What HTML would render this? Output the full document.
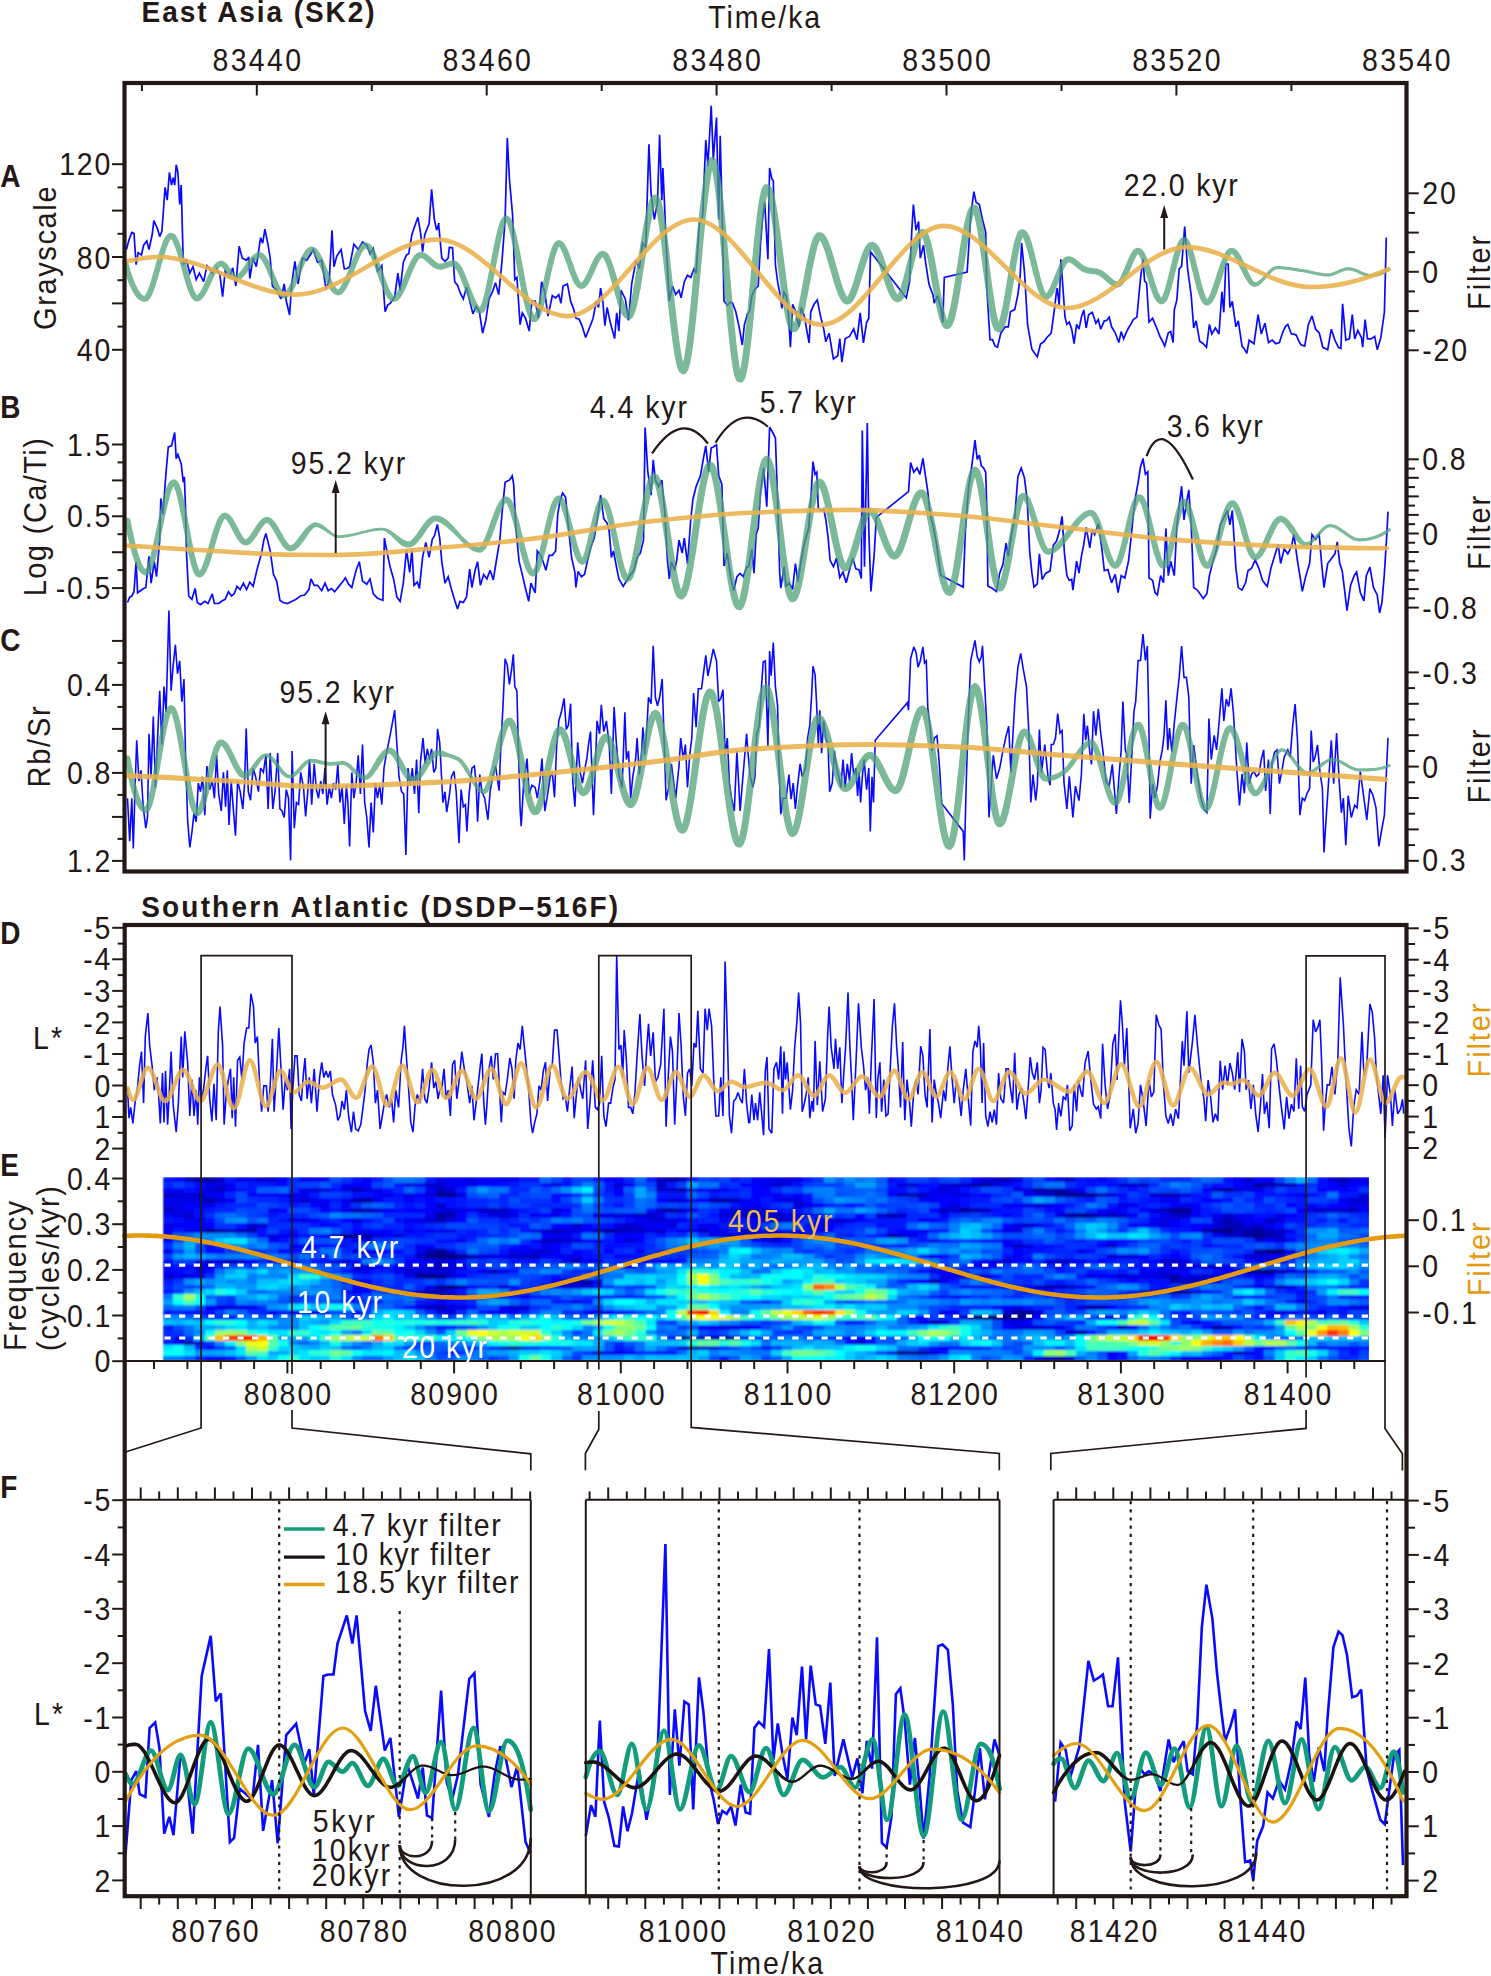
<!DOCTYPE html>
<html><head><meta charset="utf-8"><style>html,body{margin:0;padding:0;background:#fff;overflow:hidden;}svg{display:block;font-family:"Liberation Sans", sans-serif;}</style></head><body>
<svg width="1491" height="1976" viewBox="0 0 1491 1976" font-family='"Liberation Sans", sans-serif'>
<rect width="1491" height="1976" fill="#ffffff"/>
<defs><clipPath id="spc"><rect x="162.5" y="1177" width="1206.5" height="183.5"/></clipPath><filter id="spb" x="-2%" y="-5%" width="104%" height="110%"><feGaussianBlur stdDeviation="1.3 0.9"/></filter></defs>
<g clip-path="url(#spc)"><g filter="url(#spb)" shape-rendering="crispEdges">
<path fill="#00007f" d="M1064.8 1192.3h11v5.6h-11zM1075.2 1192.3h11v5.6h-11zM1211.6 1228h11v5.6h-11zM1222.1 1228h11v5.6h-11zM340.9 1233.1h11v5.6h-11zM351.3 1233.1h11v5.6h-11zM771 1233.1h11v5.6h-11zM1264.1 1248.4h11v5.6h-11zM1274.6 1248.4h11v5.6h-11zM435.3 1253.5h11v5.6h-11zM445.8 1253.5h11v5.6h-11zM445.8 1284h11v5.6h-11zM1169.7 1289.1h11v5.6h-11zM970.3 1314.6h11v5.6h-11zM980.8 1314.6h11v5.6h-11zM991.3 1314.6h11v5.6h-11zM1001.8 1314.6h11v5.6h-11zM1012.3 1314.6h11v5.6h-11zM676.6 1335h11v5.6h-11zM718.5 1335h11v5.6h-11zM896.9 1350.3h11v5.6h-11z"/>
<path fill="#00008c" d="M194 1177h11v5.6h-11zM1253.6 1182.1h11v5.6h-11zM435.3 1192.3h11v5.6h-11zM445.8 1192.3h11v5.6h-11zM1054.3 1192.3h11v5.6h-11zM1085.7 1192.3h11v5.6h-11zM1169.7 1207.6h11v5.6h-11zM1075.2 1212.7h11v5.6h-11zM204.5 1228h11v5.6h-11zM603.1 1228h11v5.6h-11zM1253.6 1233.1h11v5.6h-11zM435.3 1248.4h11v5.6h-11zM424.8 1253.5h11v5.6h-11zM1253.6 1268.8h11v5.6h-11zM1264.1 1268.8h11v5.6h-11zM424.8 1273.8h11v5.6h-11zM508.7 1345.2h11v5.6h-11z"/>
<path fill="#000099" d="M204.5 1177h11v5.6h-11zM1222.1 1187.2h11v5.6h-11zM361.8 1197.4h11v5.6h-11zM959.8 1207.6h11v5.6h-11zM1180.2 1207.6h11v5.6h-11zM1253.6 1228h11v5.6h-11zM456.3 1253.5h11v5.6h-11zM435.3 1273.8h11v5.6h-11zM435.3 1284h11v5.6h-11zM424.8 1289.1h11v5.6h-11zM1148.7 1289.1h11v5.6h-11zM1012.3 1309.5h11v5.6h-11zM1022.8 1309.5h11v5.6h-11zM729 1335h11v5.6h-11zM687.1 1345.2h11v5.6h-11zM907.4 1350.3h11v5.6h-11zM917.9 1350.3h11v5.6h-11z"/>
<path fill="#0000a5" d="M666.1 1177h11v5.6h-11zM970.3 1182.1h11v5.6h-11zM980.8 1182.1h11v5.6h-11zM1264.1 1182.1h11v5.6h-11zM351.3 1187.2h11v5.6h-11zM676.6 1187.2h11v5.6h-11zM1033.3 1187.2h11v5.6h-11zM1054.3 1187.2h11v5.6h-11zM907.4 1192.3h11v5.6h-11zM204.5 1197.4h11v5.6h-11zM351.3 1197.4h11v5.6h-11zM666.1 1207.6h11v5.6h-11zM435.3 1212.7h11v5.6h-11zM445.8 1212.7h11v5.6h-11zM1064.8 1212.7h11v5.6h-11zM1085.7 1212.7h11v5.6h-11zM215 1228h11v5.6h-11zM246.4 1228h11v5.6h-11zM1201.1 1228h11v5.6h-11zM1243.1 1228h11v5.6h-11zM361.8 1233.1h11v5.6h-11zM781.5 1233.1h11v5.6h-11zM886.4 1233.1h11v5.6h-11zM1243.1 1233.1h11v5.6h-11zM1264.1 1233.1h11v5.6h-11zM1253.6 1248.4h11v5.6h-11zM1243.1 1268.8h11v5.6h-11zM414.3 1273.8h11v5.6h-11zM1169.7 1273.8h11v5.6h-11zM571.7 1278.9h11v5.6h-11zM1043.8 1284h11v5.6h-11zM1159.2 1289.1h11v5.6h-11zM1180.2 1289.1h11v5.6h-11zM183.5 1340.1h11v5.6h-11zM1054.3 1355.4h11v5.6h-11z"/>
<path fill="#0000b2" d="M676.6 1177h11v5.6h-11zM1001.8 1177h11v5.6h-11zM1337.5 1177h11v5.6h-11zM1285.1 1182.1h11v5.6h-11zM215 1187.2h11v5.6h-11zM1043.8 1187.2h11v5.6h-11zM162.5 1192.3h11v5.6h-11zM1159.2 1192.3h11v5.6h-11zM1169.7 1192.3h11v5.6h-11zM708 1197.4h11v5.6h-11zM718.5 1197.4h11v5.6h-11zM351.3 1207.6h11v5.6h-11zM361.8 1207.6h11v5.6h-11zM970.3 1207.6h11v5.6h-11zM771 1212.7h11v5.6h-11zM886.4 1212.7h11v5.6h-11zM435.3 1217.8h11v5.6h-11zM1222.1 1217.8h11v5.6h-11zM1222.1 1222.9h11v5.6h-11zM613.6 1228h11v5.6h-11zM1232.6 1228h11v5.6h-11zM330.4 1233.1h11v5.6h-11zM540.2 1238.2h11v5.6h-11zM424.8 1248.4h11v5.6h-11zM351.3 1263.7h11v5.6h-11zM435.3 1263.7h11v5.6h-11zM582.2 1278.9h11v5.6h-11zM928.4 1278.9h11v5.6h-11zM456.3 1284h11v5.6h-11zM435.3 1289.1h11v5.6h-11zM435.3 1304.4h11v5.6h-11zM1085.7 1304.4h11v5.6h-11zM1096.2 1304.4h11v5.6h-11zM1022.8 1314.6h11v5.6h-11zM1211.6 1324.8h11v5.6h-11zM1075.2 1329.9h11v5.6h-11zM708 1335h11v5.6h-11zM1043.8 1355.4h11v5.6h-11z"/>
<path fill="#0000bf" d="M183.5 1177h11v5.6h-11zM655.6 1177h11v5.6h-11zM1064.8 1177h11v5.6h-11zM1274.6 1182.1h11v5.6h-11zM435.3 1187.2h11v5.6h-11zM666.1 1187.2h11v5.6h-11zM1211.6 1187.2h11v5.6h-11zM194 1192.3h11v5.6h-11zM896.9 1192.3h11v5.6h-11zM917.9 1192.3h11v5.6h-11zM1043.8 1192.3h11v5.6h-11zM1096.2 1192.3h11v5.6h-11zM729 1197.4h11v5.6h-11zM162.5 1207.6h11v5.6h-11zM487.7 1207.6h11v5.6h-11zM498.2 1207.6h11v5.6h-11zM655.6 1207.6h11v5.6h-11zM739.5 1207.6h11v5.6h-11zM938.9 1207.6h11v5.6h-11zM1159.2 1207.6h11v5.6h-11zM1348 1207.6h11v5.6h-11zM634.6 1212.7h11v5.6h-11zM750 1212.7h11v5.6h-11zM1106.7 1212.7h11v5.6h-11zM1180.2 1212.7h11v5.6h-11zM771 1217.8h11v5.6h-11zM1264.1 1217.8h11v5.6h-11zM1232.6 1222.9h11v5.6h-11zM1253.6 1222.9h11v5.6h-11zM225.4 1228h11v5.6h-11zM235.9 1228h11v5.6h-11zM550.7 1228h11v5.6h-11zM592.6 1228h11v5.6h-11zM624.1 1228h11v5.6h-11zM697.6 1228h11v5.6h-11zM739.5 1228h11v5.6h-11zM1264.1 1228h11v5.6h-11zM1274.6 1228h11v5.6h-11zM760.5 1233.1h11v5.6h-11zM896.9 1233.1h11v5.6h-11zM1222.1 1233.1h11v5.6h-11zM1012.3 1243.3h11v5.6h-11zM414.3 1253.5h11v5.6h-11zM466.7 1253.5h11v5.6h-11zM529.7 1253.5h11v5.6h-11zM225.4 1258.6h11v5.6h-11zM571.7 1258.6h11v5.6h-11zM1054.3 1258.6h11v5.6h-11zM1211.6 1263.7h11v5.6h-11zM487.7 1268.8h11v5.6h-11zM1274.6 1268.8h11v5.6h-11zM959.8 1273.8h11v5.6h-11zM1169.7 1278.9h11v5.6h-11zM1180.2 1278.9h11v5.6h-11zM1190.6 1278.9h11v5.6h-11zM1054.3 1284h11v5.6h-11zM1064.8 1284h11v5.6h-11zM1274.6 1284h11v5.6h-11zM1138.2 1289.1h11v5.6h-11zM959.8 1314.6h11v5.6h-11zM928.4 1319.7h11v5.6h-11zM1117.2 1324.8h11v5.6h-11zM687.1 1335h11v5.6h-11zM697.6 1335h11v5.6h-11zM697.6 1345.2h11v5.6h-11zM592.6 1350.3h11v5.6h-11zM1232.6 1350.3h11v5.6h-11z"/>
<path fill="#0000cc" d="M215 1177h11v5.6h-11zM256.9 1177h11v5.6h-11zM267.4 1177h11v5.6h-11zM991.3 1177h11v5.6h-11zM1243.1 1177h11v5.6h-11zM1327 1177h11v5.6h-11zM424.8 1182.1h11v5.6h-11zM435.3 1182.1h11v5.6h-11zM613.6 1182.1h11v5.6h-11zM655.6 1182.1h11v5.6h-11zM771 1182.1h11v5.6h-11zM907.4 1182.1h11v5.6h-11zM949.3 1182.1h11v5.6h-11zM959.8 1182.1h11v5.6h-11zM1117.2 1182.1h11v5.6h-11zM1127.7 1182.1h11v5.6h-11zM1138.2 1182.1h11v5.6h-11zM204.5 1187.2h11v5.6h-11zM309.4 1187.2h11v5.6h-11zM445.8 1187.2h11v5.6h-11zM655.6 1187.2h11v5.6h-11zM1064.8 1187.2h11v5.6h-11zM1232.6 1187.2h11v5.6h-11zM173 1192.3h11v5.6h-11zM1148.7 1192.3h11v5.6h-11zM298.9 1197.4h11v5.6h-11zM1348 1197.4h11v5.6h-11zM1358.5 1197.4h11v5.6h-11zM435.3 1202.5h11v5.6h-11zM1033.3 1202.5h11v5.6h-11zM372.3 1207.6h11v5.6h-11zM477.2 1207.6h11v5.6h-11zM676.6 1207.6h11v5.6h-11zM750 1207.6h11v5.6h-11zM760.5 1207.6h11v5.6h-11zM980.8 1207.6h11v5.6h-11zM1306.1 1207.6h11v5.6h-11zM1316.5 1207.6h11v5.6h-11zM1327 1207.6h11v5.6h-11zM1337.5 1207.6h11v5.6h-11zM183.5 1212.7h11v5.6h-11zM645.1 1212.7h11v5.6h-11zM739.5 1212.7h11v5.6h-11zM760.5 1212.7h11v5.6h-11zM875.9 1212.7h11v5.6h-11zM896.9 1212.7h11v5.6h-11zM1096.2 1212.7h11v5.6h-11zM1117.2 1212.7h11v5.6h-11zM1169.7 1212.7h11v5.6h-11zM1222.1 1212.7h11v5.6h-11zM424.8 1217.8h11v5.6h-11zM833.9 1217.8h11v5.6h-11zM1232.6 1217.8h11v5.6h-11zM246.4 1222.9h11v5.6h-11zM571.7 1222.9h11v5.6h-11zM624.1 1222.9h11v5.6h-11zM1022.8 1222.9h11v5.6h-11zM540.2 1228h11v5.6h-11zM561.2 1228h11v5.6h-11zM634.6 1228h11v5.6h-11zM655.6 1228h11v5.6h-11zM718.5 1233.1h11v5.6h-11zM750 1233.1h11v5.6h-11zM1232.6 1233.1h11v5.6h-11zM1274.6 1233.1h11v5.6h-11zM550.7 1238.2h11v5.6h-11zM561.2 1238.2h11v5.6h-11zM624.1 1238.2h11v5.6h-11zM1106.7 1243.3h11v5.6h-11zM508.7 1253.5h11v5.6h-11zM519.2 1253.5h11v5.6h-11zM204.5 1258.6h11v5.6h-11zM435.3 1258.6h11v5.6h-11zM1001.8 1258.6h11v5.6h-11zM1159.2 1258.6h11v5.6h-11zM1169.7 1258.6h11v5.6h-11zM1264.1 1258.6h11v5.6h-11zM1274.6 1258.6h11v5.6h-11zM1169.7 1263.7h11v5.6h-11zM403.8 1268.8h11v5.6h-11zM414.3 1268.8h11v5.6h-11zM1232.6 1268.8h11v5.6h-11zM162.5 1273.8h11v5.6h-11zM1117.2 1273.8h11v5.6h-11zM1159.2 1273.8h11v5.6h-11zM1201.1 1273.8h11v5.6h-11zM1211.6 1273.8h11v5.6h-11zM498.2 1284h11v5.6h-11zM1033.3 1284h11v5.6h-11zM414.3 1289.1h11v5.6h-11zM424.8 1304.4h11v5.6h-11zM508.7 1304.4h11v5.6h-11zM1001.8 1309.5h11v5.6h-11zM1222.1 1324.8h11v5.6h-11zM1064.8 1329.9h11v5.6h-11zM854.9 1340.1h11v5.6h-11zM498.2 1345.2h11v5.6h-11zM1064.8 1355.4h11v5.6h-11z"/>
<path fill="#0000d8" d="M781.5 1177h11v5.6h-11zM980.8 1177h11v5.6h-11zM1012.3 1177h11v5.6h-11zM1054.3 1177h11v5.6h-11zM1348 1177h11v5.6h-11zM215 1182.1h11v5.6h-11zM403.8 1182.1h11v5.6h-11zM550.7 1182.1h11v5.6h-11zM896.9 1182.1h11v5.6h-11zM938.9 1182.1h11v5.6h-11zM991.3 1182.1h11v5.6h-11zM1337.5 1182.1h11v5.6h-11zM319.9 1187.2h11v5.6h-11zM340.9 1187.2h11v5.6h-11zM361.8 1187.2h11v5.6h-11zM938.9 1187.2h11v5.6h-11zM1012.3 1187.2h11v5.6h-11zM1022.8 1187.2h11v5.6h-11zM424.8 1192.3h11v5.6h-11zM456.3 1192.3h11v5.6h-11zM1033.3 1192.3h11v5.6h-11zM1106.7 1192.3h11v5.6h-11zM1180.2 1192.3h11v5.6h-11zM1358.5 1192.3h11v5.6h-11zM194 1197.4h11v5.6h-11zM215 1197.4h11v5.6h-11zM666.1 1197.4h11v5.6h-11zM676.6 1197.4h11v5.6h-11zM781.5 1197.4h11v5.6h-11zM792 1197.4h11v5.6h-11zM792 1202.5h11v5.6h-11zM949.3 1202.5h11v5.6h-11zM445.8 1207.6h11v5.6h-11zM729 1207.6h11v5.6h-11zM949.3 1207.6h11v5.6h-11zM1148.7 1207.6h11v5.6h-11zM498.2 1212.7h11v5.6h-11zM613.6 1212.7h11v5.6h-11zM718.5 1212.7h11v5.6h-11zM729 1212.7h11v5.6h-11zM1054.3 1212.7h11v5.6h-11zM351.3 1217.8h11v5.6h-11zM645.1 1217.8h11v5.6h-11zM655.6 1217.8h11v5.6h-11zM781.5 1217.8h11v5.6h-11zM1159.2 1217.8h11v5.6h-11zM1211.6 1217.8h11v5.6h-11zM1274.6 1217.8h11v5.6h-11zM256.9 1222.9h11v5.6h-11zM613.6 1222.9h11v5.6h-11zM634.6 1222.9h11v5.6h-11zM666.1 1222.9h11v5.6h-11zM1211.6 1222.9h11v5.6h-11zM1243.1 1222.9h11v5.6h-11zM194 1228h11v5.6h-11zM645.1 1228h11v5.6h-11zM267.4 1233.1h11v5.6h-11zM372.3 1233.1h11v5.6h-11zM393.3 1233.1h11v5.6h-11zM729 1233.1h11v5.6h-11zM361.8 1238.2h11v5.6h-11zM571.7 1238.2h11v5.6h-11zM771 1238.2h11v5.6h-11zM1253.6 1238.2h11v5.6h-11zM1274.6 1238.2h11v5.6h-11zM1022.8 1243.3h11v5.6h-11zM351.3 1248.4h11v5.6h-11zM445.8 1248.4h11v5.6h-11zM529.7 1248.4h11v5.6h-11zM540.2 1248.4h11v5.6h-11zM477.2 1253.5h11v5.6h-11zM1106.7 1253.5h11v5.6h-11zM1127.7 1253.5h11v5.6h-11zM1243.1 1253.5h11v5.6h-11zM1253.6 1253.5h11v5.6h-11zM235.9 1258.6h11v5.6h-11zM340.9 1258.6h11v5.6h-11zM561.2 1258.6h11v5.6h-11zM991.3 1258.6h11v5.6h-11zM1043.8 1258.6h11v5.6h-11zM1064.8 1258.6h11v5.6h-11zM361.8 1263.7h11v5.6h-11zM424.8 1263.7h11v5.6h-11zM445.8 1263.7h11v5.6h-11zM1180.2 1263.7h11v5.6h-11zM1201.1 1263.7h11v5.6h-11zM424.8 1268.8h11v5.6h-11zM435.3 1268.8h11v5.6h-11zM445.8 1268.8h11v5.6h-11zM1285.1 1268.8h11v5.6h-11zM445.8 1273.8h11v5.6h-11zM970.3 1273.8h11v5.6h-11zM980.8 1273.8h11v5.6h-11zM1127.7 1273.8h11v5.6h-11zM1190.6 1273.8h11v5.6h-11zM351.3 1278.9h11v5.6h-11zM561.2 1278.9h11v5.6h-11zM1201.1 1278.9h11v5.6h-11zM561.2 1284h11v5.6h-11zM571.7 1284h11v5.6h-11zM582.2 1284h11v5.6h-11zM1264.1 1284h11v5.6h-11zM1285.1 1284h11v5.6h-11zM1190.6 1289.1h11v5.6h-11zM445.8 1294.2h11v5.6h-11zM225.4 1304.4h11v5.6h-11zM519.2 1304.4h11v5.6h-11zM1075.2 1304.4h11v5.6h-11zM1348 1304.4h11v5.6h-11zM445.8 1309.5h11v5.6h-11zM1033.3 1309.5h11v5.6h-11zM938.9 1319.7h11v5.6h-11zM718.5 1324.8h11v5.6h-11zM1022.8 1324.8h11v5.6h-11zM1033.3 1324.8h11v5.6h-11zM676.6 1345.2h11v5.6h-11zM708 1345.2h11v5.6h-11zM886.4 1350.3h11v5.6h-11zM928.4 1350.3h11v5.6h-11zM1033.3 1355.4h11v5.6h-11z"/>
<path fill="#0000e5" d="M235.9 1177h11v5.6h-11zM246.4 1177h11v5.6h-11zM319.9 1177h11v5.6h-11zM435.3 1177h11v5.6h-11zM466.7 1177h11v5.6h-11zM498.2 1177h11v5.6h-11zM508.7 1177h11v5.6h-11zM771 1177h11v5.6h-11zM792 1177h11v5.6h-11zM204.5 1182.1h11v5.6h-11zM414.3 1182.1h11v5.6h-11zM466.7 1182.1h11v5.6h-11zM760.5 1182.1h11v5.6h-11zM781.5 1182.1h11v5.6h-11zM1243.1 1182.1h11v5.6h-11zM298.9 1187.2h11v5.6h-11zM372.3 1187.2h11v5.6h-11zM708 1187.2h11v5.6h-11zM949.3 1187.2h11v5.6h-11zM1243.1 1187.2h11v5.6h-11zM1253.6 1187.2h11v5.6h-11zM183.5 1192.3h11v5.6h-11zM288.4 1192.3h11v5.6h-11zM382.8 1192.3h11v5.6h-11zM403.8 1192.3h11v5.6h-11zM928.4 1192.3h11v5.6h-11zM949.3 1192.3h11v5.6h-11zM959.8 1192.3h11v5.6h-11zM173 1197.4h11v5.6h-11zM183.5 1197.4h11v5.6h-11zM340.9 1197.4h11v5.6h-11zM372.3 1197.4h11v5.6h-11zM162.5 1202.5h11v5.6h-11zM173 1202.5h11v5.6h-11zM319.9 1202.5h11v5.6h-11zM802.5 1202.5h11v5.6h-11zM1022.8 1202.5h11v5.6h-11zM1043.8 1202.5h11v5.6h-11zM1117.2 1202.5h11v5.6h-11zM1180.2 1202.5h11v5.6h-11zM1348 1202.5h11v5.6h-11zM173 1207.6h11v5.6h-11zM267.4 1207.6h11v5.6h-11zM435.3 1207.6h11v5.6h-11zM456.3 1207.6h11v5.6h-11zM550.7 1207.6h11v5.6h-11zM173 1212.7h11v5.6h-11zM487.7 1212.7h11v5.6h-11zM508.7 1212.7h11v5.6h-11zM592.6 1212.7h11v5.6h-11zM603.1 1212.7h11v5.6h-11zM624.1 1212.7h11v5.6h-11zM655.6 1212.7h11v5.6h-11zM781.5 1212.7h11v5.6h-11zM1274.6 1212.7h11v5.6h-11zM298.9 1217.8h11v5.6h-11zM414.3 1217.8h11v5.6h-11zM445.8 1217.8h11v5.6h-11zM666.1 1217.8h11v5.6h-11zM760.5 1217.8h11v5.6h-11zM823.5 1217.8h11v5.6h-11zM844.4 1217.8h11v5.6h-11zM162.5 1222.9h11v5.6h-11zM1012.3 1222.9h11v5.6h-11zM1159.2 1222.9h11v5.6h-11zM183.5 1228h11v5.6h-11zM435.3 1228h11v5.6h-11zM445.8 1228h11v5.6h-11zM529.7 1228h11v5.6h-11zM571.7 1228h11v5.6h-11zM750 1228h11v5.6h-11zM917.9 1228h11v5.6h-11zM1001.8 1228h11v5.6h-11zM1012.3 1228h11v5.6h-11zM1285.1 1228h11v5.6h-11zM550.7 1233.1h11v5.6h-11zM708 1233.1h11v5.6h-11zM739.5 1233.1h11v5.6h-11zM792 1233.1h11v5.6h-11zM907.4 1233.1h11v5.6h-11zM760.5 1238.2h11v5.6h-11zM928.4 1238.2h11v5.6h-11zM298.9 1243.3h11v5.6h-11zM361.8 1248.4h11v5.6h-11zM372.3 1248.4h11v5.6h-11zM1285.1 1248.4h11v5.6h-11zM487.7 1253.5h11v5.6h-11zM498.2 1253.5h11v5.6h-11zM571.7 1253.5h11v5.6h-11zM1117.2 1253.5h11v5.6h-11zM215 1258.6h11v5.6h-11zM330.4 1258.6h11v5.6h-11zM445.8 1258.6h11v5.6h-11zM1180.2 1258.6h11v5.6h-11zM1253.6 1258.6h11v5.6h-11zM204.5 1263.7h11v5.6h-11zM1159.2 1263.7h11v5.6h-11zM1190.6 1263.7h11v5.6h-11zM194 1268.8h11v5.6h-11zM498.2 1268.8h11v5.6h-11zM928.4 1268.8h11v5.6h-11zM1159.2 1268.8h11v5.6h-11zM173 1273.8h11v5.6h-11zM183.5 1273.8h11v5.6h-11zM1085.7 1273.8h11v5.6h-11zM1138.2 1273.8h11v5.6h-11zM1148.7 1273.8h11v5.6h-11zM1180.2 1273.8h11v5.6h-11zM938.9 1278.9h11v5.6h-11zM351.3 1289.1h11v5.6h-11zM445.8 1289.1h11v5.6h-11zM435.3 1294.2h11v5.6h-11zM571.7 1299.3h11v5.6h-11zM215 1304.4h11v5.6h-11zM235.9 1304.4h11v5.6h-11zM414.3 1304.4h11v5.6h-11zM445.8 1304.4h11v5.6h-11zM456.3 1304.4h11v5.6h-11zM1012.3 1304.4h11v5.6h-11zM1358.5 1304.4h11v5.6h-11zM435.3 1309.5h11v5.6h-11zM1274.6 1309.5h11v5.6h-11zM1106.7 1314.6h11v5.6h-11zM1012.3 1319.7h11v5.6h-11zM729 1324.8h11v5.6h-11zM739.5 1324.8h11v5.6h-11zM1012.3 1324.8h11v5.6h-11zM1043.8 1324.8h11v5.6h-11zM1054.3 1324.8h11v5.6h-11zM739.5 1335h11v5.6h-11zM194 1340.1h11v5.6h-11zM519.2 1345.2h11v5.6h-11zM613.6 1350.3h11v5.6h-11zM1243.1 1350.3h11v5.6h-11zM215 1355.4h11v5.6h-11zM1190.6 1355.4h11v5.6h-11z"/>
<path fill="#0000f2" d="M298.9 1177h11v5.6h-11zM309.4 1177h11v5.6h-11zM361.8 1177h11v5.6h-11zM445.8 1177h11v5.6h-11zM456.3 1177h11v5.6h-11zM477.2 1177h11v5.6h-11zM760.5 1177h11v5.6h-11zM1232.6 1177h11v5.6h-11zM1264.1 1177h11v5.6h-11zM1358.5 1177h11v5.6h-11zM225.4 1182.1h11v5.6h-11zM340.9 1182.1h11v5.6h-11zM445.8 1182.1h11v5.6h-11zM456.3 1182.1h11v5.6h-11zM1001.8 1182.1h11v5.6h-11zM173 1187.2h11v5.6h-11zM225.4 1187.2h11v5.6h-11zM424.8 1187.2h11v5.6h-11zM613.6 1187.2h11v5.6h-11zM687.1 1187.2h11v5.6h-11zM697.6 1187.2h11v5.6h-11zM718.5 1187.2h11v5.6h-11zM928.4 1187.2h11v5.6h-11zM1075.2 1187.2h11v5.6h-11zM1201.1 1187.2h11v5.6h-11zM204.5 1192.3h11v5.6h-11zM246.4 1192.3h11v5.6h-11zM267.4 1192.3h11v5.6h-11zM277.9 1192.3h11v5.6h-11zM298.9 1192.3h11v5.6h-11zM771 1192.3h11v5.6h-11zM938.9 1192.3h11v5.6h-11zM980.8 1192.3h11v5.6h-11zM1022.8 1192.3h11v5.6h-11zM1295.6 1192.3h11v5.6h-11zM162.5 1197.4h11v5.6h-11zM225.4 1197.4h11v5.6h-11zM288.4 1197.4h11v5.6h-11zM309.4 1197.4h11v5.6h-11zM403.8 1197.4h11v5.6h-11zM739.5 1197.4h11v5.6h-11zM771 1197.4h11v5.6h-11zM917.9 1197.4h11v5.6h-11zM928.4 1197.4h11v5.6h-11zM1159.2 1197.4h11v5.6h-11zM1169.7 1197.4h11v5.6h-11zM1337.5 1197.4h11v5.6h-11zM204.5 1202.5h11v5.6h-11zM340.9 1202.5h11v5.6h-11zM750 1202.5h11v5.6h-11zM1001.8 1202.5h11v5.6h-11zM1127.7 1202.5h11v5.6h-11zM1169.7 1202.5h11v5.6h-11zM1190.6 1202.5h11v5.6h-11zM1358.5 1202.5h11v5.6h-11zM183.5 1207.6h11v5.6h-11zM340.9 1207.6h11v5.6h-11zM414.3 1207.6h11v5.6h-11zM424.8 1207.6h11v5.6h-11zM466.7 1207.6h11v5.6h-11zM718.5 1207.6h11v5.6h-11zM1106.7 1207.6h11v5.6h-11zM1190.6 1207.6h11v5.6h-11zM1358.5 1207.6h11v5.6h-11zM424.8 1212.7h11v5.6h-11zM529.7 1212.7h11v5.6h-11zM550.7 1212.7h11v5.6h-11zM792 1212.7h11v5.6h-11zM938.9 1212.7h11v5.6h-11zM1159.2 1212.7h11v5.6h-11zM1190.6 1212.7h11v5.6h-11zM1211.6 1212.7h11v5.6h-11zM1232.6 1212.7h11v5.6h-11zM1243.1 1212.7h11v5.6h-11zM1285.1 1212.7h11v5.6h-11zM183.5 1217.8h11v5.6h-11zM194 1217.8h11v5.6h-11zM288.4 1217.8h11v5.6h-11zM403.8 1217.8h11v5.6h-11zM676.6 1217.8h11v5.6h-11zM792 1217.8h11v5.6h-11zM1148.7 1217.8h11v5.6h-11zM1169.7 1217.8h11v5.6h-11zM1243.1 1217.8h11v5.6h-11zM173 1222.9h11v5.6h-11zM645.1 1222.9h11v5.6h-11zM697.6 1222.9h11v5.6h-11zM708 1222.9h11v5.6h-11zM813 1222.9h11v5.6h-11zM823.5 1222.9h11v5.6h-11zM1033.3 1222.9h11v5.6h-11zM1148.7 1222.9h11v5.6h-11zM1201.1 1222.9h11v5.6h-11zM1264.1 1222.9h11v5.6h-11zM162.5 1228h11v5.6h-11zM361.8 1228h11v5.6h-11zM403.8 1228h11v5.6h-11zM424.8 1228h11v5.6h-11zM582.2 1228h11v5.6h-11zM676.6 1228h11v5.6h-11zM687.1 1228h11v5.6h-11zM708 1228h11v5.6h-11zM718.5 1228h11v5.6h-11zM792 1228h11v5.6h-11zM813 1228h11v5.6h-11zM277.9 1233.1h11v5.6h-11zM288.4 1233.1h11v5.6h-11zM319.9 1233.1h11v5.6h-11zM561.2 1233.1h11v5.6h-11zM1211.6 1233.1h11v5.6h-11zM267.4 1238.2h11v5.6h-11zM351.3 1238.2h11v5.6h-11zM456.3 1238.2h11v5.6h-11zM529.7 1238.2h11v5.6h-11zM582.2 1238.2h11v5.6h-11zM1001.8 1238.2h11v5.6h-11zM1264.1 1238.2h11v5.6h-11zM1285.1 1238.2h11v5.6h-11zM309.4 1243.3h11v5.6h-11zM414.3 1243.3h11v5.6h-11zM540.2 1243.3h11v5.6h-11zM1001.8 1243.3h11v5.6h-11zM1096.2 1243.3h11v5.6h-11zM162.5 1248.4h11v5.6h-11zM414.3 1248.4h11v5.6h-11zM508.7 1248.4h11v5.6h-11zM519.2 1248.4h11v5.6h-11zM550.7 1248.4h11v5.6h-11zM1075.2 1248.4h11v5.6h-11zM540.2 1253.5h11v5.6h-11zM561.2 1253.5h11v5.6h-11zM928.4 1253.5h11v5.6h-11zM1012.3 1253.5h11v5.6h-11zM1264.1 1253.5h11v5.6h-11zM424.8 1258.6h11v5.6h-11zM655.6 1258.6h11v5.6h-11zM1075.2 1258.6h11v5.6h-11zM162.5 1263.7h11v5.6h-11zM194 1263.7h11v5.6h-11zM372.3 1263.7h11v5.6h-11zM393.3 1263.7h11v5.6h-11zM456.3 1263.7h11v5.6h-11zM624.1 1263.7h11v5.6h-11zM970.3 1263.7h11v5.6h-11zM980.8 1263.7h11v5.6h-11zM1222.1 1263.7h11v5.6h-11zM351.3 1268.8h11v5.6h-11zM361.8 1268.8h11v5.6h-11zM393.3 1268.8h11v5.6h-11zM477.2 1268.8h11v5.6h-11zM949.3 1268.8h11v5.6h-11zM1138.2 1268.8h11v5.6h-11zM1148.7 1268.8h11v5.6h-11zM1169.7 1268.8h11v5.6h-11zM1222.1 1268.8h11v5.6h-11zM194 1273.8h11v5.6h-11zM403.8 1273.8h11v5.6h-11zM938.9 1273.8h11v5.6h-11zM949.3 1273.8h11v5.6h-11zM1106.7 1273.8h11v5.6h-11zM1211.6 1278.9h11v5.6h-11zM424.8 1284h11v5.6h-11zM959.8 1284h11v5.6h-11zM1001.8 1284h11v5.6h-11zM1075.2 1284h11v5.6h-11zM1253.6 1284h11v5.6h-11zM1201.1 1289.1h11v5.6h-11zM456.3 1294.2h11v5.6h-11zM519.2 1294.2h11v5.6h-11zM1064.8 1294.2h11v5.6h-11zM1295.6 1299.3h11v5.6h-11zM204.5 1304.4h11v5.6h-11zM246.4 1304.4h11v5.6h-11zM498.2 1304.4h11v5.6h-11zM1001.8 1304.4h11v5.6h-11zM298.9 1309.5h11v5.6h-11zM508.7 1309.5h11v5.6h-11zM592.6 1309.5h11v5.6h-11zM938.9 1309.5h11v5.6h-11zM1285.1 1309.5h11v5.6h-11zM1316.5 1309.5h11v5.6h-11zM917.9 1319.7h11v5.6h-11zM1001.8 1319.7h11v5.6h-11zM1190.6 1319.7h11v5.6h-11zM697.6 1324.8h11v5.6h-11zM708 1324.8h11v5.6h-11zM750 1324.8h11v5.6h-11zM204.5 1345.2h11v5.6h-11zM938.9 1345.2h11v5.6h-11zM1316.5 1345.2h11v5.6h-11zM603.1 1350.3h11v5.6h-11zM1106.7 1350.3h11v5.6h-11zM204.5 1355.4h11v5.6h-11zM1180.2 1355.4h11v5.6h-11zM1211.6 1355.4h11v5.6h-11z"/>
<path fill="#0000ff" d="M173 1177h11v5.6h-11zM277.9 1177h11v5.6h-11zM487.7 1177h11v5.6h-11zM603.1 1177h11v5.6h-11zM613.6 1177h11v5.6h-11zM750 1177h11v5.6h-11zM970.3 1177h11v5.6h-11zM1096.2 1177h11v5.6h-11zM1253.6 1177h11v5.6h-11zM277.9 1182.1h11v5.6h-11zM351.3 1182.1h11v5.6h-11zM361.8 1182.1h11v5.6h-11zM477.2 1182.1h11v5.6h-11zM487.7 1182.1h11v5.6h-11zM540.2 1182.1h11v5.6h-11zM624.1 1182.1h11v5.6h-11zM739.5 1182.1h11v5.6h-11zM750 1182.1h11v5.6h-11zM1106.7 1182.1h11v5.6h-11zM1232.6 1182.1h11v5.6h-11zM1327 1182.1h11v5.6h-11zM1348 1182.1h11v5.6h-11zM1358.5 1182.1h11v5.6h-11zM162.5 1187.2h11v5.6h-11zM194 1187.2h11v5.6h-11zM750 1187.2h11v5.6h-11zM760.5 1187.2h11v5.6h-11zM1316.5 1187.2h11v5.6h-11zM1327 1187.2h11v5.6h-11zM1337.5 1187.2h11v5.6h-11zM215 1192.3h11v5.6h-11zM256.9 1192.3h11v5.6h-11zM372.3 1192.3h11v5.6h-11zM414.3 1192.3h11v5.6h-11zM561.2 1192.3h11v5.6h-11zM613.6 1192.3h11v5.6h-11zM750 1192.3h11v5.6h-11zM760.5 1192.3h11v5.6h-11zM792 1192.3h11v5.6h-11zM886.4 1192.3h11v5.6h-11zM1285.1 1192.3h11v5.6h-11zM1306.1 1192.3h11v5.6h-11zM319.9 1197.4h11v5.6h-11zM424.8 1197.4h11v5.6h-11zM655.6 1197.4h11v5.6h-11zM697.6 1197.4h11v5.6h-11zM750 1197.4h11v5.6h-11zM938.9 1197.4h11v5.6h-11zM949.3 1197.4h11v5.6h-11zM1201.1 1197.4h11v5.6h-11zM1211.6 1197.4h11v5.6h-11zM183.5 1202.5h11v5.6h-11zM194 1202.5h11v5.6h-11zM309.4 1202.5h11v5.6h-11zM424.8 1202.5h11v5.6h-11zM739.5 1202.5h11v5.6h-11zM813 1202.5h11v5.6h-11zM938.9 1202.5h11v5.6h-11zM1012.3 1202.5h11v5.6h-11zM1054.3 1202.5h11v5.6h-11zM1285.1 1202.5h11v5.6h-11zM1306.1 1202.5h11v5.6h-11zM1327 1202.5h11v5.6h-11zM1337.5 1202.5h11v5.6h-11zM277.9 1207.6h11v5.6h-11zM319.9 1207.6h11v5.6h-11zM382.8 1207.6h11v5.6h-11zM403.8 1207.6h11v5.6h-11zM508.7 1207.6h11v5.6h-11zM561.2 1207.6h11v5.6h-11zM687.1 1207.6h11v5.6h-11zM771 1207.6h11v5.6h-11zM928.4 1207.6h11v5.6h-11zM1054.3 1207.6h11v5.6h-11zM1096.2 1207.6h11v5.6h-11zM1117.2 1207.6h11v5.6h-11zM1138.2 1207.6h11v5.6h-11zM1295.6 1207.6h11v5.6h-11zM162.5 1212.7h11v5.6h-11zM456.3 1212.7h11v5.6h-11zM540.2 1212.7h11v5.6h-11zM854.9 1212.7h11v5.6h-11zM1001.8 1212.7h11v5.6h-11zM1127.7 1212.7h11v5.6h-11zM309.4 1217.8h11v5.6h-11zM340.9 1217.8h11v5.6h-11zM456.3 1217.8h11v5.6h-11zM634.6 1217.8h11v5.6h-11zM718.5 1217.8h11v5.6h-11zM750 1217.8h11v5.6h-11zM813 1217.8h11v5.6h-11zM854.9 1217.8h11v5.6h-11zM917.9 1217.8h11v5.6h-11zM928.4 1217.8h11v5.6h-11zM1253.6 1217.8h11v5.6h-11zM183.5 1222.9h11v5.6h-11zM194 1222.9h11v5.6h-11zM204.5 1222.9h11v5.6h-11zM319.9 1222.9h11v5.6h-11zM550.7 1222.9h11v5.6h-11zM561.2 1222.9h11v5.6h-11zM582.2 1222.9h11v5.6h-11zM655.6 1222.9h11v5.6h-11zM750 1222.9h11v5.6h-11zM1001.8 1222.9h11v5.6h-11zM1127.7 1222.9h11v5.6h-11zM1169.7 1222.9h11v5.6h-11zM1190.6 1222.9h11v5.6h-11zM351.3 1228h11v5.6h-11zM372.3 1228h11v5.6h-11zM382.8 1228h11v5.6h-11zM760.5 1228h11v5.6h-11zM771 1228h11v5.6h-11zM823.5 1228h11v5.6h-11zM896.9 1228h11v5.6h-11zM907.4 1228h11v5.6h-11zM1190.6 1228h11v5.6h-11zM162.5 1233.1h11v5.6h-11zM382.8 1233.1h11v5.6h-11zM540.2 1233.1h11v5.6h-11zM613.6 1233.1h11v5.6h-11zM624.1 1233.1h11v5.6h-11zM634.6 1233.1h11v5.6h-11zM802.5 1233.1h11v5.6h-11zM875.9 1233.1h11v5.6h-11zM162.5 1238.2h11v5.6h-11zM445.8 1238.2h11v5.6h-11zM592.6 1238.2h11v5.6h-11zM613.6 1238.2h11v5.6h-11zM634.6 1238.2h11v5.6h-11zM938.9 1238.2h11v5.6h-11zM980.8 1238.2h11v5.6h-11zM1106.7 1238.2h11v5.6h-11zM288.4 1243.3h11v5.6h-11zM424.8 1243.3h11v5.6h-11zM519.2 1243.3h11v5.6h-11zM550.7 1243.3h11v5.6h-11zM896.9 1243.3h11v5.6h-11zM277.9 1248.4h11v5.6h-11zM382.8 1248.4h11v5.6h-11zM571.7 1248.4h11v5.6h-11zM603.1 1248.4h11v5.6h-11zM634.6 1248.4h11v5.6h-11zM1012.3 1248.4h11v5.6h-11zM550.7 1253.5h11v5.6h-11zM613.6 1253.5h11v5.6h-11zM624.1 1253.5h11v5.6h-11zM1138.2 1253.5h11v5.6h-11zM1169.7 1253.5h11v5.6h-11zM1274.6 1253.5h11v5.6h-11zM246.4 1258.6h11v5.6h-11zM403.8 1258.6h11v5.6h-11zM414.3 1258.6h11v5.6h-11zM582.2 1258.6h11v5.6h-11zM592.6 1258.6h11v5.6h-11zM645.1 1258.6h11v5.6h-11zM666.1 1258.6h11v5.6h-11zM980.8 1258.6h11v5.6h-11zM1012.3 1258.6h11v5.6h-11zM1022.8 1258.6h11v5.6h-11zM1096.2 1258.6h11v5.6h-11zM403.8 1263.7h11v5.6h-11zM414.3 1263.7h11v5.6h-11zM991.3 1263.7h11v5.6h-11zM162.5 1268.8h11v5.6h-11zM173 1268.8h11v5.6h-11zM938.9 1268.8h11v5.6h-11zM1180.2 1268.8h11v5.6h-11zM456.3 1273.8h11v5.6h-11zM1096.2 1273.8h11v5.6h-11zM1222.1 1273.8h11v5.6h-11zM1253.6 1273.8h11v5.6h-11zM1264.1 1273.8h11v5.6h-11zM361.8 1278.9h11v5.6h-11zM550.7 1278.9h11v5.6h-11zM917.9 1278.9h11v5.6h-11zM1127.7 1278.9h11v5.6h-11zM351.3 1284h11v5.6h-11zM361.8 1284h11v5.6h-11zM466.7 1284h11v5.6h-11zM540.2 1284h11v5.6h-11zM550.7 1284h11v5.6h-11zM970.3 1284h11v5.6h-11zM980.8 1284h11v5.6h-11zM1012.3 1284h11v5.6h-11zM1085.7 1284h11v5.6h-11zM361.8 1289.1h11v5.6h-11zM403.8 1289.1h11v5.6h-11zM1127.7 1289.1h11v5.6h-11zM498.2 1294.2h11v5.6h-11zM949.3 1294.2h11v5.6h-11zM959.8 1294.2h11v5.6h-11zM1243.1 1294.2h11v5.6h-11zM1348 1294.2h11v5.6h-11zM340.9 1299.3h11v5.6h-11zM435.3 1299.3h11v5.6h-11zM1106.7 1304.4h11v5.6h-11zM267.4 1309.5h11v5.6h-11zM288.4 1309.5h11v5.6h-11zM309.4 1309.5h11v5.6h-11zM487.7 1309.5h11v5.6h-11zM498.2 1309.5h11v5.6h-11zM582.2 1309.5h11v5.6h-11zM603.1 1309.5h11v5.6h-11zM949.3 1309.5h11v5.6h-11zM917.9 1314.6h11v5.6h-11zM1033.3 1314.6h11v5.6h-11zM1022.8 1319.7h11v5.6h-11zM1001.8 1324.8h11v5.6h-11zM173 1335h11v5.6h-11zM666.1 1335h11v5.6h-11zM854.9 1335h11v5.6h-11zM173 1340.1h11v5.6h-11zM529.7 1345.2h11v5.6h-11zM949.3 1345.2h11v5.6h-11zM959.8 1345.2h11v5.6h-11zM1306.1 1345.2h11v5.6h-11zM1327 1345.2h11v5.6h-11zM1337.5 1345.2h11v5.6h-11zM624.1 1350.3h11v5.6h-11zM1106.7 1355.4h11v5.6h-11zM1201.1 1355.4h11v5.6h-11z"/>
<path fill="#000cff" d="M351.3 1177h11v5.6h-11zM529.7 1177h11v5.6h-11zM886.4 1177h11v5.6h-11zM1043.8 1177h11v5.6h-11zM1085.7 1177h11v5.6h-11zM1222.1 1177h11v5.6h-11zM1316.5 1177h11v5.6h-11zM194 1182.1h11v5.6h-11zM267.4 1182.1h11v5.6h-11zM498.2 1182.1h11v5.6h-11zM561.2 1182.1h11v5.6h-11zM792 1182.1h11v5.6h-11zM917.9 1182.1h11v5.6h-11zM928.4 1182.1h11v5.6h-11zM1012.3 1182.1h11v5.6h-11zM1085.7 1182.1h11v5.6h-11zM1211.6 1182.1h11v5.6h-11zM1295.6 1182.1h11v5.6h-11zM1316.5 1182.1h11v5.6h-11zM183.5 1187.2h11v5.6h-11zM235.9 1187.2h11v5.6h-11zM330.4 1187.2h11v5.6h-11zM382.8 1187.2h11v5.6h-11zM886.4 1187.2h11v5.6h-11zM896.9 1187.2h11v5.6h-11zM959.8 1187.2h11v5.6h-11zM1127.7 1187.2h11v5.6h-11zM1348 1187.2h11v5.6h-11zM351.3 1192.3h11v5.6h-11zM361.8 1192.3h11v5.6h-11zM393.3 1192.3h11v5.6h-11zM550.7 1192.3h11v5.6h-11zM781.5 1192.3h11v5.6h-11zM970.3 1192.3h11v5.6h-11zM1117.2 1192.3h11v5.6h-11zM1253.6 1192.3h11v5.6h-11zM1274.6 1192.3h11v5.6h-11zM414.3 1197.4h11v5.6h-11zM445.8 1197.4h11v5.6h-11zM550.7 1197.4h11v5.6h-11zM687.1 1197.4h11v5.6h-11zM802.5 1197.4h11v5.6h-11zM959.8 1197.4h11v5.6h-11zM1148.7 1197.4h11v5.6h-11zM445.8 1202.5h11v5.6h-11zM613.6 1202.5h11v5.6h-11zM760.5 1202.5h11v5.6h-11zM844.4 1202.5h11v5.6h-11zM959.8 1202.5h11v5.6h-11zM194 1207.6h11v5.6h-11zM393.3 1207.6h11v5.6h-11zM645.1 1207.6h11v5.6h-11zM792 1207.6h11v5.6h-11zM991.3 1207.6h11v5.6h-11zM1043.8 1207.6h11v5.6h-11zM194 1212.7h11v5.6h-11zM477.2 1212.7h11v5.6h-11zM1148.7 1212.7h11v5.6h-11zM1253.6 1212.7h11v5.6h-11zM1264.1 1212.7h11v5.6h-11zM1295.6 1212.7h11v5.6h-11zM173 1217.8h11v5.6h-11zM204.5 1217.8h11v5.6h-11zM361.8 1217.8h11v5.6h-11zM393.3 1217.8h11v5.6h-11zM624.1 1217.8h11v5.6h-11zM1180.2 1217.8h11v5.6h-11zM1285.1 1217.8h11v5.6h-11zM1295.6 1217.8h11v5.6h-11zM1337.5 1217.8h11v5.6h-11zM235.9 1222.9h11v5.6h-11zM330.4 1222.9h11v5.6h-11zM351.3 1222.9h11v5.6h-11zM403.8 1222.9h11v5.6h-11zM603.1 1222.9h11v5.6h-11zM802.5 1222.9h11v5.6h-11zM833.9 1222.9h11v5.6h-11zM875.9 1222.9h11v5.6h-11zM1138.2 1222.9h11v5.6h-11zM1180.2 1222.9h11v5.6h-11zM1274.6 1222.9h11v5.6h-11zM256.9 1228h11v5.6h-11zM288.4 1228h11v5.6h-11zM414.3 1228h11v5.6h-11zM666.1 1228h11v5.6h-11zM781.5 1228h11v5.6h-11zM886.4 1228h11v5.6h-11zM256.9 1233.1h11v5.6h-11zM298.9 1233.1h11v5.6h-11zM414.3 1233.1h11v5.6h-11zM655.6 1233.1h11v5.6h-11zM277.9 1238.2h11v5.6h-11zM435.3 1238.2h11v5.6h-11zM750 1238.2h11v5.6h-11zM781.5 1238.2h11v5.6h-11zM991.3 1238.2h11v5.6h-11zM1012.3 1238.2h11v5.6h-11zM1117.2 1238.2h11v5.6h-11zM1180.2 1238.2h11v5.6h-11zM204.5 1243.3h11v5.6h-11zM319.9 1243.3h11v5.6h-11zM508.7 1243.3h11v5.6h-11zM603.1 1243.3h11v5.6h-11zM613.6 1243.3h11v5.6h-11zM1033.3 1243.3h11v5.6h-11zM1043.8 1243.3h11v5.6h-11zM1201.1 1243.3h11v5.6h-11zM204.5 1248.4h11v5.6h-11zM215 1248.4h11v5.6h-11zM288.4 1248.4h11v5.6h-11zM298.9 1248.4h11v5.6h-11zM393.3 1248.4h11v5.6h-11zM582.2 1248.4h11v5.6h-11zM1022.8 1248.4h11v5.6h-11zM1033.3 1248.4h11v5.6h-11zM1085.7 1248.4h11v5.6h-11zM1169.7 1248.4h11v5.6h-11zM582.2 1253.5h11v5.6h-11zM938.9 1253.5h11v5.6h-11zM1001.8 1253.5h11v5.6h-11zM1159.2 1253.5h11v5.6h-11zM1232.6 1253.5h11v5.6h-11zM162.5 1258.6h11v5.6h-11zM194 1258.6h11v5.6h-11zM267.4 1258.6h11v5.6h-11zM351.3 1258.6h11v5.6h-11zM456.3 1258.6h11v5.6h-11zM634.6 1258.6h11v5.6h-11zM1138.2 1258.6h11v5.6h-11zM1148.7 1258.6h11v5.6h-11zM1243.1 1258.6h11v5.6h-11zM183.5 1263.7h11v5.6h-11zM1127.7 1263.7h11v5.6h-11zM204.5 1268.8h11v5.6h-11zM456.3 1268.8h11v5.6h-11zM917.9 1268.8h11v5.6h-11zM1211.6 1268.8h11v5.6h-11zM550.7 1273.8h11v5.6h-11zM991.3 1273.8h11v5.6h-11zM1243.1 1273.8h11v5.6h-11zM592.6 1278.9h11v5.6h-11zM1148.7 1278.9h11v5.6h-11zM1159.2 1278.9h11v5.6h-11zM1253.6 1278.9h11v5.6h-11zM508.7 1284h11v5.6h-11zM991.3 1284h11v5.6h-11zM1022.8 1284h11v5.6h-11zM1159.2 1284h11v5.6h-11zM1243.1 1284h11v5.6h-11zM340.9 1289.1h11v5.6h-11zM393.3 1289.1h11v5.6h-11zM1022.8 1289.1h11v5.6h-11zM1033.3 1289.1h11v5.6h-11zM1043.8 1289.1h11v5.6h-11zM1295.6 1289.1h11v5.6h-11zM529.7 1294.2h11v5.6h-11zM592.6 1294.2h11v5.6h-11zM603.1 1294.2h11v5.6h-11zM1075.2 1294.2h11v5.6h-11zM1232.6 1294.2h11v5.6h-11zM351.3 1299.3h11v5.6h-11zM424.8 1299.3h11v5.6h-11zM445.8 1299.3h11v5.6h-11zM561.2 1299.3h11v5.6h-11zM582.2 1299.3h11v5.6h-11zM403.8 1304.4h11v5.6h-11zM466.7 1304.4h11v5.6h-11zM991.3 1304.4h11v5.6h-11zM1022.8 1304.4h11v5.6h-11zM1253.6 1304.4h11v5.6h-11zM1337.5 1304.4h11v5.6h-11zM204.5 1309.5h11v5.6h-11zM351.3 1309.5h11v5.6h-11zM1180.2 1309.5h11v5.6h-11zM1306.1 1309.5h11v5.6h-11zM1096.2 1314.6h11v5.6h-11zM1127.7 1324.8h11v5.6h-11zM1201.1 1324.8h11v5.6h-11zM833.9 1335h11v5.6h-11zM844.4 1335h11v5.6h-11zM865.4 1335h11v5.6h-11zM844.4 1340.1h11v5.6h-11zM718.5 1345.2h11v5.6h-11zM928.4 1345.2h11v5.6h-11zM970.3 1345.2h11v5.6h-11zM1253.6 1345.2h11v5.6h-11zM1264.1 1345.2h11v5.6h-11zM1348 1345.2h11v5.6h-11zM938.9 1350.3h11v5.6h-11zM1117.2 1350.3h11v5.6h-11zM1222.1 1350.3h11v5.6h-11zM1253.6 1350.3h11v5.6h-11zM1348 1350.3h11v5.6h-11zM225.4 1355.4h11v5.6h-11zM718.5 1355.4h11v5.6h-11zM1222.1 1355.4h11v5.6h-11zM1253.6 1355.4h11v5.6h-11z"/>
<path fill="#0019ff" d="M162.5 1177h11v5.6h-11zM225.4 1177h11v5.6h-11zM372.3 1177h11v5.6h-11zM424.8 1177h11v5.6h-11zM519.2 1177h11v5.6h-11zM561.2 1177h11v5.6h-11zM592.6 1177h11v5.6h-11zM645.1 1177h11v5.6h-11zM687.1 1177h11v5.6h-11zM729 1177h11v5.6h-11zM802.5 1177h11v5.6h-11zM896.9 1177h11v5.6h-11zM1075.2 1177h11v5.6h-11zM1106.7 1177h11v5.6h-11zM246.4 1182.1h11v5.6h-11zM256.9 1182.1h11v5.6h-11zM393.3 1182.1h11v5.6h-11zM508.7 1182.1h11v5.6h-11zM603.1 1182.1h11v5.6h-11zM666.1 1182.1h11v5.6h-11zM886.4 1182.1h11v5.6h-11zM1075.2 1182.1h11v5.6h-11zM1096.2 1182.1h11v5.6h-11zM1222.1 1182.1h11v5.6h-11zM246.4 1187.2h11v5.6h-11zM456.3 1187.2h11v5.6h-11zM603.1 1187.2h11v5.6h-11zM729 1187.2h11v5.6h-11zM917.9 1187.2h11v5.6h-11zM1264.1 1187.2h11v5.6h-11zM309.4 1192.3h11v5.6h-11zM655.6 1192.3h11v5.6h-11zM666.1 1192.3h11v5.6h-11zM676.6 1192.3h11v5.6h-11zM708 1192.3h11v5.6h-11zM802.5 1192.3h11v5.6h-11zM1190.6 1192.3h11v5.6h-11zM1201.1 1192.3h11v5.6h-11zM1264.1 1192.3h11v5.6h-11zM1337.5 1192.3h11v5.6h-11zM1348 1192.3h11v5.6h-11zM277.9 1197.4h11v5.6h-11zM330.4 1197.4h11v5.6h-11zM382.8 1197.4h11v5.6h-11zM393.3 1197.4h11v5.6h-11zM435.3 1197.4h11v5.6h-11zM456.3 1197.4h11v5.6h-11zM760.5 1197.4h11v5.6h-11zM970.3 1197.4h11v5.6h-11zM980.8 1197.4h11v5.6h-11zM1085.7 1197.4h11v5.6h-11zM1117.2 1197.4h11v5.6h-11zM1138.2 1197.4h11v5.6h-11zM1190.6 1197.4h11v5.6h-11zM1222.1 1197.4h11v5.6h-11zM1253.6 1197.4h11v5.6h-11zM1295.6 1197.4h11v5.6h-11zM215 1202.5h11v5.6h-11zM288.4 1202.5h11v5.6h-11zM403.8 1202.5h11v5.6h-11zM456.3 1202.5h11v5.6h-11zM729 1202.5h11v5.6h-11zM1064.8 1202.5h11v5.6h-11zM1106.7 1202.5h11v5.6h-11zM1138.2 1202.5h11v5.6h-11zM1159.2 1202.5h11v5.6h-11zM1295.6 1202.5h11v5.6h-11zM1316.5 1202.5h11v5.6h-11zM204.5 1207.6h11v5.6h-11zM330.4 1207.6h11v5.6h-11zM519.2 1207.6h11v5.6h-11zM781.5 1207.6h11v5.6h-11zM1001.8 1207.6h11v5.6h-11zM1012.3 1207.6h11v5.6h-11zM1201.1 1207.6h11v5.6h-11zM267.4 1212.7h11v5.6h-11zM561.2 1212.7h11v5.6h-11zM708 1212.7h11v5.6h-11zM802.5 1212.7h11v5.6h-11zM813 1212.7h11v5.6h-11zM991.3 1212.7h11v5.6h-11zM1012.3 1212.7h11v5.6h-11zM1201.1 1212.7h11v5.6h-11zM162.5 1217.8h11v5.6h-11zM277.9 1217.8h11v5.6h-11zM319.9 1217.8h11v5.6h-11zM498.2 1217.8h11v5.6h-11zM687.1 1217.8h11v5.6h-11zM729 1217.8h11v5.6h-11zM739.5 1217.8h11v5.6h-11zM865.4 1217.8h11v5.6h-11zM875.9 1217.8h11v5.6h-11zM886.4 1217.8h11v5.6h-11zM896.9 1217.8h11v5.6h-11zM938.9 1217.8h11v5.6h-11zM1316.5 1217.8h11v5.6h-11zM309.4 1222.9h11v5.6h-11zM414.3 1222.9h11v5.6h-11zM508.7 1222.9h11v5.6h-11zM519.2 1222.9h11v5.6h-11zM592.6 1222.9h11v5.6h-11zM687.1 1222.9h11v5.6h-11zM718.5 1222.9h11v5.6h-11zM886.4 1222.9h11v5.6h-11zM896.9 1222.9h11v5.6h-11zM1043.8 1222.9h11v5.6h-11zM173 1228h11v5.6h-11zM277.9 1228h11v5.6h-11zM393.3 1228h11v5.6h-11zM466.7 1228h11v5.6h-11zM519.2 1228h11v5.6h-11zM729 1228h11v5.6h-11zM802.5 1228h11v5.6h-11zM928.4 1228h11v5.6h-11zM938.9 1228h11v5.6h-11zM991.3 1228h11v5.6h-11zM1054.3 1228h11v5.6h-11zM1169.7 1228h11v5.6h-11zM1180.2 1228h11v5.6h-11zM309.4 1233.1h11v5.6h-11zM403.8 1233.1h11v5.6h-11zM456.3 1233.1h11v5.6h-11zM466.7 1233.1h11v5.6h-11zM571.7 1233.1h11v5.6h-11zM844.4 1233.1h11v5.6h-11zM917.9 1233.1h11v5.6h-11zM1285.1 1233.1h11v5.6h-11zM340.9 1238.2h11v5.6h-11zM603.1 1238.2h11v5.6h-11zM917.9 1238.2h11v5.6h-11zM970.3 1238.2h11v5.6h-11zM1075.2 1238.2h11v5.6h-11zM1096.2 1238.2h11v5.6h-11zM1127.7 1238.2h11v5.6h-11zM330.4 1243.3h11v5.6h-11zM340.9 1243.3h11v5.6h-11zM529.7 1243.3h11v5.6h-11zM561.2 1243.3h11v5.6h-11zM624.1 1243.3h11v5.6h-11zM634.6 1243.3h11v5.6h-11zM1054.3 1243.3h11v5.6h-11zM1117.2 1243.3h11v5.6h-11zM1211.6 1243.3h11v5.6h-11zM498.2 1248.4h11v5.6h-11zM1043.8 1248.4h11v5.6h-11zM403.8 1253.5h11v5.6h-11zM592.6 1253.5h11v5.6h-11zM634.6 1253.5h11v5.6h-11zM1022.8 1253.5h11v5.6h-11zM1180.2 1253.5h11v5.6h-11zM309.4 1258.6h11v5.6h-11zM319.9 1258.6h11v5.6h-11zM508.7 1258.6h11v5.6h-11zM519.2 1258.6h11v5.6h-11zM529.7 1258.6h11v5.6h-11zM676.6 1258.6h11v5.6h-11zM970.3 1258.6h11v5.6h-11zM1085.7 1258.6h11v5.6h-11zM1106.7 1258.6h11v5.6h-11zM173 1263.7h11v5.6h-11zM382.8 1263.7h11v5.6h-11zM613.6 1263.7h11v5.6h-11zM1054.3 1263.7h11v5.6h-11zM1138.2 1263.7h11v5.6h-11zM1148.7 1263.7h11v5.6h-11zM183.5 1268.8h11v5.6h-11zM340.9 1268.8h11v5.6h-11zM372.3 1268.8h11v5.6h-11zM382.8 1268.8h11v5.6h-11zM466.7 1268.8h11v5.6h-11zM508.7 1268.8h11v5.6h-11zM1054.3 1268.8h11v5.6h-11zM1085.7 1268.8h11v5.6h-11zM1096.2 1268.8h11v5.6h-11zM1117.2 1268.8h11v5.6h-11zM1295.6 1268.8h11v5.6h-11zM1075.2 1273.8h11v5.6h-11zM162.5 1278.9h11v5.6h-11zM907.4 1278.9h11v5.6h-11zM949.3 1278.9h11v5.6h-11zM1054.3 1278.9h11v5.6h-11zM1117.2 1278.9h11v5.6h-11zM1138.2 1278.9h11v5.6h-11zM372.3 1284h11v5.6h-11zM477.2 1284h11v5.6h-11zM592.6 1284h11v5.6h-11zM1148.7 1284h11v5.6h-11zM1348 1284h11v5.6h-11zM162.5 1289.1h11v5.6h-11zM456.3 1289.1h11v5.6h-11zM1285.1 1289.1h11v5.6h-11zM508.7 1294.2h11v5.6h-11zM540.2 1294.2h11v5.6h-11zM613.6 1294.2h11v5.6h-11zM624.1 1294.2h11v5.6h-11zM928.4 1294.2h11v5.6h-11zM938.9 1294.2h11v5.6h-11zM1054.3 1294.2h11v5.6h-11zM1253.6 1294.2h11v5.6h-11zM1295.6 1294.2h11v5.6h-11zM1358.5 1294.2h11v5.6h-11zM372.3 1299.3h11v5.6h-11zM414.3 1299.3h11v5.6h-11zM456.3 1299.3h11v5.6h-11zM550.7 1299.3h11v5.6h-11zM760.5 1299.3h11v5.6h-11zM1285.1 1299.3h11v5.6h-11zM162.5 1309.5h11v5.6h-11zM183.5 1309.5h11v5.6h-11zM194 1309.5h11v5.6h-11zM477.2 1309.5h11v5.6h-11zM519.2 1309.5h11v5.6h-11zM613.6 1309.5h11v5.6h-11zM1264.1 1309.5h11v5.6h-11zM1295.6 1309.5h11v5.6h-11zM1337.5 1309.5h11v5.6h-11zM225.4 1314.6h11v5.6h-11zM907.4 1314.6h11v5.6h-11zM1264.1 1314.6h11v5.6h-11zM844.4 1319.7h11v5.6h-11zM1180.2 1319.7h11v5.6h-11zM1201.1 1319.7h11v5.6h-11zM162.5 1324.8h11v5.6h-11zM435.3 1324.8h11v5.6h-11zM1232.6 1324.8h11v5.6h-11zM1085.7 1329.9h11v5.6h-11zM823.5 1335h11v5.6h-11zM162.5 1340.1h11v5.6h-11zM865.4 1340.1h11v5.6h-11zM613.6 1345.2h11v5.6h-11zM760.5 1345.2h11v5.6h-11zM1358.5 1345.2h11v5.6h-11zM445.8 1350.3h11v5.6h-11zM645.1 1350.3h11v5.6h-11zM655.6 1350.3h11v5.6h-11zM666.1 1350.3h11v5.6h-11zM194 1355.4h11v5.6h-11zM1117.2 1355.4h11v5.6h-11z"/>
<path fill="#0026ff" d="M288.4 1177h11v5.6h-11zM624.1 1177h11v5.6h-11zM739.5 1177h11v5.6h-11zM928.4 1177h11v5.6h-11zM959.8 1177h11v5.6h-11zM1159.2 1177h11v5.6h-11zM1169.7 1177h11v5.6h-11zM1180.2 1177h11v5.6h-11zM162.5 1182.1h11v5.6h-11zM183.5 1182.1h11v5.6h-11zM235.9 1182.1h11v5.6h-11zM330.4 1182.1h11v5.6h-11zM718.5 1182.1h11v5.6h-11zM1148.7 1182.1h11v5.6h-11zM1201.1 1182.1h11v5.6h-11zM1306.1 1182.1h11v5.6h-11zM288.4 1187.2h11v5.6h-11zM393.3 1187.2h11v5.6h-11zM508.7 1187.2h11v5.6h-11zM519.2 1187.2h11v5.6h-11zM739.5 1187.2h11v5.6h-11zM771 1187.2h11v5.6h-11zM970.3 1187.2h11v5.6h-11zM1117.2 1187.2h11v5.6h-11zM1138.2 1187.2h11v5.6h-11zM1285.1 1187.2h11v5.6h-11zM1295.6 1187.2h11v5.6h-11zM225.4 1192.3h11v5.6h-11zM498.2 1192.3h11v5.6h-11zM508.7 1192.3h11v5.6h-11zM571.7 1192.3h11v5.6h-11zM603.1 1192.3h11v5.6h-11zM718.5 1192.3h11v5.6h-11zM729 1192.3h11v5.6h-11zM991.3 1192.3h11v5.6h-11zM1138.2 1192.3h11v5.6h-11zM1316.5 1192.3h11v5.6h-11zM256.9 1197.4h11v5.6h-11zM267.4 1197.4h11v5.6h-11zM466.7 1197.4h11v5.6h-11zM477.2 1197.4h11v5.6h-11zM498.2 1197.4h11v5.6h-11zM1075.2 1197.4h11v5.6h-11zM1127.7 1197.4h11v5.6h-11zM1180.2 1197.4h11v5.6h-11zM1243.1 1197.4h11v5.6h-11zM1285.1 1197.4h11v5.6h-11zM225.4 1202.5h11v5.6h-11zM235.9 1202.5h11v5.6h-11zM246.4 1202.5h11v5.6h-11zM298.9 1202.5h11v5.6h-11zM330.4 1202.5h11v5.6h-11zM393.3 1202.5h11v5.6h-11zM414.3 1202.5h11v5.6h-11zM466.7 1202.5h11v5.6h-11zM477.2 1202.5h11v5.6h-11zM498.2 1202.5h11v5.6h-11zM529.7 1202.5h11v5.6h-11zM540.2 1202.5h11v5.6h-11zM550.7 1202.5h11v5.6h-11zM561.2 1202.5h11v5.6h-11zM823.5 1202.5h11v5.6h-11zM854.9 1202.5h11v5.6h-11zM970.3 1202.5h11v5.6h-11zM980.8 1202.5h11v5.6h-11zM991.3 1202.5h11v5.6h-11zM1148.7 1202.5h11v5.6h-11zM1201.1 1202.5h11v5.6h-11zM1253.6 1202.5h11v5.6h-11zM1264.1 1202.5h11v5.6h-11zM215 1207.6h11v5.6h-11zM225.4 1207.6h11v5.6h-11zM529.7 1207.6h11v5.6h-11zM708 1207.6h11v5.6h-11zM896.9 1207.6h11v5.6h-11zM1085.7 1207.6h11v5.6h-11zM1127.7 1207.6h11v5.6h-11zM1211.6 1207.6h11v5.6h-11zM1264.1 1207.6h11v5.6h-11zM277.9 1212.7h11v5.6h-11zM288.4 1212.7h11v5.6h-11zM298.9 1212.7h11v5.6h-11zM382.8 1212.7h11v5.6h-11zM393.3 1212.7h11v5.6h-11zM403.8 1212.7h11v5.6h-11zM414.3 1212.7h11v5.6h-11zM519.2 1212.7h11v5.6h-11zM676.6 1212.7h11v5.6h-11zM907.4 1212.7h11v5.6h-11zM917.9 1212.7h11v5.6h-11zM949.3 1212.7h11v5.6h-11zM980.8 1212.7h11v5.6h-11zM1358.5 1212.7h11v5.6h-11zM267.4 1217.8h11v5.6h-11zM330.4 1217.8h11v5.6h-11zM372.3 1217.8h11v5.6h-11zM508.7 1217.8h11v5.6h-11zM613.6 1217.8h11v5.6h-11zM697.6 1217.8h11v5.6h-11zM708 1217.8h11v5.6h-11zM907.4 1217.8h11v5.6h-11zM1138.2 1217.8h11v5.6h-11zM267.4 1222.9h11v5.6h-11zM382.8 1222.9h11v5.6h-11zM393.3 1222.9h11v5.6h-11zM424.8 1222.9h11v5.6h-11zM676.6 1222.9h11v5.6h-11zM729 1222.9h11v5.6h-11zM739.5 1222.9h11v5.6h-11zM844.4 1222.9h11v5.6h-11zM1295.6 1222.9h11v5.6h-11zM1306.1 1222.9h11v5.6h-11zM1348 1222.9h11v5.6h-11zM1358.5 1222.9h11v5.6h-11zM340.9 1228h11v5.6h-11zM456.3 1228h11v5.6h-11zM477.2 1228h11v5.6h-11zM498.2 1228h11v5.6h-11zM1159.2 1228h11v5.6h-11zM424.8 1233.1h11v5.6h-11zM477.2 1233.1h11v5.6h-11zM487.7 1233.1h11v5.6h-11zM603.1 1233.1h11v5.6h-11zM645.1 1233.1h11v5.6h-11zM676.6 1233.1h11v5.6h-11zM697.6 1233.1h11v5.6h-11zM833.9 1233.1h11v5.6h-11zM865.4 1233.1h11v5.6h-11zM1295.6 1233.1h11v5.6h-11zM288.4 1238.2h11v5.6h-11zM466.7 1238.2h11v5.6h-11zM949.3 1238.2h11v5.6h-11zM1064.8 1238.2h11v5.6h-11zM1201.1 1238.2h11v5.6h-11zM215 1243.3h11v5.6h-11zM351.3 1243.3h11v5.6h-11zM403.8 1243.3h11v5.6h-11zM435.3 1243.3h11v5.6h-11zM498.2 1243.3h11v5.6h-11zM592.6 1243.3h11v5.6h-11zM645.1 1243.3h11v5.6h-11zM771 1243.3h11v5.6h-11zM781.5 1243.3h11v5.6h-11zM854.9 1243.3h11v5.6h-11zM865.4 1243.3h11v5.6h-11zM875.9 1243.3h11v5.6h-11zM886.4 1243.3h11v5.6h-11zM1085.7 1243.3h11v5.6h-11zM1222.1 1243.3h11v5.6h-11zM1232.6 1243.3h11v5.6h-11zM340.9 1248.4h11v5.6h-11zM456.3 1248.4h11v5.6h-11zM561.2 1248.4h11v5.6h-11zM592.6 1248.4h11v5.6h-11zM613.6 1248.4h11v5.6h-11zM655.6 1248.4h11v5.6h-11zM844.4 1248.4h11v5.6h-11zM1001.8 1248.4h11v5.6h-11zM1054.3 1248.4h11v5.6h-11zM1064.8 1248.4h11v5.6h-11zM1180.2 1248.4h11v5.6h-11zM1243.1 1248.4h11v5.6h-11zM319.9 1253.5h11v5.6h-11zM361.8 1253.5h11v5.6h-11zM372.3 1253.5h11v5.6h-11zM393.3 1253.5h11v5.6h-11zM603.1 1253.5h11v5.6h-11zM676.6 1253.5h11v5.6h-11zM917.9 1253.5h11v5.6h-11zM1064.8 1253.5h11v5.6h-11zM1096.2 1253.5h11v5.6h-11zM1148.7 1253.5h11v5.6h-11zM1285.1 1253.5h11v5.6h-11zM256.9 1258.6h11v5.6h-11zM277.9 1258.6h11v5.6h-11zM288.4 1258.6h11v5.6h-11zM550.7 1258.6h11v5.6h-11zM613.6 1258.6h11v5.6h-11zM624.1 1258.6h11v5.6h-11zM1033.3 1258.6h11v5.6h-11zM1117.2 1258.6h11v5.6h-11zM1127.7 1258.6h11v5.6h-11zM1190.6 1258.6h11v5.6h-11zM215 1263.7h11v5.6h-11zM477.2 1263.7h11v5.6h-11zM938.9 1263.7h11v5.6h-11zM959.8 1263.7h11v5.6h-11zM1043.8 1263.7h11v5.6h-11zM571.7 1268.8h11v5.6h-11zM582.2 1268.8h11v5.6h-11zM1064.8 1268.8h11v5.6h-11zM1106.7 1268.8h11v5.6h-11zM1201.1 1268.8h11v5.6h-11zM1306.1 1268.8h11v5.6h-11zM361.8 1273.8h11v5.6h-11zM393.3 1273.8h11v5.6h-11zM466.7 1273.8h11v5.6h-11zM540.2 1273.8h11v5.6h-11zM561.2 1273.8h11v5.6h-11zM1012.3 1273.8h11v5.6h-11zM1022.8 1273.8h11v5.6h-11zM1033.3 1273.8h11v5.6h-11zM1232.6 1273.8h11v5.6h-11zM340.9 1278.9h11v5.6h-11zM372.3 1278.9h11v5.6h-11zM393.3 1278.9h11v5.6h-11zM540.2 1278.9h11v5.6h-11zM896.9 1278.9h11v5.6h-11zM1022.8 1278.9h11v5.6h-11zM1043.8 1278.9h11v5.6h-11zM162.5 1284h11v5.6h-11zM393.3 1284h11v5.6h-11zM414.3 1284h11v5.6h-11zM487.7 1284h11v5.6h-11zM1232.6 1284h11v5.6h-11zM1295.6 1284h11v5.6h-11zM1358.5 1284h11v5.6h-11zM382.8 1289.1h11v5.6h-11zM508.7 1289.1h11v5.6h-11zM519.2 1289.1h11v5.6h-11zM1054.3 1289.1h11v5.6h-11zM1211.6 1289.1h11v5.6h-11zM1306.1 1289.1h11v5.6h-11zM351.3 1294.2h11v5.6h-11zM424.8 1294.2h11v5.6h-11zM487.7 1294.2h11v5.6h-11zM634.6 1294.2h11v5.6h-11zM1012.3 1294.2h11v5.6h-11zM1337.5 1294.2h11v5.6h-11zM361.8 1299.3h11v5.6h-11zM466.7 1299.3h11v5.6h-11zM1064.8 1299.3h11v5.6h-11zM1306.1 1299.3h11v5.6h-11zM256.9 1304.4h11v5.6h-11zM949.3 1304.4h11v5.6h-11zM959.8 1304.4h11v5.6h-11zM970.3 1304.4h11v5.6h-11zM1033.3 1304.4h11v5.6h-11zM1043.8 1304.4h11v5.6h-11zM1064.8 1304.4h11v5.6h-11zM1117.2 1304.4h11v5.6h-11zM1316.5 1304.4h11v5.6h-11zM1327 1304.4h11v5.6h-11zM173 1309.5h11v5.6h-11zM256.9 1309.5h11v5.6h-11zM277.9 1309.5h11v5.6h-11zM319.9 1309.5h11v5.6h-11zM424.8 1309.5h11v5.6h-11zM456.3 1309.5h11v5.6h-11zM624.1 1309.5h11v5.6h-11zM1169.7 1309.5h11v5.6h-11zM1327 1309.5h11v5.6h-11zM949.3 1314.6h11v5.6h-11zM1253.6 1314.6h11v5.6h-11zM854.9 1319.7h11v5.6h-11zM1075.2 1319.7h11v5.6h-11zM445.8 1324.8h11v5.6h-11zM1064.8 1324.8h11v5.6h-11zM1106.7 1324.8h11v5.6h-11zM162.5 1329.9h11v5.6h-11zM750 1335h11v5.6h-11zM613.6 1340.1h11v5.6h-11zM194 1345.2h11v5.6h-11zM466.7 1345.2h11v5.6h-11zM487.7 1345.2h11v5.6h-11zM771 1345.2h11v5.6h-11zM980.8 1345.2h11v5.6h-11zM582.2 1350.3h11v5.6h-11zM634.6 1350.3h11v5.6h-11zM1022.8 1355.4h11v5.6h-11zM1169.7 1355.4h11v5.6h-11zM1243.1 1355.4h11v5.6h-11zM1337.5 1355.4h11v5.6h-11zM1348 1355.4h11v5.6h-11z"/>
<path fill="#0032ff" d="M340.9 1177h11v5.6h-11zM708 1177h11v5.6h-11zM813 1177h11v5.6h-11zM1022.8 1177h11v5.6h-11zM1117.2 1177h11v5.6h-11zM288.4 1182.1h11v5.6h-11zM519.2 1182.1h11v5.6h-11zM529.7 1182.1h11v5.6h-11zM729 1182.1h11v5.6h-11zM802.5 1182.1h11v5.6h-11zM823.5 1182.1h11v5.6h-11zM1022.8 1182.1h11v5.6h-11zM1064.8 1182.1h11v5.6h-11zM907.4 1187.2h11v5.6h-11zM1001.8 1187.2h11v5.6h-11zM1358.5 1187.2h11v5.6h-11zM340.9 1192.3h11v5.6h-11zM592.6 1192.3h11v5.6h-11zM739.5 1192.3h11v5.6h-11zM1001.8 1192.3h11v5.6h-11zM1222.1 1192.3h11v5.6h-11zM1232.6 1192.3h11v5.6h-11zM246.4 1197.4h11v5.6h-11zM487.7 1197.4h11v5.6h-11zM519.2 1197.4h11v5.6h-11zM529.7 1197.4h11v5.6h-11zM540.2 1197.4h11v5.6h-11zM603.1 1197.4h11v5.6h-11zM613.6 1197.4h11v5.6h-11zM907.4 1197.4h11v5.6h-11zM1012.3 1197.4h11v5.6h-11zM1274.6 1197.4h11v5.6h-11zM1327 1197.4h11v5.6h-11zM277.9 1202.5h11v5.6h-11zM351.3 1202.5h11v5.6h-11zM571.7 1202.5h11v5.6h-11zM603.1 1202.5h11v5.6h-11zM771 1202.5h11v5.6h-11zM833.9 1202.5h11v5.6h-11zM875.9 1202.5h11v5.6h-11zM309.4 1207.6h11v5.6h-11zM697.6 1207.6h11v5.6h-11zM802.5 1207.6h11v5.6h-11zM907.4 1207.6h11v5.6h-11zM1033.3 1207.6h11v5.6h-11zM1253.6 1207.6h11v5.6h-11zM1274.6 1207.6h11v5.6h-11zM204.5 1212.7h11v5.6h-11zM256.9 1212.7h11v5.6h-11zM466.7 1212.7h11v5.6h-11zM666.1 1212.7h11v5.6h-11zM697.6 1212.7h11v5.6h-11zM833.9 1212.7h11v5.6h-11zM928.4 1212.7h11v5.6h-11zM959.8 1212.7h11v5.6h-11zM1043.8 1212.7h11v5.6h-11zM1306.1 1212.7h11v5.6h-11zM1348 1212.7h11v5.6h-11zM477.2 1217.8h11v5.6h-11zM487.7 1217.8h11v5.6h-11zM529.7 1217.8h11v5.6h-11zM802.5 1217.8h11v5.6h-11zM1127.7 1217.8h11v5.6h-11zM1306.1 1217.8h11v5.6h-11zM1358.5 1217.8h11v5.6h-11zM215 1222.9h11v5.6h-11zM225.4 1222.9h11v5.6h-11zM277.9 1222.9h11v5.6h-11zM288.4 1222.9h11v5.6h-11zM298.9 1222.9h11v5.6h-11zM340.9 1222.9h11v5.6h-11zM361.8 1222.9h11v5.6h-11zM435.3 1222.9h11v5.6h-11zM498.2 1222.9h11v5.6h-11zM854.9 1222.9h11v5.6h-11zM865.4 1222.9h11v5.6h-11zM1054.3 1222.9h11v5.6h-11zM298.9 1228h11v5.6h-11zM833.9 1228h11v5.6h-11zM844.4 1228h11v5.6h-11zM1064.8 1228h11v5.6h-11zM1117.2 1228h11v5.6h-11zM1295.6 1228h11v5.6h-11zM435.3 1233.1h11v5.6h-11zM445.8 1233.1h11v5.6h-11zM498.2 1233.1h11v5.6h-11zM666.1 1233.1h11v5.6h-11zM813 1233.1h11v5.6h-11zM1201.1 1233.1h11v5.6h-11zM372.3 1238.2h11v5.6h-11zM382.8 1238.2h11v5.6h-11zM414.3 1238.2h11v5.6h-11zM424.8 1238.2h11v5.6h-11zM519.2 1238.2h11v5.6h-11zM645.1 1238.2h11v5.6h-11zM907.4 1238.2h11v5.6h-11zM959.8 1238.2h11v5.6h-11zM1022.8 1238.2h11v5.6h-11zM1033.3 1238.2h11v5.6h-11zM1085.7 1238.2h11v5.6h-11zM1169.7 1238.2h11v5.6h-11zM1243.1 1238.2h11v5.6h-11zM1295.6 1238.2h11v5.6h-11zM162.5 1243.3h11v5.6h-11zM445.8 1243.3h11v5.6h-11zM760.5 1243.3h11v5.6h-11zM1064.8 1243.3h11v5.6h-11zM1075.2 1243.3h11v5.6h-11zM1159.2 1243.3h11v5.6h-11zM1180.2 1243.3h11v5.6h-11zM1274.6 1243.3h11v5.6h-11zM246.4 1248.4h11v5.6h-11zM256.9 1248.4h11v5.6h-11zM309.4 1248.4h11v5.6h-11zM403.8 1248.4h11v5.6h-11zM624.1 1248.4h11v5.6h-11zM645.1 1248.4h11v5.6h-11zM802.5 1248.4h11v5.6h-11zM1159.2 1248.4h11v5.6h-11zM645.1 1253.5h11v5.6h-11zM655.6 1253.5h11v5.6h-11zM666.1 1253.5h11v5.6h-11zM823.5 1253.5h11v5.6h-11zM1054.3 1253.5h11v5.6h-11zM1222.1 1253.5h11v5.6h-11zM477.2 1258.6h11v5.6h-11zM498.2 1258.6h11v5.6h-11zM603.1 1258.6h11v5.6h-11zM1285.1 1258.6h11v5.6h-11zM246.4 1263.7h11v5.6h-11zM340.9 1263.7h11v5.6h-11zM466.7 1263.7h11v5.6h-11zM508.7 1263.7h11v5.6h-11zM928.4 1263.7h11v5.6h-11zM1064.8 1263.7h11v5.6h-11zM1075.2 1263.7h11v5.6h-11zM1232.6 1263.7h11v5.6h-11zM907.4 1268.8h11v5.6h-11zM959.8 1268.8h11v5.6h-11zM1190.6 1268.8h11v5.6h-11zM204.5 1273.8h11v5.6h-11zM351.3 1273.8h11v5.6h-11zM477.2 1273.8h11v5.6h-11zM571.7 1273.8h11v5.6h-11zM928.4 1273.8h11v5.6h-11zM173 1278.9h11v5.6h-11zM403.8 1278.9h11v5.6h-11zM414.3 1278.9h11v5.6h-11zM435.3 1278.9h11v5.6h-11zM529.7 1278.9h11v5.6h-11zM1012.3 1278.9h11v5.6h-11zM1064.8 1278.9h11v5.6h-11zM1106.7 1278.9h11v5.6h-11zM1264.1 1278.9h11v5.6h-11zM1358.5 1278.9h11v5.6h-11zM382.8 1284h11v5.6h-11zM519.2 1284h11v5.6h-11zM529.7 1284h11v5.6h-11zM603.1 1284h11v5.6h-11zM624.1 1284h11v5.6h-11zM634.6 1284h11v5.6h-11zM1169.7 1284h11v5.6h-11zM173 1289.1h11v5.6h-11zM1012.3 1289.1h11v5.6h-11zM1064.8 1289.1h11v5.6h-11zM1117.2 1289.1h11v5.6h-11zM1274.6 1289.1h11v5.6h-11zM288.4 1294.2h11v5.6h-11zM298.9 1294.2h11v5.6h-11zM340.9 1294.2h11v5.6h-11zM550.7 1294.2h11v5.6h-11zM582.2 1294.2h11v5.6h-11zM970.3 1294.2h11v5.6h-11zM980.8 1294.2h11v5.6h-11zM1001.8 1294.2h11v5.6h-11zM1043.8 1294.2h11v5.6h-11zM1085.7 1294.2h11v5.6h-11zM1106.7 1294.2h11v5.6h-11zM1117.2 1294.2h11v5.6h-11zM1169.7 1294.2h11v5.6h-11zM1264.1 1294.2h11v5.6h-11zM225.4 1299.3h11v5.6h-11zM288.4 1299.3h11v5.6h-11zM844.4 1299.3h11v5.6h-11zM1075.2 1299.3h11v5.6h-11zM529.7 1304.4h11v5.6h-11zM980.8 1304.4h11v5.6h-11zM1127.7 1304.4h11v5.6h-11zM1138.2 1304.4h11v5.6h-11zM246.4 1309.5h11v5.6h-11zM561.2 1309.5h11v5.6h-11zM571.7 1309.5h11v5.6h-11zM1064.8 1309.5h11v5.6h-11zM1232.6 1309.5h11v5.6h-11zM1253.6 1309.5h11v5.6h-11zM204.5 1314.6h11v5.6h-11zM215 1314.6h11v5.6h-11zM938.9 1314.6h11v5.6h-11zM1180.2 1314.6h11v5.6h-11zM1316.5 1314.6h11v5.6h-11zM1337.5 1314.6h11v5.6h-11zM666.1 1319.7h11v5.6h-11zM760.5 1319.7h11v5.6h-11zM907.4 1319.7h11v5.6h-11zM1064.8 1319.7h11v5.6h-11zM1211.6 1319.7h11v5.6h-11zM802.5 1324.8h11v5.6h-11zM1253.6 1324.8h11v5.6h-11zM173 1329.9h11v5.6h-11zM708 1329.9h11v5.6h-11zM781.5 1329.9h11v5.6h-11zM792 1329.9h11v5.6h-11zM162.5 1335h11v5.6h-11zM183.5 1335h11v5.6h-11zM813 1335h11v5.6h-11zM204.5 1340.1h11v5.6h-11zM215 1345.2h11v5.6h-11zM403.8 1345.2h11v5.6h-11zM624.1 1345.2h11v5.6h-11zM917.9 1345.2h11v5.6h-11zM1295.6 1345.2h11v5.6h-11zM456.3 1350.3h11v5.6h-11zM1337.5 1350.3h11v5.6h-11zM487.7 1355.4h11v5.6h-11zM571.7 1355.4h11v5.6h-11z"/>
<path fill="#003fff" d="M550.7 1177h11v5.6h-11zM571.7 1177h11v5.6h-11zM582.2 1177h11v5.6h-11zM697.6 1177h11v5.6h-11zM718.5 1177h11v5.6h-11zM907.4 1177h11v5.6h-11zM917.9 1177h11v5.6h-11zM938.9 1177h11v5.6h-11zM1138.2 1177h11v5.6h-11zM1274.6 1177h11v5.6h-11zM173 1182.1h11v5.6h-11zM298.9 1182.1h11v5.6h-11zM309.4 1182.1h11v5.6h-11zM372.3 1182.1h11v5.6h-11zM571.7 1182.1h11v5.6h-11zM645.1 1182.1h11v5.6h-11zM676.6 1182.1h11v5.6h-11zM813 1182.1h11v5.6h-11zM833.9 1182.1h11v5.6h-11zM414.3 1187.2h11v5.6h-11zM540.2 1187.2h11v5.6h-11zM792 1187.2h11v5.6h-11zM1085.7 1187.2h11v5.6h-11zM1106.7 1187.2h11v5.6h-11zM1159.2 1187.2h11v5.6h-11zM1169.7 1187.2h11v5.6h-11zM1190.6 1187.2h11v5.6h-11zM1274.6 1187.2h11v5.6h-11zM1306.1 1187.2h11v5.6h-11zM319.9 1192.3h11v5.6h-11zM330.4 1192.3h11v5.6h-11zM519.2 1192.3h11v5.6h-11zM624.1 1192.3h11v5.6h-11zM697.6 1192.3h11v5.6h-11zM1127.7 1192.3h11v5.6h-11zM1243.1 1192.3h11v5.6h-11zM561.2 1197.4h11v5.6h-11zM624.1 1197.4h11v5.6h-11zM896.9 1197.4h11v5.6h-11zM991.3 1197.4h11v5.6h-11zM1064.8 1197.4h11v5.6h-11zM1306.1 1197.4h11v5.6h-11zM1316.5 1197.4h11v5.6h-11zM267.4 1202.5h11v5.6h-11zM487.7 1202.5h11v5.6h-11zM508.7 1202.5h11v5.6h-11zM519.2 1202.5h11v5.6h-11zM592.6 1202.5h11v5.6h-11zM624.1 1202.5h11v5.6h-11zM655.6 1202.5h11v5.6h-11zM676.6 1202.5h11v5.6h-11zM718.5 1202.5h11v5.6h-11zM781.5 1202.5h11v5.6h-11zM886.4 1202.5h11v5.6h-11zM896.9 1202.5h11v5.6h-11zM928.4 1202.5h11v5.6h-11zM1075.2 1202.5h11v5.6h-11zM1211.6 1202.5h11v5.6h-11zM1232.6 1202.5h11v5.6h-11zM1274.6 1202.5h11v5.6h-11zM246.4 1207.6h11v5.6h-11zM256.9 1207.6h11v5.6h-11zM540.2 1207.6h11v5.6h-11zM886.4 1207.6h11v5.6h-11zM1022.8 1207.6h11v5.6h-11zM1064.8 1207.6h11v5.6h-11zM1243.1 1207.6h11v5.6h-11zM246.4 1212.7h11v5.6h-11zM844.4 1212.7h11v5.6h-11zM865.4 1212.7h11v5.6h-11zM970.3 1212.7h11v5.6h-11zM1022.8 1212.7h11v5.6h-11zM1138.2 1212.7h11v5.6h-11zM1316.5 1212.7h11v5.6h-11zM519.2 1217.8h11v5.6h-11zM603.1 1217.8h11v5.6h-11zM1012.3 1217.8h11v5.6h-11zM1043.8 1217.8h11v5.6h-11zM1201.1 1217.8h11v5.6h-11zM1327 1217.8h11v5.6h-11zM1348 1217.8h11v5.6h-11zM372.3 1222.9h11v5.6h-11zM466.7 1222.9h11v5.6h-11zM477.2 1222.9h11v5.6h-11zM487.7 1222.9h11v5.6h-11zM760.5 1222.9h11v5.6h-11zM1117.2 1222.9h11v5.6h-11zM1285.1 1222.9h11v5.6h-11zM1316.5 1222.9h11v5.6h-11zM1337.5 1222.9h11v5.6h-11zM267.4 1228h11v5.6h-11zM854.9 1228h11v5.6h-11zM875.9 1228h11v5.6h-11zM1043.8 1228h11v5.6h-11zM246.4 1233.1h11v5.6h-11zM854.9 1233.1h11v5.6h-11zM1054.3 1233.1h11v5.6h-11zM1358.5 1233.1h11v5.6h-11zM403.8 1238.2h11v5.6h-11zM792 1238.2h11v5.6h-11zM1054.3 1238.2h11v5.6h-11zM1138.2 1238.2h11v5.6h-11zM1148.7 1238.2h11v5.6h-11zM1190.6 1238.2h11v5.6h-11zM1348 1238.2h11v5.6h-11zM792 1243.3h11v5.6h-11zM907.4 1243.3h11v5.6h-11zM1127.7 1243.3h11v5.6h-11zM1169.7 1243.3h11v5.6h-11zM1190.6 1243.3h11v5.6h-11zM225.4 1248.4h11v5.6h-11zM267.4 1248.4h11v5.6h-11zM487.7 1248.4h11v5.6h-11zM676.6 1248.4h11v5.6h-11zM687.1 1248.4h11v5.6h-11zM792 1248.4h11v5.6h-11zM813 1248.4h11v5.6h-11zM833.9 1248.4h11v5.6h-11zM854.9 1248.4h11v5.6h-11zM1096.2 1248.4h11v5.6h-11zM1222.1 1248.4h11v5.6h-11zM1232.6 1248.4h11v5.6h-11zM162.5 1253.5h11v5.6h-11zM340.9 1253.5h11v5.6h-11zM382.8 1253.5h11v5.6h-11zM949.3 1253.5h11v5.6h-11zM1075.2 1253.5h11v5.6h-11zM1085.7 1253.5h11v5.6h-11zM1295.6 1253.5h11v5.6h-11zM173 1258.6h11v5.6h-11zM183.5 1258.6h11v5.6h-11zM298.9 1258.6h11v5.6h-11zM393.3 1258.6h11v5.6h-11zM466.7 1258.6h11v5.6h-11zM487.7 1258.6h11v5.6h-11zM540.2 1258.6h11v5.6h-11zM938.9 1258.6h11v5.6h-11zM1232.6 1258.6h11v5.6h-11zM519.2 1263.7h11v5.6h-11zM634.6 1263.7h11v5.6h-11zM1001.8 1263.7h11v5.6h-11zM1117.2 1263.7h11v5.6h-11zM1285.1 1263.7h11v5.6h-11zM330.4 1268.8h11v5.6h-11zM561.2 1268.8h11v5.6h-11zM980.8 1268.8h11v5.6h-11zM1075.2 1268.8h11v5.6h-11zM1127.7 1268.8h11v5.6h-11zM372.3 1273.8h11v5.6h-11zM487.7 1273.8h11v5.6h-11zM498.2 1273.8h11v5.6h-11zM508.7 1273.8h11v5.6h-11zM529.7 1273.8h11v5.6h-11zM1274.6 1273.8h11v5.6h-11zM382.8 1278.9h11v5.6h-11zM519.2 1278.9h11v5.6h-11zM1001.8 1278.9h11v5.6h-11zM1075.2 1278.9h11v5.6h-11zM1096.2 1278.9h11v5.6h-11zM183.5 1284h11v5.6h-11zM949.3 1284h11v5.6h-11zM1180.2 1284h11v5.6h-11zM1337.5 1284h11v5.6h-11zM372.3 1289.1h11v5.6h-11zM938.9 1289.1h11v5.6h-11zM1075.2 1289.1h11v5.6h-11zM225.4 1294.2h11v5.6h-11zM466.7 1294.2h11v5.6h-11zM571.7 1294.2h11v5.6h-11zM1022.8 1294.2h11v5.6h-11zM1138.2 1294.2h11v5.6h-11zM1180.2 1294.2h11v5.6h-11zM1306.1 1294.2h11v5.6h-11zM215 1299.3h11v5.6h-11zM298.9 1299.3h11v5.6h-11zM519.2 1299.3h11v5.6h-11zM750 1299.3h11v5.6h-11zM361.8 1304.4h11v5.6h-11zM393.3 1304.4h11v5.6h-11zM540.2 1304.4h11v5.6h-11zM592.6 1304.4h11v5.6h-11zM938.9 1304.4h11v5.6h-11zM1243.1 1304.4h11v5.6h-11zM1306.1 1304.4h11v5.6h-11zM215 1309.5h11v5.6h-11zM361.8 1309.5h11v5.6h-11zM928.4 1309.5h11v5.6h-11zM959.8 1309.5h11v5.6h-11zM1075.2 1309.5h11v5.6h-11zM1348 1309.5h11v5.6h-11zM1358.5 1309.5h11v5.6h-11zM445.8 1314.6h11v5.6h-11zM928.4 1314.6h11v5.6h-11zM1117.2 1314.6h11v5.6h-11zM1169.7 1314.6h11v5.6h-11zM1274.6 1314.6h11v5.6h-11zM1348 1314.6h11v5.6h-11zM949.3 1319.7h11v5.6h-11zM1054.3 1319.7h11v5.6h-11zM676.6 1324.8h11v5.6h-11zM760.5 1324.8h11v5.6h-11zM1190.6 1324.8h11v5.6h-11zM1264.1 1324.8h11v5.6h-11zM571.7 1329.9h11v5.6h-11zM771 1329.9h11v5.6h-11zM1054.3 1329.9h11v5.6h-11zM414.3 1340.1h11v5.6h-11zM424.8 1340.1h11v5.6h-11zM414.3 1345.2h11v5.6h-11zM540.2 1345.2h11v5.6h-11zM666.1 1345.2h11v5.6h-11zM1001.8 1345.2h11v5.6h-11zM1054.3 1345.2h11v5.6h-11zM435.3 1350.3h11v5.6h-11zM875.9 1350.3h11v5.6h-11zM1358.5 1350.3h11v5.6h-11zM760.5 1355.4h11v5.6h-11z"/>
<path fill="#004cff" d="M330.4 1177h11v5.6h-11zM382.8 1177h11v5.6h-11zM949.3 1177h11v5.6h-11zM1033.3 1177h11v5.6h-11zM1148.7 1177h11v5.6h-11zM1190.6 1177h11v5.6h-11zM634.6 1182.1h11v5.6h-11zM592.6 1187.2h11v5.6h-11zM781.5 1187.2h11v5.6h-11zM875.9 1187.2h11v5.6h-11zM980.8 1187.2h11v5.6h-11zM991.3 1187.2h11v5.6h-11zM1148.7 1187.2h11v5.6h-11zM235.9 1192.3h11v5.6h-11zM466.7 1192.3h11v5.6h-11zM529.7 1192.3h11v5.6h-11zM540.2 1192.3h11v5.6h-11zM833.9 1192.3h11v5.6h-11zM235.9 1197.4h11v5.6h-11zM508.7 1197.4h11v5.6h-11zM813 1197.4h11v5.6h-11zM886.4 1197.4h11v5.6h-11zM1001.8 1197.4h11v5.6h-11zM1106.7 1197.4h11v5.6h-11zM1232.6 1197.4h11v5.6h-11zM1264.1 1197.4h11v5.6h-11zM256.9 1202.5h11v5.6h-11zM666.1 1202.5h11v5.6h-11zM687.1 1202.5h11v5.6h-11zM708 1202.5h11v5.6h-11zM907.4 1202.5h11v5.6h-11zM1243.1 1202.5h11v5.6h-11zM235.9 1207.6h11v5.6h-11zM288.4 1207.6h11v5.6h-11zM298.9 1207.6h11v5.6h-11zM571.7 1207.6h11v5.6h-11zM603.1 1207.6h11v5.6h-11zM917.9 1207.6h11v5.6h-11zM1075.2 1207.6h11v5.6h-11zM1222.1 1207.6h11v5.6h-11zM1232.6 1207.6h11v5.6h-11zM1285.1 1207.6h11v5.6h-11zM309.4 1212.7h11v5.6h-11zM571.7 1212.7h11v5.6h-11zM582.2 1212.7h11v5.6h-11zM1337.5 1212.7h11v5.6h-11zM215 1217.8h11v5.6h-11zM382.8 1217.8h11v5.6h-11zM540.2 1217.8h11v5.6h-11zM592.6 1217.8h11v5.6h-11zM1022.8 1217.8h11v5.6h-11zM1033.3 1217.8h11v5.6h-11zM1064.8 1217.8h11v5.6h-11zM1190.6 1217.8h11v5.6h-11zM445.8 1222.9h11v5.6h-11zM456.3 1222.9h11v5.6h-11zM540.2 1222.9h11v5.6h-11zM792 1222.9h11v5.6h-11zM1327 1222.9h11v5.6h-11zM487.7 1228h11v5.6h-11zM508.7 1228h11v5.6h-11zM980.8 1228h11v5.6h-11zM1022.8 1228h11v5.6h-11zM508.7 1233.1h11v5.6h-11zM1001.8 1233.1h11v5.6h-11zM1012.3 1233.1h11v5.6h-11zM1169.7 1233.1h11v5.6h-11zM173 1238.2h11v5.6h-11zM309.4 1238.2h11v5.6h-11zM319.9 1238.2h11v5.6h-11zM393.3 1238.2h11v5.6h-11zM833.9 1238.2h11v5.6h-11zM1159.2 1238.2h11v5.6h-11zM1211.6 1238.2h11v5.6h-11zM1222.1 1238.2h11v5.6h-11zM1232.6 1238.2h11v5.6h-11zM194 1243.3h11v5.6h-11zM277.9 1243.3h11v5.6h-11zM393.3 1243.3h11v5.6h-11zM456.3 1243.3h11v5.6h-11zM571.7 1243.3h11v5.6h-11zM582.2 1243.3h11v5.6h-11zM655.6 1243.3h11v5.6h-11zM750 1243.3h11v5.6h-11zM833.9 1243.3h11v5.6h-11zM844.4 1243.3h11v5.6h-11zM1243.1 1243.3h11v5.6h-11zM1264.1 1243.3h11v5.6h-11zM173 1248.4h11v5.6h-11zM194 1248.4h11v5.6h-11zM477.2 1248.4h11v5.6h-11zM666.1 1248.4h11v5.6h-11zM697.6 1248.4h11v5.6h-11zM980.8 1248.4h11v5.6h-11zM1190.6 1248.4h11v5.6h-11zM1201.1 1248.4h11v5.6h-11zM288.4 1253.5h11v5.6h-11zM309.4 1253.5h11v5.6h-11zM351.3 1253.5h11v5.6h-11zM833.9 1253.5h11v5.6h-11zM844.4 1253.5h11v5.6h-11zM1043.8 1253.5h11v5.6h-11zM833.9 1258.6h11v5.6h-11zM1222.1 1258.6h11v5.6h-11zM225.4 1263.7h11v5.6h-11zM235.9 1263.7h11v5.6h-11zM487.7 1263.7h11v5.6h-11zM498.2 1263.7h11v5.6h-11zM529.7 1263.7h11v5.6h-11zM540.2 1263.7h11v5.6h-11zM603.1 1263.7h11v5.6h-11zM917.9 1263.7h11v5.6h-11zM592.6 1268.8h11v5.6h-11zM1043.8 1268.8h11v5.6h-11zM382.8 1273.8h11v5.6h-11zM519.2 1273.8h11v5.6h-11zM1001.8 1273.8h11v5.6h-11zM1348 1273.8h11v5.6h-11zM424.8 1278.9h11v5.6h-11zM487.7 1278.9h11v5.6h-11zM498.2 1278.9h11v5.6h-11zM1033.3 1278.9h11v5.6h-11zM1222.1 1278.9h11v5.6h-11zM173 1284h11v5.6h-11zM194 1284h11v5.6h-11zM340.9 1284h11v5.6h-11zM645.1 1284h11v5.6h-11zM1190.6 1284h11v5.6h-11zM215 1294.2h11v5.6h-11zM309.4 1294.2h11v5.6h-11zM361.8 1294.2h11v5.6h-11zM414.3 1294.2h11v5.6h-11zM477.2 1294.2h11v5.6h-11zM645.1 1294.2h11v5.6h-11zM655.6 1294.2h11v5.6h-11zM917.9 1294.2h11v5.6h-11zM1033.3 1294.2h11v5.6h-11zM1148.7 1294.2h11v5.6h-11zM1274.6 1294.2h11v5.6h-11zM1285.1 1294.2h11v5.6h-11zM1316.5 1294.2h11v5.6h-11zM277.9 1299.3h11v5.6h-11zM309.4 1299.3h11v5.6h-11zM330.4 1299.3h11v5.6h-11zM393.3 1299.3h11v5.6h-11zM1054.3 1299.3h11v5.6h-11zM1085.7 1299.3h11v5.6h-11zM1096.2 1299.3h11v5.6h-11zM1106.7 1299.3h11v5.6h-11zM1117.2 1299.3h11v5.6h-11zM1316.5 1299.3h11v5.6h-11zM194 1304.4h11v5.6h-11zM477.2 1304.4h11v5.6h-11zM487.7 1304.4h11v5.6h-11zM928.4 1304.4h11v5.6h-11zM1054.3 1304.4h11v5.6h-11zM1264.1 1304.4h11v5.6h-11zM330.4 1309.5h11v5.6h-11zM340.9 1309.5h11v5.6h-11zM529.7 1309.5h11v5.6h-11zM634.6 1309.5h11v5.6h-11zM1043.8 1309.5h11v5.6h-11zM1211.6 1309.5h11v5.6h-11zM1222.1 1309.5h11v5.6h-11zM194 1314.6h11v5.6h-11zM351.3 1314.6h11v5.6h-11zM1085.7 1314.6h11v5.6h-11zM1190.6 1314.6h11v5.6h-11zM1243.1 1314.6h11v5.6h-11zM1306.1 1314.6h11v5.6h-11zM1358.5 1314.6h11v5.6h-11zM655.6 1319.7h11v5.6h-11zM771 1319.7h11v5.6h-11zM991.3 1319.7h11v5.6h-11zM1033.3 1319.7h11v5.6h-11zM1169.7 1319.7h11v5.6h-11zM173 1324.8h11v5.6h-11zM456.3 1324.8h11v5.6h-11zM792 1324.8h11v5.6h-11zM813 1324.8h11v5.6h-11zM991.3 1324.8h11v5.6h-11zM1096.2 1324.8h11v5.6h-11zM1243.1 1324.8h11v5.6h-11zM697.6 1329.9h11v5.6h-11zM718.5 1329.9h11v5.6h-11zM886.4 1335h11v5.6h-11zM1274.6 1335h11v5.6h-11zM1285.1 1335h11v5.6h-11zM1012.3 1340.1h11v5.6h-11zM351.3 1345.2h11v5.6h-11zM550.7 1345.2h11v5.6h-11zM729 1345.2h11v5.6h-11zM750 1345.2h11v5.6h-11zM1012.3 1345.2h11v5.6h-11zM1274.6 1345.2h11v5.6h-11zM571.7 1350.3h11v5.6h-11zM1012.3 1350.3h11v5.6h-11zM1096.2 1350.3h11v5.6h-11zM435.3 1355.4h11v5.6h-11zM498.2 1355.4h11v5.6h-11zM708 1355.4h11v5.6h-11zM980.8 1355.4h11v5.6h-11zM1232.6 1355.4h11v5.6h-11zM1327 1355.4h11v5.6h-11zM1358.5 1355.4h11v5.6h-11z"/>
<path fill="#0059ff" d="M875.9 1177h11v5.6h-11zM1127.7 1177h11v5.6h-11zM1211.6 1177h11v5.6h-11zM319.9 1182.1h11v5.6h-11zM382.8 1182.1h11v5.6h-11zM592.6 1182.1h11v5.6h-11zM1033.3 1182.1h11v5.6h-11zM1159.2 1182.1h11v5.6h-11zM1190.6 1182.1h11v5.6h-11zM256.9 1187.2h11v5.6h-11zM267.4 1187.2h11v5.6h-11zM529.7 1187.2h11v5.6h-11zM624.1 1187.2h11v5.6h-11zM645.1 1187.2h11v5.6h-11zM833.9 1187.2h11v5.6h-11zM844.4 1187.2h11v5.6h-11zM854.9 1187.2h11v5.6h-11zM1180.2 1187.2h11v5.6h-11zM477.2 1192.3h11v5.6h-11zM844.4 1192.3h11v5.6h-11zM875.9 1192.3h11v5.6h-11zM1012.3 1192.3h11v5.6h-11zM1211.6 1192.3h11v5.6h-11zM1054.3 1197.4h11v5.6h-11zM1096.2 1197.4h11v5.6h-11zM361.8 1202.5h11v5.6h-11zM382.8 1202.5h11v5.6h-11zM865.4 1202.5h11v5.6h-11zM917.9 1202.5h11v5.6h-11zM1222.1 1202.5h11v5.6h-11zM592.6 1207.6h11v5.6h-11zM613.6 1207.6h11v5.6h-11zM624.1 1207.6h11v5.6h-11zM235.9 1212.7h11v5.6h-11zM319.9 1212.7h11v5.6h-11zM372.3 1212.7h11v5.6h-11zM687.1 1212.7h11v5.6h-11zM823.5 1212.7h11v5.6h-11zM246.4 1217.8h11v5.6h-11zM466.7 1217.8h11v5.6h-11zM582.2 1217.8h11v5.6h-11zM949.3 1217.8h11v5.6h-11zM970.3 1217.8h11v5.6h-11zM1001.8 1217.8h11v5.6h-11zM1085.7 1217.8h11v5.6h-11zM1117.2 1217.8h11v5.6h-11zM529.7 1222.9h11v5.6h-11zM938.9 1222.9h11v5.6h-11zM330.4 1228h11v5.6h-11zM1337.5 1228h11v5.6h-11zM1348 1228h11v5.6h-11zM173 1233.1h11v5.6h-11zM1022.8 1233.1h11v5.6h-11zM1064.8 1233.1h11v5.6h-11zM298.9 1238.2h11v5.6h-11zM330.4 1238.2h11v5.6h-11zM655.6 1238.2h11v5.6h-11zM739.5 1238.2h11v5.6h-11zM854.9 1238.2h11v5.6h-11zM1043.8 1238.2h11v5.6h-11zM1337.5 1238.2h11v5.6h-11zM1358.5 1238.2h11v5.6h-11zM225.4 1243.3h11v5.6h-11zM267.4 1243.3h11v5.6h-11zM466.7 1243.3h11v5.6h-11zM477.2 1243.3h11v5.6h-11zM487.7 1243.3h11v5.6h-11zM813 1243.3h11v5.6h-11zM917.9 1243.3h11v5.6h-11zM1253.6 1243.3h11v5.6h-11zM235.9 1248.4h11v5.6h-11zM708 1248.4h11v5.6h-11zM823.5 1248.4h11v5.6h-11zM991.3 1248.4h11v5.6h-11zM1106.7 1248.4h11v5.6h-11zM1148.7 1248.4h11v5.6h-11zM1211.6 1248.4h11v5.6h-11zM1295.6 1248.4h11v5.6h-11zM687.1 1253.5h11v5.6h-11zM697.6 1253.5h11v5.6h-11zM813 1253.5h11v5.6h-11zM991.3 1253.5h11v5.6h-11zM1190.6 1253.5h11v5.6h-11zM1211.6 1253.5h11v5.6h-11zM844.4 1258.6h11v5.6h-11zM949.3 1258.6h11v5.6h-11zM1211.6 1258.6h11v5.6h-11zM319.9 1263.7h11v5.6h-11zM330.4 1263.7h11v5.6h-11zM550.7 1263.7h11v5.6h-11zM582.2 1263.7h11v5.6h-11zM592.6 1263.7h11v5.6h-11zM886.4 1263.7h11v5.6h-11zM896.9 1263.7h11v5.6h-11zM949.3 1263.7h11v5.6h-11zM1012.3 1263.7h11v5.6h-11zM1033.3 1263.7h11v5.6h-11zM1243.1 1263.7h11v5.6h-11zM1264.1 1263.7h11v5.6h-11zM1274.6 1263.7h11v5.6h-11zM319.9 1268.8h11v5.6h-11zM634.6 1268.8h11v5.6h-11zM875.9 1268.8h11v5.6h-11zM970.3 1268.8h11v5.6h-11zM1001.8 1268.8h11v5.6h-11zM1012.3 1268.8h11v5.6h-11zM1316.5 1268.8h11v5.6h-11zM1358.5 1268.8h11v5.6h-11zM592.6 1273.8h11v5.6h-11zM1295.6 1273.8h11v5.6h-11zM445.8 1278.9h11v5.6h-11zM466.7 1278.9h11v5.6h-11zM477.2 1278.9h11v5.6h-11zM886.4 1278.9h11v5.6h-11zM959.8 1278.9h11v5.6h-11zM991.3 1278.9h11v5.6h-11zM1243.1 1278.9h11v5.6h-11zM403.8 1284h11v5.6h-11zM613.6 1284h11v5.6h-11zM886.4 1284h11v5.6h-11zM938.9 1284h11v5.6h-11zM1096.2 1284h11v5.6h-11zM1138.2 1284h11v5.6h-11zM256.9 1289.1h11v5.6h-11zM529.7 1289.1h11v5.6h-11zM624.1 1289.1h11v5.6h-11zM1001.8 1289.1h11v5.6h-11zM1096.2 1289.1h11v5.6h-11zM1106.7 1289.1h11v5.6h-11zM561.2 1294.2h11v5.6h-11zM991.3 1294.2h11v5.6h-11zM1127.7 1294.2h11v5.6h-11zM319.9 1299.3h11v5.6h-11zM382.8 1299.3h11v5.6h-11zM739.5 1299.3h11v5.6h-11zM833.9 1299.3h11v5.6h-11zM854.9 1299.3h11v5.6h-11zM886.4 1299.3h11v5.6h-11zM1274.6 1299.3h11v5.6h-11zM1358.5 1299.3h11v5.6h-11zM582.2 1304.4h11v5.6h-11zM414.3 1309.5h11v5.6h-11zM1054.3 1309.5h11v5.6h-11zM1190.6 1309.5h11v5.6h-11zM1201.1 1309.5h11v5.6h-11zM1243.1 1309.5h11v5.6h-11zM256.9 1314.6h11v5.6h-11zM267.4 1314.6h11v5.6h-11zM340.9 1314.6h11v5.6h-11zM435.3 1314.6h11v5.6h-11zM571.7 1314.6h11v5.6h-11zM739.5 1319.7h11v5.6h-11zM750 1319.7h11v5.6h-11zM781.5 1319.7h11v5.6h-11zM833.9 1319.7h11v5.6h-11zM1043.8 1319.7h11v5.6h-11zM1222.1 1319.7h11v5.6h-11zM1232.6 1319.7h11v5.6h-11zM424.8 1324.8h11v5.6h-11zM687.1 1324.8h11v5.6h-11zM1169.7 1324.8h11v5.6h-11zM435.3 1329.9h11v5.6h-11zM655.6 1329.9h11v5.6h-11zM802.5 1329.9h11v5.6h-11zM1096.2 1329.9h11v5.6h-11zM1211.6 1329.9h11v5.6h-11zM1222.1 1329.9h11v5.6h-11zM760.5 1335h11v5.6h-11zM771 1335h11v5.6h-11zM802.5 1335h11v5.6h-11zM896.9 1335h11v5.6h-11zM298.9 1340.1h11v5.6h-11zM603.1 1340.1h11v5.6h-11zM624.1 1340.1h11v5.6h-11zM875.9 1340.1h11v5.6h-11zM886.4 1340.1h11v5.6h-11zM1022.8 1340.1h11v5.6h-11zM1348 1340.1h11v5.6h-11zM225.4 1345.2h11v5.6h-11zM393.3 1345.2h11v5.6h-11zM424.8 1345.2h11v5.6h-11zM435.3 1345.2h11v5.6h-11zM445.8 1345.2h11v5.6h-11zM456.3 1345.2h11v5.6h-11zM477.2 1345.2h11v5.6h-11zM561.2 1345.2h11v5.6h-11zM603.1 1345.2h11v5.6h-11zM1243.1 1345.2h11v5.6h-11zM1285.1 1345.2h11v5.6h-11zM1211.6 1350.3h11v5.6h-11zM183.5 1355.4h11v5.6h-11zM235.9 1355.4h11v5.6h-11zM445.8 1355.4h11v5.6h-11zM729 1355.4h11v5.6h-11zM771 1355.4h11v5.6h-11zM1075.2 1355.4h11v5.6h-11zM1096.2 1355.4h11v5.6h-11zM1264.1 1355.4h11v5.6h-11z"/>
<path fill="#0065ff" d="M414.3 1177h11v5.6h-11zM540.2 1177h11v5.6h-11zM634.6 1177h11v5.6h-11zM833.9 1177h11v5.6h-11zM1201.1 1177h11v5.6h-11zM844.4 1182.1h11v5.6h-11zM875.9 1182.1h11v5.6h-11zM277.9 1187.2h11v5.6h-11zM403.8 1187.2h11v5.6h-11zM466.7 1187.2h11v5.6h-11zM550.7 1187.2h11v5.6h-11zM865.4 1187.2h11v5.6h-11zM487.7 1192.3h11v5.6h-11zM582.2 1192.3h11v5.6h-11zM687.1 1192.3h11v5.6h-11zM854.9 1192.3h11v5.6h-11zM645.1 1197.4h11v5.6h-11zM865.4 1197.4h11v5.6h-11zM372.3 1202.5h11v5.6h-11zM645.1 1202.5h11v5.6h-11zM697.6 1202.5h11v5.6h-11zM1096.2 1202.5h11v5.6h-11zM634.6 1207.6h11v5.6h-11zM875.9 1207.6h11v5.6h-11zM215 1212.7h11v5.6h-11zM361.8 1212.7h11v5.6h-11zM1033.3 1212.7h11v5.6h-11zM1327 1212.7h11v5.6h-11zM1075.2 1217.8h11v5.6h-11zM907.4 1222.9h11v5.6h-11zM928.4 1222.9h11v5.6h-11zM991.3 1222.9h11v5.6h-11zM1064.8 1222.9h11v5.6h-11zM1106.7 1228h11v5.6h-11zM1358.5 1228h11v5.6h-11zM183.5 1233.1h11v5.6h-11zM235.9 1233.1h11v5.6h-11zM529.7 1233.1h11v5.6h-11zM592.6 1233.1h11v5.6h-11zM687.1 1233.1h11v5.6h-11zM823.5 1233.1h11v5.6h-11zM928.4 1233.1h11v5.6h-11zM1033.3 1233.1h11v5.6h-11zM1043.8 1233.1h11v5.6h-11zM1306.1 1233.1h11v5.6h-11zM1348 1233.1h11v5.6h-11zM256.9 1238.2h11v5.6h-11zM477.2 1238.2h11v5.6h-11zM844.4 1238.2h11v5.6h-11zM865.4 1238.2h11v5.6h-11zM382.8 1243.3h11v5.6h-11zM739.5 1243.3h11v5.6h-11zM802.5 1243.3h11v5.6h-11zM1138.2 1243.3h11v5.6h-11zM1148.7 1243.3h11v5.6h-11zM1358.5 1243.3h11v5.6h-11zM708 1253.5h11v5.6h-11zM1201.1 1258.6h11v5.6h-11zM309.4 1263.7h11v5.6h-11zM771 1263.7h11v5.6h-11zM854.9 1263.7h11v5.6h-11zM875.9 1263.7h11v5.6h-11zM907.4 1263.7h11v5.6h-11zM1085.7 1263.7h11v5.6h-11zM1106.7 1263.7h11v5.6h-11zM519.2 1268.8h11v5.6h-11zM529.7 1268.8h11v5.6h-11zM645.1 1268.8h11v5.6h-11zM865.4 1268.8h11v5.6h-11zM896.9 1268.8h11v5.6h-11zM1022.8 1268.8h11v5.6h-11zM1033.3 1268.8h11v5.6h-11zM1327 1268.8h11v5.6h-11zM1337.5 1268.8h11v5.6h-11zM1043.8 1273.8h11v5.6h-11zM330.4 1278.9h11v5.6h-11zM980.8 1278.9h11v5.6h-11zM1085.7 1278.9h11v5.6h-11zM1232.6 1278.9h11v5.6h-11zM204.5 1284h11v5.6h-11zM330.4 1284h11v5.6h-11zM896.9 1284h11v5.6h-11zM1222.1 1284h11v5.6h-11zM466.7 1289.1h11v5.6h-11zM928.4 1289.1h11v5.6h-11zM991.3 1289.1h11v5.6h-11zM1085.7 1289.1h11v5.6h-11zM1222.1 1289.1h11v5.6h-11zM1264.1 1289.1h11v5.6h-11zM204.5 1294.2h11v5.6h-11zM277.9 1294.2h11v5.6h-11zM319.9 1294.2h11v5.6h-11zM393.3 1294.2h11v5.6h-11zM907.4 1294.2h11v5.6h-11zM1096.2 1294.2h11v5.6h-11zM1159.2 1294.2h11v5.6h-11zM1222.1 1294.2h11v5.6h-11zM403.8 1299.3h11v5.6h-11zM508.7 1299.3h11v5.6h-11zM529.7 1299.3h11v5.6h-11zM540.2 1299.3h11v5.6h-11zM771 1299.3h11v5.6h-11zM875.9 1299.3h11v5.6h-11zM949.3 1299.3h11v5.6h-11zM1127.7 1299.3h11v5.6h-11zM1211.6 1299.3h11v5.6h-11zM162.5 1304.4h11v5.6h-11zM372.3 1304.4h11v5.6h-11zM382.8 1304.4h11v5.6h-11zM550.7 1304.4h11v5.6h-11zM561.2 1304.4h11v5.6h-11zM917.9 1304.4h11v5.6h-11zM1232.6 1304.4h11v5.6h-11zM235.9 1309.5h11v5.6h-11zM466.7 1309.5h11v5.6h-11zM645.1 1309.5h11v5.6h-11zM183.5 1314.6h11v5.6h-11zM235.9 1314.6h11v5.6h-11zM582.2 1314.6h11v5.6h-11zM896.9 1314.6h11v5.6h-11zM1043.8 1314.6h11v5.6h-11zM1295.6 1314.6h11v5.6h-11zM1327 1314.6h11v5.6h-11zM865.4 1319.7h11v5.6h-11zM896.9 1319.7h11v5.6h-11zM1243.1 1319.7h11v5.6h-11zM466.7 1324.8h11v5.6h-11zM771 1324.8h11v5.6h-11zM183.5 1329.9h11v5.6h-11zM666.1 1329.9h11v5.6h-11zM875.9 1335h11v5.6h-11zM980.8 1335h11v5.6h-11zM991.3 1335h11v5.6h-11zM361.8 1340.1h11v5.6h-11zM435.3 1340.1h11v5.6h-11zM833.9 1340.1h11v5.6h-11zM1001.8 1340.1h11v5.6h-11zM1316.5 1340.1h11v5.6h-11zM340.9 1345.2h11v5.6h-11zM896.9 1345.2h11v5.6h-11zM907.4 1345.2h11v5.6h-11zM991.3 1345.2h11v5.6h-11zM424.8 1350.3h11v5.6h-11zM466.7 1350.3h11v5.6h-11zM676.6 1350.3h11v5.6h-11zM361.8 1355.4h11v5.6h-11zM372.3 1355.4h11v5.6h-11zM477.2 1355.4h11v5.6h-11zM561.2 1355.4h11v5.6h-11zM917.9 1355.4h11v5.6h-11zM991.3 1355.4h11v5.6h-11zM1127.7 1355.4h11v5.6h-11z"/>
<path fill="#0072ff" d="M393.3 1177h11v5.6h-11zM403.8 1177h11v5.6h-11zM854.9 1177h11v5.6h-11zM1306.1 1177h11v5.6h-11zM697.6 1182.1h11v5.6h-11zM708 1182.1h11v5.6h-11zM1043.8 1182.1h11v5.6h-11zM1054.3 1182.1h11v5.6h-11zM1180.2 1182.1h11v5.6h-11zM487.7 1187.2h11v5.6h-11zM498.2 1187.2h11v5.6h-11zM802.5 1187.2h11v5.6h-11zM1096.2 1187.2h11v5.6h-11zM813 1192.3h11v5.6h-11zM865.4 1192.3h11v5.6h-11zM1327 1192.3h11v5.6h-11zM571.7 1197.4h11v5.6h-11zM592.6 1197.4h11v5.6h-11zM634.6 1197.4h11v5.6h-11zM823.5 1197.4h11v5.6h-11zM875.9 1197.4h11v5.6h-11zM1022.8 1197.4h11v5.6h-11zM634.6 1202.5h11v5.6h-11zM582.2 1207.6h11v5.6h-11zM813 1207.6h11v5.6h-11zM833.9 1207.6h11v5.6h-11zM844.4 1207.6h11v5.6h-11zM225.4 1212.7h11v5.6h-11zM340.9 1212.7h11v5.6h-11zM351.3 1212.7h11v5.6h-11zM256.9 1217.8h11v5.6h-11zM561.2 1217.8h11v5.6h-11zM959.8 1217.8h11v5.6h-11zM1054.3 1217.8h11v5.6h-11zM1106.7 1217.8h11v5.6h-11zM771 1222.9h11v5.6h-11zM309.4 1228h11v5.6h-11zM865.4 1228h11v5.6h-11zM1148.7 1228h11v5.6h-11zM519.2 1233.1h11v5.6h-11zM582.2 1233.1h11v5.6h-11zM991.3 1233.1h11v5.6h-11zM1337.5 1233.1h11v5.6h-11zM498.2 1238.2h11v5.6h-11zM802.5 1238.2h11v5.6h-11zM1306.1 1238.2h11v5.6h-11zM246.4 1243.3h11v5.6h-11zM361.8 1243.3h11v5.6h-11zM666.1 1243.3h11v5.6h-11zM938.9 1243.3h11v5.6h-11zM949.3 1243.3h11v5.6h-11zM991.3 1243.3h11v5.6h-11zM1285.1 1243.3h11v5.6h-11zM319.9 1248.4h11v5.6h-11zM330.4 1248.4h11v5.6h-11zM466.7 1248.4h11v5.6h-11zM865.4 1248.4h11v5.6h-11zM875.9 1248.4h11v5.6h-11zM959.8 1248.4h11v5.6h-11zM215 1253.5h11v5.6h-11zM277.9 1253.5h11v5.6h-11zM298.9 1253.5h11v5.6h-11zM330.4 1253.5h11v5.6h-11zM750 1253.5h11v5.6h-11zM886.4 1253.5h11v5.6h-11zM1201.1 1253.5h11v5.6h-11zM1358.5 1253.5h11v5.6h-11zM823.5 1258.6h11v5.6h-11zM959.8 1258.6h11v5.6h-11zM256.9 1263.7h11v5.6h-11zM277.9 1263.7h11v5.6h-11zM298.9 1263.7h11v5.6h-11zM571.7 1263.7h11v5.6h-11zM833.9 1263.7h11v5.6h-11zM1096.2 1263.7h11v5.6h-11zM1253.6 1263.7h11v5.6h-11zM215 1268.8h11v5.6h-11zM624.1 1268.8h11v5.6h-11zM750 1268.8h11v5.6h-11zM760.5 1268.8h11v5.6h-11zM854.9 1268.8h11v5.6h-11zM886.4 1268.8h11v5.6h-11zM582.2 1273.8h11v5.6h-11zM603.1 1273.8h11v5.6h-11zM613.6 1273.8h11v5.6h-11zM1064.8 1273.8h11v5.6h-11zM1285.1 1273.8h11v5.6h-11zM1358.5 1273.8h11v5.6h-11zM309.4 1284h11v5.6h-11zM1106.7 1284h11v5.6h-11zM1211.6 1284h11v5.6h-11zM1306.1 1284h11v5.6h-11zM1327 1284h11v5.6h-11zM246.4 1289.1h11v5.6h-11zM330.4 1289.1h11v5.6h-11zM949.3 1289.1h11v5.6h-11zM970.3 1289.1h11v5.6h-11zM980.8 1289.1h11v5.6h-11zM162.5 1294.2h11v5.6h-11zM372.3 1294.2h11v5.6h-11zM382.8 1294.2h11v5.6h-11zM403.8 1294.2h11v5.6h-11zM896.9 1294.2h11v5.6h-11zM1327 1294.2h11v5.6h-11zM246.4 1299.3h11v5.6h-11zM267.4 1299.3h11v5.6h-11zM865.4 1299.3h11v5.6h-11zM896.9 1299.3h11v5.6h-11zM938.9 1299.3h11v5.6h-11zM1033.3 1299.3h11v5.6h-11zM1043.8 1299.3h11v5.6h-11zM1264.1 1299.3h11v5.6h-11zM1348 1299.3h11v5.6h-11zM173 1304.4h11v5.6h-11zM1295.6 1304.4h11v5.6h-11zM1159.2 1309.5h11v5.6h-11zM246.4 1314.6h11v5.6h-11zM508.7 1314.6h11v5.6h-11zM561.2 1314.6h11v5.6h-11zM1285.1 1314.6h11v5.6h-11zM1253.6 1319.7h11v5.6h-11zM183.5 1324.8h11v5.6h-11zM655.6 1324.8h11v5.6h-11zM1075.2 1324.8h11v5.6h-11zM1085.7 1324.8h11v5.6h-11zM1138.2 1324.8h11v5.6h-11zM1180.2 1324.8h11v5.6h-11zM582.2 1329.9h11v5.6h-11zM676.6 1329.9h11v5.6h-11zM1001.8 1329.9h11v5.6h-11zM1012.3 1329.9h11v5.6h-11zM1243.1 1329.9h11v5.6h-11zM582.2 1335h11v5.6h-11zM1001.8 1335h11v5.6h-11zM1054.3 1335h11v5.6h-11zM1295.6 1335h11v5.6h-11zM634.6 1340.1h11v5.6h-11zM760.5 1340.1h11v5.6h-11zM938.9 1340.1h11v5.6h-11zM949.3 1340.1h11v5.6h-11zM1358.5 1340.1h11v5.6h-11zM634.6 1345.2h11v5.6h-11zM655.6 1345.2h11v5.6h-11zM739.5 1345.2h11v5.6h-11zM750 1350.3h11v5.6h-11zM760.5 1350.3h11v5.6h-11zM1001.8 1350.3h11v5.6h-11zM1327 1350.3h11v5.6h-11zM162.5 1355.4h11v5.6h-11zM173 1355.4h11v5.6h-11zM907.4 1355.4h11v5.6h-11zM928.4 1355.4h11v5.6h-11zM1159.2 1355.4h11v5.6h-11zM1316.5 1355.4h11v5.6h-11z"/>
<path fill="#007fff" d="M865.4 1177h11v5.6h-11zM1285.1 1177h11v5.6h-11zM582.2 1182.1h11v5.6h-11zM1169.7 1182.1h11v5.6h-11zM813 1187.2h11v5.6h-11zM823.5 1187.2h11v5.6h-11zM645.1 1192.3h11v5.6h-11zM823.5 1192.3h11v5.6h-11zM854.9 1197.4h11v5.6h-11zM582.2 1202.5h11v5.6h-11zM1085.7 1202.5h11v5.6h-11zM550.7 1217.8h11v5.6h-11zM571.7 1217.8h11v5.6h-11zM980.8 1217.8h11v5.6h-11zM1096.2 1217.8h11v5.6h-11zM781.5 1222.9h11v5.6h-11zM949.3 1222.9h11v5.6h-11zM319.9 1228h11v5.6h-11zM949.3 1228h11v5.6h-11zM1033.3 1228h11v5.6h-11zM1075.2 1228h11v5.6h-11zM1127.7 1228h11v5.6h-11zM1159.2 1233.1h11v5.6h-11zM1180.2 1233.1h11v5.6h-11zM666.1 1238.2h11v5.6h-11zM823.5 1238.2h11v5.6h-11zM1316.5 1238.2h11v5.6h-11zM1327 1238.2h11v5.6h-11zM173 1243.3h11v5.6h-11zM372.3 1243.3h11v5.6h-11zM676.6 1243.3h11v5.6h-11zM687.1 1243.3h11v5.6h-11zM697.6 1243.3h11v5.6h-11zM718.5 1243.3h11v5.6h-11zM823.5 1243.3h11v5.6h-11zM928.4 1243.3h11v5.6h-11zM980.8 1243.3h11v5.6h-11zM1337.5 1243.3h11v5.6h-11zM1348 1243.3h11v5.6h-11zM718.5 1248.4h11v5.6h-11zM771 1248.4h11v5.6h-11zM938.9 1248.4h11v5.6h-11zM970.3 1248.4h11v5.6h-11zM1127.7 1248.4h11v5.6h-11zM225.4 1253.5h11v5.6h-11zM235.9 1253.5h11v5.6h-11zM256.9 1253.5h11v5.6h-11zM267.4 1253.5h11v5.6h-11zM760.5 1253.5h11v5.6h-11zM854.9 1253.5h11v5.6h-11zM896.9 1253.5h11v5.6h-11zM980.8 1253.5h11v5.6h-11zM1033.3 1253.5h11v5.6h-11zM1306.1 1253.5h11v5.6h-11zM361.8 1258.6h11v5.6h-11zM382.8 1258.6h11v5.6h-11zM687.1 1258.6h11v5.6h-11zM697.6 1258.6h11v5.6h-11zM1295.6 1258.6h11v5.6h-11zM267.4 1263.7h11v5.6h-11zM288.4 1263.7h11v5.6h-11zM645.1 1263.7h11v5.6h-11zM760.5 1263.7h11v5.6h-11zM781.5 1263.7h11v5.6h-11zM865.4 1263.7h11v5.6h-11zM1022.8 1263.7h11v5.6h-11zM550.7 1268.8h11v5.6h-11zM603.1 1268.8h11v5.6h-11zM991.3 1268.8h11v5.6h-11zM246.4 1273.8h11v5.6h-11zM277.9 1273.8h11v5.6h-11zM340.9 1273.8h11v5.6h-11zM907.4 1273.8h11v5.6h-11zM917.9 1273.8h11v5.6h-11zM246.4 1278.9h11v5.6h-11zM319.9 1278.9h11v5.6h-11zM456.3 1278.9h11v5.6h-11zM970.3 1278.9h11v5.6h-11zM1274.6 1278.9h11v5.6h-11zM1348 1278.9h11v5.6h-11zM319.9 1284h11v5.6h-11zM1201.1 1284h11v5.6h-11zM1316.5 1284h11v5.6h-11zM267.4 1289.1h11v5.6h-11zM277.9 1289.1h11v5.6h-11zM288.4 1289.1h11v5.6h-11zM498.2 1289.1h11v5.6h-11zM540.2 1289.1h11v5.6h-11zM561.2 1289.1h11v5.6h-11zM613.6 1289.1h11v5.6h-11zM634.6 1289.1h11v5.6h-11zM330.4 1294.2h11v5.6h-11zM1190.6 1294.2h11v5.6h-11zM235.9 1299.3h11v5.6h-11zM256.9 1299.3h11v5.6h-11zM477.2 1299.3h11v5.6h-11zM592.6 1299.3h11v5.6h-11zM980.8 1299.3h11v5.6h-11zM1001.8 1299.3h11v5.6h-11zM1012.3 1299.3h11v5.6h-11zM1169.7 1299.3h11v5.6h-11zM1180.2 1299.3h11v5.6h-11zM1222.1 1299.3h11v5.6h-11zM183.5 1304.4h11v5.6h-11zM351.3 1304.4h11v5.6h-11zM571.7 1304.4h11v5.6h-11zM1148.7 1304.4h11v5.6h-11zM225.4 1309.5h11v5.6h-11zM540.2 1309.5h11v5.6h-11zM550.7 1309.5h11v5.6h-11zM655.6 1309.5h11v5.6h-11zM739.5 1309.5h11v5.6h-11zM1117.2 1309.5h11v5.6h-11zM277.9 1314.6h11v5.6h-11zM288.4 1314.6h11v5.6h-11zM361.8 1314.6h11v5.6h-11zM456.3 1314.6h11v5.6h-11zM1159.2 1314.6h11v5.6h-11zM729 1319.7h11v5.6h-11zM277.9 1324.8h11v5.6h-11zM288.4 1324.8h11v5.6h-11zM582.2 1324.8h11v5.6h-11zM666.1 1324.8h11v5.6h-11zM844.4 1324.8h11v5.6h-11zM854.9 1324.8h11v5.6h-11zM886.4 1324.8h11v5.6h-11zM896.9 1324.8h11v5.6h-11zM1159.2 1324.8h11v5.6h-11zM351.3 1329.9h11v5.6h-11zM729 1329.9h11v5.6h-11zM844.4 1329.9h11v5.6h-11zM991.3 1329.9h11v5.6h-11zM571.7 1335h11v5.6h-11zM781.5 1335h11v5.6h-11zM792 1335h11v5.6h-11zM288.4 1340.1h11v5.6h-11zM309.4 1340.1h11v5.6h-11zM445.8 1340.1h11v5.6h-11zM456.3 1340.1h11v5.6h-11zM1337.5 1340.1h11v5.6h-11zM361.8 1345.2h11v5.6h-11zM781.5 1345.2h11v5.6h-11zM1033.3 1345.2h11v5.6h-11zM1043.8 1345.2h11v5.6h-11zM1064.8 1345.2h11v5.6h-11zM477.2 1350.3h11v5.6h-11zM708 1350.3h11v5.6h-11zM739.5 1350.3h11v5.6h-11zM970.3 1350.3h11v5.6h-11zM980.8 1350.3h11v5.6h-11zM991.3 1350.3h11v5.6h-11zM1022.8 1350.3h11v5.6h-11zM1085.7 1350.3h11v5.6h-11zM1201.1 1350.3h11v5.6h-11zM1264.1 1350.3h11v5.6h-11zM424.8 1355.4h11v5.6h-11zM466.7 1355.4h11v5.6h-11zM896.9 1355.4h11v5.6h-11zM970.3 1355.4h11v5.6h-11zM1148.7 1355.4h11v5.6h-11z"/>
<path fill="#008cff" d="M823.5 1177h11v5.6h-11zM844.4 1177h11v5.6h-11zM561.2 1187.2h11v5.6h-11zM844.4 1197.4h11v5.6h-11zM1043.8 1197.4h11v5.6h-11zM865.4 1207.6h11v5.6h-11zM330.4 1212.7h11v5.6h-11zM225.4 1217.8h11v5.6h-11zM991.3 1217.8h11v5.6h-11zM917.9 1222.9h11v5.6h-11zM1106.7 1222.9h11v5.6h-11zM1306.1 1228h11v5.6h-11zM1316.5 1228h11v5.6h-11zM194 1233.1h11v5.6h-11zM204.5 1233.1h11v5.6h-11zM215 1233.1h11v5.6h-11zM225.4 1233.1h11v5.6h-11zM1075.2 1233.1h11v5.6h-11zM1190.6 1233.1h11v5.6h-11zM194 1238.2h11v5.6h-11zM204.5 1238.2h11v5.6h-11zM487.7 1238.2h11v5.6h-11zM508.7 1238.2h11v5.6h-11zM813 1238.2h11v5.6h-11zM896.9 1238.2h11v5.6h-11zM235.9 1243.3h11v5.6h-11zM256.9 1243.3h11v5.6h-11zM1295.6 1243.3h11v5.6h-11zM1306.1 1243.3h11v5.6h-11zM1316.5 1243.3h11v5.6h-11zM760.5 1248.4h11v5.6h-11zM781.5 1248.4h11v5.6h-11zM886.4 1248.4h11v5.6h-11zM896.9 1248.4h11v5.6h-11zM1117.2 1248.4h11v5.6h-11zM1306.1 1248.4h11v5.6h-11zM204.5 1253.5h11v5.6h-11zM246.4 1253.5h11v5.6h-11zM771 1253.5h11v5.6h-11zM875.9 1253.5h11v5.6h-11zM907.4 1253.5h11v5.6h-11zM1348 1253.5h11v5.6h-11zM708 1258.6h11v5.6h-11zM928.4 1258.6h11v5.6h-11zM561.2 1263.7h11v5.6h-11zM708 1263.7h11v5.6h-11zM739.5 1263.7h11v5.6h-11zM823.5 1263.7h11v5.6h-11zM1358.5 1263.7h11v5.6h-11zM267.4 1268.8h11v5.6h-11zM288.4 1268.8h11v5.6h-11zM309.4 1268.8h11v5.6h-11zM540.2 1268.8h11v5.6h-11zM613.6 1268.8h11v5.6h-11zM1348 1268.8h11v5.6h-11zM256.9 1273.8h11v5.6h-11zM267.4 1273.8h11v5.6h-11zM896.9 1273.8h11v5.6h-11zM1054.3 1273.8h11v5.6h-11zM1306.1 1273.8h11v5.6h-11zM1337.5 1273.8h11v5.6h-11zM183.5 1278.9h11v5.6h-11zM204.5 1278.9h11v5.6h-11zM225.4 1278.9h11v5.6h-11zM508.7 1278.9h11v5.6h-11zM603.1 1278.9h11v5.6h-11zM288.4 1284h11v5.6h-11zM760.5 1284h11v5.6h-11zM875.9 1284h11v5.6h-11zM1127.7 1284h11v5.6h-11zM183.5 1289.1h11v5.6h-11zM298.9 1289.1h11v5.6h-11zM319.9 1289.1h11v5.6h-11zM550.7 1289.1h11v5.6h-11zM959.8 1289.1h11v5.6h-11zM1211.6 1294.2h11v5.6h-11zM917.9 1299.3h11v5.6h-11zM928.4 1299.3h11v5.6h-11zM970.3 1299.3h11v5.6h-11zM991.3 1299.3h11v5.6h-11zM1022.8 1299.3h11v5.6h-11zM1159.2 1299.3h11v5.6h-11zM1201.1 1299.3h11v5.6h-11zM1232.6 1299.3h11v5.6h-11zM1327 1299.3h11v5.6h-11zM1337.5 1299.3h11v5.6h-11zM267.4 1304.4h11v5.6h-11zM603.1 1304.4h11v5.6h-11zM655.6 1304.4h11v5.6h-11zM729 1304.4h11v5.6h-11zM886.4 1304.4h11v5.6h-11zM896.9 1304.4h11v5.6h-11zM907.4 1304.4h11v5.6h-11zM1159.2 1304.4h11v5.6h-11zM729 1309.5h11v5.6h-11zM1085.7 1309.5h11v5.6h-11zM162.5 1314.6h11v5.6h-11zM173 1314.6h11v5.6h-11zM424.8 1314.6h11v5.6h-11zM1054.3 1314.6h11v5.6h-11zM1222.1 1314.6h11v5.6h-11zM1232.6 1314.6h11v5.6h-11zM277.9 1319.7h11v5.6h-11zM288.4 1319.7h11v5.6h-11zM718.5 1319.7h11v5.6h-11zM267.4 1324.8h11v5.6h-11zM414.3 1324.8h11v5.6h-11zM823.5 1324.8h11v5.6h-11zM833.9 1324.8h11v5.6h-11zM980.8 1324.8h11v5.6h-11zM194 1329.9h11v5.6h-11zM424.8 1329.9h11v5.6h-11zM561.2 1329.9h11v5.6h-11zM645.1 1329.9h11v5.6h-11zM1043.8 1329.9h11v5.6h-11zM1253.6 1329.9h11v5.6h-11zM1264.1 1329.9h11v5.6h-11zM277.9 1335h11v5.6h-11zM1012.3 1335h11v5.6h-11zM1264.1 1335h11v5.6h-11zM215 1340.1h11v5.6h-11zM351.3 1340.1h11v5.6h-11zM1327 1340.1h11v5.6h-11zM414.3 1350.3h11v5.6h-11zM729 1350.3h11v5.6h-11zM865.4 1350.3h11v5.6h-11zM949.3 1350.3h11v5.6h-11zM959.8 1350.3h11v5.6h-11zM351.3 1355.4h11v5.6h-11zM456.3 1355.4h11v5.6h-11zM582.2 1355.4h11v5.6h-11zM592.6 1355.4h11v5.6h-11zM603.1 1355.4h11v5.6h-11zM613.6 1355.4h11v5.6h-11zM750 1355.4h11v5.6h-11zM1012.3 1355.4h11v5.6h-11zM1085.7 1355.4h11v5.6h-11zM1138.2 1355.4h11v5.6h-11z"/>
<path fill="#0099ff" d="M854.9 1182.1h11v5.6h-11zM865.4 1182.1h11v5.6h-11zM477.2 1187.2h11v5.6h-11zM833.9 1197.4h11v5.6h-11zM235.9 1217.8h11v5.6h-11zM980.8 1222.9h11v5.6h-11zM1096.2 1228h11v5.6h-11zM938.9 1233.1h11v5.6h-11zM246.4 1238.2h11v5.6h-11zM676.6 1238.2h11v5.6h-11zM729 1238.2h11v5.6h-11zM875.9 1238.2h11v5.6h-11zM708 1243.3h11v5.6h-11zM729 1243.3h11v5.6h-11zM970.3 1243.3h11v5.6h-11zM1327 1243.3h11v5.6h-11zM183.5 1248.4h11v5.6h-11zM949.3 1248.4h11v5.6h-11zM1138.2 1248.4h11v5.6h-11zM173 1253.5h11v5.6h-11zM802.5 1253.5h11v5.6h-11zM1316.5 1253.5h11v5.6h-11zM760.5 1258.6h11v5.6h-11zM792 1258.6h11v5.6h-11zM802.5 1258.6h11v5.6h-11zM854.9 1258.6h11v5.6h-11zM1358.5 1258.6h11v5.6h-11zM1295.6 1263.7h11v5.6h-11zM298.9 1268.8h11v5.6h-11zM655.6 1268.8h11v5.6h-11zM833.9 1268.8h11v5.6h-11zM844.4 1268.8h11v5.6h-11zM215 1273.8h11v5.6h-11zM235.9 1278.9h11v5.6h-11zM655.6 1278.9h11v5.6h-11zM235.9 1284h11v5.6h-11zM246.4 1284h11v5.6h-11zM1117.2 1284h11v5.6h-11zM309.4 1289.1h11v5.6h-11zM571.7 1289.1h11v5.6h-11zM907.4 1289.1h11v5.6h-11zM1316.5 1289.1h11v5.6h-11zM235.9 1294.2h11v5.6h-11zM162.5 1299.3h11v5.6h-11zM204.5 1299.3h11v5.6h-11zM498.2 1299.3h11v5.6h-11zM907.4 1299.3h11v5.6h-11zM959.8 1299.3h11v5.6h-11zM1138.2 1299.3h11v5.6h-11zM1190.6 1299.3h11v5.6h-11zM277.9 1304.4h11v5.6h-11zM739.5 1304.4h11v5.6h-11zM750 1304.4h11v5.6h-11zM1190.6 1304.4h11v5.6h-11zM875.9 1309.5h11v5.6h-11zM886.4 1309.5h11v5.6h-11zM917.9 1309.5h11v5.6h-11zM991.3 1309.5h11v5.6h-11zM1106.7 1309.5h11v5.6h-11zM592.6 1314.6h11v5.6h-11zM1211.6 1314.6h11v5.6h-11zM319.9 1319.7h11v5.6h-11zM676.6 1319.7h11v5.6h-11zM875.9 1319.7h11v5.6h-11zM886.4 1319.7h11v5.6h-11zM980.8 1319.7h11v5.6h-11zM477.2 1324.8h11v5.6h-11zM781.5 1324.8h11v5.6h-11zM865.4 1324.8h11v5.6h-11zM907.4 1324.8h11v5.6h-11zM1274.6 1324.8h11v5.6h-11zM854.9 1329.9h11v5.6h-11zM1022.8 1329.9h11v5.6h-11zM1033.3 1329.9h11v5.6h-11zM1201.1 1329.9h11v5.6h-11zM1232.6 1329.9h11v5.6h-11zM592.6 1335h11v5.6h-11zM655.6 1335h11v5.6h-11zM1043.8 1335h11v5.6h-11zM1064.8 1335h11v5.6h-11zM403.8 1340.1h11v5.6h-11zM466.7 1340.1h11v5.6h-11zM802.5 1340.1h11v5.6h-11zM928.4 1340.1h11v5.6h-11zM571.7 1345.2h11v5.6h-11zM592.6 1345.2h11v5.6h-11zM1022.8 1345.2h11v5.6h-11zM194 1350.3h11v5.6h-11zM204.5 1350.3h11v5.6h-11zM487.7 1350.3h11v5.6h-11zM498.2 1350.3h11v5.6h-11zM561.2 1350.3h11v5.6h-11zM718.5 1350.3h11v5.6h-11zM246.4 1355.4h11v5.6h-11zM382.8 1355.4h11v5.6h-11zM508.7 1355.4h11v5.6h-11zM634.6 1355.4h11v5.6h-11zM697.6 1355.4h11v5.6h-11zM938.9 1355.4h11v5.6h-11zM1001.8 1355.4h11v5.6h-11z"/>
<path fill="#00a5ff" d="M687.1 1182.1h11v5.6h-11zM634.6 1187.2h11v5.6h-11zM634.6 1192.3h11v5.6h-11zM1033.3 1197.4h11v5.6h-11zM823.5 1207.6h11v5.6h-11zM854.9 1207.6h11v5.6h-11zM1075.2 1222.9h11v5.6h-11zM1327 1228h11v5.6h-11zM980.8 1233.1h11v5.6h-11zM1148.7 1233.1h11v5.6h-11zM1316.5 1233.1h11v5.6h-11zM1327 1233.1h11v5.6h-11zM183.5 1238.2h11v5.6h-11zM697.6 1238.2h11v5.6h-11zM718.5 1238.2h11v5.6h-11zM886.4 1238.2h11v5.6h-11zM959.8 1243.3h11v5.6h-11zM907.4 1248.4h11v5.6h-11zM928.4 1248.4h11v5.6h-11zM1358.5 1248.4h11v5.6h-11zM194 1253.5h11v5.6h-11zM718.5 1253.5h11v5.6h-11zM865.4 1253.5h11v5.6h-11zM970.3 1253.5h11v5.6h-11zM372.3 1258.6h11v5.6h-11zM739.5 1258.6h11v5.6h-11zM750 1258.6h11v5.6h-11zM781.5 1258.6h11v5.6h-11zM813 1258.6h11v5.6h-11zM1306.1 1258.6h11v5.6h-11zM666.1 1263.7h11v5.6h-11zM687.1 1263.7h11v5.6h-11zM792 1263.7h11v5.6h-11zM844.4 1263.7h11v5.6h-11zM225.4 1268.8h11v5.6h-11zM246.4 1268.8h11v5.6h-11zM277.9 1268.8h11v5.6h-11zM666.1 1268.8h11v5.6h-11zM330.4 1273.8h11v5.6h-11zM886.4 1273.8h11v5.6h-11zM1316.5 1273.8h11v5.6h-11zM194 1278.9h11v5.6h-11zM215 1278.9h11v5.6h-11zM781.5 1278.9h11v5.6h-11zM865.4 1278.9h11v5.6h-11zM875.9 1278.9h11v5.6h-11zM298.9 1284h11v5.6h-11zM750 1284h11v5.6h-11zM477.2 1289.1h11v5.6h-11zM487.7 1289.1h11v5.6h-11zM917.9 1289.1h11v5.6h-11zM246.4 1294.2h11v5.6h-11zM267.4 1294.2h11v5.6h-11zM1201.1 1294.2h11v5.6h-11zM487.7 1299.3h11v5.6h-11zM823.5 1299.3h11v5.6h-11zM1148.7 1299.3h11v5.6h-11zM1253.6 1299.3h11v5.6h-11zM666.1 1304.4h11v5.6h-11zM760.5 1304.4h11v5.6h-11zM771 1304.4h11v5.6h-11zM865.4 1309.5h11v5.6h-11zM1096.2 1309.5h11v5.6h-11zM1127.7 1309.5h11v5.6h-11zM330.4 1314.6h11v5.6h-11zM1201.1 1314.6h11v5.6h-11zM309.4 1319.7h11v5.6h-11zM687.1 1319.7h11v5.6h-11zM959.8 1319.7h11v5.6h-11zM970.3 1319.7h11v5.6h-11zM1085.7 1319.7h11v5.6h-11zM194 1324.8h11v5.6h-11zM204.5 1324.8h11v5.6h-11zM592.6 1324.8h11v5.6h-11zM917.9 1324.8h11v5.6h-11zM340.9 1329.9h11v5.6h-11zM760.5 1329.9h11v5.6h-11zM813 1329.9h11v5.6h-11zM833.9 1329.9h11v5.6h-11zM1127.7 1329.9h11v5.6h-11zM1180.2 1329.9h11v5.6h-11zM1274.6 1329.9h11v5.6h-11zM288.4 1335h11v5.6h-11zM298.9 1335h11v5.6h-11zM561.2 1335h11v5.6h-11zM907.4 1335h11v5.6h-11zM1358.5 1335h11v5.6h-11zM372.3 1340.1h11v5.6h-11zM823.5 1340.1h11v5.6h-11zM896.9 1340.1h11v5.6h-11zM309.4 1345.2h11v5.6h-11zM582.2 1345.2h11v5.6h-11zM645.1 1345.2h11v5.6h-11zM1232.6 1345.2h11v5.6h-11zM215 1350.3h11v5.6h-11zM267.4 1350.3h11v5.6h-11zM277.9 1350.3h11v5.6h-11zM1127.7 1350.3h11v5.6h-11zM739.5 1355.4h11v5.6h-11zM781.5 1355.4h11v5.6h-11zM854.9 1355.4h11v5.6h-11z"/>
<path fill="#00b2ff" d="M1295.6 1177h11v5.6h-11zM959.8 1222.9h11v5.6h-11zM970.3 1228h11v5.6h-11zM949.3 1233.1h11v5.6h-11zM1085.7 1233.1h11v5.6h-11zM708 1238.2h11v5.6h-11zM183.5 1243.3h11v5.6h-11zM183.5 1253.5h11v5.6h-11zM739.5 1253.5h11v5.6h-11zM959.8 1253.5h11v5.6h-11zM1327 1253.5h11v5.6h-11zM771 1258.6h11v5.6h-11zM917.9 1258.6h11v5.6h-11zM1316.5 1258.6h11v5.6h-11zM1327 1258.6h11v5.6h-11zM676.6 1263.7h11v5.6h-11zM697.6 1263.7h11v5.6h-11zM750 1263.7h11v5.6h-11zM1348 1263.7h11v5.6h-11zM813 1268.8h11v5.6h-11zM739.5 1273.8h11v5.6h-11zM1327 1273.8h11v5.6h-11zM309.4 1278.9h11v5.6h-11zM1285.1 1278.9h11v5.6h-11zM215 1284h11v5.6h-11zM225.4 1284h11v5.6h-11zM655.6 1284h11v5.6h-11zM907.4 1284h11v5.6h-11zM194 1289.1h11v5.6h-11zM896.9 1289.1h11v5.6h-11zM666.1 1294.2h11v5.6h-11zM645.1 1299.3h11v5.6h-11zM697.6 1299.3h11v5.6h-11zM613.6 1304.4h11v5.6h-11zM718.5 1304.4h11v5.6h-11zM1180.2 1304.4h11v5.6h-11zM1211.6 1304.4h11v5.6h-11zM1274.6 1304.4h11v5.6h-11zM1285.1 1304.4h11v5.6h-11zM372.3 1309.5h11v5.6h-11zM1148.7 1309.5h11v5.6h-11zM319.9 1314.6h11v5.6h-11zM414.3 1314.6h11v5.6h-11zM498.2 1314.6h11v5.6h-11zM519.2 1314.6h11v5.6h-11zM1064.8 1314.6h11v5.6h-11zM1075.2 1314.6h11v5.6h-11zM173 1319.7h11v5.6h-11zM246.4 1319.7h11v5.6h-11zM708 1319.7h11v5.6h-11zM792 1319.7h11v5.6h-11zM1264.1 1319.7h11v5.6h-11zM215 1324.8h11v5.6h-11zM246.4 1324.8h11v5.6h-11zM875.9 1324.8h11v5.6h-11zM1148.7 1324.8h11v5.6h-11zM687.1 1329.9h11v5.6h-11zM739.5 1329.9h11v5.6h-11zM823.5 1329.9h11v5.6h-11zM980.8 1329.9h11v5.6h-11zM1106.7 1329.9h11v5.6h-11zM1117.2 1329.9h11v5.6h-11zM194 1335h11v5.6h-11zM603.1 1335h11v5.6h-11zM970.3 1335h11v5.6h-11zM1022.8 1335h11v5.6h-11zM1327 1335h11v5.6h-11zM1337.5 1335h11v5.6h-11zM319.9 1340.1h11v5.6h-11zM477.2 1340.1h11v5.6h-11zM592.6 1340.1h11v5.6h-11zM771 1340.1h11v5.6h-11zM781.5 1340.1h11v5.6h-11zM792 1340.1h11v5.6h-11zM813 1340.1h11v5.6h-11zM1306.1 1340.1h11v5.6h-11zM183.5 1345.2h11v5.6h-11zM298.9 1345.2h11v5.6h-11zM372.3 1345.2h11v5.6h-11zM813 1345.2h11v5.6h-11zM508.7 1350.3h11v5.6h-11zM687.1 1350.3h11v5.6h-11zM854.9 1350.3h11v5.6h-11zM1075.2 1350.3h11v5.6h-11zM1180.2 1350.3h11v5.6h-11zM624.1 1355.4h11v5.6h-11zM655.6 1355.4h11v5.6h-11zM666.1 1355.4h11v5.6h-11z"/>
<path fill="#00bfff" d="M970.3 1222.9h11v5.6h-11zM1096.2 1222.9h11v5.6h-11zM1085.7 1228h11v5.6h-11zM1138.2 1228h11v5.6h-11zM970.3 1233.1h11v5.6h-11zM1106.7 1233.1h11v5.6h-11zM1117.2 1233.1h11v5.6h-11zM750 1248.4h11v5.6h-11zM781.5 1253.5h11v5.6h-11zM792 1253.5h11v5.6h-11zM718.5 1258.6h11v5.6h-11zM655.6 1263.7h11v5.6h-11zM729 1263.7h11v5.6h-11zM802.5 1263.7h11v5.6h-11zM813 1263.7h11v5.6h-11zM1306.1 1263.7h11v5.6h-11zM739.5 1268.8h11v5.6h-11zM823.5 1268.8h11v5.6h-11zM319.9 1273.8h11v5.6h-11zM655.6 1273.8h11v5.6h-11zM666.1 1273.8h11v5.6h-11zM729 1273.8h11v5.6h-11zM750 1273.8h11v5.6h-11zM256.9 1278.9h11v5.6h-11zM267.4 1278.9h11v5.6h-11zM634.6 1278.9h11v5.6h-11zM792 1278.9h11v5.6h-11zM1295.6 1278.9h11v5.6h-11zM277.9 1284h11v5.6h-11zM771 1284h11v5.6h-11zM928.4 1284h11v5.6h-11zM582.2 1289.1h11v5.6h-11zM1253.6 1289.1h11v5.6h-11zM781.5 1294.2h11v5.6h-11zM687.1 1299.3h11v5.6h-11zM718.5 1299.3h11v5.6h-11zM729 1299.3h11v5.6h-11zM309.4 1304.4h11v5.6h-11zM624.1 1304.4h11v5.6h-11zM781.5 1304.4h11v5.6h-11zM792 1304.4h11v5.6h-11zM854.9 1304.4h11v5.6h-11zM1201.1 1304.4h11v5.6h-11zM1222.1 1304.4h11v5.6h-11zM403.8 1309.5h11v5.6h-11zM970.3 1309.5h11v5.6h-11zM980.8 1309.5h11v5.6h-11zM393.3 1314.6h11v5.6h-11zM466.7 1314.6h11v5.6h-11zM487.7 1314.6h11v5.6h-11zM550.7 1314.6h11v5.6h-11zM162.5 1319.7h11v5.6h-11zM194 1319.7h11v5.6h-11zM298.9 1319.7h11v5.6h-11zM256.9 1324.8h11v5.6h-11zM298.9 1324.8h11v5.6h-11zM1169.7 1329.9h11v5.6h-11zM949.3 1335h11v5.6h-11zM1033.3 1335h11v5.6h-11zM1306.1 1335h11v5.6h-11zM1348 1335h11v5.6h-11zM340.9 1340.1h11v5.6h-11zM645.1 1340.1h11v5.6h-11zM655.6 1340.1h11v5.6h-11zM666.1 1340.1h11v5.6h-11zM1033.3 1340.1h11v5.6h-11zM1064.8 1340.1h11v5.6h-11zM330.4 1345.2h11v5.6h-11zM382.8 1345.2h11v5.6h-11zM792 1345.2h11v5.6h-11zM823.5 1345.2h11v5.6h-11zM833.9 1345.2h11v5.6h-11zM886.4 1345.2h11v5.6h-11zM225.4 1350.3h11v5.6h-11zM393.3 1350.3h11v5.6h-11zM1190.6 1350.3h11v5.6h-11zM393.3 1355.4h11v5.6h-11zM414.3 1355.4h11v5.6h-11zM550.7 1355.4h11v5.6h-11zM645.1 1355.4h11v5.6h-11zM676.6 1355.4h11v5.6h-11zM687.1 1355.4h11v5.6h-11zM865.4 1355.4h11v5.6h-11zM886.4 1355.4h11v5.6h-11z"/>
<path fill="#00ccff" d="M571.7 1187.2h11v5.6h-11zM582.2 1197.4h11v5.6h-11zM1085.7 1222.9h11v5.6h-11zM959.8 1228h11v5.6h-11zM959.8 1233.1h11v5.6h-11zM215 1238.2h11v5.6h-11zM687.1 1238.2h11v5.6h-11zM1316.5 1248.4h11v5.6h-11zM1337.5 1253.5h11v5.6h-11zM729 1258.6h11v5.6h-11zM1337.5 1258.6h11v5.6h-11zM718.5 1263.7h11v5.6h-11zM1316.5 1263.7h11v5.6h-11zM235.9 1268.8h11v5.6h-11zM771 1268.8h11v5.6h-11zM225.4 1273.8h11v5.6h-11zM235.9 1273.8h11v5.6h-11zM624.1 1273.8h11v5.6h-11zM634.6 1273.8h11v5.6h-11zM875.9 1273.8h11v5.6h-11zM298.9 1278.9h11v5.6h-11zM666.1 1278.9h11v5.6h-11zM833.9 1278.9h11v5.6h-11zM854.9 1278.9h11v5.6h-11zM1306.1 1278.9h11v5.6h-11zM256.9 1284h11v5.6h-11zM676.6 1284h11v5.6h-11zM739.5 1284h11v5.6h-11zM781.5 1284h11v5.6h-11zM235.9 1289.1h11v5.6h-11zM603.1 1289.1h11v5.6h-11zM833.9 1289.1h11v5.6h-11zM844.4 1289.1h11v5.6h-11zM256.9 1294.2h11v5.6h-11zM802.5 1294.2h11v5.6h-11zM676.6 1299.3h11v5.6h-11zM781.5 1299.3h11v5.6h-11zM1243.1 1299.3h11v5.6h-11zM802.5 1304.4h11v5.6h-11zM833.9 1304.4h11v5.6h-11zM865.4 1304.4h11v5.6h-11zM875.9 1304.4h11v5.6h-11zM1169.7 1304.4h11v5.6h-11zM907.4 1309.5h11v5.6h-11zM1138.2 1309.5h11v5.6h-11zM298.9 1314.6h11v5.6h-11zM309.4 1314.6h11v5.6h-11zM403.8 1314.6h11v5.6h-11zM477.2 1314.6h11v5.6h-11zM655.6 1314.6h11v5.6h-11zM183.5 1319.7h11v5.6h-11zM267.4 1319.7h11v5.6h-11zM487.7 1319.7h11v5.6h-11zM697.6 1319.7h11v5.6h-11zM802.5 1319.7h11v5.6h-11zM1358.5 1319.7h11v5.6h-11zM403.8 1324.8h11v5.6h-11zM487.7 1324.8h11v5.6h-11zM519.2 1324.8h11v5.6h-11zM529.7 1324.8h11v5.6h-11zM445.8 1329.9h11v5.6h-11zM865.4 1329.9h11v5.6h-11zM970.3 1329.9h11v5.6h-11zM1138.2 1329.9h11v5.6h-11zM1159.2 1329.9h11v5.6h-11zM1190.6 1329.9h11v5.6h-11zM1316.5 1335h11v5.6h-11zM676.6 1340.1h11v5.6h-11zM907.4 1340.1h11v5.6h-11zM959.8 1340.1h11v5.6h-11zM991.3 1340.1h11v5.6h-11zM288.4 1345.2h11v5.6h-11zM319.9 1345.2h11v5.6h-11zM1222.1 1345.2h11v5.6h-11zM288.4 1350.3h11v5.6h-11zM403.8 1350.3h11v5.6h-11zM519.2 1350.3h11v5.6h-11zM529.7 1350.3h11v5.6h-11zM550.7 1350.3h11v5.6h-11zM697.6 1350.3h11v5.6h-11zM771 1350.3h11v5.6h-11zM844.4 1350.3h11v5.6h-11zM1274.6 1350.3h11v5.6h-11zM267.4 1355.4h11v5.6h-11zM309.4 1355.4h11v5.6h-11zM319.9 1355.4h11v5.6h-11zM844.4 1355.4h11v5.6h-11zM1274.6 1355.4h11v5.6h-11zM1306.1 1355.4h11v5.6h-11z"/>
<path fill="#00d8ff" d="M1138.2 1233.1h11v5.6h-11zM917.9 1248.4h11v5.6h-11zM1348 1248.4h11v5.6h-11zM729 1253.5h11v5.6h-11zM907.4 1258.6h11v5.6h-11zM1348 1258.6h11v5.6h-11zM1327 1263.7h11v5.6h-11zM1337.5 1263.7h11v5.6h-11zM256.9 1268.8h11v5.6h-11zM288.4 1273.8h11v5.6h-11zM645.1 1273.8h11v5.6h-11zM802.5 1273.8h11v5.6h-11zM854.9 1273.8h11v5.6h-11zM865.4 1273.8h11v5.6h-11zM277.9 1278.9h11v5.6h-11zM613.6 1278.9h11v5.6h-11zM624.1 1278.9h11v5.6h-11zM645.1 1278.9h11v5.6h-11zM844.4 1278.9h11v5.6h-11zM1337.5 1278.9h11v5.6h-11zM267.4 1284h11v5.6h-11zM666.1 1284h11v5.6h-11zM718.5 1284h11v5.6h-11zM917.9 1284h11v5.6h-11zM204.5 1289.1h11v5.6h-11zM592.6 1289.1h11v5.6h-11zM645.1 1289.1h11v5.6h-11zM1232.6 1289.1h11v5.6h-11zM760.5 1294.2h11v5.6h-11zM771 1294.2h11v5.6h-11zM792 1294.2h11v5.6h-11zM813 1294.2h11v5.6h-11zM886.4 1294.2h11v5.6h-11zM603.1 1299.3h11v5.6h-11zM708 1299.3h11v5.6h-11zM634.6 1304.4h11v5.6h-11zM645.1 1304.4h11v5.6h-11zM382.8 1309.5h11v5.6h-11zM393.3 1309.5h11v5.6h-11zM896.9 1309.5h11v5.6h-11zM372.3 1314.6h11v5.6h-11zM529.7 1314.6h11v5.6h-11zM603.1 1314.6h11v5.6h-11zM330.4 1319.7h11v5.6h-11zM498.2 1319.7h11v5.6h-11zM225.4 1324.8h11v5.6h-11zM571.7 1324.8h11v5.6h-11zM970.3 1324.8h11v5.6h-11zM414.3 1329.9h11v5.6h-11zM550.7 1329.9h11v5.6h-11zM309.4 1335h11v5.6h-11zM613.6 1335h11v5.6h-11zM393.3 1340.1h11v5.6h-11zM750 1340.1h11v5.6h-11zM917.9 1340.1h11v5.6h-11zM235.9 1345.2h11v5.6h-11zM277.9 1345.2h11v5.6h-11zM802.5 1345.2h11v5.6h-11zM875.9 1345.2h11v5.6h-11zM183.5 1350.3h11v5.6h-11zM1316.5 1350.3h11v5.6h-11zM875.9 1355.4h11v5.6h-11zM949.3 1355.4h11v5.6h-11z"/>
<path fill="#00e5ff" d="M1096.2 1233.1h11v5.6h-11zM1127.7 1233.1h11v5.6h-11zM225.4 1238.2h11v5.6h-11zM235.9 1238.2h11v5.6h-11zM1327 1248.4h11v5.6h-11zM865.4 1258.6h11v5.6h-11zM896.9 1258.6h11v5.6h-11zM676.6 1268.8h11v5.6h-11zM802.5 1268.8h11v5.6h-11zM844.4 1273.8h11v5.6h-11zM288.4 1278.9h11v5.6h-11zM1316.5 1278.9h11v5.6h-11zM687.1 1284h11v5.6h-11zM708 1284h11v5.6h-11zM729 1284h11v5.6h-11zM792 1284h11v5.6h-11zM634.6 1299.3h11v5.6h-11zM655.6 1299.3h11v5.6h-11zM666.1 1299.3h11v5.6h-11zM288.4 1304.4h11v5.6h-11zM676.6 1304.4h11v5.6h-11zM813 1304.4h11v5.6h-11zM844.4 1304.4h11v5.6h-11zM256.9 1319.7h11v5.6h-11zM645.1 1319.7h11v5.6h-11zM1159.2 1319.7h11v5.6h-11zM235.9 1324.8h11v5.6h-11zM928.4 1324.8h11v5.6h-11zM267.4 1329.9h11v5.6h-11zM277.9 1329.9h11v5.6h-11zM319.9 1329.9h11v5.6h-11zM361.8 1329.9h11v5.6h-11zM592.6 1329.9h11v5.6h-11zM750 1329.9h11v5.6h-11zM959.8 1335h11v5.6h-11zM1253.6 1335h11v5.6h-11zM382.8 1340.1h11v5.6h-11zM571.7 1340.1h11v5.6h-11zM582.2 1340.1h11v5.6h-11zM162.5 1345.2h11v5.6h-11zM1075.2 1345.2h11v5.6h-11zM1211.6 1345.2h11v5.6h-11zM235.9 1350.3h11v5.6h-11zM298.9 1350.3h11v5.6h-11zM361.8 1350.3h11v5.6h-11zM372.3 1350.3h11v5.6h-11zM540.2 1350.3h11v5.6h-11zM256.9 1355.4h11v5.6h-11zM298.9 1355.4h11v5.6h-11zM340.9 1355.4h11v5.6h-11zM403.8 1355.4h11v5.6h-11z"/>
<path fill="#00f2ff" d="M582.2 1187.2h11v5.6h-11zM729 1248.4h11v5.6h-11zM1337.5 1248.4h11v5.6h-11zM875.9 1258.6h11v5.6h-11zM718.5 1268.8h11v5.6h-11zM729 1268.8h11v5.6h-11zM781.5 1268.8h11v5.6h-11zM718.5 1273.8h11v5.6h-11zM771 1278.9h11v5.6h-11zM802.5 1278.9h11v5.6h-11zM865.4 1284h11v5.6h-11zM792 1289.1h11v5.6h-11zM1243.1 1289.1h11v5.6h-11zM1327 1289.1h11v5.6h-11zM298.9 1304.4h11v5.6h-11zM319.9 1304.4h11v5.6h-11zM823.5 1304.4h11v5.6h-11zM718.5 1309.5h11v5.6h-11zM382.8 1314.6h11v5.6h-11zM886.4 1314.6h11v5.6h-11zM550.7 1319.7h11v5.6h-11zM823.5 1319.7h11v5.6h-11zM393.3 1324.8h11v5.6h-11zM309.4 1329.9h11v5.6h-11zM886.4 1329.9h11v5.6h-11zM896.9 1329.9h11v5.6h-11zM1148.7 1329.9h11v5.6h-11zM435.3 1335h11v5.6h-11zM445.8 1335h11v5.6h-11zM456.3 1335h11v5.6h-11zM225.4 1340.1h11v5.6h-11zM487.7 1340.1h11v5.6h-11zM970.3 1340.1h11v5.6h-11zM1043.8 1340.1h11v5.6h-11zM1054.3 1340.1h11v5.6h-11zM844.4 1345.2h11v5.6h-11zM382.8 1350.3h11v5.6h-11zM1033.3 1350.3h11v5.6h-11zM1169.7 1350.3h11v5.6h-11zM823.5 1355.4h11v5.6h-11zM833.9 1355.4h11v5.6h-11zM959.8 1355.4h11v5.6h-11zM1295.6 1355.4h11v5.6h-11z"/>
<path fill="#00ffff" d="M739.5 1248.4h11v5.6h-11zM886.4 1258.6h11v5.6h-11zM792 1268.8h11v5.6h-11zM676.6 1273.8h11v5.6h-11zM760.5 1273.8h11v5.6h-11zM781.5 1273.8h11v5.6h-11zM792 1273.8h11v5.6h-11zM823.5 1273.8h11v5.6h-11zM833.9 1273.8h11v5.6h-11zM697.6 1284h11v5.6h-11zM225.4 1289.1h11v5.6h-11zM718.5 1289.1h11v5.6h-11zM781.5 1289.1h11v5.6h-11zM1358.5 1289.1h11v5.6h-11zM676.6 1294.2h11v5.6h-11zM739.5 1294.2h11v5.6h-11zM750 1294.2h11v5.6h-11zM173 1299.3h11v5.6h-11zM194 1299.3h11v5.6h-11zM613.6 1299.3h11v5.6h-11zM624.1 1299.3h11v5.6h-11zM340.9 1304.4h11v5.6h-11zM708 1304.4h11v5.6h-11zM634.6 1314.6h11v5.6h-11zM1148.7 1314.6h11v5.6h-11zM204.5 1319.7h11v5.6h-11zM235.9 1319.7h11v5.6h-11zM540.2 1319.7h11v5.6h-11zM561.2 1319.7h11v5.6h-11zM309.4 1324.8h11v5.6h-11zM540.2 1324.8h11v5.6h-11zM645.1 1324.8h11v5.6h-11zM204.5 1329.9h11v5.6h-11zM256.9 1329.9h11v5.6h-11zM330.4 1329.9h11v5.6h-11zM393.3 1329.9h11v5.6h-11zM875.9 1329.9h11v5.6h-11zM1285.1 1329.9h11v5.6h-11zM917.9 1335h11v5.6h-11zM1075.2 1335h11v5.6h-11zM540.2 1340.1h11v5.6h-11zM1075.2 1340.1h11v5.6h-11zM162.5 1350.3h11v5.6h-11zM173 1350.3h11v5.6h-11zM833.9 1350.3h11v5.6h-11zM813 1355.4h11v5.6h-11z"/>
<path fill="#0cfff2" d="M771 1273.8h11v5.6h-11zM676.6 1278.9h11v5.6h-11zM1327 1278.9h11v5.6h-11zM655.6 1289.1h11v5.6h-11zM771 1289.1h11v5.6h-11zM823.5 1294.2h11v5.6h-11zM330.4 1304.4h11v5.6h-11zM666.1 1309.5h11v5.6h-11zM750 1309.5h11v5.6h-11zM540.2 1314.6h11v5.6h-11zM613.6 1314.6h11v5.6h-11zM645.1 1314.6h11v5.6h-11zM666.1 1314.6h11v5.6h-11zM372.3 1319.7h11v5.6h-11zM1096.2 1319.7h11v5.6h-11zM1106.7 1319.7h11v5.6h-11zM382.8 1324.8h11v5.6h-11zM498.2 1324.8h11v5.6h-11zM561.2 1324.8h11v5.6h-11zM403.8 1329.9h11v5.6h-11zM959.8 1329.9h11v5.6h-11zM938.9 1335h11v5.6h-11zM277.9 1340.1h11v5.6h-11zM498.2 1340.1h11v5.6h-11zM550.7 1340.1h11v5.6h-11zM980.8 1340.1h11v5.6h-11zM173 1345.2h11v5.6h-11zM854.9 1345.2h11v5.6h-11zM865.4 1345.2h11v5.6h-11zM1127.7 1345.2h11v5.6h-11zM1138.2 1345.2h11v5.6h-11zM351.3 1350.3h11v5.6h-11zM277.9 1355.4h11v5.6h-11zM792 1355.4h11v5.6h-11zM802.5 1355.4h11v5.6h-11z"/>
<path fill="#19ffe5" d="M309.4 1273.8h11v5.6h-11zM760.5 1278.9h11v5.6h-11zM708 1289.1h11v5.6h-11zM729 1289.1h11v5.6h-11zM823.5 1289.1h11v5.6h-11zM854.9 1289.1h11v5.6h-11zM886.4 1289.1h11v5.6h-11zM194 1294.2h11v5.6h-11zM813 1299.3h11v5.6h-11zM854.9 1309.5h11v5.6h-11zM750 1314.6h11v5.6h-11zM875.9 1314.6h11v5.6h-11zM1127.7 1314.6h11v5.6h-11zM393.3 1319.7h11v5.6h-11zM414.3 1319.7h11v5.6h-11zM435.3 1319.7h11v5.6h-11zM508.7 1319.7h11v5.6h-11zM529.7 1319.7h11v5.6h-11zM571.7 1319.7h11v5.6h-11zM813 1319.7h11v5.6h-11zM372.3 1324.8h11v5.6h-11zM508.7 1324.8h11v5.6h-11zM603.1 1324.8h11v5.6h-11zM959.8 1324.8h11v5.6h-11zM928.4 1335h11v5.6h-11zM330.4 1340.1h11v5.6h-11zM519.2 1340.1h11v5.6h-11zM529.7 1340.1h11v5.6h-11zM561.2 1340.1h11v5.6h-11zM739.5 1340.1h11v5.6h-11zM1295.6 1340.1h11v5.6h-11zM1306.1 1350.3h11v5.6h-11zM519.2 1355.4h11v5.6h-11zM540.2 1355.4h11v5.6h-11z"/>
<path fill="#26ffd8" d="M708 1268.8h11v5.6h-11zM813 1273.8h11v5.6h-11zM739.5 1278.9h11v5.6h-11zM854.9 1284h11v5.6h-11zM215 1289.1h11v5.6h-11zM676.6 1289.1h11v5.6h-11zM697.6 1289.1h11v5.6h-11zM739.5 1289.1h11v5.6h-11zM760.5 1289.1h11v5.6h-11zM802.5 1289.1h11v5.6h-11zM729 1294.2h11v5.6h-11zM792 1299.3h11v5.6h-11zM225.4 1319.7h11v5.6h-11zM382.8 1319.7h11v5.6h-11zM403.8 1319.7h11v5.6h-11zM424.8 1319.7h11v5.6h-11zM445.8 1319.7h11v5.6h-11zM477.2 1319.7h11v5.6h-11zM1348 1319.7h11v5.6h-11zM319.9 1324.8h11v5.6h-11zM361.8 1324.8h11v5.6h-11zM938.9 1324.8h11v5.6h-11zM246.4 1329.9h11v5.6h-11zM288.4 1329.9h11v5.6h-11zM540.2 1329.9h11v5.6h-11zM634.6 1329.9h11v5.6h-11zM466.7 1335h11v5.6h-11zM550.7 1335h11v5.6h-11zM645.1 1335h11v5.6h-11zM508.7 1340.1h11v5.6h-11zM718.5 1340.1h11v5.6h-11zM1169.7 1340.1h11v5.6h-11zM1148.7 1345.2h11v5.6h-11zM309.4 1350.3h11v5.6h-11zM1138.2 1350.3h11v5.6h-11zM1159.2 1350.3h11v5.6h-11zM330.4 1355.4h11v5.6h-11zM1285.1 1355.4h11v5.6h-11z"/>
<path fill="#32ffcc" d="M697.6 1268.8h11v5.6h-11zM298.9 1273.8h11v5.6h-11zM729 1278.9h11v5.6h-11zM173 1294.2h11v5.6h-11zM802.5 1299.3h11v5.6h-11zM624.1 1314.6h11v5.6h-11zM760.5 1314.6h11v5.6h-11zM844.4 1314.6h11v5.6h-11zM215 1319.7h11v5.6h-11zM340.9 1319.7h11v5.6h-11zM456.3 1319.7h11v5.6h-11zM519.2 1319.7h11v5.6h-11zM550.7 1324.8h11v5.6h-11zM1358.5 1324.8h11v5.6h-11zM298.9 1329.9h11v5.6h-11zM414.3 1335h11v5.6h-11zM634.6 1335h11v5.6h-11zM687.1 1340.1h11v5.6h-11zM267.4 1345.2h11v5.6h-11zM1117.2 1345.2h11v5.6h-11zM1201.1 1345.2h11v5.6h-11zM319.9 1350.3h11v5.6h-11zM1285.1 1350.3h11v5.6h-11zM288.4 1355.4h11v5.6h-11z"/>
<path fill="#3fffbf" d="M750 1278.9h11v5.6h-11zM813 1278.9h11v5.6h-11zM666.1 1289.1h11v5.6h-11zM1337.5 1289.1h11v5.6h-11zM1348 1289.1h11v5.6h-11zM833.9 1314.6h11v5.6h-11zM854.9 1314.6h11v5.6h-11zM351.3 1319.7h11v5.6h-11zM361.8 1319.7h11v5.6h-11zM466.7 1319.7h11v5.6h-11zM1274.6 1319.7h11v5.6h-11zM949.3 1324.8h11v5.6h-11zM907.4 1329.9h11v5.6h-11zM319.9 1335h11v5.6h-11zM424.8 1335h11v5.6h-11zM624.1 1335h11v5.6h-11zM1096.2 1340.1h11v5.6h-11zM1085.7 1345.2h11v5.6h-11zM1096.2 1345.2h11v5.6h-11zM1106.7 1345.2h11v5.6h-11zM256.9 1350.3h11v5.6h-11zM781.5 1350.3h11v5.6h-11zM823.5 1350.3h11v5.6h-11z"/>
<path fill="#4cffb2" d="M687.1 1268.8h11v5.6h-11zM718.5 1278.9h11v5.6h-11zM823.5 1278.9h11v5.6h-11zM844.4 1284h11v5.6h-11zM687.1 1289.1h11v5.6h-11zM833.9 1294.2h11v5.6h-11zM183.5 1299.3h11v5.6h-11zM739.5 1314.6h11v5.6h-11zM634.6 1319.7h11v5.6h-11zM1117.2 1319.7h11v5.6h-11zM1316.5 1319.7h11v5.6h-11zM393.3 1335h11v5.6h-11zM403.8 1335h11v5.6h-11zM1085.7 1340.1h11v5.6h-11zM1106.7 1340.1h11v5.6h-11zM1064.8 1350.3h11v5.6h-11zM1295.6 1350.3h11v5.6h-11z"/>
<path fill="#59ffa5" d="M750 1289.1h11v5.6h-11zM813 1289.1h11v5.6h-11zM718.5 1294.2h11v5.6h-11zM697.6 1304.4h11v5.6h-11zM676.6 1314.6h11v5.6h-11zM1138.2 1314.6h11v5.6h-11zM1148.7 1319.7h11v5.6h-11zM1327 1319.7h11v5.6h-11zM330.4 1324.8h11v5.6h-11zM340.9 1324.8h11v5.6h-11zM382.8 1329.9h11v5.6h-11zM204.5 1335h11v5.6h-11zM267.4 1335h11v5.6h-11zM267.4 1340.1h11v5.6h-11zM729 1340.1h11v5.6h-11zM1117.2 1340.1h11v5.6h-11zM246.4 1350.3h11v5.6h-11zM340.9 1350.3h11v5.6h-11zM1148.7 1350.3h11v5.6h-11z"/>
<path fill="#65ff99" d="M875.9 1289.1h11v5.6h-11zM844.4 1294.2h11v5.6h-11zM687.1 1304.4h11v5.6h-11zM760.5 1309.5h11v5.6h-11zM865.4 1314.6h11v5.6h-11zM1337.5 1319.7h11v5.6h-11zM351.3 1324.8h11v5.6h-11zM634.6 1324.8h11v5.6h-11zM1285.1 1324.8h11v5.6h-11zM372.3 1329.9h11v5.6h-11zM949.3 1329.9h11v5.6h-11zM1295.6 1329.9h11v5.6h-11zM697.6 1340.1h11v5.6h-11zM708 1340.1h11v5.6h-11zM1285.1 1340.1h11v5.6h-11zM813 1350.3h11v5.6h-11zM529.7 1355.4h11v5.6h-11z"/>
<path fill="#72ff8c" d="M687.1 1294.2h11v5.6h-11zM854.9 1294.2h11v5.6h-11zM771 1314.6h11v5.6h-11zM582.2 1319.7h11v5.6h-11zM456.3 1329.9h11v5.6h-11zM624.1 1329.9h11v5.6h-11zM1085.7 1335h11v5.6h-11zM1243.1 1335h11v5.6h-11zM1253.6 1340.1h11v5.6h-11zM1159.2 1345.2h11v5.6h-11zM330.4 1350.3h11v5.6h-11zM792 1350.3h11v5.6h-11zM802.5 1350.3h11v5.6h-11z"/>
<path fill="#7fff7f" d="M708 1273.8h11v5.6h-11zM865.4 1289.1h11v5.6h-11zM708 1294.2h11v5.6h-11zM613.6 1324.8h11v5.6h-11zM1306.1 1324.8h11v5.6h-11zM235.9 1329.9h11v5.6h-11zM603.1 1329.9h11v5.6h-11zM917.9 1329.9h11v5.6h-11zM1358.5 1329.9h11v5.6h-11zM477.2 1335h11v5.6h-11zM1127.7 1340.1h11v5.6h-11zM1190.6 1345.2h11v5.6h-11z"/>
<path fill="#8cff72" d="M687.1 1278.9h11v5.6h-11zM708 1278.9h11v5.6h-11zM802.5 1284h11v5.6h-11zM875.9 1294.2h11v5.6h-11zM624.1 1319.7h11v5.6h-11zM624.1 1324.8h11v5.6h-11zM215 1329.9h11v5.6h-11zM1190.6 1335h11v5.6h-11zM235.9 1340.1h11v5.6h-11zM1180.2 1340.1h11v5.6h-11zM1169.7 1345.2h11v5.6h-11zM1043.8 1350.3h11v5.6h-11z"/>
<path fill="#99ff65" d="M729 1314.6h11v5.6h-11zM781.5 1314.6h11v5.6h-11zM225.4 1329.9h11v5.6h-11zM938.9 1329.9h11v5.6h-11zM330.4 1335h11v5.6h-11zM508.7 1335h11v5.6h-11zM540.2 1335h11v5.6h-11zM1180.2 1335h11v5.6h-11zM1159.2 1340.1h11v5.6h-11zM1180.2 1345.2h11v5.6h-11zM1054.3 1350.3h11v5.6h-11z"/>
<path fill="#a5ff59" d="M183.5 1294.2h11v5.6h-11zM844.4 1309.5h11v5.6h-11zM823.5 1314.6h11v5.6h-11zM592.6 1319.7h11v5.6h-11zM1348 1324.8h11v5.6h-11zM613.6 1329.9h11v5.6h-11zM487.7 1335h11v5.6h-11zM498.2 1335h11v5.6h-11z"/>
<path fill="#b2ff4c" d="M687.1 1273.8h11v5.6h-11zM833.9 1284h11v5.6h-11zM697.6 1294.2h11v5.6h-11zM792 1314.6h11v5.6h-11zM1306.1 1319.7h11v5.6h-11zM1295.6 1324.8h11v5.6h-11zM498.2 1329.9h11v5.6h-11zM928.4 1329.9h11v5.6h-11zM340.9 1335h11v5.6h-11zM1096.2 1335h11v5.6h-11zM1264.1 1340.1h11v5.6h-11zM1274.6 1340.1h11v5.6h-11zM246.4 1345.2h11v5.6h-11z"/>
<path fill="#bfff3f" d="M865.4 1294.2h11v5.6h-11zM676.6 1309.5h11v5.6h-11zM771 1309.5h11v5.6h-11zM802.5 1314.6h11v5.6h-11zM1127.7 1319.7h11v5.6h-11zM361.8 1335h11v5.6h-11zM1106.7 1335h11v5.6h-11zM1138.2 1340.1h11v5.6h-11zM1243.1 1340.1h11v5.6h-11z"/>
<path fill="#cbff33" d="M613.6 1319.7h11v5.6h-11zM1138.2 1319.7h11v5.6h-11zM487.7 1329.9h11v5.6h-11zM508.7 1329.9h11v5.6h-11zM519.2 1329.9h11v5.6h-11zM529.7 1329.9h11v5.6h-11zM351.3 1335h11v5.6h-11zM1117.2 1335h11v5.6h-11zM256.9 1345.2h11v5.6h-11z"/>
<path fill="#d8ff26" d="M687.1 1314.6h11v5.6h-11zM718.5 1314.6h11v5.6h-11zM813 1314.6h11v5.6h-11zM603.1 1319.7h11v5.6h-11zM1201.1 1335h11v5.6h-11zM1148.7 1340.1h11v5.6h-11z"/>
<path fill="#e5ff19" d="M466.7 1329.9h11v5.6h-11zM246.4 1340.1h11v5.6h-11z"/>
<path fill="#f2ff0c" d="M697.6 1278.9h11v5.6h-11zM781.5 1309.5h11v5.6h-11zM708 1314.6h11v5.6h-11zM1316.5 1324.8h11v5.6h-11zM1306.1 1329.9h11v5.6h-11zM519.2 1335h11v5.6h-11zM1190.6 1340.1h11v5.6h-11z"/>
<path fill="#ffff00" d="M697.6 1273.8h11v5.6h-11zM697.6 1314.6h11v5.6h-11zM477.2 1329.9h11v5.6h-11zM1348 1329.9h11v5.6h-11zM1232.6 1335h11v5.6h-11zM256.9 1340.1h11v5.6h-11z"/>
<path fill="#fff200" d="M1295.6 1319.7h11v5.6h-11z"/>
<path fill="#ffe500" d="M833.9 1309.5h11v5.6h-11z"/>
<path fill="#ffd800" d="M708 1309.5h11v5.6h-11zM792 1309.5h11v5.6h-11zM529.7 1335h11v5.6h-11zM1127.7 1335h11v5.6h-11zM1169.7 1335h11v5.6h-11zM1211.6 1335h11v5.6h-11z"/>
<path fill="#ffcb00" d="M382.8 1335h11v5.6h-11zM1232.6 1340.1h11v5.6h-11z"/>
<path fill="#ffbf00" d="M1285.1 1319.7h11v5.6h-11zM1337.5 1324.8h11v5.6h-11zM215 1335h11v5.6h-11zM1222.1 1335h11v5.6h-11z"/>
<path fill="#ffb200" d="M1327 1324.8h11v5.6h-11zM256.9 1335h11v5.6h-11zM1201.1 1340.1h11v5.6h-11z"/>
<path fill="#ff9900" d="M1316.5 1329.9h11v5.6h-11z"/>
<path fill="#ff8c00" d="M823.5 1284h11v5.6h-11zM1211.6 1340.1h11v5.6h-11z"/>
<path fill="#ff7f00" d="M1337.5 1329.9h11v5.6h-11zM372.3 1335h11v5.6h-11z"/>
<path fill="#ff7200" d="M1222.1 1340.1h11v5.6h-11z"/>
<path fill="#ff6500" d="M813 1284h11v5.6h-11zM802.5 1309.5h11v5.6h-11z"/>
<path fill="#ff4c00" d="M823.5 1309.5h11v5.6h-11zM225.4 1335h11v5.6h-11zM1159.2 1335h11v5.6h-11z"/>
<path fill="#ff3f00" d="M687.1 1309.5h11v5.6h-11zM246.4 1335h11v5.6h-11z"/>
<path fill="#ff3300" d="M813 1309.5h11v5.6h-11zM1327 1329.9h11v5.6h-11zM1138.2 1335h11v5.6h-11z"/>
<path fill="#ff1900" d="M697.6 1309.5h11v5.6h-11zM235.9 1335h11v5.6h-11z"/>
<path fill="#ff0c00" d="M1148.7 1335h11v5.6h-11z"/>
</g></g>
<polyline points="126.4,249.5 129.1,239.6 131.8,232.4 134,233.4 136.1,264.6 138.2,252.7 141.5,254.9 143.6,245.2 146.8,240.9 149,249.5 152.2,234.5 153.9,220.6 157.6,229.1 159.7,236.6 161.9,231.3 165.1,187.3 167.2,200.2 169.4,172.3 171.5,185.1 173.2,177.6 174.7,185.1 176.2,164.8 177.9,172.3 179.7,204.5 181.2,185.1 183.3,264.6 186.5,260.3 189.8,273.1 193,266.7 196.2,279.6 199.4,273.1 203.7,281.7 206.9,265.6 209.6,268.1 212.3,273.1 216.6,268.8 219.8,274.2 222.6,296.7 225.2,271 229.5,277.4 232.7,267.8 235.9,286 239.1,246.3 242.3,258.1 246.6,260.3 248.8,257 249.8,278.5 253.1,258.1 256.3,266.7 260.6,237.7 262.7,243.1 264.9,229.1 268.1,245.2 270.2,258.1 272.4,286 276.7,290.3 281,298.9 284.2,283.9 286.3,301 289.6,315 291.7,283.9 294.9,261.3 298.1,283.9 302.4,258.1 306.7,260.3 311,253.8 313.2,249.5 317.5,262.4 321.7,260.3 326,289.2 329.3,279.6 332,230.2 334,266.7 336.8,256 341.1,249.5 344.3,268.8 347,268.5 349.6,266.7 353.9,244.2 358.2,249.5 362.5,242 366.8,245.2 370,253.8 373.3,248.5 377.5,271 381.8,265.6 385.1,311.8 387.7,305 390.4,303.2 394.7,296.7 397.9,273.1 400.1,290.3 403.3,262.4 406.5,254.9 408.7,253.8 411.9,234.5 414.9,225.8 417.9,217.3 420.5,232.4 422.6,251.7 424.8,234.5 429.1,223.8 431.6,189.4 434.4,219.5 436.6,230.2 438.7,223.8 438.6,223.8 441.8,258.1 445,261.3 448.2,258.1 449.3,247.4 452.5,247.8 454.7,281.7 457.9,286 460,292.5 463.3,298.9 466.5,287.1 469.7,301 472.9,313.9 476.1,306.4 479.4,311.8 482.6,333.2 485.8,320.4 489,298.9 492.2,292.5 495.5,282.8 498.7,294.6 501.9,262.4 505.1,219.5 507.3,137.9 509.4,178.7 512.6,215.2 514.8,279.6 516.9,277.4 520.1,324.6 522.3,312.8 525.5,318.2 529.2,331.1 531.9,301 535.2,301 538.4,318.2 541.6,281.7 544.8,292.5 548,316.1 552.3,295.7 555.6,297.8 558.8,294.6 560.9,303.2 563.1,286 567.4,283.9 570.6,301 573.8,309.6 575.9,318.2 579.2,319.3 582.4,326.8 585.6,337.5 589.9,326.8 593.1,318.2 596.3,301 598.5,307.5 600.6,288.2 602.8,301 604.9,325.7 607.1,307.5 610.3,322.5 614.6,338.6 616.7,312.8 618.9,331.1 621,290.3 625.3,298.9 628.5,320.4 631.7,283.9 636,260.3 639.3,268.8 642.5,243.1 645.7,247.4 648.9,144.4 651.1,193.7 654.3,219.5 657.5,202.3 659.6,134.7 661.8,200.2 662.9,168 665,215.2 666.1,243.1 669.3,301 672.5,286 675.7,294.6 679,290.3 681.1,297.8 684.3,281.7 687.5,275.3 690.8,277.4 694,268.8 696.1,273.1 699.3,223.8 702.6,216.3 705.8,140.1 707.9,165.8 711.2,105.7 713.3,159.4 716.5,117.5 718.7,219.5 720.2,135.8 721.9,202.3 724,301 727.3,305.3 730.5,302.1 732.6,303.2 735.8,311.8 739.1,326.8 742.3,345 744.4,324.6 747.6,313.9 747.5,313.9 749.7,310.7 751.8,295.7 755,289.2 758.2,286 760.4,245.2 762.5,219.5 764.7,202.3 767.9,259.2 769.6,168 771.8,178.7 773.3,180.8 775.4,264.6 777.6,281.7 779.7,292.5 781.9,308.5 784,292.5 786.1,295.7 788.3,311.8 790.4,347.2 792.6,304.3 795.8,311.8 799,326.8 801.2,307.5 804.4,316.1 806.5,328.9 809.1,342.9 810.8,311.8 814,304.3 817.3,300 820.5,316.1 823.7,328.9 825.8,341.8 829.1,333.2 833.4,359 837.7,355.8 839.8,338.6 841.9,362.2 845.2,338.6 849.5,336.4 853.7,328.9 857,339.7 860.2,312.8 863.4,342.9 866.6,322.5 868.8,318.2 870.5,251.7 906.3,297.8 909.6,281.7 911.7,232.4 913.4,204.5 916,230.2 918.6,221.6 920.3,258.1 923.5,245.2 925.6,262.4 928.9,283.9 933.2,295.7 934.2,303.2 937.5,295.7 940.7,307.5 942.8,322.5 944.3,277.4 967.1,272.1 968.6,249.5 970.7,215.2 973.9,191.6 976.1,202.3 979.3,204.5 982.5,219.5 985.7,232.4 986.8,288.2 990,339.7 992.5,339.7 995,345.9 997.5,347.2 1000.8,333.2 1005.1,326.8 1008.3,326.8 1010.4,311.8 1014.7,309.6 1017.9,294.6 1020.1,277.4 1021.6,243.1 1024.4,271 1027.6,324.6 1031.9,349.3 1034.6,353.3 1037.3,356.8 1040.5,344 1043.7,341.8 1046.9,337.5 1051.2,333.2 1054.4,309.6 1056.6,290.3 1057.2,288.2 1059.2,305.1 1060.9,259.2 1063.3,293 1065,317.1 1066.9,324.4 1069.3,322 1071.7,329.2 1074.1,343.7 1076.6,324.4 1079,329.2 1081.4,317.1 1083.8,309.9 1086.2,328 1088.6,314.7 1092.3,312.3 1095.9,323.2 1098.3,319.5 1100.7,329.2 1104.3,320.8 1106.7,320.4 1109.2,317.1 1111.6,326.8 1115.2,332.8 1118.8,342.5 1121.2,331.6 1123.6,338.9 1126.1,332.9 1128.5,328 1130.9,324.2 1133.3,319.5 1136.9,317.1 1140.5,278.5 1143,259.2 1144.6,280.9 1146.6,283.3 1149,322 1152.6,318.3 1156.2,326.8 1159.9,336.4 1162.3,341 1164.7,346.1 1168.3,332.8 1170.7,331.6 1173.1,342.5 1174.3,309.9 1176.8,300.2 1179.2,268.8 1181.6,266.4 1184.7,226.6 1187.6,268.8 1191.2,295.4 1193.7,328 1196.1,320.8 1199.7,341.3 1203.3,343.7 1206.5,347.3 1209.4,324.4 1211.8,334 1215.4,328 1219,334 1221.9,291.8 1223.8,312.3 1225.8,264 1228.2,264 1229.9,307.5 1232.3,301.4 1235.9,326.8 1238.3,320.8 1242,346.1 1244.4,348.9 1246.8,353.4 1249.2,340.1 1251.6,342 1254,343.7 1258.1,314.7 1261.3,334 1264.9,323.2 1268.5,342.5 1272.1,340.1 1275.8,343.7 1279.4,342.5 1283,331.6 1285.4,326.6 1287.8,324.4 1291.4,334 1293.9,334.2 1296.3,335.2 1298.7,340.8 1301.1,344.9 1304.7,346.1 1308.4,324.4 1312,315.9 1315.6,329.2 1319.2,332.8 1322.8,347.3 1325.3,348.6 1327.7,349.7 1331.3,329.2 1334.9,340.1 1338.5,347.3 1340.9,348.5 1342.6,303.9 1345.8,340.1 1349.4,338.9 1352.3,314.7 1354.7,338.9 1357.8,330.4 1361.5,337.7 1362.7,347.3 1365.1,319.5 1367.5,338.9 1371.1,338.9 1374.7,336.4 1377.2,349.7 1380.8,337.7 1384.4,312.3 1386.3,237.5" fill="none" stroke="#0a0aff" stroke-width="1.7" stroke-linejoin="miter" stroke-miterlimit="3"/>
<polyline points="127.5,602.5 129.7,597.1 131.8,596 134,591.7 136.1,561.7 137.6,592.8 140.4,590.7 143.6,588.5 145.8,587.5 149,556.3 151.1,583.2 154.3,561.7 156.5,576.7 159.7,540.2 160.8,498.4 162.9,514.5 166.1,471.6 168.3,446.9 171.5,445.8 174.7,432.5 176.2,458.7 177.9,454.4 181.2,464 183.3,482.3 184.4,476.9 185.5,508 186.5,553.1 188.7,596 191.9,599.3 195.1,588.5 197.3,602.5 200.5,604.6 204.8,601.4 208,603.5 212.3,593.9 214.4,603.5 218.7,603.5 221.9,601 225.2,599.3 228.4,591.7 231.6,596 234.3,593.6 237,586.4 240.2,589.6 243.4,583.2 246.6,589.6 249.8,582.1 253.1,586.4 257.4,568.1 261.6,553.1 263.8,540.2 265.9,533.4 270.2,551 273.5,574.6 276.7,581 279.9,600.3 283.1,602.5 287.4,603.5 291.7,601.4 296,599.3 300.3,596 304.6,595 308.9,589.6 311,578.9 314.2,585.3 317.5,585.3 321.7,590.7 325,583.2 328.2,590.7 331.4,588.5 334.6,591.7 338.9,586.4 343.2,581 345.4,577.8 348.6,584.2 351.8,587.5 356.1,570.3 359.3,561.7 362.5,581 366.8,584.2 370,578.9 373.3,593.9 377.5,598.2 380.2,599.3 382.9,600.3 384.4,538.1 387.2,553.1 390.4,568.1 393.6,578.9 396.9,597.1 400.1,601.4 403.3,583.2 406.5,549.9 409.7,572.4 411.9,549.9 414,585.3 417.3,582.1 419.4,588.5 422.6,557.4 425.8,542.4 429.1,557.4 432.3,539.2 434.4,535.9 437.2,525.2 437.5,525.2 439.7,538.1 441.8,561.7 445,583.2 448.2,576.7 451.5,589.6 454.7,600.3 457.5,608.9 460,601.4 463.3,602.5 466.5,597.1 469.7,569.2 471.9,587.5 475.1,570.3 477.6,561.7 480.4,585.3 483.7,574.6 486.9,578.9 490.1,570.3 493.3,579.9 495.5,566 497.6,553.1 499.8,540.2 501.9,514.5 505.1,482.3 509.4,480.1 512.2,475.8 513.7,484.4 515.8,527.4 519.1,561.7 522.3,574.6 525.5,588.5 528.7,601.4 530.9,583.2 535.2,592.8 537.3,551 540.5,555.3 542.7,560.6 545.9,570.3 549.1,555.3 552.3,555.3 555.6,551 557.7,514.5 559.8,501.6 562.6,493 565.6,497.3 568.4,527.4 571.6,557.4 574.9,572.4 575.9,587.5 578.1,571.4 581.3,576.7 584.5,574.6 587.7,559.6 591,546.7 594.2,538.1 597.4,518.8 600.6,495.2 603.8,518.8 607.1,523.1 609.2,531.6 611.4,557.4 613.5,551 616.7,568.1 618.9,578.9 623.2,586.4 626.4,581 630.7,574.6 633.9,570.3 637.1,557.4 640.3,553.1 643.5,540.2 645.1,427.6 647.8,471.6 651.1,495.2 653.2,459.8 655.4,480.1 658.6,486.6 661.8,480.1 665,514.5 667.2,557.4 669.3,578.9 671.4,561.7 674.7,570.3 676.8,559.6 679,540.2 682.2,553.1 684.3,538.1 687.5,563.8 690.8,518.8 692.9,499.5 696.1,486.6 700.4,475.8 703.1,460.2 705.8,445.8 708.6,471.6 711.2,447.9 713.3,446.9 716.5,444.7 718.7,475.8 721.9,484.4 724,566 727.3,553.1 730.5,576.7 733.7,590.7 736.9,576.7 740.1,573.5 743.3,576.7 746.6,567.1 748.6,566.7 751.8,549.6 754,573.2 756.1,534.5 758.2,528.1 760.4,493.7 763.6,468 766.8,506.6 769.6,427.2 772.2,431.5 775.4,437.9 777.6,500.2 779.7,573.2 780.8,588.2 784,566.7 786.1,586 789.4,582.8 792.6,589.3 795.4,563.5 797.9,581.7 801.2,560.3 804.4,543.1 808.7,528.1 810.8,500.2 813,461.6 815.1,474.4 816.8,472.3 818.3,508.8 821.6,510.9 823.7,508.8 825.8,519.5 828,536.7 830.1,560.3 833.4,566.7 836.6,558.1 839.8,577.5 843,572.1 846.2,582.8 849.5,569.9 852.7,558.1 855.9,568.9 859.1,569.9 861.3,578.5 862.3,430.4 864.5,566.7 867.3,422.9 868.8,530.2 870.9,591.4 874.1,556 876.3,517.4 908.5,491.6 910.6,462.6 913.8,472.3 917.1,468 919.9,474.4 922.9,458.3 925.6,476.6 927.8,491.6 929.9,513.1 933.2,525.9 936.4,543.1 940.7,575.3 963.2,587.1 965.4,530.2 968.6,487.3 971.8,465.8 975,440.1 977.2,459.4 979.3,455.1 981.4,465.8 983.6,468 985.7,472.3 986.8,508.8 987.9,586 992.2,588.2 996.5,591.4 999.7,573.2 1002.9,564.6 1006.1,543.1 1008.3,556 1011.5,534.5 1014.7,517.4 1017.9,476.6 1021.2,468 1024.4,477.7 1027.2,500.2 1029.7,551.7 1031.9,573.2 1034,587.1 1037.3,583.9 1039.4,553.8 1042.2,579.6 1045.8,573.2 1050.1,571 1053.3,545.3 1056.6,541 1059.7,529.7 1062.1,516.4 1064.5,553.8 1066.9,575.6 1069.3,580.4 1071.7,579.2 1072.9,590.1 1076.6,561.1 1079,573.2 1081.4,556.3 1083.8,544.2 1086.2,527.3 1089.8,547.8 1092.3,529.7 1094.7,534.5 1098.3,523.7 1101.9,549 1104.3,570.7 1107.9,569.5 1111.6,582.8 1115.2,574.4 1118.1,592.5 1121.2,575.6 1124.8,578 1128.5,561.1 1130.9,539.4 1133.3,515.2 1135.7,495.9 1138.1,482.6 1140.5,466.9 1143,458.5 1145.4,474.2 1147.8,471.8 1149,578 1152.6,580.4 1155,592.5 1157.4,594.9 1160.6,575.6 1163.5,582.8 1165.9,528.5 1168.3,575.6 1170.7,561.1 1174.3,575.6 1176.8,527.3 1179.2,505.6 1181.6,486.2 1184,520 1186.4,503.1 1188.8,489.9 1191.2,524.9 1193.7,587.6 1197.3,590.1 1200.9,594.9 1203.3,598.5 1206.9,593.7 1209.4,575.6 1213,561.1 1216.6,549 1220.2,524.9 1223.8,517.6 1227.5,510.4 1229.9,524.9 1232.3,510.4 1235.9,568.3 1238.3,587.6 1242,590.1 1245.6,582.8 1248,570.7 1251.6,568.3 1255.2,559.9 1258.9,568.3 1262.5,580.4 1264.9,583.6 1267.3,586.4 1270.9,568.3 1274.5,556.3 1278.2,544.2 1280.6,563.5 1284.2,549 1287.8,553.8 1291.4,546.6 1293.9,534.5 1297.5,561.1 1299.9,575.6 1302.3,591.3 1305.9,575.6 1309.6,563.5 1312,534.5 1315.6,539.4 1319.2,534.5 1321.6,563.5 1324,587.6 1327.7,563.5 1331.3,558.7 1334.9,553.8 1337.3,541.8 1339.7,563.5 1342.2,570.7 1344.6,590.2 1347,610.6 1350.6,585.2 1354.2,575.6 1356.6,572 1360.3,592.5 1363.9,600.9 1366.3,575.6 1369.9,567.1 1373.5,587.6 1377.2,594.9 1379.6,613 1382,602.1 1384.4,573.2 1386.8,534.5 1388,511.6" fill="none" stroke="#0a0aff" stroke-width="1.7" stroke-linejoin="miter" stroke-miterlimit="3"/>
<polyline points="127.5,798.2 129.7,841.1 131.8,798.2 133.3,848.6 135,789.6 136.7,740.2 138.9,781 141,770.3 143.2,806.7 145.8,828.2 147.5,817.5 149,733.8 151.1,776.7 153.3,716.6 155.4,787.4 157.6,738.1 159.7,690.8 161.9,744.5 164,686.6 166.1,712.3 168.9,610.4 171.1,690.8 173.2,665.1 175.4,644.7 177.5,673.7 179.7,660.8 181.8,701.6 184,679 185.5,755.2 187.6,819.6 189.8,847.5 191.9,832.5 194,813.2 196.2,821.8 198.3,783.1 200.5,791.7 202.6,776.7 204.8,815.3 206.9,766 209.7,789.6 212.3,781 214.4,798.2 216.6,755.2 218.7,793.9 221.3,811 223.4,772.4 225.6,806.7 227.3,770.3 229,825 231.2,781 233.3,808.9 235.5,835.7 237.6,781 240.2,791.7 242.8,808.9 244.5,785.3 246.2,728.4 248.3,791.7 250.5,800.3 253.1,768.1 255.6,776.7 258.4,791.7 260.6,768.1 263.4,772.4 265.9,755.2 268.1,808.9 270.2,753.1 272.8,808.9 275,791.7 277.7,753.1 279.9,808.9 282,811 284.2,817.5 286.3,789.6 288.5,798.2 290.6,860.4 292.1,750.9 294.3,828.2 296.4,802.5 298.6,804.6 300.7,772.4 303.5,787.4 305.6,816.4 307.8,791.7 309.5,759.5 311.7,804.6 314.2,763.8 316.4,789.6 318.5,798.2 320.7,781 322.8,793.9 325,768.1 327.1,804.6 329.3,787.4 331.4,798.2 333.5,783.1 335.7,789.6 337.8,764.9 340,802.5 342.1,787.4 344.3,823.9 346.4,785.3 347.9,802.5 349.6,846.4 351.8,772.4 353.9,798.2 356.1,783.1 358.2,755.2 360.4,793.9 362.5,744.5 364.7,802.5 366.8,817.5 369,847.5 371.1,802.5 373.3,832.5 375.4,783.1 377.5,798.2 379.7,785.3 381.8,804.6 384,768.1 386.1,755.2 390.4,733.8 394.7,710.2 396.9,744.5 399,776.7 401.6,791.7 403.7,793.9 405.9,855 408,768.1 410.2,785.3 412.3,768.1 414.5,793.9 416.6,759.5 418.8,813.2 420.5,761.7 423,738.1 425.2,763.8 427.3,748.8 429.5,759.5 431.6,748.8 433.8,772.4 435.9,768.1 437.6,729.5 437.5,729.5 439.7,742.4 441.2,770.3 442.9,802.5 445,791.7 446.7,812.1 449.3,796 451.5,776.7 454,771.3 456.2,791.7 459,843.2 461.1,789.6 463.3,806.7 465.4,804.6 466.9,831.4 469.1,793.9 471.9,768.1 474.4,766 476.1,783.1 477.6,821.8 479.8,774.6 481.9,791.7 484.7,798.2 487.9,819.6 490.1,791.7 492.7,776.7 495.5,766 499.1,790.6 500.8,746.6 503,705.9 505.1,658.7 507.3,665.1 509.4,684.4 511.6,669.4 513.3,654.4 514.8,686.6 516.9,690.8 518,733.8 520.1,808.9 521.2,826.1 523.4,787.4 527,758.5 529.2,793.9 531.9,785.3 535.2,787.4 537.3,798.2 539.9,781 542,758.5 544.8,811 547,798.2 550.2,776.7 552.3,772.4 554.5,797.1 556.6,746.6 558.8,720.9 561.3,712.3 564.1,698.4 566.3,729.5 568.4,725.2 570.6,703.7 572.7,781 574.9,806.7 577.7,742.4 580.2,772.4 582.4,783.1 584.5,770.3 586.7,759.5 588.8,742.4 590.5,731.6 593.5,815.3 595.3,768.1 597,720.9 599.6,733.8 601.3,704.8 603.8,731.6 606.4,720.9 609.2,744.5 611.4,793.9 614.1,706.9 616.3,742.4 618.9,774.6 622.1,787.4 624.9,712.3 626.4,759.5 628.5,750.9 630.7,798.2 632.8,776.7 635.6,759.5 637.1,738.1 639.3,774.6 641.4,755.2 642.9,727.3 644.6,755.2 646.8,729.5 648.5,697.3 651.1,703.7 653.2,645.8 655.4,697.3 657.5,705.9 659.6,697.3 662.2,679 663.9,733.8 666.1,800.3 668.7,787.4 671.4,763.8 673.6,781 675.7,798.2 679,766 680.7,738.1 683.3,759.5 685.4,744.5 687.5,787.4 689.7,755.2 691.8,738.1 693.6,693 696.1,727.3 698.3,688.7 701.5,688.7 705.8,655.4 707.9,675.8 713.3,649 716.5,660.8 718.7,701.6 720.8,698.4 723,689.8 725.1,755.2 727.3,738.1 729.4,783.1 731.5,798.2 734.3,811 736.9,750.9 740.1,811 743.3,772.4 746.6,733.8 748.2,755.2 750.3,776.7 752.9,787.4 755,776.7 756.7,733.8 759.3,725.2 761.5,686.6 763.2,661.9 765.3,660.8 767.9,746.6 769.6,651.1 771.1,675.8 773.3,642.6 775.4,686.6 777.6,705.9 778.6,755.2 780.8,814.3 782.9,798.2 786.1,798.2 788.9,774.6 791.1,799.2 793.2,783.1 795.4,808.9 797.5,786.4 800.1,763.8 802.2,776.7 805.5,768.1 807.6,738.1 809.8,725.2 811.5,697.3 813,666.2 815.1,674.8 816.8,708 818.3,744.5 819.8,710.2 821.6,753.1 823.7,720.9 825.8,738.1 828,744.5 829.7,791.7 832.3,783.1 834.4,750.9 836.6,768.1 838.7,776.7 840.9,787.4 843,759.5 845.2,787.4 847.3,763.8 849.5,781 851.6,753.1 853.7,774.6 855.9,768.1 857.6,796 859.1,772.4 860.6,802.5 862.3,776.7 864.1,759.5 866.6,789.6 868.8,768.1 870.3,831.4 872,776.7 873.5,802.5 875.2,740.2 907.4,702.7 908.5,710.2 910.6,658.7 913.8,646.9 916,652.2 918.1,667.2 920.3,660.8 922.9,646.9 924.6,662.9 926.3,660.8 927.8,708 929.9,725.2 932.1,750.9 934.2,738.1 937,735.9 939.6,768.1 941.7,803.5 963.2,831.4 964.3,860.4 966.4,776.7 968.6,712.3 970.7,660.8 972.9,650.1 975,640.4 977.2,656.5 979.3,661.9 981.4,656.5 982.5,645.8 984.7,686.6 986.8,725.2 989,817.5 991.1,787.4 993.3,755.2 996.5,778.8 999.7,768.1 1002.9,750.9 1006.1,735.9 1008.7,726.3 1010.9,772.4 1013,733.8 1015.1,697.3 1017.9,667.2 1020.7,653.3 1023.3,669.4 1026.5,686.6 1028.7,729.5 1030.8,802.5 1033,774.6 1035.7,800.3 1037.3,785.3 1039.4,729.5 1041.5,772.4 1044.8,744.5 1048,776.7 1050.1,785.3 1051.2,744.5 1053.3,744.5 1055.5,738.1 1057.6,714.5 1057.7,713.7 1060.1,733 1062.1,730.6 1064,782.5 1066.9,809 1069.3,776.4 1072.9,817.5 1075.4,786.1 1079,800.6 1081.4,774 1083.8,713.7 1085.7,740.2 1087.4,725.7 1089.8,752.3 1091.5,764.4 1093.5,711.2 1095.9,735.4 1098.3,708.8 1100.7,733 1103.1,752.3 1106,781.3 1109.2,786.1 1112.3,764.4 1114.7,793.3 1116.4,813.9 1118.8,778.8 1121.2,749.9 1122.9,701.6 1125.3,749.9 1126.8,754.7 1129.2,803 1131.6,759.5 1134,711.2 1135.7,701.6 1138.1,660.5 1140.5,660.5 1143,634 1145.4,660.5 1147.3,646 1148.5,701.6 1150.2,818.7 1152.6,783.7 1155,798.2 1157.4,786.1 1159.9,761.9 1162.3,749.9 1164,735.4 1165.9,700.4 1167.8,749.9 1169.5,728.1 1171.9,752.3 1174.3,723.3 1176.8,699.2 1179.2,677.4 1181.6,646 1184,677.4 1186.4,677.4 1188.8,696.8 1191.2,783.7 1193.7,745 1197.3,774 1200.9,798.2 1204.5,810.2 1206.9,812.6 1208.9,718.5 1211.3,759.5 1214.2,735.4 1216.6,749.9 1219,723.3 1221.9,688.3 1223.8,720.9 1226.3,699.2 1228.7,706.4 1231.1,688.3 1233.5,713.7 1237.1,774 1239.5,805.4 1242,774 1244.4,793.3 1246.8,742.6 1249.2,783.7 1251.6,774 1254,771.6 1256.4,776.4 1258.9,774 1261.3,759.5 1263.7,749.9 1265.6,790.9 1268.5,759.5 1270.2,813.9 1272.1,761.9 1274.5,752.3 1277,749.9 1279.4,783.7 1281.8,771.6 1284.2,757.1 1287.8,749.9 1290.2,757.1 1292.7,725.7 1295.1,704 1297.5,740.2 1299.9,815.1 1302.3,798.2 1304.7,800.6 1307.1,793.3 1309.6,788.5 1311.2,730.6 1313.2,761.9 1315.1,757.1 1317.5,745 1319.9,771.6 1322.4,788.5 1324,852.5 1326.5,812.6 1328.9,776.4 1331.3,740.2 1333.7,783.7 1336.6,733 1339,778.8 1341.4,812.6 1343.4,798.2 1345.8,845.2 1348.2,795.7 1351.3,817.5 1354.7,805.4 1357.1,807.8 1360.3,771.6 1363.9,798.2 1366.8,819.9 1369.9,788.5 1373.1,795.7 1376,807.8 1378.9,846.4 1381.3,832 1384.4,815.1 1388,737.8" fill="none" stroke="#0a0aff" stroke-width="1.6" stroke-linejoin="miter" stroke-miterlimit="3"/>
<g opacity="0.75">
<polyline points="125,262 126.5,267.3 128,272.3 129.5,276.8 131,280.9 132.5,284.6 134,287.9 135.5,290.8 137,293.2 138.5,295.2 140,296.8 141.5,297.9 143,298.6 144.5,298.9 146,298.4 147.5,296.9 149,294.4 150.5,291 152,287 153.5,282.4 155,277.4 156.5,272.2 158,266.8 159.5,261.4 161,256.2 162.5,251.3 164,246.8 165.5,242.8 167,239.6 168.5,237.3 170,235.9 171.5,235.7 173,236.6 174.5,238.7 176,241.7 177.5,245.5 179.1,249.9 180.6,254.9 182.1,260.1 183.6,265.6 185.1,271.1 186.6,276.5 188.1,281.6 189.6,286.3 191.1,290.5 192.6,293.9 194.1,296.5 195.6,298.1 197.1,298.5 198.6,298 200.1,296.7 201.6,294.9 203.1,292.6 204.6,289.9 206.1,286.9 207.6,283.8 209.1,280.5 210.6,277.3 212.1,274.1 213.6,271.2 215.1,268.6 216.6,266.5 218.1,264.8 219.6,263.8 221.1,263.5 222.6,264 224.1,265.2 225.6,266.9 227.1,268.9 228.6,271 230.1,273.2 231.6,275.1 233.1,276.7 234.6,277.7 236.1,278 237.6,277.7 239.1,276.8 240.6,275.6 242.1,274 243.6,272.2 245.1,270.2 246.6,268 248.1,265.8 249.6,263.7 251.1,261.6 252.6,259.6 254.1,258 255.6,256.6 257.1,255.6 258.6,255 260.1,255 261.6,255.8 263.1,257.3 264.6,259.5 266.1,262.1 267.6,265.3 269.1,268.7 270.6,272.3 272.1,276 273.6,279.7 275.1,283.3 276.6,286.6 278.1,289.5 279.6,292.1 281.1,294 282.6,295.2 284.2,295.7 285.7,295.3 287.2,294.2 288.7,292.5 290.2,290.1 291.7,287.3 293.2,284.2 294.7,280.7 296.2,277.1 297.7,273.3 299.2,269.5 300.7,265.8 302.2,262.3 303.7,259 305.2,256.1 306.7,253.6 308.2,251.6 309.7,250.2 311.2,249.5 312.7,249.7 314.2,250.6 315.7,252.2 317.2,254.4 318.7,257 320.2,260.1 321.7,263.5 323.2,267.1 324.7,270.7 326.2,274.4 327.7,278 329.2,281.4 330.7,284.5 332.2,287.3 333.7,289.5 335.2,291.2 336.7,292.2 338.2,292.5 339.7,291.9 341.2,290.7 342.7,288.8 344.2,286.3 345.7,283.5 347.2,280.2 348.7,276.7 350.2,273 351.7,269.2 353.2,265.4 354.7,261.7 356.2,258.1 357.7,254.8 359.2,251.8 360.7,249.3 362.2,247.3 363.7,245.9" fill="none" stroke="#50a276" stroke-width="5.8" stroke-linejoin="round" stroke-linecap="round"/>
<polyline points="363.7,245.9 365.2,245.3 366.7,245.4 368.2,246.4 369.7,248.1 371.2,250.5 372.7,253.5 374.2,257 375.7,260.8 377.2,264.9 378.7,269.1 380.2,273.5 381.7,277.8 383.2,281.9 384.7,285.9 386.2,289.5 387.7,292.6 389.3,295.2 390.8,297.2 392.3,298.5 393.8,298.9 395.3,298.5 396.8,297.3 398.3,295.5 399.8,293.2 401.3,290.4 402.8,287.2 404.3,283.8 405.8,280.2 407.3,276.5 408.8,272.8 410.3,269.2 411.8,265.9 413.3,262.8 414.8,260.1 416.3,257.8 417.8,256.2 419.3,255.2 420.8,254.9 422.3,255.2 423.8,255.8 425.3,256.7 426.8,257.9 428.3,259.1 429.8,260.5 431.3,261.9 432.8,263.2 434.3,264.4 435.8,265.4 437.3,266.2 438.8,266.6 440.3,266.7 441.8,266.5 443.3,266.2 444.8,265.7 446.3,265.2 447.8,264.7 449.3,264.2 450.8,263.8 452.3,263.6 453.8,263.5 455.3,264.1 456.8,265.4 458.3,267.4 459.8,269.9 461.3,273 462.8,276.4 464.3,280.1 465.8,284 467.3,288 468.8,291.9 470.3,295.7 471.8,299.3 473.3,302.6 474.8,305.4 476.3,307.8 477.8,309.5 479.3,310.5 480.8,310.6 482.3,309.2 483.8,306.2 485.3,301.8 486.8,296.3 488.3,289.8 489.8,282.6 491.3,274.9 492.8,267 494.4,258.9 495.9,251 497.4,243.5 498.9,236.6 500.4,230.5 501.9,225.4 503.4,221.5 504.9,219.1 506.4,218.4 507.9,219.4 509.4,222 510.9,225.9 512.4,231 513.9,237.1 515.4,243.9 516.9,251.4 518.4,259.3 519.9,267.4 521.4,275.5 522.9,283.5 524.4,291.1 525.9,298.2 527.4,304.6 528.9,310 530.4,314.4 531.9,317.5 533.4,319.1 534.9,319.1 536.4,317.5 537.9,314.5 539.4,310.3 540.9,305.2 542.4,299.3 543.9,292.8 545.4,286.1 546.9,279.1 548.4,272.2 549.9,265.6 551.4,259.5 552.9,254 554.4,249.5 555.9,246 557.4,243.8 558.9,243.1 560.4,243.7 561.9,245.3 563.4,247.8 564.9,250.9 566.4,254.5 567.9,258.5 569.4,262.8 570.9,267 572.4,271.2 573.9,275.2 575.4,278.8 576.9,281.8 578.4,284.1 579.9,285.5 581.4,286 582.9,285.5 584.4,284.1 585.9,282.2 587.4,279.6 588.9,276.7 590.4,273.5 591.9,270.1 593.4,266.8 594.9,263.6 596.4,260.6 597.9,258 599.5,255.9 601,254.5 602.5,253.8 604,254.2 605.5,255.7" fill="none" stroke="#50a276" stroke-width="6.0" stroke-linejoin="round" stroke-linecap="round"/>
<polyline points="605.5,255.7 607,258.2 608.5,261.5 610,265.6 611.5,270.3 613,275.3" fill="none" stroke="#50a276" stroke-width="6.2" stroke-linejoin="round" stroke-linecap="round"/>
<polyline points="613,275.3 614.5,280.7 616,286.1 617.5,291.5 619,296.7 620.5,301.7" fill="none" stroke="#50a276" stroke-width="6.4" stroke-linejoin="round" stroke-linecap="round"/>
<polyline points="620.5,301.7 622,306.1 623.5,309.9 625,312.9 626.5,315 628,316 629.5,315.6" fill="none" stroke="#50a276" stroke-width="6.6" stroke-linejoin="round" stroke-linecap="round"/>
<polyline points="629.5,315.6 631,313.3 632.5,309.1 634,303.4 635.5,296.3 637,288.3" fill="none" stroke="#50a276" stroke-width="6.8" stroke-linejoin="round" stroke-linecap="round"/>
<polyline points="637,288.3 638.5,279.3 640,269.9 641.5,260.1 643,250.2 644.5,240.5 646,231.2 647.5,222.6 649,214.9 650.5,208.3 652,203.2 653.5,199.7 655,198.1 656.5,198.8 658,202.2 659.5,208.1 661,216.1 662.5,225.9 664,237.2 665.5,249.7 667,262.9 668.5,276.7 670,290.6 671.5,304.4 673,317.7 674.5,330.2 676,341.7 677.5,351.7 679,359.9 680.5,366 682,369.8 683.5,370.8 685,368.6 686.5,363.5 688,355.7 689.5,345.7 691,333.7 692.5,320.1 694,305.3 695.5,289.6 697,273.4 698.5,257 700,240.8 701.5,225.2 703,210.4 704.6,196.9 706.1,185 707.6,175.1 709.1,167.4 710.6,162.5 712.1,160.5 713.6,162 715.1,166.9 716.6,174.9 718.1,185.4 719.6,198.2 721.1,212.8 722.6,228.7 724.1,245.6 725.6,263.1 727.1,280.8 728.6,298.2 730.1,314.9 731.6,330.6 733.1,344.8 734.6,357.1 736.1,367.1 737.6,374.4 739.1,378.5 740.6,379.2 742.1,376.4 743.6,370.4 745.1,361.8 746.6,350.9 748.1,338.1 749.6,323.8 751.1,308.5 752.6,292.6 754.1,276.4 755.6,260.4 757.1,244.9 758.6,230.5 760.1,217.5 761.6,206.3 763.1,197.3 764.6,191 766.1,187.7 767.6,187.7 769.1,190.3 770.6,195 772.1,201.7 773.6,210 775.1,219.6 776.6,230.2 778.1,241.5 779.6,253.2 781.1,265 782.6,276.7 784.1,287.9 785.6,298.4 787.1,307.8 788.6,315.8 790.1,322.2 791.6,326.6 793.1,328.8 794.6,328.6 796.1,326.6 797.6,323.1 799.1,318.2 800.6,312.2 802.1,305.4 803.6,297.9 805.1,289.9 806.6,281.8 808.1,273.6 809.6,265.7 811.2,258.3 812.7,251.5 814.2,245.7 815.7,241 817.2,237.6 818.7,235.8 820.2,235.7 821.7,236.8 823.2,238.8 824.7,241.7 826.2,245.3 827.7,249.4 829.2,254 830.7,259 832.2,264.2 833.7,269.4 835.2,274.7 836.7,279.8 838.2,284.6 839.7,289 841.2,292.9 842.7,296.2 844.2,298.7 845.7,300.4 847.2,301 848.7,300.5 850.2,298.9 851.7,296.3 853.2,293 854.7,289 856.2,284.5 857.7,279.7 859.2,274.6 860.7,269.6 862.2,264.6 863.7,259.9 865.2,255.6 866.7,251.8 868.2,248.7 869.7,246.6 871.2,245.4 872.7,245.3 874.2,246.3 875.7,248.2 877.2,250.9 878.7,254.2 880.2,258.1 881.7,262.3 883.2,266.8 884.7,271.5 886.2,276.2 887.7,280.7 889.2,285 890.7,289 892.2,292.5 893.7,295.3 895.2,297.4 896.7,298.6 898.2,298.8 899.7,297.7 901.2,295.4 902.7,291.9 904.2,287.6 905.7,282.6 907.2,277 908.7,271.1 910.2,265.1 911.7,259 913.2,253.2 914.7,247.7 916.3,242.8 917.8,238.6 919.3,235.4 920.8,233.3 922.3,232.4 923.8,233.2 925.3,235.9 926.8,240.1 928.3,245.7 929.8,252.3 931.3,259.8 932.8,267.9 934.3,276.3 935.8,284.8 937.3,293.1 938.8,301 940.3,308.3 941.8,314.6 943.3,319.7 944.8,323.4 946.3,325.4 947.8,325.5 949.3,323.5 950.8,319.7 952.3,314.2 953.8,307.5 955.3,299.6 956.8,290.8 958.3,281.4 959.8,271.7 961.3,261.8 962.8,252.1 964.3,242.7 965.8,233.9 967.3,226 968.8,219.2 970.3,213.8 971.8,209.9 973.3,207.9 974.8,208.1 976.3,210.7 977.8,215.5 979.3,222.2 980.8,230.5 982.3,239.9 983.8,250.2 985.3,261.1 986.8,272.2 988.3,283.2 989.8,293.7 991.3,303.4 992.8,312.1 994.3,319.3 995.8,324.7 997.3,328.1 998.8,329 1000.3,327.5 1001.8,324.1 1003.3,319 1004.8,312.5" fill="none" stroke="#50a276" stroke-width="7.0" stroke-linejoin="round" stroke-linecap="round"/>
<polyline points="1004.8,312.5 1006.3,304.8 1007.8,296.4 1009.3,287.5 1010.8,278.3 1012.3,269.2" fill="none" stroke="#50a276" stroke-width="6.8" stroke-linejoin="round" stroke-linecap="round"/>
<polyline points="1012.3,269.2 1013.8,260.5 1015.3,252.5 1016.8,245.4 1018.3,239.6 1019.8,235.3 1021.4,232.9" fill="none" stroke="#50a276" stroke-width="6.6" stroke-linejoin="round" stroke-linecap="round"/>
<polyline points="1021.4,232.9 1022.9,232.5 1024.4,233.8 1025.9,236.3 1027.4,240 1028.9,244.6" fill="none" stroke="#50a276" stroke-width="6.4" stroke-linejoin="round" stroke-linecap="round"/>
<polyline points="1028.9,244.6 1030.4,249.8 1031.9,255.5 1033.4,261.6 1034.9,267.7 1036.4,273.8" fill="none" stroke="#50a276" stroke-width="6.2" stroke-linejoin="round" stroke-linecap="round"/>
<polyline points="1036.4,273.8 1037.9,279.5 1039.4,284.7 1040.9,289.3 1042.4,292.9 1043.9,295.5 1045.4,296.7 1046.9,296.6 1048.4,295.5 1049.9,293.6 1051.4,291.1 1052.9,288 1054.4,284.5 1055.9,280.8 1057.4,277 1058.9,273.3 1060.4,269.7 1061.9,266.4 1063.4,263.6 1064.9,261.3 1066.4,259.8 1067.9,259.2 1069.4,259.3 1070.9,259.8 1072.4,260.5 1073.9,261.5 1075.4,262.6 1076.9,263.8 1078.4,265.1 1079.9,266.3 1081.4,267.5 1082.9,268.5 1084.4,269.3 1085.9,269.9 1087.4,270.3 1088.9,270.6 1090.4,270.8 1091.9,271 1093.4,271.2 1094.9,271.4 1096.4,271.6 1097.9,272 1099.4,272.5 1100.9,273.3 1102.4,274.3 1103.9,275.5 1105.4,276.8 1106.9,278.1 1108.4,279.4 1109.9,280.7 1111.4,281.9 1112.9,282.9 1114.4,283.7 1115.9,284.3 1117.4,284.5 1118.9,284.1 1120.4,282.7 1121.9,280.6 1123.4,277.8 1124.9,274.6 1126.5,271 1128,267.3 1129.5,263.7 1131,260.2 1132.5,257 1134,254.3 1135.5,252.2 1137,251 1138.5,250.7 1140,251.6 1141.5,253.5 1143,256.4 1144.5,259.9 1146,264 1147.5,268.6 1149,273.4 1150.5,278.2 1152,283 1153.5,287.6 1155,291.8 1156.5,295.4 1158,298.3 1159.5,300.3 1161,301.3 1162.5,301.1 1164,299.3 1165.5,296.3 1167,292.2 1168.5,287.3 1170,281.7 1171.5,275.8 1173,269.6 1174.5,263.5 1176,257.7 1177.5,252.3 1179,247.7 1180.5,243.9 1182,241.3 1183.5,240 1185,240.3 1186.5,242 1188,245 1189.5,249 1191,253.9 1192.5,259.5 1194,265.4 1195.5,271.5 1197,277.6 1198.5,283.6 1200,289 1201.5,293.8 1203,297.8 1204.5,300.7 1206,302.3 1207.5,302.5 1209,301.5 1210.5,299.6 1212,296.8 1213.5,293.4 1215,289.4 1216.5,285.1 1218,280.5 1219.5,275.7 1221,271 1222.5,266.5 1224,262.3 1225.5,258.5 1227,255.3 1228.5,252.9 1230,251.3 1231.6,250.7 1233.1,251.1 1234.6,252.2 1236.1,254 1237.6,256.3 1239.1,259 1240.6,262 1242.1,265.2" fill="none" stroke="#50a276" stroke-width="6.0" stroke-linejoin="round" stroke-linecap="round"/>
<polyline points="1242.1,265.2 1243.6,268.5" fill="none" stroke="#50a276" stroke-width="5.8" stroke-linejoin="round" stroke-linecap="round"/>
<polyline points="1243.6,268.5 1245.1,271.8" fill="none" stroke="#50a276" stroke-width="5.6" stroke-linejoin="round" stroke-linecap="round"/>
<polyline points="1245.1,271.8 1246.6,274.9" fill="none" stroke="#50a276" stroke-width="5.4" stroke-linejoin="round" stroke-linecap="round"/>
<polyline points="1246.6,274.9 1248.1,277.7" fill="none" stroke="#50a276" stroke-width="5.2" stroke-linejoin="round" stroke-linecap="round"/>
<polyline points="1248.1,277.7 1249.6,280.2" fill="none" stroke="#50a276" stroke-width="5.0" stroke-linejoin="round" stroke-linecap="round"/>
<polyline points="1249.6,280.2 1251.1,282.3" fill="none" stroke="#50a276" stroke-width="4.8" stroke-linejoin="round" stroke-linecap="round"/>
<polyline points="1251.1,282.3 1252.6,283.7" fill="none" stroke="#50a276" stroke-width="4.6" stroke-linejoin="round" stroke-linecap="round"/>
<polyline points="1252.6,283.7 1254.1,284.4" fill="none" stroke="#50a276" stroke-width="4.4" stroke-linejoin="round" stroke-linecap="round"/>
<polyline points="1254.1,284.4 1255.6,284.4" fill="none" stroke="#50a276" stroke-width="4.2" stroke-linejoin="round" stroke-linecap="round"/>
<polyline points="1255.6,284.4 1257.1,284" fill="none" stroke="#50a276" stroke-width="4.0" stroke-linejoin="round" stroke-linecap="round"/>
<polyline points="1257.1,284 1258.6,283.1" fill="none" stroke="#50a276" stroke-width="3.8" stroke-linejoin="round" stroke-linecap="round"/>
<polyline points="1258.6,283.1 1260.1,282" fill="none" stroke="#50a276" stroke-width="3.6" stroke-linejoin="round" stroke-linecap="round"/>
<polyline points="1260.1,282 1261.6,280.7" fill="none" stroke="#50a276" stroke-width="3.4" stroke-linejoin="round" stroke-linecap="round"/>
<polyline points="1261.6,280.7 1263.1,279.1 1264.6,277.5 1266.1,275.8 1267.6,274.1 1269.1,272.5 1270.6,271 1272.1,269.7 1273.6,268.7 1275.1,268 1276.6,267.6 1278.1,267.6 1279.6,267.7 1281.1,267.7 1282.6,267.8 1284.1,268 1285.6,268.1 1287.1,268.3 1288.6,268.5 1290.1,268.7 1291.6,268.9 1293.1,269.2 1294.6,269.4 1296.1,269.6 1297.6,269.9 1299.1,270.1 1300.6,270.3 1302.1,270.5 1303.6,270.7 1305.1,271 1306.6,271.3 1308.1,271.6 1309.6,272 1311.1,272.3 1312.6,272.6 1314.1,273 1315.6,273.3 1317.1,273.6 1318.6,273.9 1320.1,274.2 1321.6,274.4 1323.1,274.6 1324.6,274.8 1326.1,274.9 1327.6,274.9 1329.1,274.8 1330.6,274.6 1332.1,274.2 1333.6,273.7 1335.1,273.1 1336.7,272.4 1338.2,271.8 1339.7,271.1 1341.2,270.5 1342.7,269.9 1344.2,269.4 1345.7,269.1 1347.2,268.8 1348.7,268.8 1350.2,268.9 1351.7,269.2 1353.2,269.6 1354.7,270.1 1356.2,270.7 1357.7,271.3 1359.2,272 1360.7,272.7 1362.2,273.3 1363.7,273.9 1365.2,274.5 1366.7,274.9 1368.2,275.3 1369.7,275.5 1371.2,275.6 1372.7,275.5 1374.2,275.4 1375.7,275.1 1377.2,274.8 1378.7,274.4 1380.2,273.9 1381.7,273.3 1383.2,272.6 1384.7,271.9 1386.2,271.1 1387.7,270.2 1389.2,269.3" fill="none" stroke="#50a276" stroke-width="3.2" stroke-linejoin="round" stroke-linecap="round"/>
</g>
<g opacity="0.75">
<polyline points="127.5,520.9 129,528.5 130.5,535.5 132,542 133.5,548 135,553.4 136.5,558.1 138,562.2 139.5,565.7 141,568.5 142.5,570.5 144,571.8 145.5,572.4 147,571.9 148.5,570 150,566.9 151.5,562.6 153,557.5 154.5,551.6 156,545.1 157.5,538.1 159,531 160.5,523.7 162,516.5 163.5,509.6 165,503.1 166.5,497.2 168,492 169.5,487.8 171,484.7 172.5,482.8 174,482.3 175.5,483.6 177,486.5 178.5,490.8 180,496.3 181.5,502.7 183,509.9 184.5,517.5 186,525.5 187.5,533.6 189,541.5 190.5,549.1 192,556.1 193.5,562.3 195,567.4 196.5,571.4 198,573.8 199.5,574.6 201,573.9 202.5,572.1 204,569.4 205.5,565.9 207,561.8 208.5,557.2 210,552.2 211.5,547 213,541.7 214.5,536.6 216,531.7 217.5,527.2 219,523.2 220.5,519.9 222,517.5 223.5,516 225,515.6 226.5,516.2 228,517.4 229.5,519.2 231,521.5 232.5,524 234,526.8 235.5,529.7 237,532.6 238.5,535.3 240,537.7 241.5,539.7 243,541.3 244.5,542.2 246,542.4 247.5,541.9 249,540.9 250.5,539.4 252,537.5 253.5,535.4 255,533.2 256.5,530.8 258,528.5 259.5,526.2 261,524.2 262.5,522.4 264,521.1 265.5,520.2 267,519.9 268.5,520.2 270,521.2 271.5,522.6 273,524.5 274.5,526.7 276,529.2 277.5,531.8 279,534.6 280.5,537.3 282,539.8 283.5,542.3 285,544.4 286.5,546.1 288,547.5 289.5,548.2 291,548.4 292.5,548 294,547.2 295.5,546 297,544.6 298.5,542.8 300,540.9 301.5,538.9" fill="none" stroke="#50a276" stroke-width="6.0" stroke-linejoin="round" stroke-linecap="round"/>
<polyline points="301.5,538.9 303,536.8" fill="none" stroke="#50a276" stroke-width="5.8" stroke-linejoin="round" stroke-linecap="round"/>
<polyline points="303,536.8 304.5,534.7 306,532.6" fill="none" stroke="#50a276" stroke-width="5.6" stroke-linejoin="round" stroke-linecap="round"/>
<polyline points="306,532.6 307.5,530.7" fill="none" stroke="#50a276" stroke-width="5.4" stroke-linejoin="round" stroke-linecap="round"/>
<polyline points="307.5,530.7 309,528.9" fill="none" stroke="#50a276" stroke-width="5.2" stroke-linejoin="round" stroke-linecap="round"/>
<polyline points="309,528.9 310.5,527.4" fill="none" stroke="#50a276" stroke-width="5.0" stroke-linejoin="round" stroke-linecap="round"/>
<polyline points="310.5,527.4 312,526.2 313.5,525.3" fill="none" stroke="#50a276" stroke-width="4.8" stroke-linejoin="round" stroke-linecap="round"/>
<polyline points="313.5,525.3 315,524.8" fill="none" stroke="#50a276" stroke-width="4.6" stroke-linejoin="round" stroke-linecap="round"/>
<polyline points="315,524.8 316.5,524.8" fill="none" stroke="#50a276" stroke-width="4.4" stroke-linejoin="round" stroke-linecap="round"/>
<polyline points="316.5,524.8 318,525.1" fill="none" stroke="#50a276" stroke-width="4.2" stroke-linejoin="round" stroke-linecap="round"/>
<polyline points="318,525.1 319.5,525.7 321,526.4" fill="none" stroke="#50a276" stroke-width="4.0" stroke-linejoin="round" stroke-linecap="round"/>
<polyline points="321,526.4 322.5,527.3" fill="none" stroke="#50a276" stroke-width="3.8" stroke-linejoin="round" stroke-linecap="round"/>
<polyline points="322.5,527.3 324,528.3" fill="none" stroke="#50a276" stroke-width="3.6" stroke-linejoin="round" stroke-linecap="round"/>
<polyline points="324,528.3 325.5,529.4" fill="none" stroke="#50a276" stroke-width="3.4" stroke-linejoin="round" stroke-linecap="round"/>
<polyline points="325.5,529.4 327,530.5 328.5,531.6" fill="none" stroke="#50a276" stroke-width="3.2" stroke-linejoin="round" stroke-linecap="round"/>
<polyline points="328.5,531.6 330,532.7" fill="none" stroke="#50a276" stroke-width="3.0" stroke-linejoin="round" stroke-linecap="round"/>
<polyline points="330,532.7 331.5,533.8 333,534.7 334.5,535.5 336,536.1 337.5,536.5 339,536.6 340.5,536.6 342,536.5 343.5,536.4 345,536.2 346.5,536 348,535.7 349.5,535.5 351,535.2 352.5,534.8 354,534.5 355.5,534.1 357,533.8 358.5,533.4 360,533 361.5,532.6 363,532.2 364.5,531.8 366,531.5 367.5,531.1 369,530.8 370.5,530.5 372,530.2 373.5,529.9 375,529.7 376.5,529.5 378,529.3 379.5,529.2 381,529.1 382.5,529.1 384,529.3 385.5,529.7 387,530.4" fill="none" stroke="#50a276" stroke-width="2.8" stroke-linejoin="round" stroke-linecap="round"/>
<polyline points="387,530.4 388.5,531.3" fill="none" stroke="#50a276" stroke-width="3.2" stroke-linejoin="round" stroke-linecap="round"/>
<polyline points="388.5,531.3 390,532.3" fill="none" stroke="#50a276" stroke-width="3.4" stroke-linejoin="round" stroke-linecap="round"/>
<polyline points="390,532.3 391.5,533.4" fill="none" stroke="#50a276" stroke-width="3.6" stroke-linejoin="round" stroke-linecap="round"/>
<polyline points="391.5,533.4 393,534.7" fill="none" stroke="#50a276" stroke-width="3.8" stroke-linejoin="round" stroke-linecap="round"/>
<polyline points="393,534.7 394.5,536" fill="none" stroke="#50a276" stroke-width="4.0" stroke-linejoin="round" stroke-linecap="round"/>
<polyline points="394.5,536 396,537.3" fill="none" stroke="#50a276" stroke-width="4.4" stroke-linejoin="round" stroke-linecap="round"/>
<polyline points="396,537.3 397.5,538.6" fill="none" stroke="#50a276" stroke-width="4.6" stroke-linejoin="round" stroke-linecap="round"/>
<polyline points="397.5,538.6 399,539.8" fill="none" stroke="#50a276" stroke-width="4.8" stroke-linejoin="round" stroke-linecap="round"/>
<polyline points="399,539.8 400.5,541" fill="none" stroke="#50a276" stroke-width="5.0" stroke-linejoin="round" stroke-linecap="round"/>
<polyline points="400.5,541 402,542.1" fill="none" stroke="#50a276" stroke-width="5.2" stroke-linejoin="round" stroke-linecap="round"/>
<polyline points="402,542.1 403.5,543" fill="none" stroke="#50a276" stroke-width="5.6" stroke-linejoin="round" stroke-linecap="round"/>
<polyline points="403.5,543 405,543.7" fill="none" stroke="#50a276" stroke-width="5.8" stroke-linejoin="round" stroke-linecap="round"/>
<polyline points="405,543.7 406.5,544.2 408,544.5 409.5,544.4 411,543.9 412.5,543 414,541.8 415.5,540.2 417,538.4 418.5,536.5 420,534.4 421.5,532.2 423,530 424.5,527.8 426,525.8 427.5,523.8 429,522.1 430.5,520.7 432,519.5 433.5,518.8 435,518.4 436.5,518.5 438,518.7 439.5,519.2 441,519.8" fill="none" stroke="#50a276" stroke-width="6.0" stroke-linejoin="round" stroke-linecap="round"/>
<polyline points="441,519.8 442.5,520.6 444.1,521.6" fill="none" stroke="#50a276" stroke-width="5.8" stroke-linejoin="round" stroke-linecap="round"/>
<polyline points="444.1,521.6 445.6,522.7" fill="none" stroke="#50a276" stroke-width="5.6" stroke-linejoin="round" stroke-linecap="round"/>
<polyline points="445.6,522.7 447.1,523.9" fill="none" stroke="#50a276" stroke-width="5.4" stroke-linejoin="round" stroke-linecap="round"/>
<polyline points="447.1,523.9 448.6,525.2 450.1,526.6" fill="none" stroke="#50a276" stroke-width="5.2" stroke-linejoin="round" stroke-linecap="round"/>
<polyline points="450.1,526.6 451.6,528" fill="none" stroke="#50a276" stroke-width="5.0" stroke-linejoin="round" stroke-linecap="round"/>
<polyline points="451.6,528 453.1,529.5" fill="none" stroke="#50a276" stroke-width="4.8" stroke-linejoin="round" stroke-linecap="round"/>
<polyline points="453.1,529.5 454.6,531.1 456.1,532.7" fill="none" stroke="#50a276" stroke-width="4.6" stroke-linejoin="round" stroke-linecap="round"/>
<polyline points="456.1,532.7 457.6,534.3" fill="none" stroke="#50a276" stroke-width="4.4" stroke-linejoin="round" stroke-linecap="round"/>
<polyline points="457.6,534.3 459.1,535.9" fill="none" stroke="#50a276" stroke-width="4.2" stroke-linejoin="round" stroke-linecap="round"/>
<polyline points="459.1,535.9 460.6,537.5 462.1,539.1" fill="none" stroke="#50a276" stroke-width="4.0" stroke-linejoin="round" stroke-linecap="round"/>
<polyline points="462.1,539.1 463.6,540.6 465.1,542" fill="none" stroke="#50a276" stroke-width="4.2" stroke-linejoin="round" stroke-linecap="round"/>
<polyline points="465.1,542 466.6,543.4 468.1,544.7" fill="none" stroke="#50a276" stroke-width="4.4" stroke-linejoin="round" stroke-linecap="round"/>
<polyline points="468.1,544.7 469.6,545.9 471.1,546.9" fill="none" stroke="#50a276" stroke-width="4.6" stroke-linejoin="round" stroke-linecap="round"/>
<polyline points="471.1,546.9 472.6,547.8 474.1,548.6" fill="none" stroke="#50a276" stroke-width="4.8" stroke-linejoin="round" stroke-linecap="round"/>
<polyline points="474.1,548.6 475.6,549.2 477.1,549.6" fill="none" stroke="#50a276" stroke-width="5.0" stroke-linejoin="round" stroke-linecap="round"/>
<polyline points="477.1,549.6 478.6,549.9 480.1,549.8" fill="none" stroke="#50a276" stroke-width="5.2" stroke-linejoin="round" stroke-linecap="round"/>
<polyline points="480.1,549.8 481.6,549 483.1,547.3" fill="none" stroke="#50a276" stroke-width="5.4" stroke-linejoin="round" stroke-linecap="round"/>
<polyline points="483.1,547.3 484.6,545 486.1,542.1" fill="none" stroke="#50a276" stroke-width="5.6" stroke-linejoin="round" stroke-linecap="round"/>
<polyline points="486.1,542.1 487.6,538.7 489.1,535" fill="none" stroke="#50a276" stroke-width="5.8" stroke-linejoin="round" stroke-linecap="round"/>
<polyline points="489.1,535 490.6,531 492.1,526.8 493.6,522.6 495.1,518.4 496.6,514.4 498.1,510.6 499.6,507.3 501.1,504.4 502.6,502 504.1,500.4 505.6,499.6 507.1,499.7 508.6,501.1 510.1,503.7 511.6,507.2 513.1,511.6 514.6,516.6 516.1,522.2 517.6,528.1 519.1,534.3 520.6,540.5 522.1,546.6 523.6,552.4 525.1,557.9 526.6,562.7 528.1,566.9 529.6,570.2 531.1,572.4 532.6,573.4 534.1,573.1 535.6,571.4 537.1,568.5 538.6,564.5 540.1,559.7 541.6,554.2 543.1,548.1 544.6,541.8 546.1,535.2 547.6,528.7 549.1,522.4 550.6,516.5 552.1,511.1 553.6,506.4 555.1,502.7 556.6,500 558.1,498.6 559.6,498.6 561.1,500 562.6,502.7 564.1,506.5 565.6,511 567.1,516.3 568.6,522 570.1,527.9 571.6,533.9 573.1,539.8 574.6,545.4 576.1,550.5 577.6,554.8 579.1,558.3 580.6,560.6 582.1,561.7 583.6,561.1 585.1,558.8 586.6,555.1 588.1,550.1 589.6,544.3 591.1,537.9 592.6,531.2 594.1,524.5 595.6,518.1 597.1,512.3 598.6,507.3 600.1,503.5 601.6,501.1 603.1,500.5 604.6,501.7 606.1,504.3 607.6,508.2 609.1,513.1 610.6,518.9 612.1,525.4 613.6,532.3 615.1,539.4 616.6,546.5 618.1,553.4 619.6,559.9 621.1,565.8 622.6,570.8 624.1,574.8" fill="none" stroke="#50a276" stroke-width="6.0" stroke-linejoin="round" stroke-linecap="round"/>
<polyline points="624.1,574.8 625.6,577.6 627.1,578.8 628.6,578.4 630.1,576.2" fill="none" stroke="#50a276" stroke-width="6.2" stroke-linejoin="round" stroke-linecap="round"/>
<polyline points="630.1,576.2 631.6,572.5 633.1,567.5 634.6,561.3 636.1,554.2" fill="none" stroke="#50a276" stroke-width="6.4" stroke-linejoin="round" stroke-linecap="round"/>
<polyline points="636.1,554.2 637.6,546.5 639.1,538.2 640.6,529.7 642.1,521.2" fill="none" stroke="#50a276" stroke-width="6.6" stroke-linejoin="round" stroke-linecap="round"/>
<polyline points="642.1,521.2 643.6,512.8 645.1,504.8 646.6,497.4 648.1,490.8" fill="none" stroke="#50a276" stroke-width="6.8" stroke-linejoin="round" stroke-linecap="round"/>
<polyline points="648.1,490.8 649.6,485.3 651.1,481 652.6,478.1 654.1,476.9 655.6,477.7 657.1,480.5 658.6,485.1 660.1,491.1 661.6,498.5 663.1,506.9 664.6,516.1 666.1,525.7 667.6,535.7 669.1,545.7 670.6,555.4 672.1,564.6 673.6,573.2 675.1,580.7 676.6,587 678.1,591.8 679.6,594.9 681.1,596 682.6,595 684.1,592.1 685.6,587.6 687.1,581.6 688.6,574.3 690.1,566.1 691.6,557 693.1,547.4 694.6,537.4 696.1,527.2 697.6,517.2 699.1,507.4 700.6,498.1 702.1,489.5 703.6,481.9 705.1,475.5 706.6,470.4 708.1,466.9 709.6,465.2 711.1,465.6 712.6,468.1 714.1,472.4 715.6,478.4 717.1,485.8 718.6,494.4 720.1,504 721.6,514.2 723.1,525 724.6,535.9 726.1,546.9 727.6,557.6 729.1,567.8 730.6,577.4 732.1,586 733.6,593.4 735.1,599.4 736.6,603.8 738.1,606.3 739.6,606.7 741.1,604.6 742.6,600.3 744.1,594.1 745.6,586.3 747.1,577 748.6,566.7 750.1,555.5 751.6,543.8 753.1,531.9 754.6,520 756.1,508.4 757.6,497.4 759.1,487.2 760.6,478.2 762.1,470.7 763.6,464.8 765.1,461 766.6,459.4 768.1,460.4 769.6,464 771.1,469.7 772.6,477.4 774.1,486.6 775.6,497 777.1,508.4 778.6,520.3 780.1,532.4 781.6,544.5 783.1,556.1 784.6,567 786.1,576.8 787.6,585.2 789.1,591.9 790.6,596.5 792.1,598.7 793.6,598.4 795.1,596 796.6,591.8 798.1,586.1 799.6,579.1 801.1,571 802.6,562.2 804.1,552.8 805.6,543 807.1,533.2 808.6,523.6 810.1,514.4 811.6,505.9 813.1,498.3 814.6,491.9 816.1,486.9 817.6,483.5 819.1,482 820.6,482.5 822.1,484.6 823.6,488.1 825.1,492.7 826.6,498.4 828.1,504.7 829.6,511.7 831.1,519 832.6,526.5 834.1,533.9 835.6,541.1 837.1,547.8 838.6,553.9 840.1,559.1 841.6,563.3 843.1,566.2 844.6,567.7 846.1,567.6 847.6,566.3 849.1,564 850.6,560.8 852.1,556.9 853.6,552.5 855.1,547.7 856.6,542.6 858.1,537.4 859.6,532.3 861.1,527.4 862.6,522.8 864.1,518.8 865.6,515.4 867.1,512.9 868.6,511.3 870.1,510.9 871.6,511.5 873.1,513 874.6,515.2 876.1,518.1 877.6,521.4 879.1,525.2 880.6,529.1 882.1,533.2 883.6,537.3 885.1,541.3 886.6,545.1 888.1,548.5 889.6,551.4 891.1,553.7 892.6,555.3 894.1,556 895.6,555.7 897.1,554.3 898.6,552 900.1,548.9 901.6,545 903.1,540.7 904.6,535.9 906.1,530.8 907.6,525.5 909.1,520.2 910.6,515 912.1,510.1 913.6,505.5 915.1,501.4 916.6,498 918.1,495.3 919.6,493.5 921.1,492.7 922.6,493.3 924.1,495.4 925.6,498.9 927.1,503.6 928.6,509.3 930.1,515.9 931.6,523.1 933.1,530.8 934.6,538.7 936.1,546.8 937.6,554.7 939.1,562.4 940.6,569.6 942.1,576.1 943.6,581.8 945.1,586.5 946.6,589.9 948.1,592 949.6,592.4 951.1,590.7 952.6,586.9 954.1,581.2 955.6,573.9 957.1,565.3 958.6,555.8 960.1,545.6 961.6,535 963.1,524.3 964.6,513.8 966.1,503.8 967.6,494.5 969.1,486.3 970.6,479.5 972.1,474.3 973.6,471.1 975.1,470.1 976.6,471.6 978.1,475.3 979.6,481 981.1,488.3 982.6,497 984.1,506.6 985.6,516.9 987.1,527.6 988.6,538.3 990.1,548.8 991.6,558.7 993.1,567.6 994.6,575.3 996.1,581.5 997.6,585.9 999.1,588 1000.6,587.8 1002.1,585.4 1003.6,581.3" fill="none" stroke="#50a276" stroke-width="7.0" stroke-linejoin="round" stroke-linecap="round"/>
<polyline points="1003.6,581.3 1005.1,575.8 1006.6,569 1008.1,561.2 1009.6,552.9" fill="none" stroke="#50a276" stroke-width="6.8" stroke-linejoin="round" stroke-linecap="round"/>
<polyline points="1009.6,552.9 1011.1,544.2 1012.6,535.4 1014.1,526.8 1015.6,518.8" fill="none" stroke="#50a276" stroke-width="6.6" stroke-linejoin="round" stroke-linecap="round"/>
<polyline points="1015.6,518.8 1017.1,511.5 1018.6,505.3 1020.1,500.4 1021.6,497.2" fill="none" stroke="#50a276" stroke-width="6.4" stroke-linejoin="round" stroke-linecap="round"/>
<polyline points="1021.6,497.2 1023.1,495.9 1024.6,496.4 1026.1,497.9 1027.6,500.5" fill="none" stroke="#50a276" stroke-width="6.2" stroke-linejoin="round" stroke-linecap="round"/>
<polyline points="1027.6,500.5 1029.1,503.8 1030.6,507.8 1032.1,512.2 1033.6,517.1 1035.1,522.1 1036.6,527.2 1038.1,532.1 1039.6,536.9 1041.1,541.2 1042.6,545 1044.1,548 1045.6,550.3 1047.1,551.5 1048.6,551.7 1050.1,551.4 1051.6,550.9 1053.1,550.2 1054.6,549.2 1056.1,548 1057.6,546.7 1059.1,545.2 1060.6,543.6 1062.1,541.8 1063.6,540 1065.1,538.1 1066.6,536.1 1068.1,534.1 1069.6,532 1071.1,530 1072.6,528 1074.2,526 1075.7,524.1 1077.2,522.3 1078.7,520.6 1080.2,519 1081.7,517.5 1083.2,516.2 1084.7,515.1 1086.2,514.2 1087.7,513.5 1089.2,513 1090.7,512.8 1092.2,513.2 1093.7,514.6 1095.2,517 1096.7,520.1 1098.2,524 1099.7,528.3 1101.2,533 1102.7,537.9 1104.2,542.8 1105.7,547.6 1107.2,552.2 1108.7,556.4 1110.2,559.9 1111.7,562.8 1113.2,564.8 1114.7,565.8 1116.2,565.6 1117.7,563.9 1119.2,560.9 1120.7,556.9 1122.2,552 1123.7,546.4 1125.2,540.4 1126.7,534 1128.2,527.6 1129.7,521.3 1131.2,515.3 1132.7,509.9 1134.2,505.2 1135.7,501.3 1137.2,498.6 1138.7,497.2 1140.2,497.4 1141.7,498.9 1143.2,501.8 1144.7,505.7 1146.2,510.6 1147.7,516.1 1149.2,522.1 1150.7,528.4 1152.2,534.7 1153.7,541 1155.2,547 1156.7,552.5 1158.2,557.3 1159.7,561.3 1161.2,564.1 1162.7,565.7 1164.2,565.7 1165.7,563.9 1167.2,560.5 1168.7,555.8 1170.2,550 1171.7,543.5 1173.2,536.6 1174.7,529.6 1176.2,522.8 1177.7,516.5 1179.2,510.9 1180.7,506.4 1182.2,503.3 1183.7,501.9 1185.2,502.4 1186.7,504.3 1188.2,507.5 1189.7,511.7 1191.2,516.8 1192.7,522.5 1194.2,528.6 1195.7,534.8 1197.2,541.1 1198.7,547 1200.2,552.6 1201.7,557.4 1203.2,561.4 1204.7,564.2 1206.2,565.7 1207.7,565.7 1209.2,564.5 1210.7,562.2 1212.2,558.9 1213.7,554.9 1215.2,550.3 1216.7,545.2 1218.2,539.8 1219.7,534.2 1221.2,528.7 1222.7,523.3 1224.2,518.3 1225.7,513.7 1227.2,509.7 1228.7,506.6 1230.2,504.3 1231.7,503.2 1233.2,503.3 1234.7,504.7 1236.2,507.2 1237.7,510.7 1239.2,514.9 1240.7,519.6 1242.2,524.7 1243.7,530 1245.2,535.4 1246.7,540.5 1248.2,545.3 1249.7,549.5 1251.2,553.1 1252.7,555.7 1254.2,557.2 1255.7,557.5 1257.2,556.8 1258.7,555.5 1260.2,553.6 1261.7,551.2 1263.2,548.4 1264.7,545.4 1266.2,542.1 1267.7,538.7 1269.2,535.2 1270.7,531.9 1272.2,528.7 1273.7,525.8 1275.2,523.3 1276.7,521.3 1278.2,519.8 1279.7,518.9 1281.2,518.8 1282.7,519.3 1284.2,520.2 1285.7,521.5 1287.2,523.1 1288.7,524.9 1290.2,527 1291.7,529.2" fill="none" stroke="#50a276" stroke-width="6.0" stroke-linejoin="round" stroke-linecap="round"/>
<polyline points="1291.7,529.2 1293.2,531.4" fill="none" stroke="#50a276" stroke-width="5.8" stroke-linejoin="round" stroke-linecap="round"/>
<polyline points="1293.2,531.4 1294.7,533.7" fill="none" stroke="#50a276" stroke-width="5.6" stroke-linejoin="round" stroke-linecap="round"/>
<polyline points="1294.7,533.7 1296.2,535.8" fill="none" stroke="#50a276" stroke-width="5.4" stroke-linejoin="round" stroke-linecap="round"/>
<polyline points="1296.2,535.8 1297.7,537.9" fill="none" stroke="#50a276" stroke-width="5.2" stroke-linejoin="round" stroke-linecap="round"/>
<polyline points="1297.7,537.9 1299.2,539.8" fill="none" stroke="#50a276" stroke-width="5.0" stroke-linejoin="round" stroke-linecap="round"/>
<polyline points="1299.2,539.8 1300.7,541.4" fill="none" stroke="#50a276" stroke-width="4.8" stroke-linejoin="round" stroke-linecap="round"/>
<polyline points="1300.7,541.4 1302.2,542.7" fill="none" stroke="#50a276" stroke-width="4.6" stroke-linejoin="round" stroke-linecap="round"/>
<polyline points="1302.2,542.7 1303.7,543.7" fill="none" stroke="#50a276" stroke-width="4.2" stroke-linejoin="round" stroke-linecap="round"/>
<polyline points="1303.7,543.7 1305.2,544.1" fill="none" stroke="#50a276" stroke-width="4.0" stroke-linejoin="round" stroke-linecap="round"/>
<polyline points="1305.2,544.1 1306.7,544.1" fill="none" stroke="#50a276" stroke-width="3.8" stroke-linejoin="round" stroke-linecap="round"/>
<polyline points="1306.7,544.1 1308.2,543.7" fill="none" stroke="#50a276" stroke-width="3.6" stroke-linejoin="round" stroke-linecap="round"/>
<polyline points="1308.2,543.7 1309.7,543" fill="none" stroke="#50a276" stroke-width="3.4" stroke-linejoin="round" stroke-linecap="round"/>
<polyline points="1309.7,543 1311.2,541.9 1312.7,540.6 1314.2,539.1 1315.7,537.5 1317.2,535.8 1318.7,534.1 1320.2,532.4 1321.7,530.8 1323.2,529.3 1324.7,528 1326.2,526.9 1327.7,526.1 1329.2,525.7 1330.7,525.6 1332.2,525.8 1333.7,526.2 1335.2,526.8 1336.7,527.5 1338.2,528.3 1339.7,529.3 1341.2,530.3 1342.7,531.3 1344.2,532.4 1345.7,533.5 1347.2,534.6 1348.7,535.7 1350.2,536.6 1351.7,537.5 1353.2,538.3 1354.7,538.9 1356.2,539.4 1357.7,539.7 1359.2,539.8 1360.7,539.8 1362.2,539.7 1363.7,539.6 1365.2,539.5 1366.7,539.3 1368.2,539 1369.7,538.7 1371.2,538.4 1372.7,538 1374.2,537.6 1375.7,537.1 1377.2,536.5 1378.7,535.9 1380.2,535.2 1381.7,534.5 1383.2,533.7 1384.7,532.8 1386.2,531.8 1387.7,530.8 1389.2,529.7" fill="none" stroke="#50a276" stroke-width="3.2" stroke-linejoin="round" stroke-linecap="round"/>
</g>
<g opacity="0.75">
<polyline points="127.5,758.5 129,766.7 130.5,774.1 132,780.9 133.5,786.9 135,792.2 136.5,796.8 138,800.8 139.5,804 141,806.5 142.5,808.4 144,809.5 145.5,810 147,809.3 148.5,806.8 150,802.5 151.5,796.8 153,789.9 154.5,782.1 156,773.6 157.5,764.7 159,755.6 160.5,746.7 162,738.1 163.5,730.1 165,722.9 166.5,716.9 168,712.2 169.5,709.2 171,708 172.5,708.9 174,711.6 175.5,715.9 177,721.6 178.5,728.5 180,736.2 181.5,744.6 183,753.4 184.5,762.5 186,771.4 187.5,780.1 189,788.3 190.5,795.7 192,802.1 193.5,807.2 195,810.9 196.5,812.9 198,813 199.5,811.5 201,808.5 202.5,804.4 204,799.3 205.5,793.4 207,787.1 208.5,780.4 210,773.7 211.5,767.1 213,760.8 214.5,755.1 216,750.2 217.5,746.4 219,743.7 220.5,742.5 222,742.6 223.5,743.5 225,745.1 226.5,747.1 228,749.6 229.5,752.4 231,755.5 232.5,758.6 234,761.8 235.5,764.8 237,767.7 238.5,770.3 240,772.5 241.5,774.1" fill="none" stroke="#50a276" stroke-width="6.0" stroke-linejoin="round" stroke-linecap="round"/>
<polyline points="241.5,774.1 243,775.2" fill="none" stroke="#50a276" stroke-width="5.8" stroke-linejoin="round" stroke-linecap="round"/>
<polyline points="243,775.2 244.5,775.6 246,775.3" fill="none" stroke="#50a276" stroke-width="5.6" stroke-linejoin="round" stroke-linecap="round"/>
<polyline points="246,775.3 247.5,774.5" fill="none" stroke="#50a276" stroke-width="5.4" stroke-linejoin="round" stroke-linecap="round"/>
<polyline points="247.5,774.5 249,773.3" fill="none" stroke="#50a276" stroke-width="5.2" stroke-linejoin="round" stroke-linecap="round"/>
<polyline points="249,773.3 250.5,771.7" fill="none" stroke="#50a276" stroke-width="5.0" stroke-linejoin="round" stroke-linecap="round"/>
<polyline points="250.5,771.7 252,769.9" fill="none" stroke="#50a276" stroke-width="4.8" stroke-linejoin="round" stroke-linecap="round"/>
<polyline points="252,769.9 253.5,767.8 255,765.7" fill="none" stroke="#50a276" stroke-width="4.6" stroke-linejoin="round" stroke-linecap="round"/>
<polyline points="255,765.7 256.5,763.6" fill="none" stroke="#50a276" stroke-width="4.4" stroke-linejoin="round" stroke-linecap="round"/>
<polyline points="256.5,763.6 258,761.5" fill="none" stroke="#50a276" stroke-width="4.2" stroke-linejoin="round" stroke-linecap="round"/>
<polyline points="258,761.5 259.5,759.6" fill="none" stroke="#50a276" stroke-width="4.0" stroke-linejoin="round" stroke-linecap="round"/>
<polyline points="259.5,759.6 261,758 262.5,756.6 264,755.7 265.5,755.2 267,755.3 268.5,755.9 270,756.9 271.5,758.2 273,759.8 274.5,761.6 276,763.5 277.5,765.6 279,767.6 280.5,769.6 282,771.5 283.5,773.2 285,774.6 286.5,775.7 288,776.4 289.5,776.7 291,776.5 292.5,775.9 294,774.9 295.5,773.7 297,772.2 298.5,770.6 300,769 301.5,767.3 303,765.6 304.5,764.1 306,762.8 307.5,761.7 309,761 310.5,760.6 312,760.6 313.5,760.8 315,761 316.5,761.2 318,761.6 319.5,761.9 321,762.3 322.5,762.7 324,763 325.5,763.3 327,763.6 328.5,763.7 330,763.8 331.5,763.8 333,763.7 334.5,763.6 336,763.5 337.5,763.3 339,763.2 340.5,763.1 342,763 343.5,763 345,763.4 346.5,764.1 348,765 349.5,766.2 351,767.6 352.5,769.1 354,770.6 355.5,772.1 357,773.6 358.5,774.9 360,776 361.5,776.9" fill="none" stroke="#50a276" stroke-width="3.8" stroke-linejoin="round" stroke-linecap="round"/>
<polyline points="361.5,776.9 363,777.6" fill="none" stroke="#50a276" stroke-width="4.0" stroke-linejoin="round" stroke-linecap="round"/>
<polyline points="363,777.6 364.5,777.8 366,777.6" fill="none" stroke="#50a276" stroke-width="4.2" stroke-linejoin="round" stroke-linecap="round"/>
<polyline points="366,777.6 367.5,776.8" fill="none" stroke="#50a276" stroke-width="4.4" stroke-linejoin="round" stroke-linecap="round"/>
<polyline points="367.5,776.8 369,775.6" fill="none" stroke="#50a276" stroke-width="4.6" stroke-linejoin="round" stroke-linecap="round"/>
<polyline points="369,775.6 370.5,773.9" fill="none" stroke="#50a276" stroke-width="4.8" stroke-linejoin="round" stroke-linecap="round"/>
<polyline points="370.5,773.9 372,772" fill="none" stroke="#50a276" stroke-width="5.0" stroke-linejoin="round" stroke-linecap="round"/>
<polyline points="372,772 373.5,769.8 375,767.5" fill="none" stroke="#50a276" stroke-width="5.2" stroke-linejoin="round" stroke-linecap="round"/>
<polyline points="375,767.5 376.5,765" fill="none" stroke="#50a276" stroke-width="5.4" stroke-linejoin="round" stroke-linecap="round"/>
<polyline points="376.5,765 378,762.5" fill="none" stroke="#50a276" stroke-width="5.6" stroke-linejoin="round" stroke-linecap="round"/>
<polyline points="378,762.5 379.5,760.1" fill="none" stroke="#50a276" stroke-width="5.8" stroke-linejoin="round" stroke-linecap="round"/>
<polyline points="379.5,760.1 381,757.8 382.5,755.6 384,753.8 385.5,752.3 387,751.2 388.5,750.6 390,750.6 391.5,751.2 393,752.4 394.5,754.1 396,756.2 397.5,758.6 399,761.2 400.5,764 402,766.8 403.5,769.5 405,772.1 406.5,774.5 408,776.6 409.5,778.2 411,779.3 412.5,779.9 414,779.8 415.5,779.1 417,777.9 418.5,776.4 420,774.5 421.5,772.4 423,770.1 424.5,767.6 426,765.1 427.5,762.7 429,760.4 430.5,758.2 432,756.3 433.5,754.7 435,753.6 436.5,752.9 438,752.7 439.5,753.1 441,753.4" fill="none" stroke="#50a276" stroke-width="6.0" stroke-linejoin="round" stroke-linecap="round"/>
<polyline points="441,753.4 442.5,753.8" fill="none" stroke="#50a276" stroke-width="5.6" stroke-linejoin="round" stroke-linecap="round"/>
<polyline points="442.5,753.8 444.1,754.1" fill="none" stroke="#50a276" stroke-width="5.0" stroke-linejoin="round" stroke-linecap="round"/>
<polyline points="444.1,754.1 445.6,754.5" fill="none" stroke="#50a276" stroke-width="4.4" stroke-linejoin="round" stroke-linecap="round"/>
<polyline points="445.6,754.5 447.1,754.9 448.6,755.4 450.1,755.8 451.6,756.3 453.1,756.9 454.6,757.4 456.1,758.1 457.6,758.8 459.1,759.6 460.6,760.9 462.1,762.6 463.6,764.6 465.1,766.9 466.6,769.4 468.1,772 469.6,774.6 471.1,777.3 472.6,779.9 474.1,782.5 475.6,784.8 477.1,786.9 478.6,788.7 480.1,790.1 481.6,791.1" fill="none" stroke="#50a276" stroke-width="4.0" stroke-linejoin="round" stroke-linecap="round"/>
<polyline points="481.6,791.1 483.1,791.6" fill="none" stroke="#50a276" stroke-width="4.2" stroke-linejoin="round" stroke-linecap="round"/>
<polyline points="483.1,791.6 484.6,791.5" fill="none" stroke="#50a276" stroke-width="4.4" stroke-linejoin="round" stroke-linecap="round"/>
<polyline points="484.6,791.5 486.1,790" fill="none" stroke="#50a276" stroke-width="4.6" stroke-linejoin="round" stroke-linecap="round"/>
<polyline points="486.1,790 487.6,787.4" fill="none" stroke="#50a276" stroke-width="4.8" stroke-linejoin="round" stroke-linecap="round"/>
<polyline points="487.6,787.4 489.1,783.8" fill="none" stroke="#50a276" stroke-width="5.0" stroke-linejoin="round" stroke-linecap="round"/>
<polyline points="489.1,783.8 490.6,779.3" fill="none" stroke="#50a276" stroke-width="5.2" stroke-linejoin="round" stroke-linecap="round"/>
<polyline points="490.6,779.3 492.1,774.1" fill="none" stroke="#50a276" stroke-width="5.4" stroke-linejoin="round" stroke-linecap="round"/>
<polyline points="492.1,774.1 493.6,768.4 495.1,762.4" fill="none" stroke="#50a276" stroke-width="5.6" stroke-linejoin="round" stroke-linecap="round"/>
<polyline points="495.1,762.4 496.6,756.3" fill="none" stroke="#50a276" stroke-width="5.8" stroke-linejoin="round" stroke-linecap="round"/>
<polyline points="496.6,756.3 498.1,750.1" fill="none" stroke="#50a276" stroke-width="6.0" stroke-linejoin="round" stroke-linecap="round"/>
<polyline points="498.1,750.1 499.6,744.1" fill="none" stroke="#50a276" stroke-width="6.2" stroke-linejoin="round" stroke-linecap="round"/>
<polyline points="499.6,744.1 501.1,738.4" fill="none" stroke="#50a276" stroke-width="6.4" stroke-linejoin="round" stroke-linecap="round"/>
<polyline points="501.1,738.4 502.6,733.3 504.1,728.8 505.6,725.2 507.1,722.6 508.6,721.1 510.1,721.1 511.6,722.7 513.1,725.9 514.6,730.4 516.1,736 517.6,742.5 519.1,749.7 520.6,757.3 522.1,765.2 523.6,773.2 525.1,780.9 526.6,788.3 528.1,795 529.6,800.9 531.1,805.8 532.6,809.4 534.1,811.6 535.6,812 537.1,810.8 538.6,807.9 540.1,803.7 541.6,798.5 543.1,792.3 544.6,785.5 546.1,778.2 547.6,770.7 549.1,763.2 550.6,756 552.1,749.2 553.6,743 555.1,737.7 556.6,733.6" fill="none" stroke="#50a276" stroke-width="6.6" stroke-linejoin="round" stroke-linecap="round"/>
<polyline points="556.6,733.6 558.1,730.8 559.6,729.5 561.1,730 562.6,731.7 564.1,734.7 565.6,738.7 567.1,743.5 568.6,748.9 570.1,754.6 571.6,760.6 573.1,766.6 574.6,772.5 576.1,777.9 577.6,782.8 579.1,786.9 580.6,790.1 582.1,792.1 583.6,792.8 585.1,792 586.6,790 588.1,786.8 589.6,782.8 591.1,778.1 592.6,772.9 594.1,767.4 595.6,761.8 597.1,756.4 598.6,751.2 600.1,746.6 601.6,742.6 603.1,739.6 604.6,737.6 606.1,737 607.6,737.8 609.1,739.9 610.6,743.1 612.1,747.3" fill="none" stroke="#50a276" stroke-width="6.8" stroke-linejoin="round" stroke-linecap="round"/>
<polyline points="612.1,747.3 613.6,752.2 615.1,757.7 616.6,763.6 618.1,769.7 619.6,775.8 621.1,781.8 622.6,787.5 624.1,792.6 625.6,797.1 627.1,800.7 628.6,803.2 630.1,804.5 631.6,804.3 633.1,802.2 634.6,798.6 636.1,793.5 637.6,787.3 639.1,780.2 640.6,772.5 642.1,764.4 643.6,756.1 645.1,747.8 646.6,740 648.1,732.7 649.6,726.2 651.1,720.8 652.6,716.7 654.1,714.1 655.6,713.4 657.1,714.7 658.6,718 660.1,722.9 661.6,729.2 663.1,736.7 664.6,745.2 666.1,754.4 667.6,764 669.1,773.8 670.6,783.5 672.1,793 673.6,801.9 675.1,810 676.6,817.2 678.1,823 679.6,827.3 681.1,829.8 682.6,830.3 684.1,828.6 685.6,824.8 687.1,819.1 688.6,811.9 690.1,803.4 691.6,793.9 693.1,783.6 694.6,772.7 696.1,761.6 697.6,750.5 699.1,739.6 700.6,729.2 702.1,719.6 703.6,711 705.1,703.7 706.6,697.9 708.1,693.9 709.6,692 711.1,692.4 712.6,695.1 714.1,699.8 715.6,706.2 717.1,714.2 718.6,723.5 720.1,733.7 721.6,744.7 723.1,756.3 724.6,768.1 726.1,779.8 727.6,791.4 729.1,802.4 730.6,812.7 732.1,821.9 733.6,829.9 735.1,836.4 736.6,841.1 738.1,843.8 739.6,844.1 741.1,841.8 742.6,836.9 744.1,829.9 745.6,821 747.1,810.5 748.6,798.9 750.1,786.4 751.6,773.4 753.1,760.2 754.6,747.2 756.1,734.6 757.6,722.9 759.1,712.2 760.6,703.1 762.1,695.8 763.6,690.6 765.1,687.9 766.6,688 768.1,690.6 769.6,695.6 771.1,702.5 772.6,711 774.1,721 775.6,731.9 777.1,743.6 778.6,755.7 780.1,768 781.6,780 783.1,791.6 784.6,802.4 786.1,812 787.6,820.3 789.1,826.8 790.6,831.3 792.1,833.5 793.6,833.1 795.1,830.5 796.6,826 798.1,819.9 799.6,812.5 801.1,803.9 802.6,794.6 804.1,784.7 805.6,774.6 807.1,764.5 808.6,754.7 810.1,745.5 811.6,737.2 813.1,730 814.6,724.2 816.1,720.1 817.6,717.9 819.1,717.9 820.6,719.2 822.1,721.6 823.6,724.9 825.1,729 826.6,733.8 828.1,739.1 829.6,744.7 831.1,750.6 832.6,756.5 834.1,762.3 835.6,767.9 837.1,773.1 838.6,777.8 840.1,781.9 841.6,785.1 843.1,787.3 844.6,788.4 846.1,788.4 847.6,787.6 849.1,786.3 850.6,784.4 852.1,782.1 853.6,779.5 855.1,776.7 856.6,773.7 858.1,770.7 859.6,767.7 861.1,764.8 862.6,762.2 864.1,759.8 865.6,757.9 867.1,756.4 868.6,755.5 870.1,755.2 871.6,755.7 873.1,756.7 874.6,758.4 876.1,760.4 877.6,762.9 879.1,765.6 880.6,768.6 882.1,771.6 883.6,774.7 885.1,777.8 886.6,780.7 888.1,783.4 889.6,785.8 891.1,787.8 892.6,789.4 894.1,790.4 895.6,790.7 897.1,789.9 898.6,787.8 900.1,784.5 901.6,780.2 903.1,775 904.6,769.2 906.1,762.8 907.6,756.2 909.1,749.3 910.6,742.5 912.1,735.9 913.6,729.6 915.1,723.9 916.6,718.8 918.1,714.7 919.6,711.5 921.1,709.6 922.6,709.1 924.1,710.7 925.6,714.6 927.1,720.3 928.6,727.8 930.1,736.6 931.6,746.5 933.1,757.2 934.6,768.5 936.1,779.9 937.6,791.3 939.1,802.4 940.6,812.9 942.1,822.4 943.6,830.8 945.1,837.6 946.6,842.7 948.1,845.7 949.6,846.4 951.1,844.2 952.6,839.1 954.1,831.7 955.6,822.2 957.1,811 958.6,798.6 960.1,785.2 961.6,771.4 963.1,757.4 964.6,743.7 966.1,730.6 967.6,718.5 969.1,707.8 970.6,698.9 972.1,692.1 973.6,687.9 975.1,686.6 976.6,688.3 978.1,692.7 979.6,699.3 981.1,707.8 982.6,717.9 984.1,729.1 985.6,741.1 987.1,753.5 988.6,765.9 990.1,778.1 991.6,789.6 993.1,800 994.6,809 996.1,816.2 997.6,821.2 999.1,823.7 1000.6,823.5 1002.1,821.4 1003.6,817.6 1005.1,812.4" fill="none" stroke="#50a276" stroke-width="7.0" stroke-linejoin="round" stroke-linecap="round"/>
<polyline points="1005.1,812.4 1006.6,806.1 1008.1,798.9 1009.6,791.1 1011.1,782.8 1012.6,774.4" fill="none" stroke="#50a276" stroke-width="6.8" stroke-linejoin="round" stroke-linecap="round"/>
<polyline points="1012.6,774.4 1014.1,766.1 1015.6,758.2 1017.1,750.8 1018.6,744.3 1020.1,738.9" fill="none" stroke="#50a276" stroke-width="6.6" stroke-linejoin="round" stroke-linecap="round"/>
<polyline points="1020.1,738.9 1021.6,734.8 1023.1,732.3 1024.6,731.6 1026.1,732.5 1027.6,734.5 1029.1,737.5" fill="none" stroke="#50a276" stroke-width="6.4" stroke-linejoin="round" stroke-linecap="round"/>
<polyline points="1029.1,737.5 1030.6,741.2 1032.1,745.6 1033.6,750.3 1035.1,755.2 1036.6,760.1" fill="none" stroke="#50a276" stroke-width="6.2" stroke-linejoin="round" stroke-linecap="round"/>
<polyline points="1036.6,760.1 1038.1,764.9 1039.6,769.2 1041.1,773 1042.6,776" fill="none" stroke="#50a276" stroke-width="6.0" stroke-linejoin="round" stroke-linecap="round"/>
<polyline points="1042.6,776 1044.1,778" fill="none" stroke="#50a276" stroke-width="5.8" stroke-linejoin="round" stroke-linecap="round"/>
<polyline points="1044.1,778 1045.6,778.9 1047.1,778.8" fill="none" stroke="#50a276" stroke-width="5.6" stroke-linejoin="round" stroke-linecap="round"/>
<polyline points="1047.1,778.8 1048.6,778.7 1050.1,778.4" fill="none" stroke="#50a276" stroke-width="5.4" stroke-linejoin="round" stroke-linecap="round"/>
<polyline points="1050.1,778.4 1051.6,778 1053.1,777.6" fill="none" stroke="#50a276" stroke-width="5.2" stroke-linejoin="round" stroke-linecap="round"/>
<polyline points="1053.1,777.6 1054.6,777.1 1056.1,776.6" fill="none" stroke="#50a276" stroke-width="5.0" stroke-linejoin="round" stroke-linecap="round"/>
<polyline points="1056.1,776.6 1057.6,775.9" fill="none" stroke="#50a276" stroke-width="4.8" stroke-linejoin="round" stroke-linecap="round"/>
<polyline points="1057.6,775.9 1059.1,775.1 1060.6,774.2 1062.1,773.3 1063.6,772.2 1065.1,771.1 1066.6,769.7" fill="none" stroke="#50a276" stroke-width="4.6" stroke-linejoin="round" stroke-linecap="round"/>
<polyline points="1066.6,769.7 1068.1,768.1 1069.6,766.2 1071.1,764.2" fill="none" stroke="#50a276" stroke-width="4.8" stroke-linejoin="round" stroke-linecap="round"/>
<polyline points="1071.1,764.2 1072.6,762.1 1074.2,759.9 1075.7,757.7 1077.2,755.5" fill="none" stroke="#50a276" stroke-width="5.0" stroke-linejoin="round" stroke-linecap="round"/>
<polyline points="1077.2,755.5 1078.7,753.3 1080.2,751.2 1081.7,749.3" fill="none" stroke="#50a276" stroke-width="5.2" stroke-linejoin="round" stroke-linecap="round"/>
<polyline points="1081.7,749.3 1083.2,747.5 1084.7,745.9 1086.2,744.6 1087.7,743.6" fill="none" stroke="#50a276" stroke-width="5.4" stroke-linejoin="round" stroke-linecap="round"/>
<polyline points="1087.7,743.6 1089.2,742.9 1090.7,742.6 1092.2,743" fill="none" stroke="#50a276" stroke-width="5.6" stroke-linejoin="round" stroke-linecap="round"/>
<polyline points="1092.2,743 1093.7,744.6 1095.2,747.3 1096.7,750.9 1098.2,755.3" fill="none" stroke="#50a276" stroke-width="5.8" stroke-linejoin="round" stroke-linecap="round"/>
<polyline points="1098.2,755.3 1099.7,760.2 1101.2,765.6 1102.7,771.1 1104.2,776.7 1105.7,782.2 1107.2,787.4 1108.7,792.1 1110.2,796.2 1111.7,799.5 1113.2,801.8 1114.7,802.9 1116.2,802.6 1117.7,800.5 1119.2,796.8 1120.7,791.7 1122.2,785.7 1123.7,778.8 1125.2,771.4 1126.7,763.7 1128.2,756 1129.7,748.6 1131.2,741.8 1132.7,735.7 1134.2,730.7 1135.7,727 1137.2,724.9 1138.7,724.7 1140.2,726.6 1141.7,730.4 1143.2,735.9 1144.7,742.6 1146.2,750.2 1147.7,758.5 1149.2,767.1 1150.7,775.6 1152.2,783.8 1153.7,791.2 1155.2,797.7 1156.7,802.8 1158.2,806.3 1159.7,807.8 1161.2,807.1 1162.7,804.5 1164.2,800.2 1165.7,794.6 1167.2,788 1168.7,780.5 1170.2,772.6 1171.7,764.4 1173.2,756.3 1174.7,748.6 1176.2,741.4 1177.7,735.2 1179.2,730.1 1180.7,726.5 1182.2,724.7 1183.7,724.9 1185.2,727 1186.7,730.9 1188.2,736.3 1189.7,742.7 1191.2,750.1 1192.7,758.1 1194.2,766.3 1195.7,774.6 1197.2,782.6 1198.7,790 1200.2,796.6 1201.7,802.1 1203.2,806.1 1204.7,808.5 1206.2,808.9 1207.7,807.5 1209.2,804.5 1210.7,800.2 1212.2,794.7 1213.7,788.4 1215.2,781.5 1216.7,774.2 1218.2,766.7 1219.7,759.2 1221.2,752.1 1222.7,745.4 1224.2,739.5 1225.7,734.6 1227.2,730.9 1228.7,728.7 1230.2,728.1 1231.7,729 1233.2,731.1 1234.7,734.2 1236.2,738.1 1237.7,742.8 1239.2,748 1240.7,753.5 1242.2,759.3 1243.7,765 1245.2,770.7 1246.7,776.1 1248.2,781 1249.7,785.3 1251.2,788.9" fill="none" stroke="#50a276" stroke-width="6.0" stroke-linejoin="round" stroke-linecap="round"/>
<polyline points="1251.2,788.9 1252.7,791.5 1254.2,793" fill="none" stroke="#50a276" stroke-width="5.8" stroke-linejoin="round" stroke-linecap="round"/>
<polyline points="1254.2,793 1255.7,793.3" fill="none" stroke="#50a276" stroke-width="5.6" stroke-linejoin="round" stroke-linecap="round"/>
<polyline points="1255.7,793.3 1257.2,792.6" fill="none" stroke="#50a276" stroke-width="5.4" stroke-linejoin="round" stroke-linecap="round"/>
<polyline points="1257.2,792.6 1258.7,791.3 1260.2,789.3" fill="none" stroke="#50a276" stroke-width="5.2" stroke-linejoin="round" stroke-linecap="round"/>
<polyline points="1260.2,789.3 1261.7,786.8" fill="none" stroke="#50a276" stroke-width="5.0" stroke-linejoin="round" stroke-linecap="round"/>
<polyline points="1261.7,786.8 1263.2,783.9" fill="none" stroke="#50a276" stroke-width="4.8" stroke-linejoin="round" stroke-linecap="round"/>
<polyline points="1263.2,783.9 1264.7,780.7 1266.2,777.2" fill="none" stroke="#50a276" stroke-width="4.6" stroke-linejoin="round" stroke-linecap="round"/>
<polyline points="1266.2,777.2 1267.7,773.6" fill="none" stroke="#50a276" stroke-width="4.4" stroke-linejoin="round" stroke-linecap="round"/>
<polyline points="1267.7,773.6 1269.2,769.9" fill="none" stroke="#50a276" stroke-width="4.2" stroke-linejoin="round" stroke-linecap="round"/>
<polyline points="1269.2,769.9 1270.7,766.3 1272.2,762.8" fill="none" stroke="#50a276" stroke-width="4.0" stroke-linejoin="round" stroke-linecap="round"/>
<polyline points="1272.2,762.8 1273.7,759.6" fill="none" stroke="#50a276" stroke-width="3.8" stroke-linejoin="round" stroke-linecap="round"/>
<polyline points="1273.7,759.6 1275.2,756.6" fill="none" stroke="#50a276" stroke-width="3.6" stroke-linejoin="round" stroke-linecap="round"/>
<polyline points="1275.2,756.6 1276.7,754.1 1278.2,752.1 1279.7,750.7 1281.2,750 1282.7,750 1284.2,750.5 1285.7,751.4 1287.2,752.6 1288.7,754.1 1290.2,755.8 1291.7,757.7 1293.2,759.6 1294.7,761.7 1296.2,763.7 1297.7,765.6 1299.2,767.5 1300.7,769.1 1302.2,770.5 1303.7,771.7 1305.2,772.4 1306.7,772.8 1308.2,772.7 1309.7,772.4 1311.2,771.9 1312.7,771.2 1314.2,770.3 1315.7,769.3 1317.2,768.2 1318.7,767 1320.2,765.8 1321.7,764.7 1323.2,763.6" fill="none" stroke="#50a276" stroke-width="3.4" stroke-linejoin="round" stroke-linecap="round"/>
<polyline points="1323.2,763.6 1324.7,762.5 1326.2,761.6 1327.7,760.8 1329.2,760.1 1330.7,759.7 1332.2,759.5 1333.7,759.6 1335.2,759.8 1336.7,760.2 1338.2,760.7 1339.7,761.4 1341.2,762.1 1342.7,762.9 1344.2,763.8 1345.7,764.7 1347.2,765.5 1348.7,766.4 1350.2,767.2 1351.7,768 1353.2,768.6 1354.7,769.2 1356.2,769.6 1357.7,769.8 1359.2,769.9 1360.7,769.9 1362.2,769.9 1363.7,769.9 1365.2,769.9 1366.7,769.8 1368.2,769.8 1369.7,769.7" fill="none" stroke="#50a276" stroke-width="3.2" stroke-linejoin="round" stroke-linecap="round"/>
<polyline points="1369.7,769.7 1371.2,769.6 1372.7,769.5 1374.2,769.4 1375.7,769.2 1377.2,769 1378.7,768.7 1380.2,768.4 1381.7,768.1 1383.2,767.7 1384.7,767.3 1386.2,766.8 1387.7,766.2 1389.2,765.6" fill="none" stroke="#50a276" stroke-width="3.0" stroke-linejoin="round" stroke-linecap="round"/>
</g>
<path d="M126.4 261.3C137.1 259 147.9 257 158.6 257C204.4 257 250.2 294.6 296 294.6C341.1 294.6 386.1 243.7 431.2 239.9C433.5 239.7 435.7 239.5 438 239.5C481.1 239.5 524.3 316.1 567.4 316.1C609.6 316.1 651.8 219.5 694 219.5C736.5 219.5 779.1 324.7 821.6 324.7C862.4 324.7 903.1 225.9 943.9 225.9C984.9 225.9 1025.9 308 1066.9 308C1106.7 308 1146.6 247.1 1186.4 247.1C1227.9 247.1 1269.3 287 1310.8 287C1336.5 287 1362.3 280.6 1388 269.3" fill="none" stroke="#e9b04a" stroke-width="4.6" stroke-linejoin="round" stroke-linecap="round" opacity="0.88"/>
<path d="M127.5 545.6C156.7 547.6 185.8 549.4 215 551C240.6 552.4 266.1 554.6 291.7 554.8C305.8 554.9 319.9 555 334 555C369.3 555 404.7 550.7 440 547.8C472.4 545.2 504.9 542 537.3 538.1C573.1 533.8 608.8 525.9 644.6 522C679.7 518.1 714.9 514.4 750 512.8C782.4 511.4 814.9 509.9 847.3 509.9C883.1 509.9 918.8 512.7 954.6 515.2C989.7 517.6 1024.9 523.1 1060 527C1096.9 531.1 1133.8 536.5 1170.7 539.4C1210.9 542.5 1251.2 545.5 1291.4 546.6C1323.2 547.5 1355 548.3 1386.8 548.3" fill="none" stroke="#e9b04a" stroke-width="4.6" stroke-linejoin="round" stroke-linecap="round" opacity="0.88"/>
<path d="M127.5 775.6C161.7 777.2 195.8 779 230 781C257.7 782.6 285.5 786.4 313.2 786.4C355.5 786.4 397.7 784.2 440 782.1C480 780.2 520 775.8 560 772C593.3 768.8 626.7 765 660 761C690 757.4 720 751.1 750 749.2C789.6 746.7 829.2 744.5 868.8 744.5C899.2 744.5 929.6 745.8 960 747C993.3 748.4 1026.7 752.6 1060 755.2C1168.5 763.7 1277.1 771.9 1385.6 779.3" fill="none" stroke="#e9b04a" stroke-width="5.2" stroke-linejoin="round" stroke-linecap="round" opacity="0.88"/>
<polyline points="127.5,1088.1 129,1118.1 130.7,1107.4 132.9,1123.5 135,1103.1 137.2,1090.2 139.7,1064.5 141.5,1051.6 143.6,1103.1 145.3,1036.6 147.9,1013 149.6,1045.2 152.2,1066.6 154.3,1090.2 156.9,1077.4 158.6,1094.5 160.3,1123.5 162.5,1073.1 164,1122.4 165.5,1070.9 167.6,1124.6 169.4,1090.2 171.1,1051.6 173.2,1105.3 176.2,1132.1 178.4,1103.1 181.2,1036.6 182.7,1077.4 184.8,1031.2 187.6,1062.3 189.8,1116 191.9,1079.5 194,1116 196.2,1090.2 197.7,1124.6 199.4,1077.4 201.6,1101 203.7,1088.1 205.8,1068.8 207.6,1055.9 209.7,1098.8 211.9,1121.4 214,1083.8 216.2,1120.3 218.3,1032.3 220,1006.5 222.6,1045.2 224.1,1124.6 226.2,1094.5 228.4,1079.5 230.5,1068.8 232.2,1118.1 233.7,1077.4 235.5,1126.7 237.6,1060.2 239.8,1057 241.9,1079.5 244.1,1043 246.6,1028 248.8,1028 250.9,993.7 253.5,1006.5 255.2,1043 257.4,1036.6 259.5,1081.6 261.6,1111.7 263.8,1085.9 266.4,1085.9 268.1,1111.7 270.2,1085.9 272.4,1038.7 274.1,1111.7 276.7,1068.8 278.8,1028 281,1068.8 283.1,1109.6 285.3,1079.5 287.4,1090.2 289.6,1068.8 291.1,1128.9 292.8,1090.2 294.9,1055.9 297.1,1055.9 299.2,1094.5 301.4,1101 303.5,1073.1 305,1058 307.1,1098.8 309.3,1077.4 311.4,1103.1 314.2,1068.8 317,1111.7 319.6,1077.4 321.7,1062.3 323.9,1077.4 326,1070.9 328.2,1077.4 330.3,1070.9 332.5,1094.5 335.7,1105.3 337.8,1120.3 340,1116 342.1,1101 344.3,1109.6 346.4,1090.2 348.6,1116 351.4,1132.1 353.5,1111.7 355.7,1128.9 358.2,1131 360.8,1124.6 363,1107.4 365.1,1090.2 367.2,1064.5 369,1049.5 371.1,1045.2 373.3,1062.3 375.4,1103.1 377.5,1090.2 380.1,1128.9 382.3,1116 384.4,1103.1 386.6,1094.5 389.3,1107.4 391.5,1098.8 393.6,1122.4 395.8,1090.2 398.6,1107.4 401.2,1060.2 402.9,1047.3 404.4,1025.8 406.5,1058 408.7,1090.2 410.8,1122.4 413,1132.1 415.1,1105.3 417.3,1094.5 420,1103.1 422.6,1068.8 424.8,1098.8 426.9,1103.1 429.1,1088.1 431.6,1062.3 433.8,1088.1 435.9,1081.6 438.1,1098.8 439.7,1090.2 441.8,1088.1 444,1068.8 446.1,1098.8 448.2,1090.2 450.4,1116 452.5,1064.5 454.7,1060.2 456.8,1098.8 459,1081.6 461.8,1051.6 464.3,1068.8 466.5,1079.5 469.7,1103.1 471.9,1085.9 474,1120.3 476.1,1103.1 478.3,1083.8 480.4,1064.5 481.9,1053.7 483.7,1101 485.4,1124.6 486.9,1105.3 489,1068.8 491.2,1055.9 493.3,1079.5 495.5,1053.7 497.6,1053.7 499.8,1094.5 501.3,1122.4 503,1092.4 505.1,1094.5 507.3,1079.5 509.8,1058 512,1068.8 514.1,1098.8 515.8,1060.2 518,1043 520.1,1049.5 522.3,1025.8 524.4,1047.3 526.6,1068.8 528.7,1090.2 530.9,1122.4 532.6,1133.2 534.7,1122.4 536.9,1113.8 539,1085.9 541.2,1090.2 543.3,1070.9 545.5,1062.3 547.6,1101 550.2,1068.8 552.3,1064.5 554.5,1030.1 557.1,1030.1 558.8,1051.6 560.9,1079.5 563.1,1098.8 565.2,1096.7 567.4,1111.7 569.5,1090.2 572.1,1066.6 574.2,1118.1 576.4,1094.5 578.5,1077.4 580.7,1090.2 582.8,1098.8 585.6,1060.2 587.7,1128.9 589.9,1103.1 592.7,1060.2 595.3,1107.4 597.4,1109.6 599.6,1103.1 601.7,1055.9 603.8,1116 606,1126.7 608.6,1103.1 610.7,1103.1 612.9,1088.1 615,1079.5 616.7,955 618.9,1049.5 621,1045.2 622.7,1077.4 624.2,1030.1 626.4,1060.2 628.5,1107.4 630.7,1107.4 632.8,1113.8 635,1092.4 637.1,1055.9 639.9,1014 642,1055.9 644.6,1085.9 646.8,1047.3 648.5,1023.7 650.6,1055.9 653.2,1032.3 655.4,1081.6 657.9,1077.4 660.7,1064.5 663.9,1008.7 666.1,1126.7 668.2,1077.4 670.4,1036.6 672.5,1051.6 674.7,1124.6 676.8,1077.4 679,1013 681.1,1045.2 683.3,1096.7 685.4,1116 687.5,1073.1 689.7,1068.8 691.8,1085.9 694,1043 696.1,1047.3 697.8,1010.8 700.4,1068.8 703,1073.1 705.1,1008.7 707.3,1030.1 709,1008.7 711.6,1025.8 713.7,1079.5 715.9,1116 718.7,1116 720.8,1077.4 723,1116 725.1,961.5 727.3,1034.4 729.4,1116 731.5,1133.2 733.7,1101 735.8,1098.8 738,1092.4 740.1,1098.8 742.3,1103.1 744.4,1068.8 746.6,1103.1 748.7,1122.4 749.7,1122.4 751.8,1094.5 754,1120.3 755.5,1103.1 757.6,1120.3 759.7,1092.4 761.5,1111.7 763.6,1135.3 765.3,1070.9 767,1057 769,1128.9 771.8,1133.2 773.9,1068.8 776.5,1062.3 778.6,1079.5 780.8,1046.2 782.5,1113.8 784,1051.6 785.5,1079.5 787.2,1062.3 790.4,1109.6 792.6,1090.2 794.7,1047.3 796.9,1021.6 798.6,992.6 800.5,1021.6 802.2,1111.7 804.4,1103.1 806.5,1092.4 808.2,1077.4 809.8,1118.1 811.9,1101 813.4,1111.7 815.1,1040.9 817.3,1105.3 819.8,1061.3 822.6,1111.7 825.4,1098.8 827.6,1036.6 829.1,1006.5 831.2,1047.3 834,1068.8 835.5,1038.7 837.7,1068.8 839.8,1047.3 841.9,1103.1 844.1,1068.8 845.6,1047.3 848,992.6 849.9,1047.3 851.6,1079.5 853.3,1120.3 855.9,1064.5 858.5,1003.3 861.3,1047.3 863.4,1064.5 865.6,1090.2 867.7,1077.4 869.4,1113.8 871.3,1060.2 874.1,999 876.3,1118.1 877.8,1079.5 879.9,1062.3 881.6,1111.7 883.8,1079.5 885.9,1116 888.1,1113.8 890.2,1068.8 892.4,1025.8 894.5,1003.3 896.7,1047.3 898.4,1068.8 900.5,1107.4 902.7,1041.9 904.8,1120.3 907,1079.5 909.6,1103.1 911.3,1126.7 913.8,1090.2 916,1079.5 918.1,1094.5 920.7,1046.2 922.9,1055.9 925,1094.5 927.1,1107.4 929.9,1029.1 932.1,1122.4 934.2,1079.5 936.4,1094.5 938.5,1103.1 940.7,1118.1 943.5,1090.2 945.6,1101 947.8,1068.8 949.9,1046.2 952,1077.4 954.2,1103.1 956.3,1079.5 958.9,1094.5 961.1,1116 963.2,1090.2 965.8,1068.8 967.5,1090.2 970.7,1125.6 972.9,1051.6 975,1040.9 977.2,1047.3 978.7,1025.8 980.4,1047.3 982.1,1103.1 983.6,1043 985.7,1116 987.9,1126.7 990,1111.7 992.2,1122.4 994.3,1109.6 996.5,1124.6 998.6,1073.1 1000.8,1098.8 1003.6,1103.1 1006.1,1068.8 1008.3,1068.8 1010.4,1088.1 1012.6,1103.1 1014.7,1052.7 1016.9,1109.6 1019,1094.5 1021.6,1088.1 1023.7,1101 1025.9,1119.2 1028,1090.2 1030.2,1057 1032.3,1073.1 1034.5,1079.5 1037.3,1062.3 1039.4,1103.1 1041.1,1090.2 1043,1047.3 1045.2,1049.5 1047.3,1079.5 1049.1,1088.1 1050.8,1073.1 1053.3,1103.1 1055.1,1109.6 1056.6,1129.9 1058.7,1103.1 1058.5,1104.2 1060.9,1116.3 1063.3,1096.9 1065.7,1099.4 1067.4,1084.9 1069.8,1130.7 1072.2,1125.9 1074.1,1084.9 1076.6,1111.4 1078.5,1080 1080.9,1092.1 1082.6,1096.9 1085,1063.1 1088.1,1051.1 1090.6,1077.6 1093.5,1104.2 1096.4,1109 1098.3,1106.6 1100.7,1118.7 1102.6,1043.8 1105.1,1084.9 1107.5,1109 1109.9,1096.9 1112.8,1043.8 1115.2,1034.2 1117.1,1080 1118.8,1036.6 1120.5,1000.4 1122.4,1024.5 1124.4,1065.6 1126.8,1028.1 1128.5,1075.2 1130.2,1128.3 1133.3,1109 1135.7,1133.2 1138.1,1123.5 1140.5,1084.9 1143,1099.4 1146.1,1125.9 1149,1080 1151.4,1096.9 1153.8,1092.1 1156.2,1014.8 1158.7,1024.5 1161.1,1029.3 1163.5,1084.9 1165.9,1116.3 1168.3,1123.5 1170.7,1113.8 1173.1,1125.9 1175.6,1109 1178.5,1118.7 1182.3,1041.4 1184,1065.6 1186.9,1011.2 1188.8,1072.8 1192.5,1041.4 1194.9,1014.8 1197.8,1048.7 1200.9,1080 1204,1099.4 1205.7,1121.1 1208.1,1080 1210.6,1096.9 1213,1122.3 1215.4,1113.8 1217.8,1121.1 1220.2,1060.7 1222.6,1089.7 1225.1,1065.6 1227.5,1084.9 1229.9,1063.1 1232.3,1072.8 1234.7,1089.7 1237.8,1052.3 1239.5,1092.1 1242,1039 1244.4,1051.1 1246.1,1089.7 1248.5,1080 1250.9,1109 1253.3,1084.9 1255.7,1113.8 1258.1,1132 1260.5,1104.2 1262.5,1074 1264.4,1113.8 1266.8,1101.8 1269.2,1128.3 1271.6,1048.7 1274.1,1043.8 1276.5,1060.7 1278.9,1084.9 1281.3,1106.6 1284.2,1129.5 1286.6,1096.9 1289,1118.7 1291.4,1104.2 1293.9,1111.4 1296.3,1058.3 1298.7,1109 1300.6,1065.6 1302.3,1106.6 1304.7,1111.4 1307.1,1094.5 1310.8,1084.9 1313.2,1019.7 1315.6,1031.8 1318,1026.9 1319.9,1019.7 1321.6,1060.7 1323.6,1130.7 1325.3,1104.2 1327.2,1084.9 1329.6,1084.9 1332,1066.8 1334.9,1094.5 1337.8,1060.7 1340.2,977.4 1343.4,1024.5 1345.8,1075.2 1348.9,1128.3 1351.3,1146.4 1353.7,1106.6 1356.2,1089.7 1359.1,1094.5 1362,1031.8 1363.9,1075.2 1366.8,1065.6 1369.9,1004 1372.3,1012.4 1374.7,1039 1376.4,1075.2 1378.9,1096.9 1380.8,1113.8 1383.2,1075.2 1385.1,1138 1387.5,1075.2 1390.4,1094.5 1392.4,1125.9 1394.8,1089.7 1397.7,1113.8 1400.6,1109 1402.5,1099.4 1403.7,1113.8" fill="none" stroke="#0a0aff" stroke-width="1.6" stroke-linejoin="miter" stroke-miterlimit="3"/>
<path d="M127.5 1088.1C129.3 1094.1 131.1 1099.9 132.9 1099.9C137.9 1099.9 142.9 1067.7 147.9 1067.7C153.6 1067.7 159.4 1101 165.1 1101C171.2 1101 177.2 1069.9 183.3 1069.9C189 1069.9 194.8 1101 200.5 1101C206.2 1101 212 1064.5 217.7 1064.5C223.1 1064.5 228.4 1108.5 233.8 1108.5C239.2 1108.5 244.5 1060.2 249.9 1060.2C255.2 1060.2 260.6 1106.3 265.9 1106.3C270.8 1106.3 275.6 1070.9 280.5 1070.9C285 1070.9 289.4 1092.4 293.9 1092.4C298.5 1092.4 303.2 1081.7 307.8 1081.7C312.8 1081.7 317.8 1087.7 322.8 1087.7C328.9 1087.7 335 1079.5 341.1 1079.5C346.1 1079.5 351.1 1097.8 356.1 1097.8C361.5 1097.8 366.8 1066.6 372.2 1066.6C377.2 1066.6 382.2 1105.3 387.2 1105.3C392.2 1105.3 397.3 1065.6 402.3 1065.6C407.3 1065.6 412.3 1102.1 417.3 1102.1C422.3 1102.1 427.3 1069.9 432.3 1069.9C436.9 1069.9 441.5 1097.8 446.1 1097.8C451.5 1097.8 456.8 1070.9 462.2 1070.9C466.8 1070.9 471.5 1098.8 476.1 1098.8C481.1 1098.8 486.2 1068.8 491.2 1068.8C496.2 1068.8 501.2 1104.2 506.2 1104.2C511.2 1104.2 516.2 1063.4 521.2 1063.4C526.2 1063.4 531.2 1107.4 536.2 1107.4C541.6 1107.4 546.9 1065.6 552.3 1065.6C557.3 1065.6 562.4 1098.8 567.4 1098.8C573.5 1098.8 579.5 1072 585.6 1072C591.3 1072 597.1 1100.5 602.8 1100.5C608 1100.5 613.3 1066.6 618.5 1066.6C623.3 1066.6 628 1104.2 632.8 1104.2C637.6 1104.2 642.4 1067.7 647.2 1067.7C652.1 1067.7 656.9 1099.9 661.8 1099.9C666.5 1099.9 671.1 1072 675.8 1072C680.4 1072 685.1 1096.7 689.7 1096.7C694.4 1096.7 699 1075.2 703.7 1075.2C708.3 1075.2 713 1091.3 717.6 1091.3C722.3 1091.3 726.9 1081.7 731.6 1081.7C735.9 1081.7 740.1 1087 744.4 1087C751.5 1087 758.7 1082.7 765.8 1082.7C771.5 1082.7 777.2 1090.2 782.9 1090.2C787.9 1090.2 793 1075.2 798 1075.2C803.3 1075.2 808.7 1095.6 814 1095.6C819 1095.6 824.1 1075.2 829.1 1075.2C834.5 1075.2 839.8 1092.8 845.2 1092.8C850.9 1092.8 856.6 1076.3 862.3 1076.3C868 1076.3 873.8 1096.7 879.5 1096.7C884.5 1096.7 889.5 1070.9 894.5 1070.9C899.2 1070.9 903.8 1099.3 908.5 1099.3C913.1 1099.3 917.8 1072 922.4 1072C927.1 1072 931.7 1096.7 936.4 1096.7C941 1096.7 945.7 1072 950.3 1072C955 1072 959.6 1099.3 964.3 1099.3C969.1 1099.3 973.9 1068.8 978.7 1068.8C983.6 1068.8 988.4 1101 993.3 1101C998.7 1101 1004 1072 1009.4 1072C1014.8 1072 1020.1 1093.5 1025.5 1093.5C1031.6 1093.5 1037.6 1079.5 1043.7 1079.5C1052.2 1079.5 1060.8 1091.6 1069.3 1091.6C1075.3 1091.6 1081.4 1071.6 1087.4 1071.6C1093 1071.6 1098.7 1103 1104.3 1103C1109.9 1103 1115.6 1064.3 1121.2 1064.3C1127.2 1064.3 1133.3 1106.6 1139.3 1106.6C1144.9 1106.6 1150.6 1061.9 1156.2 1061.9C1161.8 1061.9 1167.5 1105.4 1173.1 1105.4C1178.7 1105.4 1184.4 1068 1190 1068C1196 1068 1202.1 1094.5 1208.1 1094.5C1213.3 1094.5 1218.6 1082.5 1223.8 1082.5C1226.5 1082.5 1229.3 1084 1232 1084C1235.7 1084 1239.5 1080 1243.2 1080C1248.4 1080 1253.6 1095.7 1258.8 1095.7C1264 1095.7 1269.3 1072.8 1274.5 1072.8C1280.6 1072.8 1286.6 1095.7 1292.7 1095.7C1298.3 1095.7 1304 1069.2 1309.6 1069.2C1315.2 1069.2 1320.9 1106.6 1326.5 1106.6C1331.3 1106.6 1336.1 1058.3 1340.9 1058.3C1345.7 1058.3 1350.6 1112.6 1355.4 1112.6C1360.2 1112.6 1365.1 1059.5 1369.9 1059.5C1375.1 1059.5 1380.4 1103 1385.6 1103C1390.8 1103 1396.1 1077.4 1401.3 1077.1C1402.2 1077 1403.1 1077 1404 1077" fill="none" stroke="#e9b04a" stroke-width="4.6" stroke-linejoin="round" stroke-linecap="round" opacity="0.85"/>
<path d="M124 1235.8C125.3 1235.8 126.7 1235.7 128 1235.7C129.3 1235.6 130.7 1235.6 132 1235.6C133.3 1235.5 134.7 1235.5 136 1235.5C137.3 1235.5 138.7 1235.5 140 1235.5C141.3 1235.5 142.7 1235.5 144 1235.5C145.3 1235.6 146.7 1235.6 148 1235.6C149.3 1235.7 150.7 1235.7 152 1235.8C153.3 1235.8 154.7 1235.9 156 1235.9C157.3 1236 158.7 1236.1 160 1236.2C161.3 1236.2 162.7 1236.3 164 1236.4C165.3 1236.5 166.7 1236.6 168 1236.7C169.3 1236.9 170.7 1237 172 1237.1C173.3 1237.2 174.7 1237.4 176 1237.5C177.3 1237.7 178.7 1237.8 180 1238C181.3 1238.1 182.7 1238.3 184 1238.5C185.3 1238.6 186.7 1238.8 188 1239C189.3 1239.2 190.7 1239.4 192 1239.6C193.3 1239.8 194.7 1240 196 1240.2C197.3 1240.4 198.7 1240.7 200 1240.9C201.3 1241.1 202.7 1241.4 204 1241.6C205.3 1241.8 206.7 1242.1 208 1242.3C209.3 1242.6 210.7 1242.9 212 1243.1C213.3 1243.4 214.7 1243.7 216 1243.9C217.3 1244.2 218.7 1244.5 220 1244.8C221.3 1245.1 222.7 1245.4 224 1245.7C225.3 1246 226.7 1246.3 228 1246.6C229.3 1246.9 230.7 1247.2 232 1247.5C233.3 1247.9 234.7 1248.2 236 1248.5C237.3 1248.9 238.7 1249.2 240 1249.5C241.3 1249.9 242.7 1250.2 244 1250.6C245.3 1250.9 246.7 1251.3 248 1251.6C249.3 1252 250.7 1252.3 252 1252.7C253.3 1253.1 254.7 1253.4 256 1253.8C257.3 1254.2 258.7 1254.5 260 1254.9C261.3 1255.3 262.7 1255.7 264 1256.1C265.3 1256.4 266.7 1256.8 268 1257.2C269.3 1257.6 270.7 1258 272 1258.4C273.3 1258.8 274.7 1259.2 276 1259.6C277.3 1260 278.7 1260.4 280 1260.8C281.3 1261.1 282.7 1261.6 284 1262C285.3 1262.4 286.7 1262.8 288 1263.2C289.3 1263.6 290.7 1264 292 1264.4C293.3 1264.8 294.7 1265.2 296 1265.6C297.3 1266 298.7 1266.4 300 1266.8C301.3 1267.2 302.7 1267.6 304 1268C305.3 1268.4 306.7 1268.8 308 1269.2C309.3 1269.6 310.7 1270 312 1270.4C313.3 1270.8 314.7 1271.2 316 1271.6C317.3 1272 318.7 1272.4 320 1272.8C321.3 1273.2 322.7 1273.6 324 1274C325.3 1274.4 326.7 1274.8 328 1275.2C329.3 1275.6 330.7 1276 332 1276.4C333.3 1276.8 334.7 1277.1 336 1277.5C337.3 1277.9 338.7 1278.3 340 1278.6C341.3 1279 342.7 1279.4 344 1279.8C345.3 1280.1 346.7 1280.5 348 1280.8C349.3 1281.2 350.7 1281.6 352 1281.9C353.3 1282.3 354.7 1282.6 356 1283C357.3 1283.3 358.7 1283.6 360 1284C361.3 1284.3 362.7 1284.6 364 1285C365.3 1285.3 366.7 1285.6 368 1285.9C369.3 1286.2 370.7 1286.6 372 1286.9C373.3 1287.2 374.7 1287.5 376 1287.8C377.3 1288.1 378.7 1288.4 380 1288.6C381.3 1288.9 382.7 1289.2 384 1289.5C385.3 1289.7 386.7 1290 388 1290.3C389.3 1290.5 390.7 1290.8 392 1291C393.3 1291.3 394.7 1291.5 396 1291.8C397.3 1292 398.7 1292.2 400 1292.4C401.3 1292.7 402.7 1292.9 404 1293.1C405.3 1293.3 406.7 1293.5 408 1293.7C409.3 1293.9 410.7 1294.1 412 1294.3C413.3 1294.4 414.7 1294.6 416 1294.8C417.3 1294.9 418.7 1295.1 420 1295.3C421.3 1295.4 422.7 1295.6 424 1295.7C425.3 1295.8 426.7 1296 428 1296.1C429.3 1296.2 430.7 1296.3 432 1296.4C433.3 1296.5 434.7 1296.6 436 1296.7C437.3 1296.8 438.7 1296.9 440 1297C441.3 1297 442.7 1297.1 444 1297.2C445.3 1297.2 446.7 1297.3 448 1297.3C449.3 1297.4 450.7 1297.4 452 1297.4C453.3 1297.5 454.7 1297.5 456 1297.5C457.3 1297.5 458.7 1297.5 460 1297.5C461.3 1297.5 462.7 1297.5 464 1297.5C465.3 1297.4 466.7 1297.4 468 1297.4C469.3 1297.3 470.7 1297.3 472 1297.2C473.3 1297.2 474.7 1297.1 476 1297.1C477.3 1297 478.7 1296.9 480 1296.8C481.3 1296.8 482.7 1296.7 484 1296.6C485.3 1296.5 486.7 1296.4 488 1296.3C489.3 1296.1 490.7 1296 492 1295.9C493.3 1295.8 494.7 1295.6 496 1295.5C497.3 1295.3 498.7 1295.2 500 1295C501.3 1294.9 502.7 1294.7 504 1294.5C505.3 1294.4 506.7 1294.2 508 1294C509.3 1293.8 510.7 1293.6 512 1293.4C513.3 1293.2 514.7 1293 516 1292.8C517.3 1292.6 518.7 1292.3 520 1292.1C521.3 1291.9 522.7 1291.6 524 1291.4C525.3 1291.2 526.7 1290.9 528 1290.7C529.3 1290.4 530.7 1290.1 532 1289.9C533.3 1289.6 534.7 1289.3 536 1289.1C537.3 1288.8 538.7 1288.5 540 1288.2C541.3 1287.9 542.7 1287.6 544 1287.3C545.3 1287 546.7 1286.7 548 1286.4C549.3 1286.1 550.7 1285.8 552 1285.5C553.3 1285.1 554.7 1284.8 556 1284.5C557.3 1284.1 558.7 1283.8 560 1283.5C561.3 1283.1 562.7 1282.8 564 1282.4C565.3 1282.1 566.7 1281.7 568 1281.4C569.3 1281 570.7 1280.7 572 1280.3C573.3 1279.9 574.7 1279.6 576 1279.2C577.3 1278.8 578.7 1278.5 580 1278.1C581.3 1277.7 582.7 1277.3 584 1276.9C585.3 1276.6 586.7 1276.2 588 1275.8C589.3 1275.4 590.7 1275 592 1274.6C593.3 1274.2 594.7 1273.8 596 1273.4C597.3 1273 598.7 1272.6 600 1272.2C601.3 1271.9 602.7 1271.4 604 1271C605.3 1270.6 606.7 1270.2 608 1269.8C609.3 1269.4 610.7 1269 612 1268.6C613.3 1268.2 614.7 1267.8 616 1267.4C617.3 1267 618.7 1266.6 620 1266.2C621.3 1265.8 622.7 1265.4 624 1265C625.3 1264.6 626.7 1264.2 628 1263.8C629.3 1263.4 630.7 1263 632 1262.6C633.3 1262.2 634.7 1261.8 636 1261.4C637.3 1261 638.7 1260.6 640 1260.2C641.3 1259.8 642.7 1259.4 644 1259C645.3 1258.6 646.7 1258.2 648 1257.8C649.3 1257.4 650.7 1257 652 1256.6C653.3 1256.2 654.7 1255.9 656 1255.5C657.3 1255.1 658.7 1254.7 660 1254.4C661.3 1254 662.7 1253.6 664 1253.2C665.3 1252.9 666.7 1252.5 668 1252.2C669.3 1251.8 670.7 1251.4 672 1251.1C673.3 1250.7 674.7 1250.4 676 1250C677.3 1249.7 678.7 1249.4 680 1249C681.3 1248.7 682.7 1248.4 684 1248C685.3 1247.7 686.7 1247.4 688 1247.1C689.3 1246.8 690.7 1246.4 692 1246.1C693.3 1245.8 694.7 1245.5 696 1245.2C697.3 1244.9 698.7 1244.6 700 1244.4C701.3 1244.1 702.7 1243.8 704 1243.5C705.3 1243.3 706.7 1243 708 1242.7C709.3 1242.5 710.7 1242.2 712 1242C713.3 1241.7 714.7 1241.5 716 1241.2C717.3 1241 718.7 1240.8 720 1240.6C721.3 1240.3 722.7 1240.1 724 1239.9C725.3 1239.7 726.7 1239.5 728 1239.3C729.3 1239.1 730.7 1238.9 732 1238.7C733.3 1238.6 734.7 1238.4 736 1238.2C737.3 1238.1 738.7 1237.9 740 1237.7C741.3 1237.6 742.7 1237.4 744 1237.3C745.3 1237.2 746.7 1237 748 1236.9C749.3 1236.8 750.7 1236.7 752 1236.6C753.3 1236.5 754.7 1236.4 756 1236.3C757.3 1236.2 758.7 1236.1 760 1236C761.3 1236 762.7 1235.9 764 1235.8C765.3 1235.8 766.7 1235.7 768 1235.7C769.3 1235.6 770.7 1235.6 772 1235.6C773.3 1235.5 774.7 1235.5 776 1235.5C777.3 1235.5 778.7 1235.5 780 1235.5C781.3 1235.5 782.7 1235.5 784 1235.5C785.3 1235.6 786.7 1235.6 788 1235.6C789.3 1235.7 790.7 1235.7 792 1235.8C793.3 1235.8 794.7 1235.9 796 1235.9C797.3 1236 798.7 1236.1 800 1236.2C801.3 1236.2 802.7 1236.3 804 1236.4C805.3 1236.5 806.7 1236.6 808 1236.7C809.3 1236.9 810.7 1237 812 1237.1C813.3 1237.2 814.7 1237.4 816 1237.5C817.3 1237.7 818.7 1237.8 820 1238C821.3 1238.1 822.7 1238.3 824 1238.5C825.3 1238.6 826.7 1238.8 828 1239C829.3 1239.2 830.7 1239.4 832 1239.6C833.3 1239.8 834.7 1240 836 1240.2C837.3 1240.4 838.7 1240.7 840 1240.9C841.3 1241.1 842.7 1241.4 844 1241.6C845.3 1241.8 846.7 1242.1 848 1242.3C849.3 1242.6 850.7 1242.9 852 1243.1C853.3 1243.4 854.7 1243.7 856 1243.9C857.3 1244.2 858.7 1244.5 860 1244.8C861.3 1245.1 862.7 1245.4 864 1245.7C865.3 1246 866.7 1246.3 868 1246.6C869.3 1246.9 870.7 1247.2 872 1247.5C873.3 1247.9 874.7 1248.2 876 1248.5C877.3 1248.9 878.7 1249.2 880 1249.5C881.3 1249.9 882.7 1250.2 884 1250.6C885.3 1250.9 886.7 1251.3 888 1251.6C889.3 1252 890.7 1252.3 892 1252.7C893.3 1253.1 894.7 1253.4 896 1253.8C897.3 1254.2 898.7 1254.5 900 1254.9C901.3 1255.3 902.7 1255.7 904 1256.1C905.3 1256.4 906.7 1256.8 908 1257.2C909.3 1257.6 910.7 1258 912 1258.4C913.3 1258.8 914.7 1259.2 916 1259.6C917.3 1260 918.7 1260.4 920 1260.8C921.3 1261.1 922.7 1261.6 924 1262C925.3 1262.4 926.7 1262.8 928 1263.2C929.3 1263.6 930.7 1264 932 1264.4C933.3 1264.8 934.7 1265.2 936 1265.6C937.3 1266 938.7 1266.4 940 1266.8C941.3 1267.2 942.7 1267.6 944 1268C945.3 1268.4 946.7 1268.8 948 1269.2C949.3 1269.6 950.7 1270 952 1270.4C953.3 1270.8 954.7 1271.2 956 1271.6C957.3 1272 958.7 1272.4 960 1272.8C961.3 1273.2 962.7 1273.6 964 1274C965.3 1274.4 966.7 1274.8 968 1275.2C969.3 1275.6 970.7 1276 972 1276.4C973.3 1276.8 974.7 1277.1 976 1277.5C977.3 1277.9 978.7 1278.3 980 1278.6C981.3 1279 982.7 1279.4 984 1279.8C985.3 1280.1 986.7 1280.5 988 1280.8C989.3 1281.2 990.7 1281.6 992 1281.9C993.3 1282.3 994.7 1282.6 996 1283C997.3 1283.3 998.7 1283.6 1000 1284C1001.3 1284.3 1002.7 1284.6 1004 1285C1005.3 1285.3 1006.7 1285.6 1008 1285.9C1009.3 1286.2 1010.7 1286.6 1012 1286.9C1013.3 1287.2 1014.7 1287.5 1016 1287.8C1017.3 1288.1 1018.7 1288.4 1020 1288.6C1021.3 1288.9 1022.7 1289.2 1024 1289.5C1025.3 1289.7 1026.7 1290 1028 1290.3C1029.3 1290.5 1030.7 1290.8 1032 1291C1033.3 1291.3 1034.7 1291.5 1036 1291.8C1037.3 1292 1038.7 1292.2 1040 1292.4C1041.3 1292.7 1042.7 1292.9 1044 1293.1C1045.3 1293.3 1046.7 1293.5 1048 1293.7C1049.3 1293.9 1050.7 1294.1 1052 1294.3C1053.3 1294.4 1054.7 1294.6 1056 1294.8C1057.3 1294.9 1058.7 1295.1 1060 1295.3C1061.3 1295.4 1062.7 1295.6 1064 1295.7C1065.3 1295.8 1066.7 1296 1068 1296.1C1069.3 1296.2 1070.7 1296.3 1072 1296.4C1073.3 1296.5 1074.7 1296.6 1076 1296.7C1077.3 1296.8 1078.7 1296.9 1080 1297C1081.3 1297 1082.7 1297.1 1084 1297.2C1085.3 1297.2 1086.7 1297.3 1088 1297.3C1089.3 1297.4 1090.7 1297.4 1092 1297.4C1093.3 1297.5 1094.7 1297.5 1096 1297.5C1097.3 1297.5 1098.7 1297.5 1100 1297.5C1101.3 1297.5 1102.7 1297.5 1104 1297.5C1105.3 1297.4 1106.7 1297.4 1108 1297.4C1109.3 1297.3 1110.7 1297.3 1112 1297.2C1113.3 1297.2 1114.7 1297.1 1116 1297.1C1117.3 1297 1118.7 1296.9 1120 1296.8C1121.3 1296.8 1122.7 1296.7 1124 1296.6C1125.3 1296.5 1126.7 1296.4 1128 1296.3C1129.3 1296.1 1130.7 1296 1132 1295.9C1133.3 1295.8 1134.7 1295.6 1136 1295.5C1137.3 1295.3 1138.7 1295.2 1140 1295C1141.3 1294.9 1142.7 1294.7 1144 1294.5C1145.3 1294.4 1146.7 1294.2 1148 1294C1149.3 1293.8 1150.7 1293.6 1152 1293.4C1153.3 1293.2 1154.7 1293 1156 1292.8C1157.3 1292.6 1158.7 1292.3 1160 1292.1C1161.3 1291.9 1162.7 1291.6 1164 1291.4C1165.3 1291.2 1166.7 1290.9 1168 1290.7C1169.3 1290.4 1170.7 1290.1 1172 1289.9C1173.3 1289.6 1174.7 1289.3 1176 1289.1C1177.3 1288.8 1178.7 1288.5 1180 1288.2C1181.3 1287.9 1182.7 1287.6 1184 1287.3C1185.3 1287 1186.7 1286.7 1188 1286.4C1189.3 1286.1 1190.7 1285.8 1192 1285.5C1193.3 1285.1 1194.7 1284.8 1196 1284.5C1197.3 1284.1 1198.7 1283.8 1200 1283.5C1201.3 1283.1 1202.7 1282.8 1204 1282.4C1205.3 1282.1 1206.7 1281.7 1208 1281.4C1209.3 1281 1210.7 1280.7 1212 1280.3C1213.3 1279.9 1214.7 1279.6 1216 1279.2C1217.3 1278.8 1218.7 1278.5 1220 1278.1C1221.3 1277.7 1222.7 1277.3 1224 1276.9C1225.3 1276.6 1226.7 1276.2 1228 1275.8C1229.3 1275.4 1230.7 1275 1232 1274.6C1233.3 1274.2 1234.7 1273.8 1236 1273.4C1237.3 1273 1238.7 1272.6 1240 1272.2C1241.3 1271.9 1242.7 1271.4 1244 1271C1245.3 1270.6 1246.7 1270.2 1248 1269.8C1249.3 1269.4 1250.7 1269 1252 1268.6C1253.3 1268.2 1254.7 1267.8 1256 1267.4C1257.3 1267 1258.7 1266.6 1260 1266.2C1261.3 1265.8 1262.7 1265.4 1264 1265C1265.3 1264.6 1266.7 1264.2 1268 1263.8C1269.3 1263.4 1270.7 1263 1272 1262.6C1273.3 1262.2 1274.7 1261.8 1276 1261.4C1277.3 1261 1278.7 1260.6 1280 1260.2C1281.3 1259.8 1282.7 1259.4 1284 1259C1285.3 1258.6 1286.7 1258.2 1288 1257.8C1289.3 1257.4 1290.7 1257 1292 1256.6C1293.3 1256.2 1294.7 1255.9 1296 1255.5C1297.3 1255.1 1298.7 1254.7 1300 1254.4C1301.3 1254 1302.7 1253.6 1304 1253.2C1305.3 1252.9 1306.7 1252.5 1308 1252.2C1309.3 1251.8 1310.7 1251.4 1312 1251.1C1313.3 1250.7 1314.7 1250.4 1316 1250C1317.3 1249.7 1318.7 1249.4 1320 1249C1321.3 1248.7 1322.7 1248.4 1324 1248C1325.3 1247.7 1326.7 1247.4 1328 1247.1C1329.3 1246.8 1330.7 1246.4 1332 1246.1C1333.3 1245.8 1334.7 1245.5 1336 1245.2C1337.3 1244.9 1338.7 1244.6 1340 1244.4C1341.3 1244.1 1342.7 1243.8 1344 1243.5C1345.3 1243.3 1346.7 1243 1348 1242.7C1349.3 1242.5 1350.7 1242.2 1352 1242C1353.3 1241.7 1354.7 1241.5 1356 1241.2C1357.3 1241 1358.7 1240.8 1360 1240.6C1361.3 1240.3 1362.7 1240.1 1364 1239.9C1365.3 1239.7 1366.7 1239.5 1368 1239.3C1369.3 1239.1 1370.7 1238.9 1372 1238.7C1373.3 1238.6 1374.7 1238.4 1376 1238.2C1377.3 1238.1 1378.7 1237.9 1380 1237.7C1381.3 1237.6 1382.7 1237.4 1384 1237.3C1385.3 1237.2 1386.7 1237 1388 1236.9C1389.3 1236.8 1390.7 1236.7 1392 1236.6C1393.3 1236.5 1394.7 1236.4 1396 1236.3C1397.3 1236.2 1398.7 1236.1 1400 1236C1401.3 1236 1402.7 1235.9 1404 1235.8" fill="none" stroke="#e39a0c" stroke-width="4.6" stroke-linejoin="round" stroke-linecap="round"/>
<line x1="162.5" y1="1265.2" x2="1369" y2="1265.2" stroke="#ffffff" stroke-width="3.2" stroke-dasharray="6.2 8.4" stroke-dashoffset="-2"/>
<line x1="162.5" y1="1316.2" x2="1369" y2="1316.2" stroke="#ffffff" stroke-width="3.2" stroke-dasharray="6.2 8.4" stroke-dashoffset="-2"/>
<line x1="162.5" y1="1338" x2="1369" y2="1338" stroke="#ffffff" stroke-width="3.2" stroke-dasharray="6.2 8.4" stroke-dashoffset="-2"/>
<polyline points="125.6,1853.4 131.3,1780.1 136.3,1771.1 139.7,1794.2 145.4,1797 149.6,1728 155.2,1722.4 159.4,1747.7 164.2,1833.7 169.3,1816.8 173.5,1835.1 180.6,1753.4 186.2,1771.7 192.7,1833.7 201.7,1675.9 210.7,1635.9 215.8,1701.3 220.8,1693.4 229.9,1842.1 234.1,1837.9 239.7,1788.6 252.4,1799.9 258,1744.9 263.1,1830.8 272.1,1780.1 277.7,1843.5 286.2,1735.1 296.1,1723.8 304.5,1763.2 309.3,1749.2 313.8,1795.6 323.4,1675.9 327.9,1674.5 333.5,1674.5 337.5,1643.5 346.8,1615.4 352.4,1643.5 356.6,1615.4 365.1,1711.1 370.7,1730.8 375.8,1685.8 384.8,1750.6 390.4,1737.9 398.9,1816.8 407.3,1764.6 418,1798.5 422.8,1767.5 427,1815.4 432.1,1818.2 441.1,1690.6 446.8,1783 452.4,1798.5 458,1774.5 469.3,1678.7 474.4,1673.1 480.6,1784.4 489,1816.8 494.6,1774.5 500.3,1746.3 505.9,1759 511.5,1787.2 517.2,1766.1 525.6,1842.1 530.7,1853.4" fill="none" stroke="#0a0aff" stroke-width="2.6" stroke-linejoin="miter" stroke-miterlimit="3"/>
<path d="M125.6 1774C128 1779.7 130.3 1784.4 132.7 1784.4C138.8 1784.4 144.9 1750.6 151 1750.6C156.6 1750.6 162.3 1790 167.9 1790C172.1 1790 176.4 1754.8 180.6 1754.8C185.3 1754.8 189.9 1804.1 194.6 1804.1C200 1804.1 205.3 1722.4 210.7 1722.4C216.6 1722.4 222.6 1813.9 228.5 1813.9C235.1 1813.9 241.6 1748.6 248.2 1748.6C256.6 1748.6 265.1 1794.2 273.5 1794.2C280.5 1794.2 287.6 1744.9 294.6 1744.9C301.2 1744.9 307.8 1787.2 314.4 1787.2C319.1 1787.2 323.8 1761.8 328.5 1761.8C333.2 1761.8 337.8 1771.7 342.5 1771.7C345.8 1771.7 349.1 1763.2 352.4 1763.2C357.6 1763.2 362.7 1785.8 367.9 1785.8C373.1 1785.8 378.2 1759 383.4 1759C388.1 1759 392.8 1785.8 397.5 1785.8C402.6 1785.8 407.8 1756.2 412.9 1756.2C417.1 1756.2 421.4 1792.8 425.6 1792.8C430.8 1792.8 435.9 1742.1 441.1 1742.1C445.8 1742.1 450.5 1809.7 455.2 1809.7C461.3 1809.7 467.4 1728 473.5 1728C478.7 1728 483.8 1811.1 489 1811.1C495.1 1811.1 501.2 1740.7 507.3 1740.7C515.1 1740.7 522.9 1757 530.7 1809.7" fill="none" stroke="#139d7c" stroke-width="4.8" stroke-linejoin="round" stroke-linecap="round"/>
<g opacity="1.0">
<polyline points="125.6,1746.3 127.1,1745.6 128.6,1745.1 130.1,1744.8 131.6,1744.6 133.1,1744.4 134.6,1744.4 136.1,1744.4 137.6,1744.9 139.1,1745.8 140.6,1747.1 142.1,1748.8 143.6,1750.8 145.1,1753.1 146.6,1755.7 148.1,1758.5 149.6,1761.5 151.1,1764.6 152.6,1767.8 154.1,1771.1 155.6,1774.5 157.1,1777.8 158.6,1781 160.1,1784.2 161.6,1787.3 163.1,1790.2 164.6,1792.8 166.1,1795.3 167.6,1797.5 169.1,1799.3 170.6,1800.8 172.1,1801.9 173.6,1802.5 175.1,1802.7 176.6,1802.2 178.1,1801.1 179.6,1799.3 181.1,1797.1 182.6,1794.3 184.1,1791.1 185.6,1787.6 187.1,1783.8 188.6,1779.9 190.1,1775.7 191.6,1771.5 193.1,1767.3 194.6,1763.1 196.1,1759.1 197.6,1755.3 199.1,1751.7 200.6,1748.4 202.1,1745.6 203.6,1743.2 205.1,1741.3 206.6,1740 208.1,1739.4 209.6,1739.4 211.1,1740 212.6,1741.1 214.1,1742.7 215.6,1744.7 217.1,1747.1 218.6,1749.7 220.1,1752.7 221.6,1755.9 223.1,1759.2 224.6,1762.7 226.1,1766.3 227.6,1770 229.1,1773.7 230.6,1777.3 232.1,1780.8 233.6,1784.2 235.1,1787.4 236.6,1790.4 238.1,1793.1 239.6,1795.5 241.1,1797.6 242.6,1799.2 244.1,1800.4 245.6,1801.1 247.1,1801.3 248.6,1800.8 250.1,1799.6 251.6,1797.9 253.1,1795.7 254.6,1793 256.1,1790 257.6,1786.6 259.1,1783 260.6,1779.2 262.1,1775.4 263.6,1771.4 265.1,1767.6 266.6,1763.8 268.1,1760.1 269.6,1756.7 271.1,1753.6 272.6,1750.9 274.1,1748.6 275.6,1746.8 277.1,1745.6 278.6,1745 280.1,1745 281.6,1745.6 283.1,1746.7 284.6,1748.2 286.1,1750 287.6,1752.2 289.1,1754.7 290.6,1757.5 292.1,1760.4 293.6,1763.5 295.1,1766.7 296.6,1769.9 298.1,1773.1 299.6,1776.3 301.1,1779.4 302.6,1782.4 304.1,1785.2 305.6,1787.8 307.1,1790 308.6,1792 310.1,1793.6 311.6,1794.7 313.1,1795.4 314.6,1795.6 316.1,1795.3 317.6,1794.6 319.1,1793.5 320.6,1792.1 322.1,1790.4 323.6,1788.4 325.1,1786.2 326.6,1783.9 328.1,1781.3 329.7,1778.7 331.2,1776 332.7,1773.2 334.2,1770.4 335.7,1767.7 337.2,1765.1 338.7,1762.5 340.2,1760.1 341.7,1757.9 343.2,1755.9 344.7,1754.2 346.2,1752.8 347.7,1751.7 349.2,1750.9 350.7,1750.6 352.2,1750.7 353.7,1751.1 355.2,1751.7 356.7,1752.6 358.2,1753.8 359.7,1755.1 361.2,1756.6 362.7,1758.3 364.2,1760.1 365.7,1762 367.2,1764 368.7,1766.1 370.2,1768.1 371.7,1770.2 373.2,1772.3 374.7,1774.3 376.2,1776.3 377.7,1778.2 379.2,1780 380.7,1781.6 382.2,1783.1 383.7,1784.4 385.2,1785.4 386.7,1786.3 388.2,1786.9 389.7,1787.2 391.2,1787.2 392.7,1786.9 394.2,1786.4 395.7,1785.7 397.2,1784.8" fill="none" stroke="#1a1311" stroke-width="3.6" stroke-linejoin="round" stroke-linecap="round"/>
<polyline points="397.2,1784.8 398.7,1783.7" fill="none" stroke="#1a1311" stroke-width="3.4" stroke-linejoin="round" stroke-linecap="round"/>
<polyline points="398.7,1783.7 400.2,1782.5 401.7,1781.2" fill="none" stroke="#1a1311" stroke-width="3.2" stroke-linejoin="round" stroke-linecap="round"/>
<polyline points="401.7,1781.2 403.2,1779.7" fill="none" stroke="#1a1311" stroke-width="3.0" stroke-linejoin="round" stroke-linecap="round"/>
<polyline points="403.2,1779.7 404.7,1778.3" fill="none" stroke="#1a1311" stroke-width="2.8" stroke-linejoin="round" stroke-linecap="round"/>
<polyline points="404.7,1778.3 406.2,1776.8 407.7,1775.3" fill="none" stroke="#1a1311" stroke-width="2.6" stroke-linejoin="round" stroke-linecap="round"/>
<polyline points="407.7,1775.3 409.2,1773.8" fill="none" stroke="#1a1311" stroke-width="2.4" stroke-linejoin="round" stroke-linecap="round"/>
<polyline points="409.2,1773.8 410.7,1772.3 412.2,1771 413.7,1769.7 415.2,1768.5 416.7,1767.5 418.2,1766.7 419.7,1766.1 421.2,1765.7 422.7,1765.5 424.2,1765.6 425.7,1765.8 427.2,1766.1 428.7,1766.5 430.2,1767 431.7,1767.6 433.2,1768.2 434.7,1768.9 436.2,1769.6 437.7,1770.3 439.2,1771.1 440.7,1771.8 442.2,1772.5 443.7,1773.1 445.2,1773.7 446.7,1774.2 448.2,1774.6 449.7,1774.9 451.2,1775.1 452.7,1775.1 454.2,1775 455.7,1774.8 457.2,1774.6 458.7,1774.2 460.2,1773.8 461.7,1773.3 463.2,1772.7 464.7,1772.2 466.2,1771.6 467.7,1770.9 469.2,1770.3 470.7,1769.7 472.2,1769.1 473.7,1768.6 475.2,1768.1 476.7,1767.6 478.2,1767.2 479.7,1766.9 481.2,1766.7 482.7,1766.6 484.2,1766.6 485.7,1766.7 487.2,1767 488.7,1767.3 490.2,1767.8 491.7,1768.3 493.2,1768.9 494.7,1769.5 496.2,1770.3 497.7,1771 499.2,1771.8 500.7,1772.6 502.2,1773.4 503.7,1774.2 505.2,1774.9 506.7,1775.7 508.2,1776.4 509.7,1777.1 511.2,1777.7 512.7,1778.3 514.2,1778.7 515.7,1779.1 517.2,1779.4 518.7,1779.6 520.2,1779.6 521.7,1779.6 523.2,1779.5 524.7,1779.4 526.2,1779.3 527.7,1779.2 529.2,1779 530.7,1778.7" fill="none" stroke="#1a1311" stroke-width="2.2" stroke-linejoin="round" stroke-linecap="round"/>
</g>
<path d="M125.6 1801.3C150.5 1754.3 175.4 1735.1 200.3 1735.1C224.7 1735.1 249.1 1815.4 273.5 1815.4C296.5 1815.4 319.5 1728 342.5 1728C365 1728 387.6 1809.7 410.1 1809.7C432.2 1809.7 454.2 1745.8 476.3 1745.8C494.4 1745.8 512.6 1757.8 530.7 1784.4" fill="none" stroke="#e3a012" stroke-width="3.2" stroke-linejoin="round" stroke-linecap="round"/>
<polyline points="585.8,1835.7 591,1805.1 595.4,1816.8 599.8,1720.5 604.2,1802.2 608.6,1816.8 614.4,1845.9 618.8,1846.5 623.1,1806.5 627.5,1831.3 631.9,1813.8 639.2,1770.1 646.5,1819.7 653.8,1781.8 658.1,1740.9 665.4,1544 669.8,1794.9 674.8,1709.4 679.4,1765.7 684.4,1701.5 688.8,1704.4 693.2,1809.5 699,1677.3 703.4,1711.7 709.2,1781.8 713.6,1799.3 718,1824.1 722.3,1810.9 726.7,1813.8 731.1,1806.5 735.5,1825.5 740.7,1784.7 745.7,1812.4 750.1,1813.8 754.4,1727.8 758.8,1721.9 764.1,1726.9 769,1649 773.4,1759.9 777.8,1723.4 782.7,1755.5 787.4,1778.8 792.4,1717.6 796.7,1735.1 802,1666.5 806.1,1739.4 810.7,1665.6 815.7,1704.4 820.1,1705.9 825.3,1743.8 830.3,1682.6 834.7,1775.9 843.4,1739.4 852.2,1777.4 857.4,1758.4 862.4,1793.4 866.8,1740.9 872,1768.6 877,1637.3 881.9,1843 886.6,1847.4 891.5,1816.8 895.9,1694.2 900.3,1688.4 904.7,1720.5 909.9,1784.7 914.9,1738 919.3,1784.7 923.6,1838.6 929.5,1777.4 938.2,1646.1 942.6,1644.6 947.9,1649.9 952.8,1704.4 957.2,1790.5 963,1822.6 970.3,1827 974.7,1793.4 979.9,1748.2 984.9,1799.3 994.5,1739.4 999.5,1755.5" fill="none" stroke="#0a0aff" stroke-width="2.6" stroke-linejoin="miter" stroke-miterlimit="3"/>
<path d="M585.8 1777C590.5 1759.3 595.1 1751.1 599.8 1751.1C605.6 1751.1 611.5 1794.9 617.3 1794.9C622.2 1794.9 627 1743.8 631.9 1743.8C636.8 1743.8 641.6 1809.5 646.5 1809.5C652.3 1809.5 658.2 1730.7 664 1730.7C669.3 1730.7 674.7 1809.5 680 1809.5C686.3 1809.5 692.7 1745.3 699 1745.3C704.8 1745.3 710.7 1790.5 716.5 1790.5C721.4 1790.5 726.2 1756.1 731.1 1756.1C737.2 1756.1 743.4 1792 749.5 1792C755 1792 760.6 1748.2 766.1 1748.2C771.9 1748.2 777.8 1794.9 783.6 1794.9C789.9 1794.9 796.3 1759.9 802.6 1759.9C809.4 1759.9 816.2 1777.4 823 1777.4C828.8 1777.4 834.7 1767.2 840.5 1767.2C845.4 1767.2 850.2 1787.6 855.1 1787.6C860.9 1787.6 866.8 1739.4 872.6 1739.4C877.5 1739.4 882.3 1819.7 887.2 1819.7C893 1819.7 898.9 1714.6 904.7 1714.6C911 1714.6 917.3 1835.7 923.6 1835.7C930.1 1835.7 936.7 1711.7 943.2 1711.7C949.3 1711.7 955.5 1819.7 961.6 1819.7C967.9 1819.7 974.2 1743.8 980.5 1743.8C986.8 1743.8 993.2 1753.6 999.5 1789" fill="none" stroke="#139d7c" stroke-width="4.8" stroke-linejoin="round" stroke-linecap="round"/>
<g opacity="1.0">
<polyline points="585.8,1762.8 587.3,1762.5 588.8,1762.3 590.3,1762.1 591.8,1762 593.3,1762 594.8,1762.1 596.3,1762.5 597.8,1762.9 599.3,1763.6 600.8,1764.4 602.3,1765.3 603.9,1766.3 605.4,1767.4 606.9,1768.6 608.4,1769.8 609.9,1771.1 611.4,1772.5 612.9,1773.9 614.4,1775.2 615.9,1776.6 617.4,1778 618.9,1779.3 620.4,1780.6 621.9,1781.8 623.4,1782.9 624.9,1784 626.4,1784.9 627.9,1785.7 629.4,1786.4 630.9,1787 632.4,1787.4 633.9,1787.6 635.4,1787.6 636.9,1787.3 638.5,1786.9 640,1786.2 641.5,1785.4 643,1784.3 644.5,1783.1 646,1781.8 647.5,1780.4 649,1778.8 650.5,1777.2 652,1775.5 653.5,1773.7 655,1771.9 656.5,1770.1 658,1768.4 659.5,1766.6 661,1764.9 662.5,1763.2 664,1761.6 665.5,1760.2 667,1758.8 668.5,1757.6 670,1756.5 671.5,1755.6 673.1,1754.9 674.6,1754.3 676.1,1754.1 677.6,1754 679.1,1754.2 680.6,1754.7 682.1,1755.4 683.6,1756.3 685.1,1757.5 686.6,1758.8 688.1,1760.2 689.6,1761.8 691.1,1763.5 692.6,1765.3 694.1,1767.2 695.6,1769.1 697.1,1771.1 698.6,1773 700.1,1775 701.6,1777 703.1,1778.9 704.6,1780.7 706.1,1782.5 707.7,1784.1 709.2,1785.6 710.7,1787 712.2,1788.2 713.7,1789.2 715.2,1790.1 716.7,1790.7 718.2,1791 719.7,1791.1 721.2,1790.9 722.7,1790.3 724.2,1789.4 725.7,1788.3 727.2,1787 728.7,1785.4 730.2,1783.7 731.7,1781.8 733.2,1779.8 734.7,1777.8 736.2,1775.6 737.7,1773.5 739.2,1771.3 740.7,1769.2 742.3,1767.1 743.8,1765.1 745.3,1763.3 746.8,1761.6 748.3,1760 749.8,1758.7 751.3,1757.6 752.8,1756.8 754.3,1756.3 755.8,1756.1 757.3,1756.2 758.8,1756.6 760.3,1757.1 761.8,1757.9 763.3,1758.8 764.8,1759.9 766.3,1761.2 767.8,1762.5 769.3,1763.9 770.8,1765.5 772.3,1767" fill="none" stroke="#1a1311" stroke-width="3.6" stroke-linejoin="round" stroke-linecap="round"/>
<polyline points="772.3,1767 773.8,1768.6 775.3,1770.2" fill="none" stroke="#1a1311" stroke-width="3.4" stroke-linejoin="round" stroke-linecap="round"/>
<polyline points="775.3,1770.2 776.9,1771.7 778.4,1773.2" fill="none" stroke="#1a1311" stroke-width="3.2" stroke-linejoin="round" stroke-linecap="round"/>
<polyline points="778.4,1773.2 779.9,1774.7 781.4,1776.1 782.9,1777.4" fill="none" stroke="#1a1311" stroke-width="3.0" stroke-linejoin="round" stroke-linecap="round"/>
<polyline points="782.9,1777.4 784.4,1778.5 785.9,1779.5" fill="none" stroke="#1a1311" stroke-width="2.8" stroke-linejoin="round" stroke-linecap="round"/>
<polyline points="785.9,1779.5 787.4,1780.4 788.9,1781" fill="none" stroke="#1a1311" stroke-width="2.6" stroke-linejoin="round" stroke-linecap="round"/>
<polyline points="788.9,1781 790.4,1781.5 791.9,1781.7 793.4,1781.6 794.9,1781.3 796.4,1780.8 797.9,1780 799.4,1779.1 800.9,1778.1 802.4,1776.9 803.9,1775.7 805.4,1774.4 806.9,1773.1 808.4,1771.8 810,1770.6 811.5,1769.4 813,1768.3 814.5,1767.4 816,1766.7 817.5,1766.1 819,1765.8 820.5,1765.7 822,1765.8 823.5,1766.1 825,1766.5 826.5,1767.1 828,1767.7 829.5,1768.4 831,1769.2 832.5,1770.1 834,1771 835.5,1771.9 837,1772.8 838.5,1773.7 840,1774.6 841.5,1775.4 843,1776.2 844.6,1776.9 846.1,1777.5 847.6,1778.1 849.1,1778.4 850.6,1778.7 852.1,1778.8 853.6,1778.7 855.1,1778.2 856.6,1777.5 858.1,1776.5 859.6,1775.4 861.1,1774.1 862.6,1772.7" fill="none" stroke="#1a1311" stroke-width="2.4" stroke-linejoin="round" stroke-linecap="round"/>
<polyline points="862.6,1772.7 864.1,1771.2 865.6,1769.7" fill="none" stroke="#1a1311" stroke-width="2.6" stroke-linejoin="round" stroke-linecap="round"/>
<polyline points="865.6,1769.7 867.1,1768.2 868.6,1766.8" fill="none" stroke="#1a1311" stroke-width="2.8" stroke-linejoin="round" stroke-linecap="round"/>
<polyline points="868.6,1766.8 870.1,1765.4 871.6,1764.2 873.1,1763.1" fill="none" stroke="#1a1311" stroke-width="3.0" stroke-linejoin="round" stroke-linecap="round"/>
<polyline points="873.1,1763.1 874.6,1762.3 876.1,1761.7" fill="none" stroke="#1a1311" stroke-width="3.2" stroke-linejoin="round" stroke-linecap="round"/>
<polyline points="876.1,1761.7 877.6,1761.3 879.2,1761.3" fill="none" stroke="#1a1311" stroke-width="3.4" stroke-linejoin="round" stroke-linecap="round"/>
<polyline points="879.2,1761.3 880.7,1761.7 882.2,1762.4 883.7,1763.4 885.2,1764.6 886.7,1766 888.2,1767.6 889.7,1769.4 891.2,1771.3 892.7,1773.3 894.2,1775.3 895.7,1777.3 897.2,1779.2 898.7,1781.2 900.2,1783 901.7,1784.6 903.2,1786.2 904.7,1787.5 906.2,1788.5 907.7,1789.3 909.2,1789.8 910.7,1789.9 912.2,1789.6 913.8,1788.8 915.3,1787.6 916.8,1786.1 918.3,1784.2 919.8,1782.1 921.3,1779.8 922.8,1777.3 924.3,1774.6 925.8,1771.9 927.3,1769.1 928.8,1766.3 930.3,1763.5 931.8,1760.9 933.3,1758.3 934.8,1756 936.3,1753.9 937.8,1752 939.3,1750.5 940.8,1749.3 942.3,1748.5 943.8,1748.2 945.3,1748.4 946.8,1749.3 948.4,1750.7 949.9,1752.7 951.4,1755 952.9,1757.8 954.4,1760.9 955.9,1764.2 957.4,1767.7 958.9,1771.3 960.4,1775 961.9,1778.7 963.4,1782.3 964.9,1785.8 966.4,1789 967.9,1792 969.4,1794.7 970.9,1796.9 972.4,1798.7 973.9,1799.9 975.4,1800.6 976.9,1800.6 978.4,1800.2 979.9,1799.3 981.4,1798 983,1796.3 984.5,1794.2 986,1791.7 987.5,1788.9 989,1785.7 990.5,1782.3 992,1778.5 993.5,1774.4 995,1770 996.5,1765.4 998,1760.6 999.5,1755.5" fill="none" stroke="#1a1311" stroke-width="3.6" stroke-linejoin="round" stroke-linecap="round"/>
</g>
<path d="M585.8 1793.4C591.4 1796.7 597.1 1799.3 602.7 1799.3C625.6 1799.3 648.4 1739.4 671.3 1739.4C693.2 1739.4 715 1806.5 736.9 1806.5C758.8 1806.5 780.7 1740.3 802.6 1740.3C825 1740.3 847.3 1798.7 869.7 1798.7C890.6 1798.7 911.5 1749.1 932.4 1749.1C954.8 1749.1 977.1 1761.6 999.5 1792.8" fill="none" stroke="#e3a012" stroke-width="3.2" stroke-linejoin="round" stroke-linecap="round"/>
<polyline points="1055.1,1801.6 1060.6,1742.6 1065.7,1750.1 1070.2,1777.4 1079.3,1747.1 1088.4,1660.9 1093.8,1680.6 1099,1677.5 1102.9,1674.5 1108.1,1706.3 1112.6,1706.3 1118,1657.3 1124.7,1801.6 1130.7,1851.5 1136.2,1780.4 1141.3,1769.8 1144.4,1774.3 1148.9,1771.3 1154.9,1774.3 1160.4,1791 1168.6,1739.5 1173.7,1762.2 1178.5,1750.1 1183.7,1741.1 1187.6,1771.3 1192.8,1774.3 1197.3,1722.9 1201.8,1627.6 1206.4,1584.7 1212.4,1618.6 1217,1673 1221.5,1712.3 1225.1,1741.1 1230.6,1725.9 1235.1,1709.3 1239.6,1789.5 1245.1,1862.1 1250.2,1860.5 1253.2,1880.2 1257.2,1840.9 1263.2,1825.8 1267.5,1792.5 1272.9,1798.5 1279,1780.4 1285,1789.5 1291.1,1762.2 1296.5,1721.4 1300.7,1729 1305.3,1677.5 1309.2,1754.7 1313.7,1781.9 1318.9,1747.1 1324.3,1771.3 1327.4,1719.9 1333.4,1647.3 1338.5,1631.6 1342.5,1635.2 1347,1654.9 1352.2,1697.2 1357,1695.7 1361.2,1689.6 1366.7,1769.8 1372.7,1792.5 1380.3,1819.7 1384.8,1824.2 1389.4,1789.5 1393.9,1756.2 1399.3,1750.1 1403,1865.1" fill="none" stroke="#0a0aff" stroke-width="2.6" stroke-linejoin="miter" stroke-miterlimit="3"/>
<path d="M1053.6 1763.7C1056.1 1759.4 1058.7 1758.6 1061.2 1758.6C1065.7 1758.6 1070.3 1788 1074.8 1788C1079.3 1788 1083.9 1760.7 1088.4 1760.7C1093.4 1760.7 1098.5 1781 1103.5 1781C1108 1781 1112.6 1753.2 1117.1 1753.2C1121.6 1753.2 1126.2 1798.5 1130.7 1798.5C1135.8 1798.5 1140.8 1752.6 1145.9 1752.6C1150.9 1752.6 1156 1784.9 1161 1784.9C1165.5 1784.9 1170.1 1748.6 1174.6 1748.6C1179.6 1748.6 1184.7 1807.6 1189.7 1807.6C1195.3 1807.6 1200.8 1727.4 1206.4 1727.4C1211.4 1727.4 1216.5 1806.1 1221.5 1806.1C1226.5 1806.1 1231.6 1745.6 1236.6 1745.6C1241.6 1745.6 1246.7 1801.6 1251.7 1801.6C1257.3 1801.6 1262.8 1741 1268.4 1741C1273.9 1741 1279.5 1803.1 1285 1803.1C1290.5 1803.1 1296.1 1739.5 1301.6 1739.5C1307.2 1739.5 1312.7 1809.1 1318.3 1809.1C1323.8 1809.1 1329.4 1747.1 1334.9 1747.1C1340.5 1747.1 1346 1780.4 1351.6 1780.4C1356.1 1780.4 1360.7 1766.8 1365.2 1766.8C1370.2 1766.8 1375.3 1788 1380.3 1788C1384.8 1788 1389.4 1751.6 1393.9 1751.6C1396.9 1751.6 1400 1770.1 1403 1792.5" fill="none" stroke="#139d7c" stroke-width="4.8" stroke-linejoin="round" stroke-linecap="round"/>
<g opacity="1.0">
<polyline points="1053.6,1792.5 1055.1,1789.7 1056.6,1787 1058.1,1784.4 1059.6,1781.9 1061.1,1779.5 1062.6,1777.3 1064.1,1775.1 1065.6,1773 1067.2,1771 1068.7,1769.1 1070.2,1767.4 1071.7,1765.7 1073.2,1764.1 1074.7,1762.6 1076.2,1761.3 1077.7,1760 1079.2,1758.8 1080.7,1757.8 1082.2,1756.8 1083.7,1755.9 1085.2,1755.2 1086.7,1754.5 1088.2,1753.9 1089.7,1753.5 1091.3,1753.1 1092.8,1752.8 1094.3,1752.7 1095.8,1752.6 1097.3,1752.7 1098.8,1753.1 1100.3,1753.7 1101.8,1754.6 1103.3,1755.7 1104.8,1757 1106.3,1758.4 1107.8,1759.9 1109.3,1761.5 1110.8,1763.3 1112.3,1765 1113.8,1766.8 1115.3,1768.5 1116.9,1770.3" fill="none" stroke="#1a1311" stroke-width="3.6" stroke-linejoin="round" stroke-linecap="round"/>
<polyline points="1116.9,1770.3 1118.4,1771.9" fill="none" stroke="#1a1311" stroke-width="3.4" stroke-linejoin="round" stroke-linecap="round"/>
<polyline points="1118.4,1771.9 1119.9,1773.5 1121.4,1775" fill="none" stroke="#1a1311" stroke-width="3.2" stroke-linejoin="round" stroke-linecap="round"/>
<polyline points="1121.4,1775 1122.9,1776.3" fill="none" stroke="#1a1311" stroke-width="3.0" stroke-linejoin="round" stroke-linecap="round"/>
<polyline points="1122.9,1776.3 1124.4,1777.4 1125.9,1778.4" fill="none" stroke="#1a1311" stroke-width="2.8" stroke-linejoin="round" stroke-linecap="round"/>
<polyline points="1125.9,1778.4 1127.4,1779.1" fill="none" stroke="#1a1311" stroke-width="2.6" stroke-linejoin="round" stroke-linecap="round"/>
<polyline points="1127.4,1779.1 1128.9,1779.6 1130.4,1779.8" fill="none" stroke="#1a1311" stroke-width="2.4" stroke-linejoin="round" stroke-linecap="round"/>
<polyline points="1130.4,1779.8 1131.9,1779.7 1133.4,1779.6 1134.9,1779.2 1136.4,1778.8 1137.9,1778.3 1139.4,1777.8 1140.9,1777.2 1142.5,1776.6 1144,1776 1145.5,1775.5 1147,1775.1 1148.5,1774.7 1150,1774.4 1151.5,1774.3 1153,1774.4 1154.5,1774.6 1156,1775 1157.5,1775.6 1159,1776.3 1160.5,1777.1 1162,1777.9 1163.5,1778.9 1165,1779.8 1166.6,1780.7 1168.1,1781.6 1169.6,1782.4 1171.1,1783.2 1172.6,1783.8 1174.1,1784.4 1175.6,1784.7 1177.1,1784.9 1178.6,1784.8 1180.1,1784.2 1181.6,1783.2 1183.1,1781.8 1184.6,1780 1186.1,1778" fill="none" stroke="#1a1311" stroke-width="2.2" stroke-linejoin="round" stroke-linecap="round"/>
<polyline points="1186.1,1778 1187.6,1775.7 1189.1,1773.2" fill="none" stroke="#1a1311" stroke-width="2.4" stroke-linejoin="round" stroke-linecap="round"/>
<polyline points="1189.1,1773.2 1190.6,1770.5" fill="none" stroke="#1a1311" stroke-width="2.6" stroke-linejoin="round" stroke-linecap="round"/>
<polyline points="1190.6,1770.5 1192.2,1767.7 1193.7,1764.9" fill="none" stroke="#1a1311" stroke-width="2.8" stroke-linejoin="round" stroke-linecap="round"/>
<polyline points="1193.7,1764.9 1195.2,1762" fill="none" stroke="#1a1311" stroke-width="3.0" stroke-linejoin="round" stroke-linecap="round"/>
<polyline points="1195.2,1762 1196.7,1759.2 1198.2,1756.4" fill="none" stroke="#1a1311" stroke-width="3.2" stroke-linejoin="round" stroke-linecap="round"/>
<polyline points="1198.2,1756.4 1199.7,1753.8" fill="none" stroke="#1a1311" stroke-width="3.4" stroke-linejoin="round" stroke-linecap="round"/>
<polyline points="1199.7,1753.8 1201.2,1751.3 1202.7,1749 1204.2,1747 1205.7,1745.4 1207.2,1744 1208.7,1743.1 1210.2,1742.7 1211.7,1742.7 1213.2,1743.3 1214.7,1744.4 1216.2,1746.1 1217.8,1748.1 1219.3,1750.5 1220.8,1753.3 1222.3,1756.4 1223.8,1759.7 1225.3,1763.2 1226.8,1766.8 1228.3,1770.6 1229.8,1774.4 1231.3,1778.1 1232.8,1781.9 1234.3,1785.5 1235.8,1789 1237.3,1792.3 1238.8,1795.4 1240.3,1798.2 1241.9,1800.6 1243.4,1802.7 1244.9,1804.3 1246.4,1805.4 1247.9,1806 1249.4,1806 1250.9,1805.3 1252.4,1803.9 1253.9,1801.8 1255.4,1799.2 1256.9,1796.2 1258.4,1792.7 1259.9,1788.9 1261.4,1784.8 1262.9,1780.6 1264.4,1776.2 1265.9,1771.8 1267.5,1767.4 1269,1763.1 1270.5,1759 1272,1755.2 1273.5,1751.6 1275,1748.5 1276.5,1745.8 1278,1743.6 1279.5,1742 1281,1741.2 1282.5,1741 1284,1741.6 1285.5,1742.7 1287,1744.3 1288.5,1746.5 1290,1749 1291.5,1751.9 1293.1,1755.1 1294.6,1758.5 1296.1,1762.1 1297.6,1765.9 1299.1,1769.7 1300.6,1773.5 1302.1,1777.3 1303.6,1781 1305.1,1784.5 1306.6,1787.8 1308.1,1790.8 1309.6,1793.5 1311.1,1795.8 1312.6,1797.7 1314.1,1799 1315.6,1799.8 1317.2,1800 1318.7,1799.5 1320.2,1798.4 1321.7,1796.7 1323.2,1794.5 1324.7,1792 1326.2,1789 1327.7,1785.7 1329.2,1782.2 1330.7,1778.6 1332.2,1774.8 1333.7,1770.9 1335.2,1767.1 1336.7,1763.4 1338.2,1759.8 1339.7,1756.3 1341.2,1753.2 1342.8,1750.4 1344.3,1748 1345.8,1746 1347.3,1744.6 1348.8,1743.7 1350.3,1743.5 1351.8,1743.9 1353.3,1744.8 1354.8,1746.2 1356.3,1748 1357.8,1750.2 1359.3,1752.8 1360.8,1755.6 1362.3,1758.6 1363.8,1761.9 1365.3,1765.3 1366.8,1768.7 1368.4,1772.2 1369.9,1775.7 1371.4,1779.2 1372.9,1782.5 1374.4,1785.7 1375.9,1788.7 1377.4,1791.5 1378.9,1793.9 1380.4,1796 1381.9,1797.7 1383.4,1799 1384.9,1799.8 1386.4,1800 1387.9,1799.7 1389.4,1798.9 1390.9,1797.7 1392.5,1796 1394,1793.9 1395.5,1791.5 1397,1788.8 1398.5,1785.7 1400,1782.4 1401.5,1778.9 1403,1775.2 1404.5,1771.3" fill="none" stroke="#1a1311" stroke-width="3.6" stroke-linejoin="round" stroke-linecap="round"/>
</g>
<path d="M1053.6 1755.6C1061.2 1748.7 1068.7 1743.5 1076.3 1743.5C1099 1743.5 1121.7 1810.6 1144.4 1810.6C1165.6 1810.6 1186.7 1725.3 1207.9 1725.3C1229.6 1725.3 1251.2 1822.1 1272.9 1822.1C1295.1 1822.1 1317.3 1728.4 1339.5 1728.4C1360.7 1728.4 1381.8 1750.5 1403 1801" fill="none" stroke="#e3a012" stroke-width="3.2" stroke-linejoin="round" stroke-linecap="round"/>
<rect x="124.5" y="83" width="1282" height="788.5" fill="none" stroke="#231815" stroke-width="4.2"/>
<line x1="256.8" y1="85" x2="256.8" y2="95.5" stroke="#231815" stroke-width="2.0"/>
<line x1="141.9" y1="85" x2="141.9" y2="91" stroke="#231815" stroke-width="2.0"/>
<line x1="486.7" y1="85" x2="486.7" y2="95.5" stroke="#231815" stroke-width="2.0"/>
<line x1="371.8" y1="85" x2="371.8" y2="91" stroke="#231815" stroke-width="2.0"/>
<line x1="716.6" y1="85" x2="716.6" y2="95.5" stroke="#231815" stroke-width="2.0"/>
<line x1="601.7" y1="85" x2="601.7" y2="91" stroke="#231815" stroke-width="2.0"/>
<line x1="946.5" y1="85" x2="946.5" y2="95.5" stroke="#231815" stroke-width="2.0"/>
<line x1="831.6" y1="85" x2="831.6" y2="91" stroke="#231815" stroke-width="2.0"/>
<line x1="1176.4" y1="85" x2="1176.4" y2="95.5" stroke="#231815" stroke-width="2.0"/>
<line x1="1061.5" y1="85" x2="1061.5" y2="91" stroke="#231815" stroke-width="2.0"/>
<line x1="1291.4" y1="85" x2="1291.4" y2="91" stroke="#231815" stroke-width="2.0"/>
<line x1="112" y1="164.2" x2="124.5" y2="164.2" stroke="#231815" stroke-width="2.0"/>
<line x1="117.5" y1="187.4" x2="124.5" y2="187.4" stroke="#231815" stroke-width="2.0"/>
<line x1="112" y1="210.6" x2="124.5" y2="210.6" stroke="#231815" stroke-width="2.0"/>
<line x1="117.5" y1="233.8" x2="124.5" y2="233.8" stroke="#231815" stroke-width="2.0"/>
<line x1="112" y1="257" x2="124.5" y2="257" stroke="#231815" stroke-width="2.0"/>
<line x1="117.5" y1="280.2" x2="124.5" y2="280.2" stroke="#231815" stroke-width="2.0"/>
<line x1="112" y1="303.4" x2="124.5" y2="303.4" stroke="#231815" stroke-width="2.0"/>
<line x1="117.5" y1="326.6" x2="124.5" y2="326.6" stroke="#231815" stroke-width="2.0"/>
<line x1="112" y1="349.8" x2="124.5" y2="349.8" stroke="#231815" stroke-width="2.0"/>
<line x1="112" y1="444.5" x2="124.5" y2="444.5" stroke="#231815" stroke-width="2.0"/>
<line x1="117.5" y1="462.4" x2="124.5" y2="462.4" stroke="#231815" stroke-width="2.0"/>
<line x1="112" y1="480.4" x2="124.5" y2="480.4" stroke="#231815" stroke-width="2.0"/>
<line x1="117.5" y1="498.4" x2="124.5" y2="498.4" stroke="#231815" stroke-width="2.0"/>
<line x1="112" y1="516.3" x2="124.5" y2="516.3" stroke="#231815" stroke-width="2.0"/>
<line x1="117.5" y1="534.2" x2="124.5" y2="534.2" stroke="#231815" stroke-width="2.0"/>
<line x1="112" y1="552.2" x2="124.5" y2="552.2" stroke="#231815" stroke-width="2.0"/>
<line x1="117.5" y1="570.1" x2="124.5" y2="570.1" stroke="#231815" stroke-width="2.0"/>
<line x1="112" y1="588.1" x2="124.5" y2="588.1" stroke="#231815" stroke-width="2.0"/>
<line x1="112" y1="640.9" x2="124.5" y2="640.9" stroke="#231815" stroke-width="2.0"/>
<line x1="117.5" y1="662.9" x2="124.5" y2="662.9" stroke="#231815" stroke-width="2.0"/>
<line x1="112" y1="684.9" x2="124.5" y2="684.9" stroke="#231815" stroke-width="2.0"/>
<line x1="117.5" y1="706.9" x2="124.5" y2="706.9" stroke="#231815" stroke-width="2.0"/>
<line x1="112" y1="728.9" x2="124.5" y2="728.9" stroke="#231815" stroke-width="2.0"/>
<line x1="117.5" y1="750.9" x2="124.5" y2="750.9" stroke="#231815" stroke-width="2.0"/>
<line x1="112" y1="772.9" x2="124.5" y2="772.9" stroke="#231815" stroke-width="2.0"/>
<line x1="117.5" y1="794.9" x2="124.5" y2="794.9" stroke="#231815" stroke-width="2.0"/>
<line x1="112" y1="816.9" x2="124.5" y2="816.9" stroke="#231815" stroke-width="2.0"/>
<line x1="117.5" y1="838.9" x2="124.5" y2="838.9" stroke="#231815" stroke-width="2.0"/>
<line x1="112" y1="860.9" x2="124.5" y2="860.9" stroke="#231815" stroke-width="2.0"/>
<line x1="1406.5" y1="193.3" x2="1418.8" y2="193.3" stroke="#231815" stroke-width="2.0"/>
<line x1="1406.5" y1="212.9" x2="1415" y2="212.9" stroke="#231815" stroke-width="2.0"/>
<line x1="1406.5" y1="232.6" x2="1418.8" y2="232.6" stroke="#231815" stroke-width="2.0"/>
<line x1="1406.5" y1="252.2" x2="1415" y2="252.2" stroke="#231815" stroke-width="2.0"/>
<line x1="1406.5" y1="271.8" x2="1418.8" y2="271.8" stroke="#231815" stroke-width="2.0"/>
<line x1="1406.5" y1="291.4" x2="1415" y2="291.4" stroke="#231815" stroke-width="2.0"/>
<line x1="1406.5" y1="311.1" x2="1418.8" y2="311.1" stroke="#231815" stroke-width="2.0"/>
<line x1="1406.5" y1="330.7" x2="1415" y2="330.7" stroke="#231815" stroke-width="2.0"/>
<line x1="1406.5" y1="350.3" x2="1418.8" y2="350.3" stroke="#231815" stroke-width="2.0"/>
<line x1="1406.5" y1="459.3" x2="1418.8" y2="459.3" stroke="#231815" stroke-width="2.0"/>
<line x1="1406.5" y1="468.6" x2="1415" y2="468.6" stroke="#231815" stroke-width="2.0"/>
<line x1="1406.5" y1="477.8" x2="1418.8" y2="477.8" stroke="#231815" stroke-width="2.0"/>
<line x1="1406.5" y1="487.1" x2="1415" y2="487.1" stroke="#231815" stroke-width="2.0"/>
<line x1="1406.5" y1="496.4" x2="1418.8" y2="496.4" stroke="#231815" stroke-width="2.0"/>
<line x1="1406.5" y1="505.6" x2="1415" y2="505.6" stroke="#231815" stroke-width="2.0"/>
<line x1="1406.5" y1="514.9" x2="1418.8" y2="514.9" stroke="#231815" stroke-width="2.0"/>
<line x1="1406.5" y1="524.2" x2="1415" y2="524.2" stroke="#231815" stroke-width="2.0"/>
<line x1="1406.5" y1="533.5" x2="1418.8" y2="533.5" stroke="#231815" stroke-width="2.0"/>
<line x1="1406.5" y1="542.7" x2="1415" y2="542.7" stroke="#231815" stroke-width="2.0"/>
<line x1="1406.5" y1="552" x2="1418.8" y2="552" stroke="#231815" stroke-width="2.0"/>
<line x1="1406.5" y1="561.3" x2="1415" y2="561.3" stroke="#231815" stroke-width="2.0"/>
<line x1="1406.5" y1="570.5" x2="1418.8" y2="570.5" stroke="#231815" stroke-width="2.0"/>
<line x1="1406.5" y1="579.8" x2="1415" y2="579.8" stroke="#231815" stroke-width="2.0"/>
<line x1="1406.5" y1="589.1" x2="1418.8" y2="589.1" stroke="#231815" stroke-width="2.0"/>
<line x1="1406.5" y1="598.4" x2="1415" y2="598.4" stroke="#231815" stroke-width="2.0"/>
<line x1="1406.5" y1="607.6" x2="1418.8" y2="607.6" stroke="#231815" stroke-width="2.0"/>
<line x1="1406.5" y1="672.4" x2="1418.8" y2="672.4" stroke="#231815" stroke-width="2.0"/>
<line x1="1406.5" y1="688.1" x2="1415" y2="688.1" stroke="#231815" stroke-width="2.0"/>
<line x1="1406.5" y1="703.8" x2="1418.8" y2="703.8" stroke="#231815" stroke-width="2.0"/>
<line x1="1406.5" y1="719.5" x2="1415" y2="719.5" stroke="#231815" stroke-width="2.0"/>
<line x1="1406.5" y1="735.2" x2="1418.8" y2="735.2" stroke="#231815" stroke-width="2.0"/>
<line x1="1406.5" y1="750.9" x2="1415" y2="750.9" stroke="#231815" stroke-width="2.0"/>
<line x1="1406.5" y1="766.6" x2="1418.8" y2="766.6" stroke="#231815" stroke-width="2.0"/>
<line x1="1406.5" y1="782.3" x2="1415" y2="782.3" stroke="#231815" stroke-width="2.0"/>
<line x1="1406.5" y1="798" x2="1418.8" y2="798" stroke="#231815" stroke-width="2.0"/>
<line x1="1406.5" y1="813.7" x2="1415" y2="813.7" stroke="#231815" stroke-width="2.0"/>
<line x1="1406.5" y1="829.4" x2="1418.8" y2="829.4" stroke="#231815" stroke-width="2.0"/>
<line x1="1406.5" y1="845.1" x2="1415" y2="845.1" stroke="#231815" stroke-width="2.0"/>
<line x1="1406.5" y1="860.8" x2="1418.8" y2="860.8" stroke="#231815" stroke-width="2.0"/>
<rect x="124.7" y="925" width="1281.8" height="971.2" fill="none" stroke="#231815" stroke-width="4.2"/>
<line x1="112.2" y1="927.8" x2="124.7" y2="927.8" stroke="#231815" stroke-width="2.0"/>
<line x1="117.7" y1="943.6" x2="124.7" y2="943.6" stroke="#231815" stroke-width="2.0"/>
<line x1="112.2" y1="959.3" x2="124.7" y2="959.3" stroke="#231815" stroke-width="2.0"/>
<line x1="117.7" y1="975.1" x2="124.7" y2="975.1" stroke="#231815" stroke-width="2.0"/>
<line x1="112.2" y1="990.9" x2="124.7" y2="990.9" stroke="#231815" stroke-width="2.0"/>
<line x1="117.7" y1="1006.6" x2="124.7" y2="1006.6" stroke="#231815" stroke-width="2.0"/>
<line x1="112.2" y1="1022.4" x2="124.7" y2="1022.4" stroke="#231815" stroke-width="2.0"/>
<line x1="117.7" y1="1038.2" x2="124.7" y2="1038.2" stroke="#231815" stroke-width="2.0"/>
<line x1="112.2" y1="1054" x2="124.7" y2="1054" stroke="#231815" stroke-width="2.0"/>
<line x1="117.7" y1="1069.7" x2="124.7" y2="1069.7" stroke="#231815" stroke-width="2.0"/>
<line x1="112.2" y1="1085.5" x2="124.7" y2="1085.5" stroke="#231815" stroke-width="2.0"/>
<line x1="117.7" y1="1101.3" x2="124.7" y2="1101.3" stroke="#231815" stroke-width="2.0"/>
<line x1="112.2" y1="1117" x2="124.7" y2="1117" stroke="#231815" stroke-width="2.0"/>
<line x1="117.7" y1="1132.8" x2="124.7" y2="1132.8" stroke="#231815" stroke-width="2.0"/>
<line x1="112.2" y1="1148.6" x2="124.7" y2="1148.6" stroke="#231815" stroke-width="2.0"/>
<line x1="1406.5" y1="928.3" x2="1418.8" y2="928.3" stroke="#231815" stroke-width="2.0"/>
<line x1="1406.5" y1="944" x2="1415" y2="944" stroke="#231815" stroke-width="2.0"/>
<line x1="1406.5" y1="959.7" x2="1418.8" y2="959.7" stroke="#231815" stroke-width="2.0"/>
<line x1="1406.5" y1="975.4" x2="1415" y2="975.4" stroke="#231815" stroke-width="2.0"/>
<line x1="1406.5" y1="991.1" x2="1418.8" y2="991.1" stroke="#231815" stroke-width="2.0"/>
<line x1="1406.5" y1="1006.8" x2="1415" y2="1006.8" stroke="#231815" stroke-width="2.0"/>
<line x1="1406.5" y1="1022.4" x2="1418.8" y2="1022.4" stroke="#231815" stroke-width="2.0"/>
<line x1="1406.5" y1="1038.1" x2="1415" y2="1038.1" stroke="#231815" stroke-width="2.0"/>
<line x1="1406.5" y1="1053.8" x2="1418.8" y2="1053.8" stroke="#231815" stroke-width="2.0"/>
<line x1="1406.5" y1="1069.5" x2="1415" y2="1069.5" stroke="#231815" stroke-width="2.0"/>
<line x1="1406.5" y1="1085.2" x2="1418.8" y2="1085.2" stroke="#231815" stroke-width="2.0"/>
<line x1="1406.5" y1="1100.9" x2="1415" y2="1100.9" stroke="#231815" stroke-width="2.0"/>
<line x1="1406.5" y1="1116.6" x2="1418.8" y2="1116.6" stroke="#231815" stroke-width="2.0"/>
<line x1="1406.5" y1="1132.3" x2="1415" y2="1132.3" stroke="#231815" stroke-width="2.0"/>
<line x1="1406.5" y1="1148" x2="1418.8" y2="1148" stroke="#231815" stroke-width="2.0"/>
<line x1="112.2" y1="1178.5" x2="124.7" y2="1178.5" stroke="#231815" stroke-width="2.0"/>
<line x1="117.7" y1="1201.3" x2="124.7" y2="1201.3" stroke="#231815" stroke-width="2.0"/>
<line x1="112.2" y1="1224.2" x2="124.7" y2="1224.2" stroke="#231815" stroke-width="2.0"/>
<line x1="117.7" y1="1247" x2="124.7" y2="1247" stroke="#231815" stroke-width="2.0"/>
<line x1="112.2" y1="1269.9" x2="124.7" y2="1269.9" stroke="#231815" stroke-width="2.0"/>
<line x1="117.7" y1="1292.7" x2="124.7" y2="1292.7" stroke="#231815" stroke-width="2.0"/>
<line x1="112.2" y1="1315.5" x2="124.7" y2="1315.5" stroke="#231815" stroke-width="2.0"/>
<line x1="117.7" y1="1338.4" x2="124.7" y2="1338.4" stroke="#231815" stroke-width="2.0"/>
<line x1="112.2" y1="1361.2" x2="124.7" y2="1361.2" stroke="#231815" stroke-width="2.0"/>
<line x1="1406.5" y1="1220.2" x2="1418.9" y2="1220.2" stroke="#231815" stroke-width="2.0"/>
<line x1="1406.5" y1="1266.3" x2="1418.9" y2="1266.3" stroke="#231815" stroke-width="2.0"/>
<line x1="1406.5" y1="1312.5" x2="1418.9" y2="1312.5" stroke="#231815" stroke-width="2.0"/>
<line x1="124.7" y1="1361" x2="1386" y2="1361" stroke="#231815" stroke-width="2.0"/>
<line x1="154" y1="1361" x2="154" y2="1369" stroke="#231815" stroke-width="2.0"/>
<line x1="187.4" y1="1361" x2="187.4" y2="1369" stroke="#231815" stroke-width="2.0"/>
<line x1="220.7" y1="1361" x2="220.7" y2="1369" stroke="#231815" stroke-width="2.0"/>
<line x1="254.1" y1="1361" x2="254.1" y2="1369" stroke="#231815" stroke-width="2.0"/>
<line x1="287.4" y1="1361" x2="287.4" y2="1373.4" stroke="#231815" stroke-width="2.0"/>
<line x1="320.7" y1="1361" x2="320.7" y2="1369" stroke="#231815" stroke-width="2.0"/>
<line x1="354.1" y1="1361" x2="354.1" y2="1369" stroke="#231815" stroke-width="2.0"/>
<line x1="387.4" y1="1361" x2="387.4" y2="1369" stroke="#231815" stroke-width="2.0"/>
<line x1="420.8" y1="1361" x2="420.8" y2="1369" stroke="#231815" stroke-width="2.0"/>
<line x1="454.1" y1="1361" x2="454.1" y2="1373.4" stroke="#231815" stroke-width="2.0"/>
<line x1="487.4" y1="1361" x2="487.4" y2="1369" stroke="#231815" stroke-width="2.0"/>
<line x1="520.8" y1="1361" x2="520.8" y2="1369" stroke="#231815" stroke-width="2.0"/>
<line x1="554.1" y1="1361" x2="554.1" y2="1369" stroke="#231815" stroke-width="2.0"/>
<line x1="587.5" y1="1361" x2="587.5" y2="1369" stroke="#231815" stroke-width="2.0"/>
<line x1="620.8" y1="1361" x2="620.8" y2="1373.4" stroke="#231815" stroke-width="2.0"/>
<line x1="654.1" y1="1361" x2="654.1" y2="1369" stroke="#231815" stroke-width="2.0"/>
<line x1="687.5" y1="1361" x2="687.5" y2="1369" stroke="#231815" stroke-width="2.0"/>
<line x1="720.8" y1="1361" x2="720.8" y2="1369" stroke="#231815" stroke-width="2.0"/>
<line x1="754.2" y1="1361" x2="754.2" y2="1369" stroke="#231815" stroke-width="2.0"/>
<line x1="787.5" y1="1361" x2="787.5" y2="1373.4" stroke="#231815" stroke-width="2.0"/>
<line x1="820.8" y1="1361" x2="820.8" y2="1369" stroke="#231815" stroke-width="2.0"/>
<line x1="854.2" y1="1361" x2="854.2" y2="1369" stroke="#231815" stroke-width="2.0"/>
<line x1="887.5" y1="1361" x2="887.5" y2="1369" stroke="#231815" stroke-width="2.0"/>
<line x1="920.9" y1="1361" x2="920.9" y2="1369" stroke="#231815" stroke-width="2.0"/>
<line x1="954.2" y1="1361" x2="954.2" y2="1373.4" stroke="#231815" stroke-width="2.0"/>
<line x1="987.5" y1="1361" x2="987.5" y2="1369" stroke="#231815" stroke-width="2.0"/>
<line x1="1020.9" y1="1361" x2="1020.9" y2="1369" stroke="#231815" stroke-width="2.0"/>
<line x1="1054.2" y1="1361" x2="1054.2" y2="1369" stroke="#231815" stroke-width="2.0"/>
<line x1="1087.6" y1="1361" x2="1087.6" y2="1369" stroke="#231815" stroke-width="2.0"/>
<line x1="1120.9" y1="1361" x2="1120.9" y2="1373.4" stroke="#231815" stroke-width="2.0"/>
<line x1="1154.2" y1="1361" x2="1154.2" y2="1369" stroke="#231815" stroke-width="2.0"/>
<line x1="1187.6" y1="1361" x2="1187.6" y2="1369" stroke="#231815" stroke-width="2.0"/>
<line x1="1220.9" y1="1361" x2="1220.9" y2="1369" stroke="#231815" stroke-width="2.0"/>
<line x1="1254.3" y1="1361" x2="1254.3" y2="1369" stroke="#231815" stroke-width="2.0"/>
<line x1="1287.6" y1="1361" x2="1287.6" y2="1373.4" stroke="#231815" stroke-width="2.0"/>
<line x1="1320.9" y1="1361" x2="1320.9" y2="1369" stroke="#231815" stroke-width="2.0"/>
<line x1="1354.3" y1="1361" x2="1354.3" y2="1369" stroke="#231815" stroke-width="2.0"/>
<line x1="112.2" y1="1500.2" x2="124.7" y2="1500.2" stroke="#231815" stroke-width="2.0"/>
<line x1="117.7" y1="1527.4" x2="124.7" y2="1527.4" stroke="#231815" stroke-width="2.0"/>
<line x1="112.2" y1="1554.5" x2="124.7" y2="1554.5" stroke="#231815" stroke-width="2.0"/>
<line x1="117.7" y1="1581.7" x2="124.7" y2="1581.7" stroke="#231815" stroke-width="2.0"/>
<line x1="112.2" y1="1608.8" x2="124.7" y2="1608.8" stroke="#231815" stroke-width="2.0"/>
<line x1="117.7" y1="1636" x2="124.7" y2="1636" stroke="#231815" stroke-width="2.0"/>
<line x1="112.2" y1="1663.2" x2="124.7" y2="1663.2" stroke="#231815" stroke-width="2.0"/>
<line x1="117.7" y1="1690.3" x2="124.7" y2="1690.3" stroke="#231815" stroke-width="2.0"/>
<line x1="112.2" y1="1717.5" x2="124.7" y2="1717.5" stroke="#231815" stroke-width="2.0"/>
<line x1="117.7" y1="1744.6" x2="124.7" y2="1744.6" stroke="#231815" stroke-width="2.0"/>
<line x1="112.2" y1="1771.8" x2="124.7" y2="1771.8" stroke="#231815" stroke-width="2.0"/>
<line x1="117.7" y1="1799" x2="124.7" y2="1799" stroke="#231815" stroke-width="2.0"/>
<line x1="112.2" y1="1826.1" x2="124.7" y2="1826.1" stroke="#231815" stroke-width="2.0"/>
<line x1="117.7" y1="1853.3" x2="124.7" y2="1853.3" stroke="#231815" stroke-width="2.0"/>
<line x1="112.2" y1="1880.4" x2="124.7" y2="1880.4" stroke="#231815" stroke-width="2.0"/>
<line x1="1406.5" y1="1500.6" x2="1418.8" y2="1500.6" stroke="#231815" stroke-width="2.0"/>
<line x1="1406.5" y1="1527.7" x2="1415" y2="1527.7" stroke="#231815" stroke-width="2.0"/>
<line x1="1406.5" y1="1554.9" x2="1418.8" y2="1554.9" stroke="#231815" stroke-width="2.0"/>
<line x1="1406.5" y1="1582" x2="1415" y2="1582" stroke="#231815" stroke-width="2.0"/>
<line x1="1406.5" y1="1609.2" x2="1418.8" y2="1609.2" stroke="#231815" stroke-width="2.0"/>
<line x1="1406.5" y1="1636.3" x2="1415" y2="1636.3" stroke="#231815" stroke-width="2.0"/>
<line x1="1406.5" y1="1663.4" x2="1418.8" y2="1663.4" stroke="#231815" stroke-width="2.0"/>
<line x1="1406.5" y1="1690.6" x2="1415" y2="1690.6" stroke="#231815" stroke-width="2.0"/>
<line x1="1406.5" y1="1717.7" x2="1418.8" y2="1717.7" stroke="#231815" stroke-width="2.0"/>
<line x1="1406.5" y1="1744.9" x2="1415" y2="1744.9" stroke="#231815" stroke-width="2.0"/>
<line x1="1406.5" y1="1772" x2="1418.8" y2="1772" stroke="#231815" stroke-width="2.0"/>
<line x1="1406.5" y1="1799.1" x2="1415" y2="1799.1" stroke="#231815" stroke-width="2.0"/>
<line x1="1406.5" y1="1826.3" x2="1418.8" y2="1826.3" stroke="#231815" stroke-width="2.0"/>
<line x1="1406.5" y1="1853.4" x2="1415" y2="1853.4" stroke="#231815" stroke-width="2.0"/>
<line x1="1406.5" y1="1880.6" x2="1418.8" y2="1880.6" stroke="#231815" stroke-width="2.0"/>
<line x1="124.7" y1="1499.8" x2="530.8" y2="1499.8" stroke="#231815" stroke-width="2.0"/>
<line x1="530.8" y1="1499.8" x2="530.8" y2="1896" stroke="#231815" stroke-width="2.0"/>
<line x1="140.7" y1="1499.8" x2="140.7" y2="1487.4" stroke="#231815" stroke-width="2.0"/>
<line x1="140.7" y1="1896" x2="140.7" y2="1909" stroke="#231815" stroke-width="2.0"/>
<line x1="159.2" y1="1499.8" x2="159.2" y2="1491.4" stroke="#231815" stroke-width="2.0"/>
<line x1="159.2" y1="1896" x2="159.2" y2="1904.6" stroke="#231815" stroke-width="2.0"/>
<line x1="177.8" y1="1499.8" x2="177.8" y2="1487.4" stroke="#231815" stroke-width="2.0"/>
<line x1="177.8" y1="1896" x2="177.8" y2="1909" stroke="#231815" stroke-width="2.0"/>
<line x1="196.3" y1="1499.8" x2="196.3" y2="1491.4" stroke="#231815" stroke-width="2.0"/>
<line x1="196.3" y1="1896" x2="196.3" y2="1904.6" stroke="#231815" stroke-width="2.0"/>
<line x1="214.9" y1="1499.8" x2="214.9" y2="1487.4" stroke="#231815" stroke-width="2.0"/>
<line x1="214.9" y1="1896" x2="214.9" y2="1909" stroke="#231815" stroke-width="2.0"/>
<line x1="233.5" y1="1499.8" x2="233.5" y2="1491.4" stroke="#231815" stroke-width="2.0"/>
<line x1="233.5" y1="1896" x2="233.5" y2="1904.6" stroke="#231815" stroke-width="2.0"/>
<line x1="252" y1="1499.8" x2="252" y2="1487.4" stroke="#231815" stroke-width="2.0"/>
<line x1="252" y1="1896" x2="252" y2="1909" stroke="#231815" stroke-width="2.0"/>
<line x1="270.6" y1="1499.8" x2="270.6" y2="1491.4" stroke="#231815" stroke-width="2.0"/>
<line x1="270.6" y1="1896" x2="270.6" y2="1904.6" stroke="#231815" stroke-width="2.0"/>
<line x1="289.1" y1="1499.8" x2="289.1" y2="1487.4" stroke="#231815" stroke-width="2.0"/>
<line x1="289.1" y1="1896" x2="289.1" y2="1909" stroke="#231815" stroke-width="2.0"/>
<line x1="307.6" y1="1499.8" x2="307.6" y2="1491.4" stroke="#231815" stroke-width="2.0"/>
<line x1="307.6" y1="1896" x2="307.6" y2="1904.6" stroke="#231815" stroke-width="2.0"/>
<line x1="326.2" y1="1499.8" x2="326.2" y2="1487.4" stroke="#231815" stroke-width="2.0"/>
<line x1="326.2" y1="1896" x2="326.2" y2="1909" stroke="#231815" stroke-width="2.0"/>
<line x1="344.8" y1="1499.8" x2="344.8" y2="1491.4" stroke="#231815" stroke-width="2.0"/>
<line x1="344.8" y1="1896" x2="344.8" y2="1904.6" stroke="#231815" stroke-width="2.0"/>
<line x1="363.3" y1="1499.8" x2="363.3" y2="1487.4" stroke="#231815" stroke-width="2.0"/>
<line x1="363.3" y1="1896" x2="363.3" y2="1909" stroke="#231815" stroke-width="2.0"/>
<line x1="381.9" y1="1499.8" x2="381.9" y2="1491.4" stroke="#231815" stroke-width="2.0"/>
<line x1="381.9" y1="1896" x2="381.9" y2="1904.6" stroke="#231815" stroke-width="2.0"/>
<line x1="400.4" y1="1499.8" x2="400.4" y2="1487.4" stroke="#231815" stroke-width="2.0"/>
<line x1="400.4" y1="1896" x2="400.4" y2="1909" stroke="#231815" stroke-width="2.0"/>
<line x1="419" y1="1499.8" x2="419" y2="1491.4" stroke="#231815" stroke-width="2.0"/>
<line x1="419" y1="1896" x2="419" y2="1904.6" stroke="#231815" stroke-width="2.0"/>
<line x1="437.5" y1="1499.8" x2="437.5" y2="1487.4" stroke="#231815" stroke-width="2.0"/>
<line x1="437.5" y1="1896" x2="437.5" y2="1909" stroke="#231815" stroke-width="2.0"/>
<line x1="456.1" y1="1499.8" x2="456.1" y2="1491.4" stroke="#231815" stroke-width="2.0"/>
<line x1="456.1" y1="1896" x2="456.1" y2="1904.6" stroke="#231815" stroke-width="2.0"/>
<line x1="474.6" y1="1499.8" x2="474.6" y2="1487.4" stroke="#231815" stroke-width="2.0"/>
<line x1="474.6" y1="1896" x2="474.6" y2="1909" stroke="#231815" stroke-width="2.0"/>
<line x1="493.1" y1="1499.8" x2="493.1" y2="1491.4" stroke="#231815" stroke-width="2.0"/>
<line x1="493.1" y1="1896" x2="493.1" y2="1904.6" stroke="#231815" stroke-width="2.0"/>
<line x1="511.7" y1="1499.8" x2="511.7" y2="1487.4" stroke="#231815" stroke-width="2.0"/>
<line x1="511.7" y1="1896" x2="511.7" y2="1909" stroke="#231815" stroke-width="2.0"/>
<line x1="530.2" y1="1499.8" x2="530.2" y2="1491.4" stroke="#231815" stroke-width="2.0"/>
<line x1="530.2" y1="1896" x2="530.2" y2="1904.6" stroke="#231815" stroke-width="2.0"/>
<line x1="585.8" y1="1499.8" x2="999.5" y2="1499.8" stroke="#231815" stroke-width="2.0"/>
<line x1="585.8" y1="1499.8" x2="585.8" y2="1896" stroke="#231815" stroke-width="2.0"/>
<line x1="999.5" y1="1499.8" x2="999.5" y2="1896" stroke="#231815" stroke-width="2.0"/>
<line x1="589.6" y1="1499.8" x2="589.6" y2="1491.4" stroke="#231815" stroke-width="2.0"/>
<line x1="589.6" y1="1896" x2="589.6" y2="1904.6" stroke="#231815" stroke-width="2.0"/>
<line x1="608.2" y1="1499.8" x2="608.2" y2="1487.4" stroke="#231815" stroke-width="2.0"/>
<line x1="608.2" y1="1896" x2="608.2" y2="1909" stroke="#231815" stroke-width="2.0"/>
<line x1="626.8" y1="1499.8" x2="626.8" y2="1491.4" stroke="#231815" stroke-width="2.0"/>
<line x1="626.8" y1="1896" x2="626.8" y2="1904.6" stroke="#231815" stroke-width="2.0"/>
<line x1="645.3" y1="1499.8" x2="645.3" y2="1487.4" stroke="#231815" stroke-width="2.0"/>
<line x1="645.3" y1="1896" x2="645.3" y2="1909" stroke="#231815" stroke-width="2.0"/>
<line x1="663.9" y1="1499.8" x2="663.9" y2="1491.4" stroke="#231815" stroke-width="2.0"/>
<line x1="663.9" y1="1896" x2="663.9" y2="1904.6" stroke="#231815" stroke-width="2.0"/>
<line x1="682.4" y1="1499.8" x2="682.4" y2="1487.4" stroke="#231815" stroke-width="2.0"/>
<line x1="682.4" y1="1896" x2="682.4" y2="1909" stroke="#231815" stroke-width="2.0"/>
<line x1="700.9" y1="1499.8" x2="700.9" y2="1491.4" stroke="#231815" stroke-width="2.0"/>
<line x1="700.9" y1="1896" x2="700.9" y2="1904.6" stroke="#231815" stroke-width="2.0"/>
<line x1="719.5" y1="1499.8" x2="719.5" y2="1487.4" stroke="#231815" stroke-width="2.0"/>
<line x1="719.5" y1="1896" x2="719.5" y2="1909" stroke="#231815" stroke-width="2.0"/>
<line x1="738" y1="1499.8" x2="738" y2="1491.4" stroke="#231815" stroke-width="2.0"/>
<line x1="738" y1="1896" x2="738" y2="1904.6" stroke="#231815" stroke-width="2.0"/>
<line x1="756.6" y1="1499.8" x2="756.6" y2="1487.4" stroke="#231815" stroke-width="2.0"/>
<line x1="756.6" y1="1896" x2="756.6" y2="1909" stroke="#231815" stroke-width="2.0"/>
<line x1="775.1" y1="1499.8" x2="775.1" y2="1491.4" stroke="#231815" stroke-width="2.0"/>
<line x1="775.1" y1="1896" x2="775.1" y2="1904.6" stroke="#231815" stroke-width="2.0"/>
<line x1="793.7" y1="1499.8" x2="793.7" y2="1487.4" stroke="#231815" stroke-width="2.0"/>
<line x1="793.7" y1="1896" x2="793.7" y2="1909" stroke="#231815" stroke-width="2.0"/>
<line x1="812.2" y1="1499.8" x2="812.2" y2="1491.4" stroke="#231815" stroke-width="2.0"/>
<line x1="812.2" y1="1896" x2="812.2" y2="1904.6" stroke="#231815" stroke-width="2.0"/>
<line x1="830.8" y1="1499.8" x2="830.8" y2="1487.4" stroke="#231815" stroke-width="2.0"/>
<line x1="830.8" y1="1896" x2="830.8" y2="1909" stroke="#231815" stroke-width="2.0"/>
<line x1="849.4" y1="1499.8" x2="849.4" y2="1491.4" stroke="#231815" stroke-width="2.0"/>
<line x1="849.4" y1="1896" x2="849.4" y2="1904.6" stroke="#231815" stroke-width="2.0"/>
<line x1="867.9" y1="1499.8" x2="867.9" y2="1487.4" stroke="#231815" stroke-width="2.0"/>
<line x1="867.9" y1="1896" x2="867.9" y2="1909" stroke="#231815" stroke-width="2.0"/>
<line x1="886.5" y1="1499.8" x2="886.5" y2="1491.4" stroke="#231815" stroke-width="2.0"/>
<line x1="886.5" y1="1896" x2="886.5" y2="1904.6" stroke="#231815" stroke-width="2.0"/>
<line x1="905" y1="1499.8" x2="905" y2="1487.4" stroke="#231815" stroke-width="2.0"/>
<line x1="905" y1="1896" x2="905" y2="1909" stroke="#231815" stroke-width="2.0"/>
<line x1="923.5" y1="1499.8" x2="923.5" y2="1491.4" stroke="#231815" stroke-width="2.0"/>
<line x1="923.5" y1="1896" x2="923.5" y2="1904.6" stroke="#231815" stroke-width="2.0"/>
<line x1="942.1" y1="1499.8" x2="942.1" y2="1487.4" stroke="#231815" stroke-width="2.0"/>
<line x1="942.1" y1="1896" x2="942.1" y2="1909" stroke="#231815" stroke-width="2.0"/>
<line x1="960.6" y1="1499.8" x2="960.6" y2="1491.4" stroke="#231815" stroke-width="2.0"/>
<line x1="960.6" y1="1896" x2="960.6" y2="1904.6" stroke="#231815" stroke-width="2.0"/>
<line x1="979.2" y1="1499.8" x2="979.2" y2="1487.4" stroke="#231815" stroke-width="2.0"/>
<line x1="979.2" y1="1896" x2="979.2" y2="1909" stroke="#231815" stroke-width="2.0"/>
<line x1="997.8" y1="1499.8" x2="997.8" y2="1491.4" stroke="#231815" stroke-width="2.0"/>
<line x1="997.8" y1="1896" x2="997.8" y2="1904.6" stroke="#231815" stroke-width="2.0"/>
<line x1="1053.6" y1="1499.8" x2="1406.5" y2="1499.8" stroke="#231815" stroke-width="2.0"/>
<line x1="1053.6" y1="1499.8" x2="1053.6" y2="1896" stroke="#231815" stroke-width="2.0"/>
<line x1="1057.7" y1="1499.8" x2="1057.7" y2="1491.4" stroke="#231815" stroke-width="2.0"/>
<line x1="1057.7" y1="1896" x2="1057.7" y2="1904.6" stroke="#231815" stroke-width="2.0"/>
<line x1="1076.2" y1="1499.8" x2="1076.2" y2="1487.4" stroke="#231815" stroke-width="2.0"/>
<line x1="1076.2" y1="1896" x2="1076.2" y2="1909" stroke="#231815" stroke-width="2.0"/>
<line x1="1094.8" y1="1499.8" x2="1094.8" y2="1491.4" stroke="#231815" stroke-width="2.0"/>
<line x1="1094.8" y1="1896" x2="1094.8" y2="1904.6" stroke="#231815" stroke-width="2.0"/>
<line x1="1113.3" y1="1499.8" x2="1113.3" y2="1487.4" stroke="#231815" stroke-width="2.0"/>
<line x1="1113.3" y1="1896" x2="1113.3" y2="1909" stroke="#231815" stroke-width="2.0"/>
<line x1="1131.9" y1="1499.8" x2="1131.9" y2="1491.4" stroke="#231815" stroke-width="2.0"/>
<line x1="1131.9" y1="1896" x2="1131.9" y2="1904.6" stroke="#231815" stroke-width="2.0"/>
<line x1="1150.4" y1="1499.8" x2="1150.4" y2="1487.4" stroke="#231815" stroke-width="2.0"/>
<line x1="1150.4" y1="1896" x2="1150.4" y2="1909" stroke="#231815" stroke-width="2.0"/>
<line x1="1169" y1="1499.8" x2="1169" y2="1491.4" stroke="#231815" stroke-width="2.0"/>
<line x1="1169" y1="1896" x2="1169" y2="1904.6" stroke="#231815" stroke-width="2.0"/>
<line x1="1187.5" y1="1499.8" x2="1187.5" y2="1487.4" stroke="#231815" stroke-width="2.0"/>
<line x1="1187.5" y1="1896" x2="1187.5" y2="1909" stroke="#231815" stroke-width="2.0"/>
<line x1="1206" y1="1499.8" x2="1206" y2="1491.4" stroke="#231815" stroke-width="2.0"/>
<line x1="1206" y1="1896" x2="1206" y2="1904.6" stroke="#231815" stroke-width="2.0"/>
<line x1="1224.6" y1="1499.8" x2="1224.6" y2="1487.4" stroke="#231815" stroke-width="2.0"/>
<line x1="1224.6" y1="1896" x2="1224.6" y2="1909" stroke="#231815" stroke-width="2.0"/>
<line x1="1243.2" y1="1499.8" x2="1243.2" y2="1491.4" stroke="#231815" stroke-width="2.0"/>
<line x1="1243.2" y1="1896" x2="1243.2" y2="1904.6" stroke="#231815" stroke-width="2.0"/>
<line x1="1261.7" y1="1499.8" x2="1261.7" y2="1487.4" stroke="#231815" stroke-width="2.0"/>
<line x1="1261.7" y1="1896" x2="1261.7" y2="1909" stroke="#231815" stroke-width="2.0"/>
<line x1="1280.2" y1="1499.8" x2="1280.2" y2="1491.4" stroke="#231815" stroke-width="2.0"/>
<line x1="1280.2" y1="1896" x2="1280.2" y2="1904.6" stroke="#231815" stroke-width="2.0"/>
<line x1="1298.8" y1="1499.8" x2="1298.8" y2="1487.4" stroke="#231815" stroke-width="2.0"/>
<line x1="1298.8" y1="1896" x2="1298.8" y2="1909" stroke="#231815" stroke-width="2.0"/>
<line x1="1317.4" y1="1499.8" x2="1317.4" y2="1491.4" stroke="#231815" stroke-width="2.0"/>
<line x1="1317.4" y1="1896" x2="1317.4" y2="1904.6" stroke="#231815" stroke-width="2.0"/>
<line x1="1335.9" y1="1499.8" x2="1335.9" y2="1487.4" stroke="#231815" stroke-width="2.0"/>
<line x1="1335.9" y1="1896" x2="1335.9" y2="1909" stroke="#231815" stroke-width="2.0"/>
<line x1="1354.5" y1="1499.8" x2="1354.5" y2="1491.4" stroke="#231815" stroke-width="2.0"/>
<line x1="1354.5" y1="1896" x2="1354.5" y2="1904.6" stroke="#231815" stroke-width="2.0"/>
<line x1="1373" y1="1499.8" x2="1373" y2="1487.4" stroke="#231815" stroke-width="2.0"/>
<line x1="1373" y1="1896" x2="1373" y2="1909" stroke="#231815" stroke-width="2.0"/>
<line x1="1391.5" y1="1499.8" x2="1391.5" y2="1491.4" stroke="#231815" stroke-width="2.0"/>
<line x1="1391.5" y1="1896" x2="1391.5" y2="1904.6" stroke="#231815" stroke-width="2.0"/>
<line x1="279.2" y1="1501" x2="279.2" y2="1895" stroke="#231815" stroke-width="2.2" stroke-dasharray="3.2 5"/>
<line x1="399.7" y1="1611" x2="399.7" y2="1895" stroke="#231815" stroke-width="2.2" stroke-dasharray="3.2 5"/>
<line x1="718.8" y1="1501" x2="718.8" y2="1895" stroke="#231815" stroke-width="2.2" stroke-dasharray="3.2 5"/>
<line x1="859.5" y1="1501" x2="859.5" y2="1895" stroke="#231815" stroke-width="2.2" stroke-dasharray="3.2 5"/>
<line x1="1130.7" y1="1501" x2="1130.7" y2="1895" stroke="#231815" stroke-width="2.2" stroke-dasharray="3.2 5"/>
<line x1="1253.2" y1="1501" x2="1253.2" y2="1895" stroke="#231815" stroke-width="2.2" stroke-dasharray="3.2 5"/>
<line x1="1387" y1="1501" x2="1387" y2="1895" stroke="#231815" stroke-width="2.2" stroke-dasharray="3.2 5"/>
<line x1="432.1" y1="1818" x2="432.1" y2="1840.7" stroke="#231815" stroke-width="2.2" stroke-dasharray="3.2 5"/>
<line x1="455.2" y1="1812" x2="455.2" y2="1839.3" stroke="#231815" stroke-width="2.2" stroke-dasharray="3.2 5"/>
<line x1="886.6" y1="1846" x2="886.6" y2="1862" stroke="#231815" stroke-width="2.2" stroke-dasharray="3.2 5"/>
<line x1="923.6" y1="1840" x2="923.6" y2="1862" stroke="#231815" stroke-width="2.2" stroke-dasharray="3.2 5"/>
<line x1="1160.4" y1="1798" x2="1160.4" y2="1854.5" stroke="#231815" stroke-width="2.2" stroke-dasharray="3.2 5"/>
<line x1="1191.2" y1="1808" x2="1191.2" y2="1854.5" stroke="#231815" stroke-width="2.2" stroke-dasharray="3.2 5"/>
<path d="M399.7 1844.9 C399.7 1860 432.1 1861.4 432.1 1840.7" fill="none" stroke="#231815" stroke-width="2.6"/>
<path d="M399.7 1844.9 C399.7 1873 455.2 1874.9 455.2 1839.3" fill="none" stroke="#231815" stroke-width="2.6"/>
<path d="M399.7 1844.9 C399.7 1899.4 530.7 1901.8 530.7 1837.9" fill="none" stroke="#231815" stroke-width="2.6"/>
<path d="M859.5 1866.4 C859.5 1874.1 886.6 1875.6 886.6 1862" fill="none" stroke="#231815" stroke-width="2.6"/>
<path d="M859.5 1866.4 C859.5 1881.9 923.6 1883.3 923.6 1862" fill="none" stroke="#231815" stroke-width="2.6"/>
<path d="M859.5 1866.4 C859.5 1895.5 999.5 1897.4 999.5 1860.5" fill="none" stroke="#231815" stroke-width="2.6"/>
<path d="M1130.7 1857.5 C1130.7 1867.6 1160.4 1868.6 1160.4 1854.5" fill="none" stroke="#231815" stroke-width="2.6"/>
<path d="M1130.7 1857.5 C1130.7 1877.6 1192.8 1878.6 1192.8 1854.5" fill="none" stroke="#231815" stroke-width="2.6"/>
<path d="M1130.7 1857.5 C1130.7 1895.9 1256.3 1897.6 1256.3 1852.4" fill="none" stroke="#231815" stroke-width="2.6"/>
<path d="M652.1 453.3 Q682.2 408.7 708 443.7" fill="none" stroke="#231815" stroke-width="2.2"/>
<path d="M715.5 442.6 Q740.3 402.3 767.9 426.8" fill="none" stroke="#231815" stroke-width="2.2"/>
<path d="M1146.6 456.1 Q1162.2 413 1192.9 479.5" fill="none" stroke="#231815" stroke-width="2.2"/>
<line x1="1164.2" y1="249.5" x2="1164.2" y2="214.9" stroke="#231815" stroke-width="2.0"/>
<path d="M1164.2 204.9 L1160.3 217.9 L1168.1 217.9 Z" fill="#231815"/>
<line x1="335.7" y1="553.1" x2="335.7" y2="490.1" stroke="#231815" stroke-width="2.0"/>
<path d="M335.7 480.1 L331.8 493.1 L339.6 493.1 Z" fill="#231815"/>
<line x1="325.6" y1="784.2" x2="325.6" y2="721.2" stroke="#231815" stroke-width="2.0"/>
<path d="M325.6 711.2 L321.7 724.2 L329.5 724.2 Z" fill="#231815"/>
<polyline points="124.7,1452.2 201.1,1428 201.1,955.7 292,955.7 292,1374" fill="none" stroke="#231815" stroke-width="1.7"/>
<polyline points="292,1410 292,1428 530.8,1453.8 530.8,1470.6" fill="none" stroke="#231815" stroke-width="1.7"/>
<polyline points="585.4,1470.2 585.4,1453.5 598.8,1429.2 598.8,1411" fill="none" stroke="#231815" stroke-width="1.7"/>
<polyline points="598.8,1369.5 598.8,955.7 691.2,955.7 691.2,1427.4 999.3,1453.5 999.3,1470.2" fill="none" stroke="#231815" stroke-width="1.7"/>
<polyline points="1050.8,1470.2 1050.8,1453.5 1306.1,1428.4 1306.1,1410" fill="none" stroke="#231815" stroke-width="1.7"/>
<polyline points="1306.1,1377.6 1306.1,955.9 1385,955.9 1385,1428.4 1402.4,1453.8 1402.4,1470.4" fill="none" stroke="#231815" stroke-width="1.7"/>
<text font-size="28" fill="#231815" transform="translate(141.6 21.5) scale(1 1.06)" font-weight="bold" textLength="233" lengthAdjust="spacing">East Asia (SK2)</text>
<text font-size="28.5" fill="#231815" transform="translate(708.2 28.2) scale(1 1.11)" textLength="112" lengthAdjust="spacing">Time/ka</text>
<text font-size="28.5" fill="#231815" transform="translate(256.8 71.2) scale(1 1.11)" text-anchor="middle" textLength="88.5" lengthAdjust="spacing">83440</text>
<text font-size="28.5" fill="#231815" transform="translate(486.7 71.2) scale(1 1.11)" text-anchor="middle" textLength="88.5" lengthAdjust="spacing">83460</text>
<text font-size="28.5" fill="#231815" transform="translate(716.6 71.2) scale(1 1.11)" text-anchor="middle" textLength="88.5" lengthAdjust="spacing">83480</text>
<text font-size="28.5" fill="#231815" transform="translate(946.5 71.2) scale(1 1.11)" text-anchor="middle" textLength="88.5" lengthAdjust="spacing">83500</text>
<text font-size="28.5" fill="#231815" transform="translate(1176.4 71.2) scale(1 1.11)" text-anchor="middle" textLength="88.5" lengthAdjust="spacing">83520</text>
<text font-size="28.5" fill="#231815" transform="translate(1406.3 71.2) scale(1 1.11)" text-anchor="middle" textLength="88.5" lengthAdjust="spacing">83540</text>
<text font-size="28" fill="#231815" transform="translate(0.3 186.8) scale(1 1.1)" font-weight="bold">A</text>
<text font-size="28" fill="#231815" transform="translate(0.3 417.8) scale(1 1.1)" font-weight="bold">B</text>
<text font-size="28" fill="#231815" transform="translate(0.3 651.3) scale(1 1.1)" font-weight="bold">C</text>
<text font-size="28" fill="#231815" transform="translate(0.3 944) scale(1 1.1)" font-weight="bold">D</text>
<text font-size="28" fill="#231815" transform="translate(0.3 1176) scale(1 1.1)" font-weight="bold">E</text>
<text font-size="28" fill="#231815" transform="translate(0.3 1497.5) scale(1 1.1)" font-weight="bold">F</text>
<text font-size="28.5" fill="#231815" transform="translate(110.3 175.3) scale(1 1.11)" text-anchor="end" textLength="51.1" lengthAdjust="spacing">120</text>
<text font-size="28.5" fill="#231815" transform="translate(110.3 268.9) scale(1 1.11)" text-anchor="end" textLength="33.5" lengthAdjust="spacing">80</text>
<text font-size="28.5" fill="#231815" transform="translate(110.3 360.9) scale(1 1.11)" text-anchor="end" textLength="33.5" lengthAdjust="spacing">40</text>
<text font-size="28.5" fill="#231815" transform="translate(110.3 455.6) scale(1 1.11)" text-anchor="end" textLength="43.2" lengthAdjust="spacing">1.5</text>
<text font-size="28.5" fill="#231815" transform="translate(110.3 527) scale(1 1.11)" text-anchor="end" textLength="43.2" lengthAdjust="spacing">0.5</text>
<text font-size="28.5" fill="#231815" transform="translate(110.3 599.2) scale(1 1.11)" text-anchor="end" textLength="54.5" lengthAdjust="spacing">-0.5</text>
<text font-size="28.5" fill="#231815" transform="translate(110.3 696.1) scale(1 1.11)" text-anchor="end" textLength="43.2" lengthAdjust="spacing">0.4</text>
<text font-size="28.5" fill="#231815" transform="translate(110.3 783.8) scale(1 1.11)" text-anchor="end" textLength="43.2" lengthAdjust="spacing">0.8</text>
<text font-size="28.5" fill="#231815" transform="translate(110.3 871.9) scale(1 1.11)" text-anchor="end" textLength="43.2" lengthAdjust="spacing">1.2</text>
<text font-size="28.5" fill="#231815" transform="translate(110.3 938.9) scale(1 1.11)" text-anchor="end" textLength="27.1" lengthAdjust="spacing">-5</text>
<text font-size="28.5" fill="#231815" transform="translate(110.3 970.4) scale(1 1.11)" text-anchor="end" textLength="27.1" lengthAdjust="spacing">-4</text>
<text font-size="28.5" fill="#231815" transform="translate(110.3 1002) scale(1 1.11)" text-anchor="end" textLength="27.1" lengthAdjust="spacing">-3</text>
<text font-size="28.5" fill="#231815" transform="translate(110.3 1033.5) scale(1 1.11)" text-anchor="end" textLength="27.1" lengthAdjust="spacing">-2</text>
<text font-size="28.5" fill="#231815" transform="translate(110.3 1065.1) scale(1 1.11)" text-anchor="end" textLength="27.1" lengthAdjust="spacing">-1</text>
<text font-size="28.5" fill="#231815" transform="translate(110.3 1096.6) scale(1 1.11)" text-anchor="end" textLength="15.8" lengthAdjust="spacing">0</text>
<text font-size="28.5" fill="#231815" transform="translate(110.3 1128.1) scale(1 1.11)" text-anchor="end" textLength="15.8" lengthAdjust="spacing">1</text>
<text font-size="28.5" fill="#231815" transform="translate(110.3 1159.7) scale(1 1.11)" text-anchor="end" textLength="15.8" lengthAdjust="spacing">2</text>
<text font-size="28.5" fill="#231815" transform="translate(110.3 1189.6) scale(1 1.11)" text-anchor="end" textLength="43.2" lengthAdjust="spacing">0.4</text>
<text font-size="28.5" fill="#231815" transform="translate(110.3 1235.3) scale(1 1.11)" text-anchor="end" textLength="43.2" lengthAdjust="spacing">0.3</text>
<text font-size="28.5" fill="#231815" transform="translate(110.3 1281) scale(1 1.11)" text-anchor="end" textLength="43.2" lengthAdjust="spacing">0.2</text>
<text font-size="28.5" fill="#231815" transform="translate(110.3 1326.6) scale(1 1.11)" text-anchor="end" textLength="43.2" lengthAdjust="spacing">0.1</text>
<text font-size="28.5" fill="#231815" transform="translate(110.3 1372.3) scale(1 1.11)" text-anchor="end" textLength="15.8" lengthAdjust="spacing">0</text>
<text font-size="28.5" fill="#231815" transform="translate(110.3 1511.3) scale(1 1.11)" text-anchor="end" textLength="27.1" lengthAdjust="spacing">-5</text>
<text font-size="28.5" fill="#231815" transform="translate(110.3 1565.6) scale(1 1.11)" text-anchor="end" textLength="27.1" lengthAdjust="spacing">-4</text>
<text font-size="28.5" fill="#231815" transform="translate(110.3 1619.9) scale(1 1.11)" text-anchor="end" textLength="27.1" lengthAdjust="spacing">-3</text>
<text font-size="28.5" fill="#231815" transform="translate(110.3 1674.3) scale(1 1.11)" text-anchor="end" textLength="27.1" lengthAdjust="spacing">-2</text>
<text font-size="28.5" fill="#231815" transform="translate(110.3 1728.6) scale(1 1.11)" text-anchor="end" textLength="27.1" lengthAdjust="spacing">-1</text>
<text font-size="28.5" fill="#231815" transform="translate(110.3 1782.9) scale(1 1.11)" text-anchor="end" textLength="15.8" lengthAdjust="spacing">0</text>
<text font-size="28.5" fill="#231815" transform="translate(110.3 1837.2) scale(1 1.11)" text-anchor="end" textLength="15.8" lengthAdjust="spacing">1</text>
<text font-size="28.5" fill="#231815" transform="translate(110.3 1891.5) scale(1 1.11)" text-anchor="end" textLength="15.8" lengthAdjust="spacing">2</text>
<text font-size="28.5" fill="#231815" transform="translate(1422.3 204.4) scale(1 1.11)" textLength="33.5" lengthAdjust="spacing">20</text>
<text font-size="28.5" fill="#231815" transform="translate(1422.3 283.2) scale(1 1.11)" textLength="15.8" lengthAdjust="spacing">0</text>
<text font-size="28.5" fill="#231815" transform="translate(1422.3 361.4) scale(1 1.11)" textLength="44.8" lengthAdjust="spacing">-20</text>
<text font-size="28.5" fill="#231815" transform="translate(1422.3 470.4) scale(1 1.11)" textLength="43.2" lengthAdjust="spacing">0.8</text>
<text font-size="28.5" fill="#231815" transform="translate(1422.3 544.5) scale(1 1.11)" textLength="15.8" lengthAdjust="spacing">0</text>
<text font-size="28.5" fill="#231815" transform="translate(1422.3 618.7) scale(1 1.11)" textLength="54.5" lengthAdjust="spacing">-0.8</text>
<text font-size="28.5" fill="#231815" transform="translate(1422.3 683.5) scale(1 1.11)" textLength="54.5" lengthAdjust="spacing">-0.3</text>
<text font-size="28.5" fill="#231815" transform="translate(1422.3 777.7) scale(1 1.11)" textLength="15.8" lengthAdjust="spacing">0</text>
<text font-size="28.5" fill="#231815" transform="translate(1422.3 871.4) scale(1 1.11)" textLength="43.2" lengthAdjust="spacing">0.3</text>
<text font-size="28.5" fill="#231815" transform="translate(1422.3 1231.3) scale(1 1.11)" textLength="43.2" lengthAdjust="spacing">0.1</text>
<text font-size="28.5" fill="#231815" transform="translate(1422.3 1277.4) scale(1 1.11)" textLength="15.8" lengthAdjust="spacing">0</text>
<text font-size="28.5" fill="#231815" transform="translate(1422.3 1323.6) scale(1 1.11)" textLength="54.5" lengthAdjust="spacing">-0.1</text>
<text font-size="28.5" fill="#231815" transform="translate(1422.3 939.4) scale(1 1.11)" textLength="27.1" lengthAdjust="spacing">-5</text>
<text font-size="28.5" fill="#231815" transform="translate(1422.3 970.8) scale(1 1.11)" textLength="27.1" lengthAdjust="spacing">-4</text>
<text font-size="28.5" fill="#231815" transform="translate(1422.3 1002.2) scale(1 1.11)" textLength="27.1" lengthAdjust="spacing">-3</text>
<text font-size="28.5" fill="#231815" transform="translate(1422.3 1033.5) scale(1 1.11)" textLength="27.1" lengthAdjust="spacing">-2</text>
<text font-size="28.5" fill="#231815" transform="translate(1422.3 1064.9) scale(1 1.11)" textLength="27.1" lengthAdjust="spacing">-1</text>
<text font-size="28.5" fill="#231815" transform="translate(1422.3 1096.3) scale(1 1.11)" textLength="15.8" lengthAdjust="spacing">0</text>
<text font-size="28.5" fill="#231815" transform="translate(1422.3 1127.7) scale(1 1.11)" textLength="15.8" lengthAdjust="spacing">1</text>
<text font-size="28.5" fill="#231815" transform="translate(1422.3 1159.1) scale(1 1.11)" textLength="15.8" lengthAdjust="spacing">2</text>
<text font-size="28.5" fill="#231815" transform="translate(1422.3 1511.7) scale(1 1.11)" textLength="27.1" lengthAdjust="spacing">-5</text>
<text font-size="28.5" fill="#231815" transform="translate(1422.3 1566) scale(1 1.11)" textLength="27.1" lengthAdjust="spacing">-4</text>
<text font-size="28.5" fill="#231815" transform="translate(1422.3 1620.3) scale(1 1.11)" textLength="27.1" lengthAdjust="spacing">-3</text>
<text font-size="28.5" fill="#231815" transform="translate(1422.3 1674.5) scale(1 1.11)" textLength="27.1" lengthAdjust="spacing">-2</text>
<text font-size="28.5" fill="#231815" transform="translate(1422.3 1728.8) scale(1 1.11)" textLength="27.1" lengthAdjust="spacing">-1</text>
<text font-size="28.5" fill="#231815" transform="translate(1422.3 1783.1) scale(1 1.11)" textLength="15.8" lengthAdjust="spacing">0</text>
<text font-size="28.5" fill="#231815" transform="translate(1422.3 1837.4) scale(1 1.11)" textLength="15.8" lengthAdjust="spacing">1</text>
<text font-size="28.5" fill="#231815" transform="translate(1422.3 1891.7) scale(1 1.11)" textLength="15.8" lengthAdjust="spacing">2</text>
<text font-size="29" fill="#231815" transform="translate(55.7 258.2) rotate(-90) scale(1 1.11)" text-anchor="middle" textLength="143.5" lengthAdjust="spacing">Grayscale</text>
<text font-size="29" fill="#231815" transform="translate(46.4 517.2) rotate(-90) scale(1 1.11)" text-anchor="middle" textLength="158" lengthAdjust="spacing">Log (Ca/Ti)</text>
<text font-size="29" fill="#231815" transform="translate(49.5 746.9) rotate(-90) scale(1 1.11)" text-anchor="middle" textLength="81" lengthAdjust="spacing">Rb/Sr</text>
<text font-size="29" fill="#231815" transform="translate(26.2 1276) rotate(-90) scale(1 1.11)" text-anchor="middle" textLength="150" lengthAdjust="spacing">Frequency</text>
<text font-size="29" fill="#231815" transform="translate(59.3 1268.5) rotate(-90) scale(1 1.11)" text-anchor="middle" textLength="165" lengthAdjust="spacing">(cycles/kyr)</text>
<text font-size="29" fill="#231815" transform="translate(1489.6 272.9) rotate(-90) scale(1 1.11)" text-anchor="middle" textLength="74" lengthAdjust="spacing">Filter</text>
<text font-size="29" fill="#231815" transform="translate(1489.6 532.9) rotate(-90) scale(1 1.11)" text-anchor="middle" textLength="74" lengthAdjust="spacing">Filter</text>
<text font-size="29" fill="#231815" transform="translate(1489.6 766.6) rotate(-90) scale(1 1.11)" text-anchor="middle" textLength="74" lengthAdjust="spacing">Filter</text>
<text font-size="29" fill="#e5990c" transform="translate(1489.6 1040.5) rotate(-90) scale(1 1.11)" text-anchor="middle" textLength="74" lengthAdjust="spacing">Filter</text>
<text font-size="29" fill="#e5990c" transform="translate(1489.6 1259.3) rotate(-90) scale(1 1.11)" text-anchor="middle" textLength="74" lengthAdjust="spacing">Filter</text>
<text font-size="28.5" fill="#231815" transform="translate(33 1048.8) scale(1 1.11)" textLength="29" lengthAdjust="spacing">L*</text>
<text font-size="28.5" fill="#231815" transform="translate(34.1 1724.8) scale(1 1.11)" textLength="29" lengthAdjust="spacing">L*</text>
<text font-size="28.5" fill="#231815" transform="translate(1123.8 195.9) scale(1 1.11)" textLength="114" lengthAdjust="spacing">22.0 kyr</text>
<text font-size="28.5" fill="#231815" transform="translate(290.7 473.7) scale(1 1.11)" textLength="114.5" lengthAdjust="spacing">95.2 kyr</text>
<text font-size="28.5" fill="#231815" transform="translate(590 417.9) scale(1 1.11)" textLength="97" lengthAdjust="spacing">4.4 kyr</text>
<text font-size="28.5" fill="#231815" transform="translate(759.8 412.6) scale(1 1.11)" textLength="96" lengthAdjust="spacing">5.7 kyr</text>
<text font-size="28.5" fill="#231815" transform="translate(1166.8 436.7) scale(1 1.11)" textLength="96" lengthAdjust="spacing">3.6 kyr</text>
<text font-size="28.5" fill="#231815" transform="translate(279.5 702.7) scale(1 1.11)" textLength="114.5" lengthAdjust="spacing">95.2 kyr</text>
<text font-size="28" fill="#231815" transform="translate(141.2 916.9) scale(1 1.06)" font-weight="bold" textLength="477" lengthAdjust="spacing">Southern Atlantic (DSDP&#8211;516F)</text>
<text font-size="28.5" fill="#ffffff" transform="translate(301.2 1258) scale(1 1.11)" textLength="97" lengthAdjust="spacing">4.7 kyr</text>
<text font-size="28.5" fill="#ffffff" transform="translate(297.1 1313.2) scale(1 1.11)" textLength="85" lengthAdjust="spacing">10 kyr</text>
<text font-size="28.5" fill="#ffffff" transform="translate(401.9 1358.2) scale(1 1.11)" textLength="85" lengthAdjust="spacing">20 kyr</text>
<text font-size="28.5" fill="#f0be46" transform="translate(728 1231.5) scale(1 1.11)" textLength="104.5" lengthAdjust="spacing">405 kyr</text>
<text font-size="28.5" fill="#231815" transform="translate(287.4 1404.6) scale(1 1.11)" text-anchor="middle" textLength="87.5" lengthAdjust="spacing">80800</text>
<text font-size="28.5" fill="#231815" transform="translate(454.1 1404.6) scale(1 1.11)" text-anchor="middle" textLength="87.5" lengthAdjust="spacing">80900</text>
<text font-size="28.5" fill="#231815" transform="translate(620.8 1404.6) scale(1 1.11)" text-anchor="middle" textLength="87.5" lengthAdjust="spacing">81000</text>
<text font-size="28.5" fill="#231815" transform="translate(787.5 1404.6) scale(1 1.11)" text-anchor="middle" textLength="87.5" lengthAdjust="spacing">81100</text>
<text font-size="28.5" fill="#231815" transform="translate(954.2 1404.6) scale(1 1.11)" text-anchor="middle" textLength="87.5" lengthAdjust="spacing">81200</text>
<text font-size="28.5" fill="#231815" transform="translate(1120.9 1404.6) scale(1 1.11)" text-anchor="middle" textLength="87.5" lengthAdjust="spacing">81300</text>
<text font-size="28.5" fill="#231815" transform="translate(1287.6 1404.6) scale(1 1.11)" text-anchor="middle" textLength="87.5" lengthAdjust="spacing">81400</text>
<line x1="284" y1="1529" x2="324.7" y2="1529" stroke="#139d7c" stroke-width="3.3"/>
<line x1="284" y1="1557.2" x2="324.7" y2="1557.2" stroke="#1a1311" stroke-width="3.3"/>
<line x1="284" y1="1584.5" x2="324.7" y2="1584.5" stroke="#e3a012" stroke-width="3.3"/>
<text font-size="28.5" fill="#231815" transform="translate(332.8 1535.8) scale(1 1.11)" textLength="168" lengthAdjust="spacing">4.7 kyr filter</text>
<text font-size="28.5" fill="#231815" transform="translate(335 1564.7) scale(1 1.11)" textLength="155.5" lengthAdjust="spacing">10 kyr filter</text>
<text font-size="28.5" fill="#231815" transform="translate(335 1593.4) scale(1 1.11)" textLength="183.5" lengthAdjust="spacing">18.5 kyr filter</text>
<text font-size="28.5" fill="#231815" transform="translate(312.8 1831.9) scale(1 1.11)" textLength="62" lengthAdjust="spacing">5kyr</text>
<text font-size="28.5" fill="#231815" transform="translate(311.8 1860.7) scale(1 1.11)" textLength="78" lengthAdjust="spacing">10kyr</text>
<text font-size="28.5" fill="#231815" transform="translate(311.8 1885.5) scale(1 1.11)" textLength="78.5" lengthAdjust="spacing">20kyr</text>
<text font-size="28.5" fill="#231815" transform="translate(214.9 1942.3) scale(1 1.11)" text-anchor="middle" textLength="87.5" lengthAdjust="spacing">80760</text>
<text font-size="28.5" fill="#231815" transform="translate(363.4 1942.3) scale(1 1.11)" text-anchor="middle" textLength="87.5" lengthAdjust="spacing">80780</text>
<text font-size="28.5" fill="#231815" transform="translate(511.9 1942.3) scale(1 1.11)" text-anchor="middle" textLength="87.5" lengthAdjust="spacing">80800</text>
<text font-size="28.5" fill="#231815" transform="translate(682.4 1942.3) scale(1 1.11)" text-anchor="middle" textLength="87.5" lengthAdjust="spacing">81000</text>
<text font-size="28.5" fill="#231815" transform="translate(830.9 1942.3) scale(1 1.11)" text-anchor="middle" textLength="87.5" lengthAdjust="spacing">81020</text>
<text font-size="28.5" fill="#231815" transform="translate(979.4 1942.3) scale(1 1.11)" text-anchor="middle" textLength="87.5" lengthAdjust="spacing">81040</text>
<text font-size="28.5" fill="#231815" transform="translate(1113.5 1942.3) scale(1 1.11)" text-anchor="middle" textLength="87.5" lengthAdjust="spacing">81420</text>
<text font-size="28.5" fill="#231815" transform="translate(1261.7 1942.3) scale(1 1.11)" text-anchor="middle" textLength="87.5" lengthAdjust="spacing">81440</text>
<text font-size="28.5" fill="#231815" transform="translate(710.6 1974.2) scale(1 1.11)" textLength="112.5" lengthAdjust="spacing">Time/ka</text>
</svg>
</body></html>
